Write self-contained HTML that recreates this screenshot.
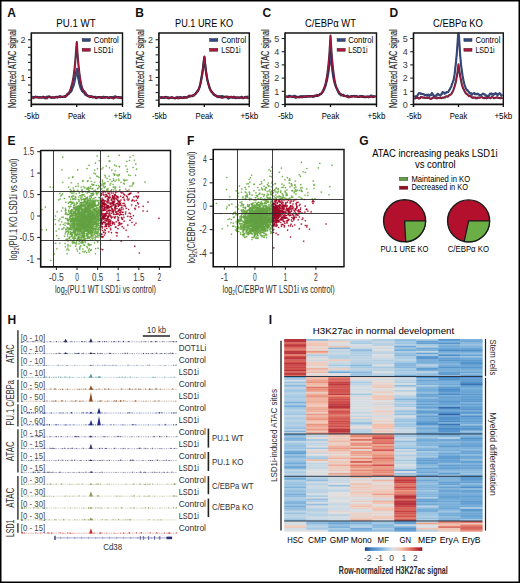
<!DOCTYPE html>
<html><head><meta charset="utf-8"><style>
html,body{margin:0;padding:0;background:#fff;}
svg{display:block;font-family:"Liberation Sans", sans-serif;}
text.h{stroke:#2b2b2b;stroke-width:0.18px;}
</style></head><body>
<svg width="520" height="583" viewBox="0 0 520 583" font-family='"Liberation Sans", sans-serif'>
<rect width="520" height="583" fill="#fff"/>
<text x="7.30" y="16.52" font-size="12" fill="#111" font-weight="bold">A</text>
<text x="76.00" y="27.40" font-size="10" text-anchor="middle" textLength="39.40" lengthAdjust="spacingAndGlyphs">PU.1 WT</text>
<polyline points="32.3,96.85 32.8,96.78 33.3,97.08 33.8,96.95 34.3,97.04 34.8,97.24 35.3,96.80 35.8,96.93 36.3,96.96 36.8,96.83 37.3,96.84 37.8,97.10 38.3,97.21 38.8,97.33 39.3,97.31 39.8,97.13 40.3,97.16 40.8,97.23 41.3,97.43 41.8,97.44 42.3,97.44 42.8,96.95 43.3,96.65 43.8,97.29 44.3,97.67 44.8,98.01 45.3,98.35 45.8,97.66 46.3,97.16 46.8,96.62 47.3,96.78 47.8,96.92 48.3,96.49 48.8,96.83 49.3,96.41 49.8,96.44 50.3,97.31 50.8,97.42 51.3,97.55 51.8,97.71 52.3,97.48 52.8,97.53 53.3,97.78 53.8,97.50 54.3,97.31 54.8,97.28 55.3,97.17 55.8,96.99 56.3,96.79 56.8,96.71 57.3,96.77 57.8,96.71 58.3,97.02 58.8,96.86 59.3,96.89 59.8,96.82 60.3,96.66 60.8,97.12 61.3,96.89 61.8,97.03 62.3,96.90 62.8,96.75 63.3,96.85 63.8,96.71 64.3,96.77 64.8,96.35 65.3,95.75 65.8,96.01 66.3,95.63 66.8,95.16 67.3,95.13 67.8,94.62 68.3,94.14 68.8,93.96 69.3,93.20 69.8,92.54 70.3,92.44 70.8,91.80 71.3,91.29 71.8,90.07 72.3,88.58 72.8,87.68 73.3,86.41 73.8,84.72 74.3,82.70 74.8,80.27 75.3,77.47 75.8,74.67 76.3,71.39 76.8,68.80 77.3,72.36 77.8,75.64 78.3,78.55 78.8,80.89 79.3,83.56 79.8,85.38 80.3,86.88 80.8,88.84 81.3,89.42 81.8,90.58 82.3,91.28 82.8,91.76 83.3,92.36 83.8,92.52 84.3,93.15 84.8,93.78 85.3,94.68 85.8,94.90 86.3,95.31 86.8,95.53 87.3,95.36 87.8,96.02 88.3,95.96 88.8,95.94 89.3,96.10 89.8,96.33 90.3,96.52 90.8,96.86 91.3,96.78 91.8,96.31 92.3,96.84 92.8,97.23 93.3,97.28 93.8,97.08 94.3,96.99 94.8,96.73 95.3,96.76 95.8,97.58 96.3,97.48 96.8,97.28 97.3,97.31 97.8,97.22 98.3,97.05 98.8,97.01 99.3,97.35 99.8,97.33 100.3,97.63 100.8,97.59 101.3,97.66 101.8,97.85 102.3,97.28 102.8,97.30 103.3,97.05 103.8,96.68 104.3,97.12 104.8,97.16 105.3,97.05 105.8,97.11 106.3,97.28 106.8,97.03 107.3,97.27 107.8,97.59 108.3,97.53 108.8,97.82 109.3,97.30 109.8,97.33 110.3,97.08 110.8,97.49 111.3,97.87 111.8,97.38 112.3,97.48 112.8,97.12 113.3,97.07 113.8,97.11 114.3,96.90 114.8,96.29 115.3,96.29 115.8,96.60 116.3,96.78 116.8,97.27 117.3,97.29 117.8,97.16 118.3,97.09 118.8,97.46 119.3,97.29 119.8,97.42 120.3,97.74 120.8,97.20 121.3,97.08 121.8,96.95" fill="none" stroke="#24305a" stroke-width="2.1" stroke-linejoin="round" opacity="0.9"/>
<polyline points="32.3,96.85 32.8,96.78 33.3,97.08 33.8,96.95 34.3,97.04 34.8,97.24 35.3,96.80 35.8,96.93 36.3,96.96 36.8,96.83 37.3,96.84 37.8,97.10 38.3,97.21 38.8,97.33 39.3,97.31 39.8,97.13 40.3,97.16 40.8,97.23 41.3,97.43 41.8,97.44 42.3,97.44 42.8,96.95 43.3,96.65 43.8,97.29 44.3,97.67 44.8,98.01 45.3,98.35 45.8,97.66 46.3,97.16 46.8,96.62 47.3,96.78 47.8,96.92 48.3,96.49 48.8,96.83 49.3,96.41 49.8,96.44 50.3,97.31 50.8,97.42 51.3,97.55 51.8,97.71 52.3,97.48 52.8,97.53 53.3,97.78 53.8,97.50 54.3,97.31 54.8,97.28 55.3,97.17 55.8,96.99 56.3,96.79 56.8,96.71 57.3,96.77 57.8,96.71 58.3,97.02 58.8,96.86 59.3,96.89 59.8,96.82 60.3,96.66 60.8,97.12 61.3,96.89 61.8,97.03 62.3,96.90 62.8,96.75 63.3,96.85 63.8,96.71 64.3,96.77 64.8,96.35 65.3,95.75 65.8,96.01 66.3,95.63 66.8,95.16 67.3,95.13 67.8,94.62 68.3,94.14 68.8,93.96 69.3,93.20 69.8,92.54 70.3,92.44 70.8,91.80 71.3,91.29 71.8,90.07 72.3,88.58 72.8,87.68 73.3,86.41 73.8,84.72 74.3,82.70 74.8,80.27 75.3,77.47 75.8,74.67 76.3,71.39 76.8,68.80 77.3,72.36 77.8,75.64 78.3,78.55 78.8,80.89 79.3,83.56 79.8,85.38 80.3,86.88 80.8,88.84 81.3,89.42 81.8,90.58 82.3,91.28 82.8,91.76 83.3,92.36 83.8,92.52 84.3,93.15 84.8,93.78 85.3,94.68 85.8,94.90 86.3,95.31 86.8,95.53 87.3,95.36 87.8,96.02 88.3,95.96 88.8,95.94 89.3,96.10 89.8,96.33 90.3,96.52 90.8,96.86 91.3,96.78 91.8,96.31 92.3,96.84 92.8,97.23 93.3,97.28 93.8,97.08 94.3,96.99 94.8,96.73 95.3,96.76 95.8,97.58 96.3,97.48 96.8,97.28 97.3,97.31 97.8,97.22 98.3,97.05 98.8,97.01 99.3,97.35 99.8,97.33 100.3,97.63 100.8,97.59 101.3,97.66 101.8,97.85 102.3,97.28 102.8,97.30 103.3,97.05 103.8,96.68 104.3,97.12 104.8,97.16 105.3,97.05 105.8,97.11 106.3,97.28 106.8,97.03 107.3,97.27 107.8,97.59 108.3,97.53 108.8,97.82 109.3,97.30 109.8,97.33 110.3,97.08 110.8,97.49 111.3,97.87 111.8,97.38 112.3,97.48 112.8,97.12 113.3,97.07 113.8,97.11 114.3,96.90 114.8,96.29 115.3,96.29 115.8,96.60 116.3,96.78 116.8,97.27 117.3,97.29 117.8,97.16 118.3,97.09 118.8,97.46 119.3,97.29 119.8,97.42 120.3,97.74 120.8,97.20 121.3,97.08 121.8,96.95" fill="none" stroke="#34497e" stroke-width="1.1" stroke-linejoin="round"/>
<polyline points="32.3,97.59 32.8,97.68 33.3,98.26 33.8,97.88 34.3,97.49 34.8,97.47 35.3,96.71 35.8,97.07 36.3,97.47 36.8,97.16 37.3,97.41 37.8,97.56 38.3,97.61 38.8,97.74 39.3,97.69 39.8,97.48 40.3,97.44 40.8,97.51 41.3,97.70 41.8,97.63 42.3,97.44 42.8,97.40 43.3,97.09 43.8,97.52 44.3,97.38 44.8,96.98 45.3,97.46 45.8,97.63 46.3,98.17 46.8,98.45 47.3,98.04 47.8,97.37 48.3,96.85 48.8,96.99 49.3,96.96 49.8,97.25 50.3,97.21 50.8,97.52 51.3,97.69 51.8,97.59 52.3,97.36 52.8,97.27 53.3,97.42 53.8,97.61 54.3,97.80 54.8,97.66 55.3,97.08 55.8,97.38 56.3,97.33 56.8,97.01 57.3,97.64 57.8,97.14 58.3,97.09 58.8,97.29 59.3,96.68 59.8,96.12 60.3,96.29 60.8,96.32 61.3,96.67 61.8,97.00 62.3,97.02 62.8,96.89 63.3,96.61 63.8,96.46 64.3,96.50 64.8,96.62 65.3,96.93 65.8,96.53 66.3,95.95 66.8,94.86 67.3,93.85 67.8,93.80 68.3,93.11 68.8,92.79 69.3,92.28 69.8,91.36 70.3,89.95 70.8,88.55 71.3,86.64 71.8,84.73 72.3,83.24 72.8,80.69 73.3,77.98 73.8,74.79 74.3,70.78 74.8,66.69 75.3,61.33 75.8,54.70 76.3,47.64 76.8,42.17 77.3,50.32 77.8,57.34 78.3,63.14 78.8,68.50 79.3,72.58 79.8,76.36 80.3,79.43 80.8,82.20 81.3,84.68 81.8,86.89 82.3,88.45 82.8,89.62 83.3,90.43 83.8,90.95 84.3,91.20 84.8,91.98 85.3,92.95 85.8,93.22 86.3,94.53 86.8,94.78 87.3,95.25 87.8,95.90 88.3,96.38 88.8,96.61 89.3,96.61 89.8,97.08 90.3,96.36 90.8,96.51 91.3,96.56 91.8,96.59 92.3,97.07 92.8,97.35 93.3,97.24 93.8,96.93 94.3,97.11 94.8,97.24 95.3,97.56 95.8,98.09 96.3,98.10 96.8,98.01 97.3,97.73 97.8,97.12 98.3,97.18 98.8,97.04 99.3,97.31 99.8,97.14 100.3,96.97 100.8,96.99 101.3,97.11 101.8,97.79 102.3,97.73 102.8,97.95 103.3,97.64 103.8,97.82 104.3,97.72 104.8,97.84 105.3,97.52 105.8,97.22 106.3,97.12 106.8,97.23 107.3,97.54 107.8,97.68 108.3,98.06 108.8,97.72 109.3,97.90 109.8,97.63 110.3,97.34 110.8,97.19 111.3,97.13 111.8,97.52 112.3,97.88 112.8,98.09 113.3,98.57 113.8,98.07 114.3,97.93 114.8,97.95 115.3,97.22 115.8,97.24 116.3,97.13 116.8,97.31 117.3,97.46 117.8,97.54 118.3,97.80 118.8,97.32 119.3,97.27 119.8,97.81 120.3,97.58 120.8,98.12 121.3,97.97 121.8,97.51" fill="none" stroke="#3a1830" stroke-width="2.1" stroke-linejoin="round" opacity="0.9"/>
<polyline points="32.3,97.59 32.8,97.68 33.3,98.26 33.8,97.88 34.3,97.49 34.8,97.47 35.3,96.71 35.8,97.07 36.3,97.47 36.8,97.16 37.3,97.41 37.8,97.56 38.3,97.61 38.8,97.74 39.3,97.69 39.8,97.48 40.3,97.44 40.8,97.51 41.3,97.70 41.8,97.63 42.3,97.44 42.8,97.40 43.3,97.09 43.8,97.52 44.3,97.38 44.8,96.98 45.3,97.46 45.8,97.63 46.3,98.17 46.8,98.45 47.3,98.04 47.8,97.37 48.3,96.85 48.8,96.99 49.3,96.96 49.8,97.25 50.3,97.21 50.8,97.52 51.3,97.69 51.8,97.59 52.3,97.36 52.8,97.27 53.3,97.42 53.8,97.61 54.3,97.80 54.8,97.66 55.3,97.08 55.8,97.38 56.3,97.33 56.8,97.01 57.3,97.64 57.8,97.14 58.3,97.09 58.8,97.29 59.3,96.68 59.8,96.12 60.3,96.29 60.8,96.32 61.3,96.67 61.8,97.00 62.3,97.02 62.8,96.89 63.3,96.61 63.8,96.46 64.3,96.50 64.8,96.62 65.3,96.93 65.8,96.53 66.3,95.95 66.8,94.86 67.3,93.85 67.8,93.80 68.3,93.11 68.8,92.79 69.3,92.28 69.8,91.36 70.3,89.95 70.8,88.55 71.3,86.64 71.8,84.73 72.3,83.24 72.8,80.69 73.3,77.98 73.8,74.79 74.3,70.78 74.8,66.69 75.3,61.33 75.8,54.70 76.3,47.64 76.8,42.17 77.3,50.32 77.8,57.34 78.3,63.14 78.8,68.50 79.3,72.58 79.8,76.36 80.3,79.43 80.8,82.20 81.3,84.68 81.8,86.89 82.3,88.45 82.8,89.62 83.3,90.43 83.8,90.95 84.3,91.20 84.8,91.98 85.3,92.95 85.8,93.22 86.3,94.53 86.8,94.78 87.3,95.25 87.8,95.90 88.3,96.38 88.8,96.61 89.3,96.61 89.8,97.08 90.3,96.36 90.8,96.51 91.3,96.56 91.8,96.59 92.3,97.07 92.8,97.35 93.3,97.24 93.8,96.93 94.3,97.11 94.8,97.24 95.3,97.56 95.8,98.09 96.3,98.10 96.8,98.01 97.3,97.73 97.8,97.12 98.3,97.18 98.8,97.04 99.3,97.31 99.8,97.14 100.3,96.97 100.8,96.99 101.3,97.11 101.8,97.79 102.3,97.73 102.8,97.95 103.3,97.64 103.8,97.82 104.3,97.72 104.8,97.84 105.3,97.52 105.8,97.22 106.3,97.12 106.8,97.23 107.3,97.54 107.8,97.68 108.3,98.06 108.8,97.72 109.3,97.90 109.8,97.63 110.3,97.34 110.8,97.19 111.3,97.13 111.8,97.52 112.3,97.88 112.8,98.09 113.3,98.57 113.8,98.07 114.3,97.93 114.8,97.95 115.3,97.22 115.8,97.24 116.3,97.13 116.8,97.31 117.3,97.46 117.8,97.54 118.3,97.80 118.8,97.32 119.3,97.27 119.8,97.81 120.3,97.58 120.8,98.12 121.3,97.97 121.8,97.51" fill="none" stroke="#a8163c" stroke-width="1.1" stroke-linejoin="round"/>
<path d="M31.30 33.00 H122.50 V104.40" fill="none" stroke="#151515" stroke-width="1.45"/>
<path d="M31.30 32.50 V107.00 M30.70 104.40 H123.10" fill="none" stroke="#111" stroke-width="1.6"/>
<line x1="76.70" y1="104.40" x2="76.70" y2="107.00" stroke="#111" stroke-width="1.3"/>
<line x1="122.50" y1="104.40" x2="122.50" y2="107.00" stroke="#111" stroke-width="1.3"/>
<line x1="28.00" y1="100.15" x2="31.30" y2="100.15" stroke="#222" stroke-width="1.1"/>
<line x1="28.00" y1="92.60" x2="31.30" y2="92.60" stroke="#222" stroke-width="1.1"/>
<line x1="28.00" y1="85.05" x2="31.30" y2="85.05" stroke="#222" stroke-width="1.1"/>
<line x1="28.00" y1="77.50" x2="31.30" y2="77.50" stroke="#222" stroke-width="1.1"/>
<line x1="28.00" y1="69.95" x2="31.30" y2="69.95" stroke="#222" stroke-width="1.1"/>
<line x1="28.00" y1="62.40" x2="31.30" y2="62.40" stroke="#222" stroke-width="1.1"/>
<line x1="28.00" y1="54.85" x2="31.30" y2="54.85" stroke="#222" stroke-width="1.1"/>
<line x1="28.00" y1="47.30" x2="31.30" y2="47.30" stroke="#222" stroke-width="1.1"/>
<line x1="28.00" y1="39.75" x2="31.30" y2="39.75" stroke="#222" stroke-width="1.1"/>
<text x="23.00" y="42.99" font-size="9" text-anchor="middle" fill="#3a3a3a" style="stroke:none">2</text>
<text x="23.00" y="80.74" font-size="9" text-anchor="middle" fill="#3a3a3a" style="stroke:none">1</text>
<text x="31.80" y="118.51" font-size="9.2" text-anchor="middle" textLength="15.00" lengthAdjust="spacingAndGlyphs">-5kb</text>
<text x="76.70" y="118.51" font-size="9.2" text-anchor="middle" textLength="17.50" lengthAdjust="spacingAndGlyphs">Peak</text>
<text x="122.50" y="118.51" font-size="9.2" text-anchor="middle" textLength="17.80" lengthAdjust="spacingAndGlyphs">+5kb</text>
<rect x="82.20" y="38.6" width="8.1" height="2.8" fill="#34497e" stroke="#1a2040" stroke-width="0.5"/>
<rect x="82.20" y="48.4" width="8.1" height="2.8" fill="#b0173a" stroke="#3a1020" stroke-width="0.5"/>
<text x="93.80" y="43.06" font-size="8.5" textLength="25.00" lengthAdjust="spacingAndGlyphs">Control</text>
<text x="93.80" y="52.86" font-size="8.5" textLength="19.30" lengthAdjust="spacingAndGlyphs">LSD1i</text>
<text class="h" x="0" y="3.78" font-size="10.5" text-anchor="middle" fill="#2b2b2b" textLength="78.60" lengthAdjust="spacingAndGlyphs" transform="translate(12.50 68.70) rotate(-90)">Normalized ATAC signal</text>
<text x="135.20" y="16.52" font-size="12" fill="#111" font-weight="bold">B</text>
<text x="204.10" y="27.40" font-size="10" text-anchor="middle" textLength="58.20" lengthAdjust="spacingAndGlyphs">PU.1 URE KO</text>
<polyline points="159.9,97.70 160.4,97.31 160.9,97.15 161.4,97.39 161.9,97.35 162.4,97.89 162.9,98.01 163.4,98.00 163.9,97.94 164.4,97.74 164.9,97.40 165.4,96.95 165.9,96.88 166.4,97.29 166.9,97.13 167.4,97.66 167.9,97.52 168.4,97.24 168.9,97.98 169.4,97.69 169.9,98.10 170.4,97.94 170.9,97.75 171.4,97.25 171.9,97.52 172.4,97.61 172.9,97.79 173.4,97.96 173.9,98.03 174.4,98.11 174.9,97.84 175.4,98.38 175.9,97.64 176.4,97.52 176.9,97.32 177.4,96.74 177.9,97.21 178.4,97.43 178.9,97.71 179.4,97.76 179.9,97.32 180.4,97.29 180.9,97.38 181.4,97.73 181.9,98.06 182.4,97.94 182.9,97.81 183.4,97.12 183.9,97.08 184.4,97.07 184.9,96.91 185.4,97.59 185.9,97.52 186.4,97.42 186.9,97.30 187.4,97.33 187.9,96.86 188.4,96.88 188.9,96.95 189.4,96.35 189.9,96.42 190.4,95.97 190.9,95.84 191.4,95.89 191.9,95.80 192.4,96.08 192.9,95.60 193.4,95.52 193.9,95.58 194.4,94.51 194.9,94.43 195.4,94.06 195.9,92.80 196.4,92.75 196.9,91.76 197.4,90.87 197.9,90.44 198.4,89.70 198.9,89.18 199.4,87.81 199.9,86.15 200.4,83.71 200.9,80.55 201.4,78.12 201.9,75.04 202.4,72.14 202.9,69.03 203.4,64.87 203.9,60.55 204.4,57.30 204.9,62.88 205.4,67.17 205.9,71.03 206.4,74.07 206.9,76.81 207.4,79.43 207.9,81.32 208.4,83.50 208.9,85.31 209.4,86.89 209.9,88.52 210.4,89.55 210.9,90.36 211.4,91.13 211.9,91.67 212.4,92.72 212.9,93.36 213.4,94.28 213.9,94.59 214.4,94.82 214.9,95.23 215.4,95.05 215.9,95.62 216.4,95.92 216.9,95.87 217.4,96.15 217.9,96.51 218.4,96.47 218.9,97.26 219.4,96.99 219.9,96.90 220.4,97.07 220.9,96.19 221.4,96.13 221.9,96.11 222.4,96.02 222.9,96.33 223.4,96.47 223.9,96.55 224.4,96.69 224.9,96.68 225.4,97.03 225.9,96.84 226.4,96.74 226.9,97.31 227.4,97.59 227.9,98.40 228.4,98.61 228.9,98.03 229.4,98.10 229.9,97.19 230.4,96.90 230.9,97.23 231.4,96.97 231.9,97.25 232.4,97.69 232.9,97.74 233.4,97.76 233.9,97.63 234.4,97.24 234.9,97.35 235.4,97.15 235.9,97.48 236.4,97.71 236.9,97.44 237.4,97.64 237.9,97.49 238.4,97.39 238.9,97.61 239.4,97.76 239.9,97.77 240.4,97.61 240.9,97.51 241.4,96.90 241.9,96.80 242.4,97.73 242.9,97.81 243.4,97.87 243.9,97.92 244.4,97.32 244.9,97.42 245.4,97.50 245.9,97.27 246.4,97.01 246.9,96.70 247.4,96.67 247.9,96.71 248.4,96.87" fill="none" stroke="#24305a" stroke-width="2.1" stroke-linejoin="round" opacity="0.9"/>
<polyline points="159.9,97.70 160.4,97.31 160.9,97.15 161.4,97.39 161.9,97.35 162.4,97.89 162.9,98.01 163.4,98.00 163.9,97.94 164.4,97.74 164.9,97.40 165.4,96.95 165.9,96.88 166.4,97.29 166.9,97.13 167.4,97.66 167.9,97.52 168.4,97.24 168.9,97.98 169.4,97.69 169.9,98.10 170.4,97.94 170.9,97.75 171.4,97.25 171.9,97.52 172.4,97.61 172.9,97.79 173.4,97.96 173.9,98.03 174.4,98.11 174.9,97.84 175.4,98.38 175.9,97.64 176.4,97.52 176.9,97.32 177.4,96.74 177.9,97.21 178.4,97.43 178.9,97.71 179.4,97.76 179.9,97.32 180.4,97.29 180.9,97.38 181.4,97.73 181.9,98.06 182.4,97.94 182.9,97.81 183.4,97.12 183.9,97.08 184.4,97.07 184.9,96.91 185.4,97.59 185.9,97.52 186.4,97.42 186.9,97.30 187.4,97.33 187.9,96.86 188.4,96.88 188.9,96.95 189.4,96.35 189.9,96.42 190.4,95.97 190.9,95.84 191.4,95.89 191.9,95.80 192.4,96.08 192.9,95.60 193.4,95.52 193.9,95.58 194.4,94.51 194.9,94.43 195.4,94.06 195.9,92.80 196.4,92.75 196.9,91.76 197.4,90.87 197.9,90.44 198.4,89.70 198.9,89.18 199.4,87.81 199.9,86.15 200.4,83.71 200.9,80.55 201.4,78.12 201.9,75.04 202.4,72.14 202.9,69.03 203.4,64.87 203.9,60.55 204.4,57.30 204.9,62.88 205.4,67.17 205.9,71.03 206.4,74.07 206.9,76.81 207.4,79.43 207.9,81.32 208.4,83.50 208.9,85.31 209.4,86.89 209.9,88.52 210.4,89.55 210.9,90.36 211.4,91.13 211.9,91.67 212.4,92.72 212.9,93.36 213.4,94.28 213.9,94.59 214.4,94.82 214.9,95.23 215.4,95.05 215.9,95.62 216.4,95.92 216.9,95.87 217.4,96.15 217.9,96.51 218.4,96.47 218.9,97.26 219.4,96.99 219.9,96.90 220.4,97.07 220.9,96.19 221.4,96.13 221.9,96.11 222.4,96.02 222.9,96.33 223.4,96.47 223.9,96.55 224.4,96.69 224.9,96.68 225.4,97.03 225.9,96.84 226.4,96.74 226.9,97.31 227.4,97.59 227.9,98.40 228.4,98.61 228.9,98.03 229.4,98.10 229.9,97.19 230.4,96.90 230.9,97.23 231.4,96.97 231.9,97.25 232.4,97.69 232.9,97.74 233.4,97.76 233.9,97.63 234.4,97.24 234.9,97.35 235.4,97.15 235.9,97.48 236.4,97.71 236.9,97.44 237.4,97.64 237.9,97.49 238.4,97.39 238.9,97.61 239.4,97.76 239.9,97.77 240.4,97.61 240.9,97.51 241.4,96.90 241.9,96.80 242.4,97.73 242.9,97.81 243.4,97.87 243.9,97.92 244.4,97.32 244.9,97.42 245.4,97.50 245.9,97.27 246.4,97.01 246.9,96.70 247.4,96.67 247.9,96.71 248.4,96.87" fill="none" stroke="#34497e" stroke-width="1.1" stroke-linejoin="round"/>
<polyline points="159.9,98.01 160.4,98.07 160.9,97.97 161.4,97.51 161.9,97.17 162.4,97.24 162.9,97.53 163.4,97.62 163.9,97.26 164.4,97.07 164.9,97.17 165.4,97.57 165.9,97.58 166.4,97.60 166.9,97.72 167.4,97.51 167.9,98.16 168.4,98.36 168.9,98.06 169.4,98.21 169.9,97.81 170.4,97.67 170.9,97.70 171.4,97.43 171.9,97.36 172.4,97.74 172.9,97.66 173.4,97.98 173.9,98.22 174.4,98.13 174.9,98.07 175.4,97.84 175.9,97.87 176.4,97.81 176.9,97.91 177.4,98.15 177.9,98.40 178.4,98.09 178.9,98.26 179.4,97.72 179.9,97.22 180.4,97.74 180.9,97.41 181.4,97.93 181.9,98.08 182.4,97.59 182.9,98.11 183.4,97.89 183.9,97.94 184.4,97.70 184.9,97.48 185.4,97.22 185.9,97.39 186.4,97.66 186.9,97.53 187.4,97.31 187.9,96.86 188.4,96.15 188.9,95.72 189.4,95.77 189.9,95.61 190.4,96.21 190.9,96.25 191.4,95.98 191.9,96.09 192.4,95.70 192.9,95.46 193.4,95.37 193.9,95.06 194.4,94.79 194.9,94.32 195.4,93.98 195.9,93.57 196.4,92.71 196.9,92.37 197.4,91.87 197.9,91.04 198.4,89.96 198.9,88.52 199.4,87.06 199.9,85.41 200.4,83.68 200.9,81.71 201.4,79.33 201.9,76.11 202.4,73.25 202.9,69.36 203.4,64.79 203.9,60.14 204.4,56.58 204.9,61.52 205.4,66.28 205.9,70.51 206.4,74.45 206.9,77.87 207.4,80.50 207.9,82.46 208.4,84.15 208.9,85.97 209.4,87.58 209.9,89.10 210.4,90.11 210.9,91.09 211.4,91.78 211.9,91.97 212.4,92.56 212.9,93.42 213.4,93.53 213.9,94.34 214.4,95.05 214.9,94.80 215.4,95.49 215.9,95.97 216.4,96.12 216.9,96.76 217.4,96.91 217.9,96.66 218.4,96.71 218.9,96.49 219.4,96.15 219.9,96.77 220.4,96.71 220.9,96.94 221.4,97.69 221.9,97.69 222.4,97.80 222.9,97.66 223.4,97.57 223.9,97.34 224.4,97.19 224.9,97.24 225.4,96.93 225.9,96.85 226.4,96.92 226.9,96.57 227.4,96.64 227.9,96.72 228.4,96.68 228.9,97.33 229.4,97.57 229.9,97.41 230.4,97.44 230.9,96.86 231.4,96.78 231.9,97.32 232.4,97.01 232.9,97.12 233.4,97.37 233.9,96.70 234.4,97.16 234.9,97.84 235.4,97.69 235.9,98.14 236.4,97.77 236.9,97.53 237.4,97.49 237.9,97.44 238.4,97.91 238.9,97.93 239.4,97.82 239.9,97.50 240.4,97.27 240.9,97.27 241.4,97.59 241.9,97.82 242.4,98.14 242.9,98.07 243.4,98.19 243.9,97.76 244.4,97.38 244.9,97.46 245.4,96.85 245.9,96.99 246.4,97.77 246.9,97.67 247.4,97.98 247.9,98.14 248.4,97.58" fill="none" stroke="#3a1830" stroke-width="2.1" stroke-linejoin="round" opacity="0.9"/>
<polyline points="159.9,98.01 160.4,98.07 160.9,97.97 161.4,97.51 161.9,97.17 162.4,97.24 162.9,97.53 163.4,97.62 163.9,97.26 164.4,97.07 164.9,97.17 165.4,97.57 165.9,97.58 166.4,97.60 166.9,97.72 167.4,97.51 167.9,98.16 168.4,98.36 168.9,98.06 169.4,98.21 169.9,97.81 170.4,97.67 170.9,97.70 171.4,97.43 171.9,97.36 172.4,97.74 172.9,97.66 173.4,97.98 173.9,98.22 174.4,98.13 174.9,98.07 175.4,97.84 175.9,97.87 176.4,97.81 176.9,97.91 177.4,98.15 177.9,98.40 178.4,98.09 178.9,98.26 179.4,97.72 179.9,97.22 180.4,97.74 180.9,97.41 181.4,97.93 181.9,98.08 182.4,97.59 182.9,98.11 183.4,97.89 183.9,97.94 184.4,97.70 184.9,97.48 185.4,97.22 185.9,97.39 186.4,97.66 186.9,97.53 187.4,97.31 187.9,96.86 188.4,96.15 188.9,95.72 189.4,95.77 189.9,95.61 190.4,96.21 190.9,96.25 191.4,95.98 191.9,96.09 192.4,95.70 192.9,95.46 193.4,95.37 193.9,95.06 194.4,94.79 194.9,94.32 195.4,93.98 195.9,93.57 196.4,92.71 196.9,92.37 197.4,91.87 197.9,91.04 198.4,89.96 198.9,88.52 199.4,87.06 199.9,85.41 200.4,83.68 200.9,81.71 201.4,79.33 201.9,76.11 202.4,73.25 202.9,69.36 203.4,64.79 203.9,60.14 204.4,56.58 204.9,61.52 205.4,66.28 205.9,70.51 206.4,74.45 206.9,77.87 207.4,80.50 207.9,82.46 208.4,84.15 208.9,85.97 209.4,87.58 209.9,89.10 210.4,90.11 210.9,91.09 211.4,91.78 211.9,91.97 212.4,92.56 212.9,93.42 213.4,93.53 213.9,94.34 214.4,95.05 214.9,94.80 215.4,95.49 215.9,95.97 216.4,96.12 216.9,96.76 217.4,96.91 217.9,96.66 218.4,96.71 218.9,96.49 219.4,96.15 219.9,96.77 220.4,96.71 220.9,96.94 221.4,97.69 221.9,97.69 222.4,97.80 222.9,97.66 223.4,97.57 223.9,97.34 224.4,97.19 224.9,97.24 225.4,96.93 225.9,96.85 226.4,96.92 226.9,96.57 227.4,96.64 227.9,96.72 228.4,96.68 228.9,97.33 229.4,97.57 229.9,97.41 230.4,97.44 230.9,96.86 231.4,96.78 231.9,97.32 232.4,97.01 232.9,97.12 233.4,97.37 233.9,96.70 234.4,97.16 234.9,97.84 235.4,97.69 235.9,98.14 236.4,97.77 236.9,97.53 237.4,97.49 237.9,97.44 238.4,97.91 238.9,97.93 239.4,97.82 239.9,97.50 240.4,97.27 240.9,97.27 241.4,97.59 241.9,97.82 242.4,98.14 242.9,98.07 243.4,98.19 243.9,97.76 244.4,97.38 244.9,97.46 245.4,96.85 245.9,96.99 246.4,97.77 246.9,97.67 247.4,97.98 247.9,98.14 248.4,97.58" fill="none" stroke="#a8163c" stroke-width="1.1" stroke-linejoin="round"/>
<path d="M158.90 33.00 H249.30 V104.40" fill="none" stroke="#151515" stroke-width="1.45"/>
<path d="M158.90 32.50 V107.00 M158.30 104.40 H249.90" fill="none" stroke="#111" stroke-width="1.6"/>
<line x1="204.30" y1="104.40" x2="204.30" y2="107.00" stroke="#111" stroke-width="1.3"/>
<line x1="249.30" y1="104.40" x2="249.30" y2="107.00" stroke="#111" stroke-width="1.3"/>
<line x1="155.60" y1="100.15" x2="158.90" y2="100.15" stroke="#222" stroke-width="1.1"/>
<line x1="155.60" y1="92.60" x2="158.90" y2="92.60" stroke="#222" stroke-width="1.1"/>
<line x1="155.60" y1="85.05" x2="158.90" y2="85.05" stroke="#222" stroke-width="1.1"/>
<line x1="155.60" y1="77.50" x2="158.90" y2="77.50" stroke="#222" stroke-width="1.1"/>
<line x1="155.60" y1="69.95" x2="158.90" y2="69.95" stroke="#222" stroke-width="1.1"/>
<line x1="155.60" y1="62.40" x2="158.90" y2="62.40" stroke="#222" stroke-width="1.1"/>
<line x1="155.60" y1="54.85" x2="158.90" y2="54.85" stroke="#222" stroke-width="1.1"/>
<line x1="155.60" y1="47.30" x2="158.90" y2="47.30" stroke="#222" stroke-width="1.1"/>
<line x1="155.60" y1="39.75" x2="158.90" y2="39.75" stroke="#222" stroke-width="1.1"/>
<text x="150.60" y="42.99" font-size="9" text-anchor="middle" fill="#3a3a3a" style="stroke:none">2</text>
<text x="150.60" y="80.74" font-size="9" text-anchor="middle" fill="#3a3a3a" style="stroke:none">1</text>
<text x="159.40" y="118.51" font-size="9.2" text-anchor="middle" textLength="15.00" lengthAdjust="spacingAndGlyphs">-5kb</text>
<text x="204.30" y="118.51" font-size="9.2" text-anchor="middle" textLength="17.50" lengthAdjust="spacingAndGlyphs">Peak</text>
<text x="249.30" y="118.51" font-size="9.2" text-anchor="middle" textLength="17.80" lengthAdjust="spacingAndGlyphs">+5kb</text>
<rect x="209.70" y="38.6" width="8.1" height="2.8" fill="#34497e" stroke="#1a2040" stroke-width="0.5"/>
<rect x="209.70" y="48.4" width="8.1" height="2.8" fill="#b0173a" stroke="#3a1020" stroke-width="0.5"/>
<text x="221.20" y="43.06" font-size="8.5" textLength="25.00" lengthAdjust="spacingAndGlyphs">Control</text>
<text x="221.20" y="52.86" font-size="8.5" textLength="19.30" lengthAdjust="spacingAndGlyphs">LSD1i</text>
<text class="h" x="0" y="3.78" font-size="10.5" text-anchor="middle" fill="#2b2b2b" textLength="78.60" lengthAdjust="spacingAndGlyphs" transform="translate(140.40 68.70) rotate(-90)">Normalized ATAC signal</text>
<text x="262.40" y="16.52" font-size="12" fill="#111" font-weight="bold">C</text>
<text x="330.50" y="27.40" font-size="10" text-anchor="middle" textLength="51.00" lengthAdjust="spacingAndGlyphs">C/EBPα WT</text>
<polyline points="286.0,96.02 286.5,96.53 287.0,96.55 287.5,96.56 288.0,96.64 288.5,96.01 289.0,95.69 289.5,95.83 290.0,95.99 290.5,96.08 291.0,96.59 291.5,96.81 292.0,96.85 292.5,97.00 293.0,96.53 293.5,96.11 294.0,95.83 294.5,95.72 295.0,95.70 295.5,96.13 296.0,96.65 296.5,96.63 297.0,96.85 297.5,96.98 298.0,97.16 298.5,97.11 299.0,97.33 299.5,96.78 300.0,96.35 300.5,96.36 301.0,96.15 301.5,96.21 302.0,96.32 302.5,96.16 303.0,96.30 303.5,96.52 304.0,96.62 304.5,96.71 305.0,96.60 305.5,96.72 306.0,96.18 306.5,96.36 307.0,96.39 307.5,96.13 308.0,96.17 308.5,96.11 309.0,95.94 309.5,95.98 310.0,96.59 310.5,96.39 311.0,96.30 311.5,96.34 312.0,96.02 312.5,96.43 313.0,96.89 313.5,96.87 314.0,96.69 314.5,96.42 315.0,95.98 315.5,95.62 316.0,95.63 316.5,95.31 317.0,94.94 317.5,95.23 318.0,94.93 318.5,95.21 319.0,95.18 319.5,94.63 320.0,94.58 320.5,94.07 321.0,93.76 321.5,93.42 322.0,92.76 322.5,92.11 323.0,91.29 323.5,90.61 324.0,89.76 324.5,88.59 325.0,87.22 325.5,85.90 326.0,84.30 326.5,82.13 327.0,80.38 327.5,77.87 328.0,74.91 328.5,71.96 329.0,67.95 329.5,63.60 330.0,58.71 330.5,52.87 331.0,58.48 331.5,63.43 332.0,67.46 332.5,71.50 333.0,75.24 333.5,78.03 334.0,80.74 334.5,82.76 335.0,84.23 335.5,85.57 336.0,86.94 336.5,88.15 337.0,88.95 337.5,90.42 338.0,91.63 338.5,92.38 339.0,93.60 339.5,94.20 340.0,94.48 340.5,94.93 341.0,95.52 341.5,95.15 342.0,95.00 342.5,94.84 343.0,94.66 343.5,94.97 344.0,95.60 344.5,95.94 345.0,96.09 345.5,96.14 346.0,96.07 346.5,95.98 347.0,95.75 347.5,95.65 348.0,95.95 348.5,96.56 349.0,96.68 349.5,97.07 350.0,96.70 350.5,96.31 351.0,96.37 351.5,96.10 352.0,96.08 352.5,96.06 353.0,96.29 353.5,96.14 354.0,96.23 354.5,96.12 355.0,95.88 355.5,95.98 356.0,95.98 356.5,96.16 357.0,96.20 357.5,96.60 358.0,96.74 358.5,96.82 359.0,96.87 359.5,96.93 360.0,96.35 360.5,96.51 361.0,96.55 361.5,95.88 362.0,96.47 362.5,96.13 363.0,95.94 363.5,96.46 364.0,96.62 364.5,97.08 365.0,97.21 365.5,97.09 366.0,97.23 366.5,96.89 367.0,97.02 367.5,96.93 368.0,96.47 368.5,96.65 369.0,96.61 369.5,96.78 370.0,96.54 370.5,95.78 371.0,95.63 371.5,95.61 372.0,95.74 372.5,96.33 373.0,96.26 373.5,96.20 374.0,96.32 374.5,96.47 375.0,96.56 375.5,96.65" fill="none" stroke="#24305a" stroke-width="2.1" stroke-linejoin="round" opacity="0.9"/>
<polyline points="286.0,96.02 286.5,96.53 287.0,96.55 287.5,96.56 288.0,96.64 288.5,96.01 289.0,95.69 289.5,95.83 290.0,95.99 290.5,96.08 291.0,96.59 291.5,96.81 292.0,96.85 292.5,97.00 293.0,96.53 293.5,96.11 294.0,95.83 294.5,95.72 295.0,95.70 295.5,96.13 296.0,96.65 296.5,96.63 297.0,96.85 297.5,96.98 298.0,97.16 298.5,97.11 299.0,97.33 299.5,96.78 300.0,96.35 300.5,96.36 301.0,96.15 301.5,96.21 302.0,96.32 302.5,96.16 303.0,96.30 303.5,96.52 304.0,96.62 304.5,96.71 305.0,96.60 305.5,96.72 306.0,96.18 306.5,96.36 307.0,96.39 307.5,96.13 308.0,96.17 308.5,96.11 309.0,95.94 309.5,95.98 310.0,96.59 310.5,96.39 311.0,96.30 311.5,96.34 312.0,96.02 312.5,96.43 313.0,96.89 313.5,96.87 314.0,96.69 314.5,96.42 315.0,95.98 315.5,95.62 316.0,95.63 316.5,95.31 317.0,94.94 317.5,95.23 318.0,94.93 318.5,95.21 319.0,95.18 319.5,94.63 320.0,94.58 320.5,94.07 321.0,93.76 321.5,93.42 322.0,92.76 322.5,92.11 323.0,91.29 323.5,90.61 324.0,89.76 324.5,88.59 325.0,87.22 325.5,85.90 326.0,84.30 326.5,82.13 327.0,80.38 327.5,77.87 328.0,74.91 328.5,71.96 329.0,67.95 329.5,63.60 330.0,58.71 330.5,52.87 331.0,58.48 331.5,63.43 332.0,67.46 332.5,71.50 333.0,75.24 333.5,78.03 334.0,80.74 334.5,82.76 335.0,84.23 335.5,85.57 336.0,86.94 336.5,88.15 337.0,88.95 337.5,90.42 338.0,91.63 338.5,92.38 339.0,93.60 339.5,94.20 340.0,94.48 340.5,94.93 341.0,95.52 341.5,95.15 342.0,95.00 342.5,94.84 343.0,94.66 343.5,94.97 344.0,95.60 344.5,95.94 345.0,96.09 345.5,96.14 346.0,96.07 346.5,95.98 347.0,95.75 347.5,95.65 348.0,95.95 348.5,96.56 349.0,96.68 349.5,97.07 350.0,96.70 350.5,96.31 351.0,96.37 351.5,96.10 352.0,96.08 352.5,96.06 353.0,96.29 353.5,96.14 354.0,96.23 354.5,96.12 355.0,95.88 355.5,95.98 356.0,95.98 356.5,96.16 357.0,96.20 357.5,96.60 358.0,96.74 358.5,96.82 359.0,96.87 359.5,96.93 360.0,96.35 360.5,96.51 361.0,96.55 361.5,95.88 362.0,96.47 362.5,96.13 363.0,95.94 363.5,96.46 364.0,96.62 364.5,97.08 365.0,97.21 365.5,97.09 366.0,97.23 366.5,96.89 367.0,97.02 367.5,96.93 368.0,96.47 368.5,96.65 369.0,96.61 369.5,96.78 370.0,96.54 370.5,95.78 371.0,95.63 371.5,95.61 372.0,95.74 372.5,96.33 373.0,96.26 373.5,96.20 374.0,96.32 374.5,96.47 375.0,96.56 375.5,96.65" fill="none" stroke="#34497e" stroke-width="1.1" stroke-linejoin="round"/>
<polyline points="286.0,96.52 286.5,96.57 287.0,96.75 287.5,96.84 288.0,97.10 288.5,97.03 289.0,96.59 289.5,96.60 290.0,96.52 290.5,96.44 291.0,96.63 291.5,96.51 292.0,96.58 292.5,96.68 293.0,96.61 293.5,96.90 294.0,96.80 294.5,97.17 295.0,97.57 295.5,97.67 296.0,97.62 296.5,97.50 297.0,97.19 297.5,96.79 298.0,96.78 298.5,97.03 299.0,97.19 299.5,97.23 300.0,97.17 300.5,96.97 301.0,96.96 301.5,97.14 302.0,97.32 302.5,96.81 303.0,96.87 303.5,96.68 304.0,96.35 304.5,96.67 305.0,96.53 305.5,96.50 306.0,96.65 306.5,96.78 307.0,96.73 307.5,96.48 308.0,96.79 308.5,96.37 309.0,96.35 309.5,96.73 310.0,96.02 310.5,96.02 311.0,96.26 311.5,96.10 312.0,96.35 312.5,96.51 313.0,96.10 313.5,96.08 314.0,96.01 314.5,95.63 315.0,95.83 315.5,95.70 316.0,95.83 316.5,95.98 317.0,95.95 317.5,95.95 318.0,95.72 318.5,95.36 319.0,94.66 319.5,94.52 320.0,94.31 320.5,93.98 321.0,94.15 321.5,93.45 322.0,92.69 322.5,91.85 323.0,90.48 323.5,89.47 324.0,88.37 324.5,87.32 325.0,85.58 325.5,83.76 326.0,81.59 326.5,78.96 327.0,76.34 327.5,72.85 328.0,68.99 328.5,64.36 329.0,58.93 329.5,52.24 330.0,44.37 330.5,35.59 331.0,44.16 331.5,51.97 332.0,58.31 332.5,63.81 333.0,68.52 333.5,72.73 334.0,76.31 334.5,79.59 335.0,82.62 335.5,84.58 336.0,86.67 336.5,87.88 337.0,88.38 337.5,89.63 338.0,90.56 338.5,91.40 339.0,92.47 339.5,92.95 340.0,93.40 340.5,93.75 341.0,94.13 341.5,94.63 342.0,94.89 342.5,95.26 343.0,95.78 343.5,95.70 344.0,96.01 344.5,95.95 345.0,95.81 345.5,95.94 346.0,95.97 346.5,96.26 347.0,96.75 347.5,97.04 348.0,96.90 348.5,97.33 349.0,96.80 349.5,96.95 350.0,96.89 350.5,96.66 351.0,96.69 351.5,96.33 352.0,96.80 352.5,96.39 353.0,96.27 353.5,96.32 354.0,96.08 354.5,96.36 355.0,96.84 355.5,96.62 356.0,96.67 356.5,96.66 357.0,96.62 357.5,96.97 358.0,97.11 358.5,96.86 359.0,96.73 359.5,96.42 360.0,96.16 360.5,96.55 361.0,96.58 361.5,96.89 362.0,96.89 362.5,96.83 363.0,96.82 363.5,96.98 364.0,97.14 364.5,96.74 365.0,96.82 365.5,96.75 366.0,96.53 366.5,96.58 367.0,96.73 367.5,96.56 368.0,96.76 368.5,97.38 369.0,96.95 369.5,96.91 370.0,96.77 370.5,96.57 371.0,96.63 371.5,96.73 372.0,96.77 372.5,96.84 373.0,97.18 373.5,96.80 374.0,96.88 374.5,96.60 375.0,96.36 375.5,96.63" fill="none" stroke="#3a1830" stroke-width="2.1" stroke-linejoin="round" opacity="0.9"/>
<polyline points="286.0,96.52 286.5,96.57 287.0,96.75 287.5,96.84 288.0,97.10 288.5,97.03 289.0,96.59 289.5,96.60 290.0,96.52 290.5,96.44 291.0,96.63 291.5,96.51 292.0,96.58 292.5,96.68 293.0,96.61 293.5,96.90 294.0,96.80 294.5,97.17 295.0,97.57 295.5,97.67 296.0,97.62 296.5,97.50 297.0,97.19 297.5,96.79 298.0,96.78 298.5,97.03 299.0,97.19 299.5,97.23 300.0,97.17 300.5,96.97 301.0,96.96 301.5,97.14 302.0,97.32 302.5,96.81 303.0,96.87 303.5,96.68 304.0,96.35 304.5,96.67 305.0,96.53 305.5,96.50 306.0,96.65 306.5,96.78 307.0,96.73 307.5,96.48 308.0,96.79 308.5,96.37 309.0,96.35 309.5,96.73 310.0,96.02 310.5,96.02 311.0,96.26 311.5,96.10 312.0,96.35 312.5,96.51 313.0,96.10 313.5,96.08 314.0,96.01 314.5,95.63 315.0,95.83 315.5,95.70 316.0,95.83 316.5,95.98 317.0,95.95 317.5,95.95 318.0,95.72 318.5,95.36 319.0,94.66 319.5,94.52 320.0,94.31 320.5,93.98 321.0,94.15 321.5,93.45 322.0,92.69 322.5,91.85 323.0,90.48 323.5,89.47 324.0,88.37 324.5,87.32 325.0,85.58 325.5,83.76 326.0,81.59 326.5,78.96 327.0,76.34 327.5,72.85 328.0,68.99 328.5,64.36 329.0,58.93 329.5,52.24 330.0,44.37 330.5,35.59 331.0,44.16 331.5,51.97 332.0,58.31 332.5,63.81 333.0,68.52 333.5,72.73 334.0,76.31 334.5,79.59 335.0,82.62 335.5,84.58 336.0,86.67 336.5,87.88 337.0,88.38 337.5,89.63 338.0,90.56 338.5,91.40 339.0,92.47 339.5,92.95 340.0,93.40 340.5,93.75 341.0,94.13 341.5,94.63 342.0,94.89 342.5,95.26 343.0,95.78 343.5,95.70 344.0,96.01 344.5,95.95 345.0,95.81 345.5,95.94 346.0,95.97 346.5,96.26 347.0,96.75 347.5,97.04 348.0,96.90 348.5,97.33 349.0,96.80 349.5,96.95 350.0,96.89 350.5,96.66 351.0,96.69 351.5,96.33 352.0,96.80 352.5,96.39 353.0,96.27 353.5,96.32 354.0,96.08 354.5,96.36 355.0,96.84 355.5,96.62 356.0,96.67 356.5,96.66 357.0,96.62 357.5,96.97 358.0,97.11 358.5,96.86 359.0,96.73 359.5,96.42 360.0,96.16 360.5,96.55 361.0,96.58 361.5,96.89 362.0,96.89 362.5,96.83 363.0,96.82 363.5,96.98 364.0,97.14 364.5,96.74 365.0,96.82 365.5,96.75 366.0,96.53 366.5,96.58 367.0,96.73 367.5,96.56 368.0,96.76 368.5,97.38 369.0,96.95 369.5,96.91 370.0,96.77 370.5,96.57 371.0,96.63 371.5,96.73 372.0,96.77 372.5,96.84 373.0,97.18 373.5,96.80 374.0,96.88 374.5,96.60 375.0,96.36 375.5,96.63" fill="none" stroke="#a8163c" stroke-width="1.1" stroke-linejoin="round"/>
<path d="M285.00 33.00 H376.50 V104.40" fill="none" stroke="#151515" stroke-width="1.45"/>
<path d="M285.00 32.50 V107.00 M284.40 104.40 H377.10" fill="none" stroke="#111" stroke-width="1.6"/>
<line x1="330.50" y1="104.40" x2="330.50" y2="107.00" stroke="#111" stroke-width="1.3"/>
<line x1="376.50" y1="104.40" x2="376.50" y2="107.00" stroke="#111" stroke-width="1.3"/>
<line x1="281.70" y1="104.50" x2="285.00" y2="104.50" stroke="#222" stroke-width="1.1"/>
<line x1="281.70" y1="91.30" x2="285.00" y2="91.30" stroke="#222" stroke-width="1.1"/>
<line x1="281.70" y1="78.10" x2="285.00" y2="78.10" stroke="#222" stroke-width="1.1"/>
<line x1="281.70" y1="64.90" x2="285.00" y2="64.90" stroke="#222" stroke-width="1.1"/>
<line x1="281.70" y1="51.70" x2="285.00" y2="51.70" stroke="#222" stroke-width="1.1"/>
<line x1="281.70" y1="38.50" x2="285.00" y2="38.50" stroke="#222" stroke-width="1.1"/>
<text x="276.70" y="41.74" font-size="9" text-anchor="middle" fill="#3a3a3a" style="stroke:none">5</text>
<text x="276.70" y="54.94" font-size="9" text-anchor="middle" fill="#3a3a3a" style="stroke:none">4</text>
<text x="276.70" y="68.14" font-size="9" text-anchor="middle" fill="#3a3a3a" style="stroke:none">3</text>
<text x="276.70" y="81.34" font-size="9" text-anchor="middle" fill="#3a3a3a" style="stroke:none">2</text>
<text x="276.70" y="94.54" font-size="9" text-anchor="middle" fill="#3a3a3a" style="stroke:none">1</text>
<text x="276.70" y="107.74" font-size="9" text-anchor="middle" fill="#3a3a3a" style="stroke:none">0</text>
<text x="285.50" y="118.51" font-size="9.2" text-anchor="middle" textLength="15.00" lengthAdjust="spacingAndGlyphs">-5kb</text>
<text x="330.50" y="118.51" font-size="9.2" text-anchor="middle" textLength="17.50" lengthAdjust="spacingAndGlyphs">Peak</text>
<text x="376.50" y="118.51" font-size="9.2" text-anchor="middle" textLength="17.80" lengthAdjust="spacingAndGlyphs">+5kb</text>
<rect x="337.10" y="38.6" width="8.1" height="2.8" fill="#34497e" stroke="#1a2040" stroke-width="0.5"/>
<rect x="337.10" y="48.4" width="8.1" height="2.8" fill="#b0173a" stroke="#3a1020" stroke-width="0.5"/>
<text x="348.20" y="43.06" font-size="8.5" textLength="25.00" lengthAdjust="spacingAndGlyphs">Control</text>
<text x="348.20" y="52.86" font-size="8.5" textLength="19.30" lengthAdjust="spacingAndGlyphs">LSD1i</text>
<text class="h" x="0" y="3.78" font-size="10.5" text-anchor="middle" fill="#2b2b2b" textLength="78.60" lengthAdjust="spacingAndGlyphs" transform="translate(265.70 68.70) rotate(-90)">Normalized ATAC signal</text>
<text x="389.60" y="16.52" font-size="12" fill="#111" font-weight="bold">D</text>
<text x="457.95" y="27.40" font-size="10" text-anchor="middle" textLength="49.90" lengthAdjust="spacingAndGlyphs">C/EBPα KO</text>
<polyline points="414.5,95.82 415.0,96.36 415.5,96.50 416.0,96.72 416.5,96.27 417.0,96.11 417.5,95.62 418.0,94.32 418.5,93.69 419.0,93.01 419.5,93.39 420.0,93.42 420.5,93.38 421.0,93.94 421.5,93.68 422.0,94.04 422.5,94.06 423.0,94.14 423.5,94.50 424.0,94.34 424.5,94.80 425.0,95.12 425.5,94.86 426.0,95.05 426.5,95.25 427.0,94.66 427.5,94.71 428.0,95.38 428.5,94.67 429.0,94.95 429.5,95.93 430.0,95.24 430.5,95.27 431.0,95.14 431.5,93.63 432.0,92.98 432.5,93.90 433.0,94.66 433.5,95.76 434.0,95.90 434.5,95.88 435.0,95.50 435.5,95.53 436.0,95.99 436.5,95.67 437.0,94.71 437.5,93.78 438.0,94.13 438.5,94.16 439.0,94.93 439.5,95.27 440.0,95.33 440.5,95.70 441.0,94.37 441.5,94.34 442.0,93.57 442.5,92.02 443.0,92.48 443.5,92.44 444.0,92.57 444.5,93.74 445.0,93.47 445.5,93.39 446.0,92.51 446.5,92.12 447.0,92.42 447.5,92.14 448.0,92.22 448.5,91.57 449.0,90.38 449.5,89.83 450.0,89.27 450.5,87.76 451.0,87.44 451.5,85.90 452.0,84.09 452.5,83.12 453.0,81.49 453.5,80.44 454.0,77.68 454.5,74.88 455.0,70.81 455.5,66.29 456.0,61.97 456.5,56.62 457.0,50.89 457.5,43.79 458.0,35.87 458.5,33.50 459.0,36.38 459.5,45.16 460.0,52.76 460.5,58.72 461.0,64.44 461.5,68.32 462.0,71.75 462.5,75.26 463.0,77.85 463.5,80.56 464.0,82.53 464.5,84.80 465.0,86.20 465.5,87.42 466.0,88.85 466.5,89.22 467.0,90.36 467.5,90.08 468.0,90.66 468.5,91.68 469.0,92.03 469.5,93.17 470.0,93.32 470.5,93.59 471.0,93.19 471.5,93.97 472.0,94.70 472.5,93.97 473.0,93.71 473.5,93.30 474.0,93.20 474.5,93.12 475.0,94.28 475.5,94.20 476.0,94.03 476.5,94.17 477.0,93.67 477.5,93.91 478.0,93.79 478.5,94.66 479.0,94.47 479.5,94.65 480.0,95.27 480.5,94.98 481.0,95.29 481.5,94.75 482.0,94.49 482.5,94.06 483.0,93.69 483.5,94.02 484.0,94.33 484.5,94.26 485.0,94.54 485.5,95.34 486.0,95.34 486.5,95.65 487.0,96.31 487.5,95.74 488.0,96.03 488.5,95.93 489.0,95.29 489.5,94.95 490.0,93.70 490.5,94.00 491.0,94.21 491.5,93.48 492.0,94.57 492.5,94.14 493.0,94.55 493.5,95.25 494.0,93.90 494.5,94.08 495.0,93.87 495.5,93.02 496.0,94.07 496.5,94.26 497.0,93.83 497.5,95.31 498.0,94.65 498.5,93.93 499.0,93.75 499.5,93.09 500.0,93.59 500.5,93.88 501.0,95.42 501.5,95.60 502.0,95.44 502.5,95.80" fill="none" stroke="#24305a" stroke-width="2.1" stroke-linejoin="round" opacity="0.9"/>
<polyline points="414.5,95.82 415.0,96.36 415.5,96.50 416.0,96.72 416.5,96.27 417.0,96.11 417.5,95.62 418.0,94.32 418.5,93.69 419.0,93.01 419.5,93.39 420.0,93.42 420.5,93.38 421.0,93.94 421.5,93.68 422.0,94.04 422.5,94.06 423.0,94.14 423.5,94.50 424.0,94.34 424.5,94.80 425.0,95.12 425.5,94.86 426.0,95.05 426.5,95.25 427.0,94.66 427.5,94.71 428.0,95.38 428.5,94.67 429.0,94.95 429.5,95.93 430.0,95.24 430.5,95.27 431.0,95.14 431.5,93.63 432.0,92.98 432.5,93.90 433.0,94.66 433.5,95.76 434.0,95.90 434.5,95.88 435.0,95.50 435.5,95.53 436.0,95.99 436.5,95.67 437.0,94.71 437.5,93.78 438.0,94.13 438.5,94.16 439.0,94.93 439.5,95.27 440.0,95.33 440.5,95.70 441.0,94.37 441.5,94.34 442.0,93.57 442.5,92.02 443.0,92.48 443.5,92.44 444.0,92.57 444.5,93.74 445.0,93.47 445.5,93.39 446.0,92.51 446.5,92.12 447.0,92.42 447.5,92.14 448.0,92.22 448.5,91.57 449.0,90.38 449.5,89.83 450.0,89.27 450.5,87.76 451.0,87.44 451.5,85.90 452.0,84.09 452.5,83.12 453.0,81.49 453.5,80.44 454.0,77.68 454.5,74.88 455.0,70.81 455.5,66.29 456.0,61.97 456.5,56.62 457.0,50.89 457.5,43.79 458.0,35.87 458.5,33.50 459.0,36.38 459.5,45.16 460.0,52.76 460.5,58.72 461.0,64.44 461.5,68.32 462.0,71.75 462.5,75.26 463.0,77.85 463.5,80.56 464.0,82.53 464.5,84.80 465.0,86.20 465.5,87.42 466.0,88.85 466.5,89.22 467.0,90.36 467.5,90.08 468.0,90.66 468.5,91.68 469.0,92.03 469.5,93.17 470.0,93.32 470.5,93.59 471.0,93.19 471.5,93.97 472.0,94.70 472.5,93.97 473.0,93.71 473.5,93.30 474.0,93.20 474.5,93.12 475.0,94.28 475.5,94.20 476.0,94.03 476.5,94.17 477.0,93.67 477.5,93.91 478.0,93.79 478.5,94.66 479.0,94.47 479.5,94.65 480.0,95.27 480.5,94.98 481.0,95.29 481.5,94.75 482.0,94.49 482.5,94.06 483.0,93.69 483.5,94.02 484.0,94.33 484.5,94.26 485.0,94.54 485.5,95.34 486.0,95.34 486.5,95.65 487.0,96.31 487.5,95.74 488.0,96.03 488.5,95.93 489.0,95.29 489.5,94.95 490.0,93.70 490.5,94.00 491.0,94.21 491.5,93.48 492.0,94.57 492.5,94.14 493.0,94.55 493.5,95.25 494.0,93.90 494.5,94.08 495.0,93.87 495.5,93.02 496.0,94.07 496.5,94.26 497.0,93.83 497.5,95.31 498.0,94.65 498.5,93.93 499.0,93.75 499.5,93.09 500.0,93.59 500.5,93.88 501.0,95.42 501.5,95.60 502.0,95.44 502.5,95.80" fill="none" stroke="#34497e" stroke-width="1.1" stroke-linejoin="round"/>
<polyline points="414.5,98.03 415.0,98.41 415.5,98.26 416.0,97.81 416.5,97.97 417.0,97.49 417.5,97.58 418.0,97.94 418.5,98.03 419.0,98.60 419.5,98.33 420.0,98.25 420.5,97.47 421.0,96.81 421.5,97.07 422.0,97.21 422.5,97.47 423.0,97.78 423.5,97.48 424.0,97.42 424.5,97.70 425.0,97.94 425.5,97.76 426.0,97.69 426.5,97.82 427.0,97.28 427.5,98.02 428.0,97.82 428.5,98.00 429.0,98.06 429.5,98.10 430.0,98.70 430.5,98.56 431.0,99.02 431.5,98.65 432.0,98.22 432.5,97.96 433.0,97.60 433.5,97.81 434.0,97.80 434.5,97.67 435.0,97.73 435.5,97.81 436.0,98.03 436.5,98.32 437.0,98.44 437.5,97.82 438.0,97.85 438.5,98.03 439.0,97.91 439.5,98.17 440.0,97.93 440.5,97.88 441.0,97.96 441.5,98.15 442.0,97.82 442.5,97.77 443.0,97.55 443.5,97.54 444.0,97.61 444.5,97.21 445.0,97.42 445.5,96.61 446.0,96.51 446.5,96.56 447.0,96.25 447.5,96.66 448.0,96.46 448.5,95.93 449.0,95.41 449.5,94.88 450.0,94.85 450.5,94.68 451.0,94.38 451.5,93.82 452.0,92.63 452.5,91.97 453.0,90.83 453.5,89.61 454.0,88.25 454.5,86.74 455.0,84.92 455.5,83.11 456.0,81.24 456.5,78.03 457.0,75.54 457.5,72.37 458.0,68.37 458.5,64.40 459.0,68.55 459.5,71.96 460.0,75.04 460.5,77.76 461.0,80.00 461.5,82.51 462.0,85.01 462.5,86.36 463.0,88.25 463.5,88.98 464.0,89.83 464.5,91.22 465.0,91.87 465.5,92.88 466.0,93.59 466.5,93.76 467.0,94.07 467.5,94.66 468.0,95.04 468.5,95.71 469.0,96.11 469.5,95.94 470.0,95.80 470.5,96.41 471.0,96.21 471.5,97.33 472.0,97.31 472.5,97.49 473.0,97.93 473.5,97.27 474.0,97.70 474.5,97.57 475.0,97.34 475.5,97.98 476.0,98.36 476.5,97.82 477.0,98.33 477.5,97.89 478.0,97.39 478.5,97.75 479.0,97.50 479.5,97.55 480.0,97.70 480.5,97.41 481.0,97.27 481.5,97.23 482.0,97.07 482.5,97.48 483.0,97.88 483.5,98.19 484.0,98.22 484.5,97.73 485.0,97.53 485.5,97.76 486.0,98.06 486.5,98.33 487.0,98.29 487.5,97.81 488.0,97.46 488.5,97.36 489.0,97.74 489.5,97.66 490.0,98.06 490.5,98.22 491.0,97.63 491.5,97.30 492.0,96.97 492.5,97.14 493.0,97.51 493.5,97.81 494.0,98.20 494.5,98.10 495.0,97.88 495.5,97.79 496.0,97.63 496.5,97.53 497.0,97.36 497.5,97.50 498.0,97.83 498.5,97.86 499.0,98.12 499.5,98.29 500.0,97.88 500.5,98.27 501.0,98.04 501.5,97.85 502.0,97.98 502.5,97.64" fill="none" stroke="#3a1830" stroke-width="2.1" stroke-linejoin="round" opacity="0.9"/>
<polyline points="414.5,98.03 415.0,98.41 415.5,98.26 416.0,97.81 416.5,97.97 417.0,97.49 417.5,97.58 418.0,97.94 418.5,98.03 419.0,98.60 419.5,98.33 420.0,98.25 420.5,97.47 421.0,96.81 421.5,97.07 422.0,97.21 422.5,97.47 423.0,97.78 423.5,97.48 424.0,97.42 424.5,97.70 425.0,97.94 425.5,97.76 426.0,97.69 426.5,97.82 427.0,97.28 427.5,98.02 428.0,97.82 428.5,98.00 429.0,98.06 429.5,98.10 430.0,98.70 430.5,98.56 431.0,99.02 431.5,98.65 432.0,98.22 432.5,97.96 433.0,97.60 433.5,97.81 434.0,97.80 434.5,97.67 435.0,97.73 435.5,97.81 436.0,98.03 436.5,98.32 437.0,98.44 437.5,97.82 438.0,97.85 438.5,98.03 439.0,97.91 439.5,98.17 440.0,97.93 440.5,97.88 441.0,97.96 441.5,98.15 442.0,97.82 442.5,97.77 443.0,97.55 443.5,97.54 444.0,97.61 444.5,97.21 445.0,97.42 445.5,96.61 446.0,96.51 446.5,96.56 447.0,96.25 447.5,96.66 448.0,96.46 448.5,95.93 449.0,95.41 449.5,94.88 450.0,94.85 450.5,94.68 451.0,94.38 451.5,93.82 452.0,92.63 452.5,91.97 453.0,90.83 453.5,89.61 454.0,88.25 454.5,86.74 455.0,84.92 455.5,83.11 456.0,81.24 456.5,78.03 457.0,75.54 457.5,72.37 458.0,68.37 458.5,64.40 459.0,68.55 459.5,71.96 460.0,75.04 460.5,77.76 461.0,80.00 461.5,82.51 462.0,85.01 462.5,86.36 463.0,88.25 463.5,88.98 464.0,89.83 464.5,91.22 465.0,91.87 465.5,92.88 466.0,93.59 466.5,93.76 467.0,94.07 467.5,94.66 468.0,95.04 468.5,95.71 469.0,96.11 469.5,95.94 470.0,95.80 470.5,96.41 471.0,96.21 471.5,97.33 472.0,97.31 472.5,97.49 473.0,97.93 473.5,97.27 474.0,97.70 474.5,97.57 475.0,97.34 475.5,97.98 476.0,98.36 476.5,97.82 477.0,98.33 477.5,97.89 478.0,97.39 478.5,97.75 479.0,97.50 479.5,97.55 480.0,97.70 480.5,97.41 481.0,97.27 481.5,97.23 482.0,97.07 482.5,97.48 483.0,97.88 483.5,98.19 484.0,98.22 484.5,97.73 485.0,97.53 485.5,97.76 486.0,98.06 486.5,98.33 487.0,98.29 487.5,97.81 488.0,97.46 488.5,97.36 489.0,97.74 489.5,97.66 490.0,98.06 490.5,98.22 491.0,97.63 491.5,97.30 492.0,96.97 492.5,97.14 493.0,97.51 493.5,97.81 494.0,98.20 494.5,98.10 495.0,97.88 495.5,97.79 496.0,97.63 496.5,97.53 497.0,97.36 497.5,97.50 498.0,97.83 498.5,97.86 499.0,98.12 499.5,98.29 500.0,97.88 500.5,98.27 501.0,98.04 501.5,97.85 502.0,97.98 502.5,97.64" fill="none" stroke="#a8163c" stroke-width="1.1" stroke-linejoin="round"/>
<path d="M413.50 33.00 H503.30 V104.40" fill="none" stroke="#151515" stroke-width="1.45"/>
<path d="M413.50 32.50 V107.00 M412.90 104.40 H503.90" fill="none" stroke="#111" stroke-width="1.6"/>
<line x1="458.50" y1="104.40" x2="458.50" y2="107.00" stroke="#111" stroke-width="1.3"/>
<line x1="503.30" y1="104.40" x2="503.30" y2="107.00" stroke="#111" stroke-width="1.3"/>
<line x1="410.20" y1="104.50" x2="413.50" y2="104.50" stroke="#222" stroke-width="1.1"/>
<line x1="410.20" y1="91.30" x2="413.50" y2="91.30" stroke="#222" stroke-width="1.1"/>
<line x1="410.20" y1="78.10" x2="413.50" y2="78.10" stroke="#222" stroke-width="1.1"/>
<line x1="410.20" y1="64.90" x2="413.50" y2="64.90" stroke="#222" stroke-width="1.1"/>
<line x1="410.20" y1="51.70" x2="413.50" y2="51.70" stroke="#222" stroke-width="1.1"/>
<line x1="410.20" y1="38.50" x2="413.50" y2="38.50" stroke="#222" stroke-width="1.1"/>
<text x="405.20" y="41.74" font-size="9" text-anchor="middle" fill="#3a3a3a" style="stroke:none">5</text>
<text x="405.20" y="54.94" font-size="9" text-anchor="middle" fill="#3a3a3a" style="stroke:none">4</text>
<text x="405.20" y="68.14" font-size="9" text-anchor="middle" fill="#3a3a3a" style="stroke:none">3</text>
<text x="405.20" y="81.34" font-size="9" text-anchor="middle" fill="#3a3a3a" style="stroke:none">2</text>
<text x="405.20" y="94.54" font-size="9" text-anchor="middle" fill="#3a3a3a" style="stroke:none">1</text>
<text x="405.20" y="107.74" font-size="9" text-anchor="middle" fill="#3a3a3a" style="stroke:none">0</text>
<text x="414.00" y="118.51" font-size="9.2" text-anchor="middle" textLength="15.00" lengthAdjust="spacingAndGlyphs">-5kb</text>
<text x="458.50" y="118.51" font-size="9.2" text-anchor="middle" textLength="17.50" lengthAdjust="spacingAndGlyphs">Peak</text>
<text x="503.30" y="118.51" font-size="9.2" text-anchor="middle" textLength="17.80" lengthAdjust="spacingAndGlyphs">+5kb</text>
<rect x="463.90" y="38.6" width="8.1" height="2.8" fill="#34497e" stroke="#1a2040" stroke-width="0.5"/>
<rect x="463.90" y="48.4" width="8.1" height="2.8" fill="#b0173a" stroke="#3a1020" stroke-width="0.5"/>
<text x="475.40" y="43.06" font-size="8.5" textLength="25.00" lengthAdjust="spacingAndGlyphs">Control</text>
<text x="475.40" y="52.86" font-size="8.5" textLength="19.30" lengthAdjust="spacingAndGlyphs">LSD1i</text>
<text class="h" x="0" y="3.78" font-size="10.5" text-anchor="middle" fill="#2b2b2b" textLength="78.60" lengthAdjust="spacingAndGlyphs" transform="translate(393.00 68.70) rotate(-90)">Normalized ATAC signal</text>
<text x="7.60" y="144.62" font-size="12" fill="#111" font-weight="bold">E</text>
<path d="M85.0 207.0h1.1v1.1h-1.1zM97.6 211.3h1.1v1.1h-1.1zM96.3 220.2h1.1v1.1h-1.1zM79.9 239.1h1.1v1.1h-1.1zM81.9 227.8h1.1v1.1h-1.1zM79.7 221.9h1.1v1.1h-1.1zM90.1 210.0h1.1v1.1h-1.1zM84.2 224.9h1.1v1.1h-1.1zM91.8 206.9h1.1v1.1h-1.1zM67.2 223.3h1.1v1.1h-1.1zM99.5 225.3h1.1v1.1h-1.1zM83.8 251.4h1.1v1.1h-1.1zM91.1 232.0h1.1v1.1h-1.1zM83.4 237.2h1.1v1.1h-1.1zM81.1 223.1h1.1v1.1h-1.1zM89.1 216.0h1.1v1.1h-1.1zM92.5 203.6h1.1v1.1h-1.1zM82.8 221.2h1.1v1.1h-1.1zM83.2 233.6h1.1v1.1h-1.1zM91.2 193.3h1.1v1.1h-1.1zM76.4 219.1h1.1v1.1h-1.1zM70.3 226.8h1.1v1.1h-1.1zM88.4 222.6h1.1v1.1h-1.1zM78.3 236.8h1.1v1.1h-1.1zM66.5 217.9h1.1v1.1h-1.1zM77.0 218.3h1.1v1.1h-1.1zM80.3 204.2h1.1v1.1h-1.1zM73.4 211.1h1.1v1.1h-1.1zM70.5 214.4h1.1v1.1h-1.1zM85.0 206.7h1.1v1.1h-1.1zM93.2 221.6h1.1v1.1h-1.1zM82.5 225.9h1.1v1.1h-1.1zM77.6 222.7h1.1v1.1h-1.1zM88.3 233.2h1.1v1.1h-1.1zM91.5 220.4h1.1v1.1h-1.1zM81.8 224.7h1.1v1.1h-1.1zM89.9 211.9h1.1v1.1h-1.1zM94.6 218.3h1.1v1.1h-1.1zM82.7 241.7h1.1v1.1h-1.1zM77.0 221.9h1.1v1.1h-1.1zM88.0 204.1h1.1v1.1h-1.1zM87.0 239.9h1.1v1.1h-1.1zM95.1 226.2h1.1v1.1h-1.1zM72.5 223.0h1.1v1.1h-1.1zM78.4 236.3h1.1v1.1h-1.1zM76.7 228.2h1.1v1.1h-1.1zM68.3 223.6h1.1v1.1h-1.1zM85.9 234.5h1.1v1.1h-1.1zM89.7 215.9h1.1v1.1h-1.1zM77.7 217.5h1.1v1.1h-1.1zM97.8 231.1h1.1v1.1h-1.1zM92.5 218.2h1.1v1.1h-1.1zM90.6 207.1h1.1v1.1h-1.1zM88.5 221.3h1.1v1.1h-1.1zM93.7 213.4h1.1v1.1h-1.1zM72.1 216.2h1.1v1.1h-1.1zM90.5 221.4h1.1v1.1h-1.1zM90.4 208.1h1.1v1.1h-1.1zM67.9 220.0h1.1v1.1h-1.1zM88.0 230.3h1.1v1.1h-1.1zM82.3 215.1h1.1v1.1h-1.1zM92.1 209.0h1.1v1.1h-1.1zM80.5 212.4h1.1v1.1h-1.1zM84.5 227.2h1.1v1.1h-1.1zM87.9 214.4h1.1v1.1h-1.1zM76.4 207.1h1.1v1.1h-1.1zM90.4 216.3h1.1v1.1h-1.1zM83.7 207.4h1.1v1.1h-1.1zM89.4 204.8h1.1v1.1h-1.1zM79.7 221.7h1.1v1.1h-1.1zM95.0 210.4h1.1v1.1h-1.1zM90.4 221.9h1.1v1.1h-1.1zM83.0 208.8h1.1v1.1h-1.1zM90.7 219.6h1.1v1.1h-1.1zM96.6 223.2h1.1v1.1h-1.1zM69.8 224.3h1.1v1.1h-1.1zM93.1 213.9h1.1v1.1h-1.1zM89.1 213.9h1.1v1.1h-1.1zM83.8 233.0h1.1v1.1h-1.1zM75.2 229.4h1.1v1.1h-1.1zM96.6 213.3h1.1v1.1h-1.1zM72.7 217.5h1.1v1.1h-1.1zM90.1 217.8h1.1v1.1h-1.1zM97.0 188.3h1.1v1.1h-1.1zM69.5 211.3h1.1v1.1h-1.1zM81.8 221.4h1.1v1.1h-1.1zM72.3 214.9h1.1v1.1h-1.1zM87.0 204.7h1.1v1.1h-1.1zM99.0 212.5h1.1v1.1h-1.1zM67.8 222.8h1.1v1.1h-1.1zM79.2 220.6h1.1v1.1h-1.1zM91.4 194.9h1.1v1.1h-1.1zM99.7 236.4h1.1v1.1h-1.1zM88.7 202.0h1.1v1.1h-1.1zM77.6 223.2h1.1v1.1h-1.1zM87.5 208.9h1.1v1.1h-1.1zM84.5 223.0h1.1v1.1h-1.1zM82.8 218.3h1.1v1.1h-1.1zM77.7 209.0h1.1v1.1h-1.1zM88.4 217.9h1.1v1.1h-1.1zM87.6 207.5h1.1v1.1h-1.1zM83.8 220.8h1.1v1.1h-1.1zM82.6 224.7h1.1v1.1h-1.1zM72.5 224.9h1.1v1.1h-1.1zM80.1 226.2h1.1v1.1h-1.1zM96.1 218.3h1.1v1.1h-1.1zM82.9 205.2h1.1v1.1h-1.1zM71.0 235.6h1.1v1.1h-1.1zM97.3 234.8h1.1v1.1h-1.1zM89.7 218.6h1.1v1.1h-1.1zM85.3 208.0h1.1v1.1h-1.1zM80.3 206.2h1.1v1.1h-1.1zM71.0 209.1h1.1v1.1h-1.1zM97.2 224.6h1.1v1.1h-1.1zM76.9 250.5h1.1v1.1h-1.1zM78.6 227.6h1.1v1.1h-1.1zM90.3 211.6h1.1v1.1h-1.1zM76.8 238.4h1.1v1.1h-1.1zM82.1 242.6h1.1v1.1h-1.1zM81.4 234.5h1.1v1.1h-1.1zM86.5 216.7h1.1v1.1h-1.1zM95.1 204.3h1.1v1.1h-1.1zM84.9 191.1h1.1v1.1h-1.1zM93.4 201.8h1.1v1.1h-1.1zM80.7 236.9h1.1v1.1h-1.1zM87.8 244.0h1.1v1.1h-1.1zM64.4 222.5h1.1v1.1h-1.1zM71.0 211.0h1.1v1.1h-1.1zM92.2 235.3h1.1v1.1h-1.1zM79.1 226.4h1.1v1.1h-1.1zM90.2 222.9h1.1v1.1h-1.1zM89.8 217.7h1.1v1.1h-1.1zM97.2 218.3h1.1v1.1h-1.1zM92.4 211.8h1.1v1.1h-1.1zM94.3 205.4h1.1v1.1h-1.1zM83.6 218.6h1.1v1.1h-1.1zM78.1 212.5h1.1v1.1h-1.1zM77.8 199.0h1.1v1.1h-1.1zM80.1 231.4h1.1v1.1h-1.1zM74.0 233.1h1.1v1.1h-1.1zM79.5 214.7h1.1v1.1h-1.1zM83.8 199.0h1.1v1.1h-1.1zM87.1 216.7h1.1v1.1h-1.1zM81.5 207.8h1.1v1.1h-1.1zM66.5 226.7h1.1v1.1h-1.1zM84.0 209.1h1.1v1.1h-1.1zM86.8 225.3h1.1v1.1h-1.1zM95.0 209.2h1.1v1.1h-1.1zM90.2 213.3h1.1v1.1h-1.1zM78.6 216.0h1.1v1.1h-1.1zM77.8 205.5h1.1v1.1h-1.1zM91.9 223.7h1.1v1.1h-1.1zM76.9 209.8h1.1v1.1h-1.1zM88.3 187.8h1.1v1.1h-1.1zM89.0 211.9h1.1v1.1h-1.1zM90.0 211.9h1.1v1.1h-1.1zM89.8 216.8h1.1v1.1h-1.1zM86.6 209.1h1.1v1.1h-1.1zM86.3 223.1h1.1v1.1h-1.1zM70.5 214.6h1.1v1.1h-1.1zM83.1 221.9h1.1v1.1h-1.1zM77.6 224.8h1.1v1.1h-1.1zM85.9 216.8h1.1v1.1h-1.1zM80.3 220.2h1.1v1.1h-1.1zM90.6 236.0h1.1v1.1h-1.1zM92.5 193.9h1.1v1.1h-1.1zM87.6 216.2h1.1v1.1h-1.1zM87.7 236.2h1.1v1.1h-1.1zM85.6 206.4h1.1v1.1h-1.1zM80.4 219.7h1.1v1.1h-1.1zM83.1 216.5h1.1v1.1h-1.1zM80.0 211.8h1.1v1.1h-1.1zM88.4 227.3h1.1v1.1h-1.1zM84.8 250.5h1.1v1.1h-1.1zM90.2 218.2h1.1v1.1h-1.1zM72.1 218.7h1.1v1.1h-1.1zM93.1 205.4h1.1v1.1h-1.1zM77.5 228.3h1.1v1.1h-1.1zM77.7 222.9h1.1v1.1h-1.1zM82.8 214.4h1.1v1.1h-1.1zM79.4 223.1h1.1v1.1h-1.1zM87.4 220.4h1.1v1.1h-1.1zM79.2 216.9h1.1v1.1h-1.1zM74.6 231.6h1.1v1.1h-1.1zM76.7 202.9h1.1v1.1h-1.1zM97.1 225.5h1.1v1.1h-1.1zM85.1 217.9h1.1v1.1h-1.1zM73.6 224.6h1.1v1.1h-1.1zM84.8 226.1h1.1v1.1h-1.1zM69.9 216.0h1.1v1.1h-1.1zM70.2 205.9h1.1v1.1h-1.1zM89.2 211.0h1.1v1.1h-1.1zM89.8 222.1h1.1v1.1h-1.1zM70.9 212.2h1.1v1.1h-1.1zM87.5 233.5h1.1v1.1h-1.1zM94.1 215.7h1.1v1.1h-1.1zM89.1 211.7h1.1v1.1h-1.1zM87.2 211.7h1.1v1.1h-1.1zM93.7 228.9h1.1v1.1h-1.1zM86.2 234.5h1.1v1.1h-1.1zM87.9 199.6h1.1v1.1h-1.1zM83.5 224.4h1.1v1.1h-1.1zM90.7 235.1h1.1v1.1h-1.1zM75.8 234.2h1.1v1.1h-1.1zM92.2 216.6h1.1v1.1h-1.1zM79.9 206.8h1.1v1.1h-1.1zM74.4 221.1h1.1v1.1h-1.1zM88.2 204.7h1.1v1.1h-1.1zM93.8 211.3h1.1v1.1h-1.1zM79.8 209.1h1.1v1.1h-1.1zM91.3 221.2h1.1v1.1h-1.1zM80.4 216.5h1.1v1.1h-1.1zM83.5 223.2h1.1v1.1h-1.1zM85.5 225.5h1.1v1.1h-1.1zM62.7 216.7h1.1v1.1h-1.1zM86.5 227.3h1.1v1.1h-1.1zM74.9 220.2h1.1v1.1h-1.1zM78.1 229.0h1.1v1.1h-1.1zM70.7 223.1h1.1v1.1h-1.1zM70.3 228.0h1.1v1.1h-1.1zM75.8 209.0h1.1v1.1h-1.1zM92.5 216.2h1.1v1.1h-1.1zM84.5 201.0h1.1v1.1h-1.1zM95.0 248.1h1.1v1.1h-1.1zM82.2 231.8h1.1v1.1h-1.1zM66.6 253.2h1.1v1.1h-1.1zM86.1 218.8h1.1v1.1h-1.1zM88.9 213.3h1.1v1.1h-1.1zM80.6 213.0h1.1v1.1h-1.1zM87.6 215.5h1.1v1.1h-1.1zM90.1 227.4h1.1v1.1h-1.1zM76.5 202.0h1.1v1.1h-1.1zM70.7 219.2h1.1v1.1h-1.1zM82.6 222.6h1.1v1.1h-1.1zM82.7 232.0h1.1v1.1h-1.1zM81.3 215.5h1.1v1.1h-1.1zM94.0 222.5h1.1v1.1h-1.1zM80.7 218.0h1.1v1.1h-1.1zM91.3 215.4h1.1v1.1h-1.1zM93.6 226.2h1.1v1.1h-1.1zM91.4 204.1h1.1v1.1h-1.1zM94.6 228.0h1.1v1.1h-1.1zM81.0 232.5h1.1v1.1h-1.1zM91.7 214.4h1.1v1.1h-1.1zM92.3 216.9h1.1v1.1h-1.1zM78.8 225.3h1.1v1.1h-1.1zM90.4 217.6h1.1v1.1h-1.1zM96.7 222.8h1.1v1.1h-1.1zM88.2 236.7h1.1v1.1h-1.1zM79.4 212.7h1.1v1.1h-1.1zM99.3 227.1h1.1v1.1h-1.1zM72.8 224.8h1.1v1.1h-1.1zM89.5 210.4h1.1v1.1h-1.1zM84.5 219.3h1.1v1.1h-1.1zM73.4 192.2h1.1v1.1h-1.1zM96.2 232.1h1.1v1.1h-1.1zM88.0 226.9h1.1v1.1h-1.1zM73.6 221.2h1.1v1.1h-1.1zM90.4 203.4h1.1v1.1h-1.1zM80.6 223.2h1.1v1.1h-1.1zM66.7 239.4h1.1v1.1h-1.1zM78.2 208.6h1.1v1.1h-1.1zM87.2 229.1h1.1v1.1h-1.1zM90.7 220.3h1.1v1.1h-1.1zM86.3 209.6h1.1v1.1h-1.1zM85.1 226.8h1.1v1.1h-1.1zM89.1 223.5h1.1v1.1h-1.1zM82.7 214.7h1.1v1.1h-1.1zM95.8 219.2h1.1v1.1h-1.1zM86.1 216.2h1.1v1.1h-1.1zM87.5 229.3h1.1v1.1h-1.1zM89.8 219.7h1.1v1.1h-1.1zM74.7 233.9h1.1v1.1h-1.1zM78.0 238.2h1.1v1.1h-1.1zM99.2 197.1h1.1v1.1h-1.1zM87.9 213.9h1.1v1.1h-1.1zM82.0 210.3h1.1v1.1h-1.1zM87.9 229.5h1.1v1.1h-1.1zM80.1 221.1h1.1v1.1h-1.1zM87.3 221.3h1.1v1.1h-1.1zM78.4 236.7h1.1v1.1h-1.1zM87.3 213.1h1.1v1.1h-1.1zM69.7 231.1h1.1v1.1h-1.1zM97.3 218.9h1.1v1.1h-1.1zM79.8 237.4h1.1v1.1h-1.1zM69.7 212.4h1.1v1.1h-1.1zM82.6 211.9h1.1v1.1h-1.1zM81.2 216.2h1.1v1.1h-1.1zM86.1 229.3h1.1v1.1h-1.1zM73.8 228.1h1.1v1.1h-1.1zM88.5 205.5h1.1v1.1h-1.1zM72.6 219.6h1.1v1.1h-1.1zM87.9 217.4h1.1v1.1h-1.1zM81.7 232.6h1.1v1.1h-1.1zM86.5 202.6h1.1v1.1h-1.1zM67.5 245.4h1.1v1.1h-1.1zM73.8 219.8h1.1v1.1h-1.1zM89.0 219.6h1.1v1.1h-1.1zM84.3 237.5h1.1v1.1h-1.1zM100.2 212.4h1.1v1.1h-1.1zM78.0 215.6h1.1v1.1h-1.1zM86.3 218.7h1.1v1.1h-1.1zM77.4 216.5h1.1v1.1h-1.1zM76.1 209.5h1.1v1.1h-1.1zM84.4 217.4h1.1v1.1h-1.1zM84.3 201.0h1.1v1.1h-1.1zM92.7 208.4h1.1v1.1h-1.1zM85.9 211.0h1.1v1.1h-1.1zM77.5 206.2h1.1v1.1h-1.1zM86.7 226.4h1.1v1.1h-1.1zM96.7 211.2h1.1v1.1h-1.1zM58.3 220.2h1.1v1.1h-1.1zM83.3 203.5h1.1v1.1h-1.1zM76.4 209.1h1.1v1.1h-1.1zM90.6 216.4h1.1v1.1h-1.1zM83.0 217.7h1.1v1.1h-1.1zM93.5 221.6h1.1v1.1h-1.1zM93.1 222.6h1.1v1.1h-1.1zM86.5 209.3h1.1v1.1h-1.1zM84.3 224.8h1.1v1.1h-1.1zM87.9 222.7h1.1v1.1h-1.1zM97.0 215.0h1.1v1.1h-1.1zM89.8 224.0h1.1v1.1h-1.1zM81.4 222.8h1.1v1.1h-1.1zM96.8 240.5h1.1v1.1h-1.1zM86.5 215.0h1.1v1.1h-1.1zM84.0 223.0h1.1v1.1h-1.1zM77.2 219.1h1.1v1.1h-1.1zM79.3 216.7h1.1v1.1h-1.1zM78.7 241.1h1.1v1.1h-1.1zM58.2 199.3h1.1v1.1h-1.1zM94.3 215.3h1.1v1.1h-1.1zM90.1 216.0h1.1v1.1h-1.1zM82.7 239.1h1.1v1.1h-1.1zM94.6 209.8h1.1v1.1h-1.1zM88.8 213.4h1.1v1.1h-1.1zM88.2 221.9h1.1v1.1h-1.1zM61.2 221.5h1.1v1.1h-1.1zM82.5 205.1h1.1v1.1h-1.1zM89.7 221.0h1.1v1.1h-1.1zM99.9 224.7h1.1v1.1h-1.1zM98.2 212.2h1.1v1.1h-1.1zM73.7 222.7h1.1v1.1h-1.1zM63.9 197.9h1.1v1.1h-1.1zM90.1 215.1h1.1v1.1h-1.1zM85.0 220.0h1.1v1.1h-1.1zM93.8 213.1h1.1v1.1h-1.1zM83.5 222.8h1.1v1.1h-1.1zM86.8 215.3h1.1v1.1h-1.1zM70.5 219.9h1.1v1.1h-1.1zM88.9 224.3h1.1v1.1h-1.1zM80.5 222.0h1.1v1.1h-1.1zM88.0 214.0h1.1v1.1h-1.1zM89.0 213.0h1.1v1.1h-1.1zM83.6 212.1h1.1v1.1h-1.1zM87.7 209.0h1.1v1.1h-1.1zM84.6 215.6h1.1v1.1h-1.1zM91.9 210.9h1.1v1.1h-1.1zM89.4 221.3h1.1v1.1h-1.1zM79.5 222.3h1.1v1.1h-1.1zM79.1 208.3h1.1v1.1h-1.1zM83.7 214.6h1.1v1.1h-1.1zM94.1 181.7h1.1v1.1h-1.1zM88.4 237.8h1.1v1.1h-1.1zM79.3 203.4h1.1v1.1h-1.1zM77.6 239.4h1.1v1.1h-1.1zM85.8 214.4h1.1v1.1h-1.1zM87.1 200.4h1.1v1.1h-1.1zM90.5 201.1h1.1v1.1h-1.1zM72.7 231.5h1.1v1.1h-1.1zM79.1 234.4h1.1v1.1h-1.1zM83.8 234.8h1.1v1.1h-1.1zM99.9 207.6h1.1v1.1h-1.1zM62.3 228.5h1.1v1.1h-1.1zM88.9 218.0h1.1v1.1h-1.1zM79.6 217.5h1.1v1.1h-1.1zM88.8 213.7h1.1v1.1h-1.1zM80.0 214.4h1.1v1.1h-1.1zM88.1 217.0h1.1v1.1h-1.1zM99.5 233.2h1.1v1.1h-1.1zM88.0 202.5h1.1v1.1h-1.1zM88.8 248.3h1.1v1.1h-1.1zM88.2 204.9h1.1v1.1h-1.1zM77.6 227.5h1.1v1.1h-1.1zM89.8 220.2h1.1v1.1h-1.1zM82.7 225.4h1.1v1.1h-1.1zM77.0 225.1h1.1v1.1h-1.1zM84.3 219.6h1.1v1.1h-1.1zM82.5 222.9h1.1v1.1h-1.1zM91.8 229.6h1.1v1.1h-1.1zM84.3 210.1h1.1v1.1h-1.1zM79.7 226.8h1.1v1.1h-1.1zM98.5 201.4h1.1v1.1h-1.1zM94.1 218.8h1.1v1.1h-1.1zM96.7 224.2h1.1v1.1h-1.1zM90.4 213.2h1.1v1.1h-1.1zM83.7 209.9h1.1v1.1h-1.1zM80.7 230.4h1.1v1.1h-1.1zM82.0 223.1h1.1v1.1h-1.1zM93.7 201.6h1.1v1.1h-1.1zM85.8 230.0h1.1v1.1h-1.1zM70.6 231.9h1.1v1.1h-1.1zM84.3 217.6h1.1v1.1h-1.1zM71.3 235.8h1.1v1.1h-1.1zM86.3 245.9h1.1v1.1h-1.1zM73.3 240.2h1.1v1.1h-1.1zM72.7 218.1h1.1v1.1h-1.1zM85.8 211.9h1.1v1.1h-1.1zM83.9 213.0h1.1v1.1h-1.1zM68.9 218.8h1.1v1.1h-1.1zM91.8 231.1h1.1v1.1h-1.1zM70.7 210.0h1.1v1.1h-1.1zM78.2 210.6h1.1v1.1h-1.1zM80.0 224.4h1.1v1.1h-1.1zM83.0 217.6h1.1v1.1h-1.1zM71.0 218.5h1.1v1.1h-1.1zM97.0 232.7h1.1v1.1h-1.1zM89.4 202.2h1.1v1.1h-1.1zM77.6 230.3h1.1v1.1h-1.1zM82.1 221.0h1.1v1.1h-1.1zM70.3 228.1h1.1v1.1h-1.1zM81.4 215.1h1.1v1.1h-1.1zM93.6 212.5h1.1v1.1h-1.1zM68.4 222.9h1.1v1.1h-1.1zM80.6 204.8h1.1v1.1h-1.1zM86.1 215.9h1.1v1.1h-1.1zM94.6 221.3h1.1v1.1h-1.1zM97.5 247.8h1.1v1.1h-1.1zM80.4 223.4h1.1v1.1h-1.1zM77.7 224.1h1.1v1.1h-1.1zM89.0 227.8h1.1v1.1h-1.1zM81.2 229.5h1.1v1.1h-1.1zM81.8 213.5h1.1v1.1h-1.1zM94.9 205.5h1.1v1.1h-1.1zM87.2 206.2h1.1v1.1h-1.1zM82.9 227.5h1.1v1.1h-1.1zM90.1 215.2h1.1v1.1h-1.1zM66.8 238.4h1.1v1.1h-1.1zM84.5 211.3h1.1v1.1h-1.1zM74.6 217.7h1.1v1.1h-1.1zM91.5 218.8h1.1v1.1h-1.1zM86.0 221.7h1.1v1.1h-1.1zM82.8 226.7h1.1v1.1h-1.1zM60.9 210.5h1.1v1.1h-1.1zM91.4 183.8h1.1v1.1h-1.1zM100.1 206.6h1.1v1.1h-1.1zM77.8 209.3h1.1v1.1h-1.1zM91.2 216.0h1.1v1.1h-1.1zM91.5 221.5h1.1v1.1h-1.1zM70.0 198.7h1.1v1.1h-1.1zM93.6 221.2h1.1v1.1h-1.1zM97.5 211.9h1.1v1.1h-1.1zM86.9 220.1h1.1v1.1h-1.1zM84.1 213.0h1.1v1.1h-1.1zM92.2 218.1h1.1v1.1h-1.1zM70.1 216.2h1.1v1.1h-1.1zM85.6 232.9h1.1v1.1h-1.1zM94.7 218.0h1.1v1.1h-1.1zM72.9 207.1h1.1v1.1h-1.1zM94.1 228.4h1.1v1.1h-1.1zM80.7 227.5h1.1v1.1h-1.1zM65.0 208.9h1.1v1.1h-1.1zM83.7 215.1h1.1v1.1h-1.1zM75.5 209.8h1.1v1.1h-1.1zM87.7 243.0h1.1v1.1h-1.1zM73.6 220.3h1.1v1.1h-1.1zM94.6 230.9h1.1v1.1h-1.1zM77.7 236.1h1.1v1.1h-1.1zM88.1 214.0h1.1v1.1h-1.1zM79.1 207.7h1.1v1.1h-1.1zM81.6 236.4h1.1v1.1h-1.1zM96.0 228.7h1.1v1.1h-1.1zM86.7 225.2h1.1v1.1h-1.1zM80.9 221.6h1.1v1.1h-1.1zM72.8 236.7h1.1v1.1h-1.1zM95.7 192.0h1.1v1.1h-1.1zM91.6 211.3h1.1v1.1h-1.1zM81.6 224.0h1.1v1.1h-1.1zM87.0 224.5h1.1v1.1h-1.1zM74.9 196.2h1.1v1.1h-1.1zM75.1 197.1h1.1v1.1h-1.1zM76.9 226.6h1.1v1.1h-1.1zM88.0 214.8h1.1v1.1h-1.1zM87.5 204.9h1.1v1.1h-1.1zM77.6 234.0h1.1v1.1h-1.1zM91.7 224.2h1.1v1.1h-1.1zM92.1 202.8h1.1v1.1h-1.1zM86.3 226.6h1.1v1.1h-1.1zM94.5 221.8h1.1v1.1h-1.1zM82.0 234.8h1.1v1.1h-1.1zM83.6 228.0h1.1v1.1h-1.1zM89.2 210.9h1.1v1.1h-1.1zM84.4 228.6h1.1v1.1h-1.1zM92.2 232.0h1.1v1.1h-1.1zM72.8 229.2h1.1v1.1h-1.1zM98.2 196.9h1.1v1.1h-1.1zM77.3 219.3h1.1v1.1h-1.1zM83.1 226.0h1.1v1.1h-1.1zM71.6 220.9h1.1v1.1h-1.1zM90.4 213.3h1.1v1.1h-1.1zM96.8 215.4h1.1v1.1h-1.1zM94.8 237.0h1.1v1.1h-1.1zM92.6 214.4h1.1v1.1h-1.1zM69.9 225.4h1.1v1.1h-1.1zM77.3 212.1h1.1v1.1h-1.1zM80.3 235.5h1.1v1.1h-1.1zM75.8 210.2h1.1v1.1h-1.1zM95.3 222.6h1.1v1.1h-1.1zM86.4 238.0h1.1v1.1h-1.1zM84.5 205.1h1.1v1.1h-1.1zM89.3 224.2h1.1v1.1h-1.1zM75.7 217.7h1.1v1.1h-1.1zM76.1 223.5h1.1v1.1h-1.1zM76.3 209.6h1.1v1.1h-1.1zM89.4 206.4h1.1v1.1h-1.1zM87.9 206.7h1.1v1.1h-1.1zM90.2 210.5h1.1v1.1h-1.1zM94.9 235.1h1.1v1.1h-1.1zM71.8 241.2h1.1v1.1h-1.1zM79.4 218.8h1.1v1.1h-1.1zM86.1 229.9h1.1v1.1h-1.1zM71.9 217.6h1.1v1.1h-1.1zM79.6 219.1h1.1v1.1h-1.1zM94.3 233.0h1.1v1.1h-1.1zM95.1 228.7h1.1v1.1h-1.1zM94.9 229.8h1.1v1.1h-1.1zM85.1 229.4h1.1v1.1h-1.1zM82.7 222.5h1.1v1.1h-1.1zM94.9 209.8h1.1v1.1h-1.1zM81.2 205.8h1.1v1.1h-1.1zM87.9 229.7h1.1v1.1h-1.1zM97.2 223.0h1.1v1.1h-1.1zM81.2 203.5h1.1v1.1h-1.1zM78.9 211.3h1.1v1.1h-1.1zM84.6 217.2h1.1v1.1h-1.1zM90.4 244.3h1.1v1.1h-1.1zM89.3 229.8h1.1v1.1h-1.1zM86.2 217.7h1.1v1.1h-1.1zM90.0 225.0h1.1v1.1h-1.1zM69.5 201.4h1.1v1.1h-1.1zM76.5 220.7h1.1v1.1h-1.1zM86.2 216.3h1.1v1.1h-1.1zM75.9 234.0h1.1v1.1h-1.1zM72.0 234.3h1.1v1.1h-1.1zM73.2 229.8h1.1v1.1h-1.1zM76.0 228.7h1.1v1.1h-1.1zM83.0 222.8h1.1v1.1h-1.1zM75.0 217.9h1.1v1.1h-1.1zM86.9 216.6h1.1v1.1h-1.1zM83.3 235.0h1.1v1.1h-1.1zM96.8 214.6h1.1v1.1h-1.1zM87.4 216.5h1.1v1.1h-1.1zM74.1 204.7h1.1v1.1h-1.1zM82.3 222.8h1.1v1.1h-1.1zM75.4 218.4h1.1v1.1h-1.1zM92.0 227.1h1.1v1.1h-1.1zM73.8 217.7h1.1v1.1h-1.1zM97.2 212.4h1.1v1.1h-1.1zM90.2 225.4h1.1v1.1h-1.1zM65.5 229.1h1.1v1.1h-1.1zM92.1 218.4h1.1v1.1h-1.1zM99.4 209.9h1.1v1.1h-1.1zM77.2 234.2h1.1v1.1h-1.1zM94.0 207.8h1.1v1.1h-1.1zM67.6 227.5h1.1v1.1h-1.1zM87.1 198.2h1.1v1.1h-1.1zM68.9 207.4h1.1v1.1h-1.1zM89.3 223.2h1.1v1.1h-1.1zM67.7 230.7h1.1v1.1h-1.1zM59.7 198.5h1.1v1.1h-1.1zM88.4 211.9h1.1v1.1h-1.1zM79.0 225.8h1.1v1.1h-1.1zM92.6 219.4h1.1v1.1h-1.1zM85.7 210.6h1.1v1.1h-1.1zM81.6 213.7h1.1v1.1h-1.1zM90.5 227.5h1.1v1.1h-1.1zM100.3 202.4h1.1v1.1h-1.1zM73.0 219.1h1.1v1.1h-1.1zM90.0 229.0h1.1v1.1h-1.1zM88.0 208.0h1.1v1.1h-1.1zM71.2 224.9h1.1v1.1h-1.1zM100.0 207.5h1.1v1.1h-1.1zM75.7 217.9h1.1v1.1h-1.1zM85.2 215.5h1.1v1.1h-1.1zM83.1 236.9h1.1v1.1h-1.1zM98.9 214.6h1.1v1.1h-1.1zM86.8 247.2h1.1v1.1h-1.1zM87.8 219.7h1.1v1.1h-1.1zM99.1 208.4h1.1v1.1h-1.1zM96.9 211.5h1.1v1.1h-1.1zM93.2 204.6h1.1v1.1h-1.1zM71.4 234.7h1.1v1.1h-1.1zM69.8 206.0h1.1v1.1h-1.1zM95.4 199.5h1.1v1.1h-1.1zM75.9 235.1h1.1v1.1h-1.1zM86.1 228.2h1.1v1.1h-1.1zM74.5 228.5h1.1v1.1h-1.1zM82.9 220.4h1.1v1.1h-1.1zM72.6 220.6h1.1v1.1h-1.1zM100.1 243.4h1.1v1.1h-1.1zM75.0 215.5h1.1v1.1h-1.1zM83.5 222.9h1.1v1.1h-1.1zM82.9 231.4h1.1v1.1h-1.1zM96.1 206.6h1.1v1.1h-1.1zM71.2 226.7h1.1v1.1h-1.1zM84.4 207.3h1.1v1.1h-1.1zM82.7 214.4h1.1v1.1h-1.1zM89.7 222.1h1.1v1.1h-1.1zM89.2 205.8h1.1v1.1h-1.1zM80.3 211.9h1.1v1.1h-1.1zM87.0 224.8h1.1v1.1h-1.1zM81.1 238.4h1.1v1.1h-1.1zM89.1 224.8h1.1v1.1h-1.1zM83.7 213.2h1.1v1.1h-1.1zM78.5 223.9h1.1v1.1h-1.1zM84.4 200.4h1.1v1.1h-1.1zM88.1 216.1h1.1v1.1h-1.1zM80.0 216.4h1.1v1.1h-1.1zM87.6 228.8h1.1v1.1h-1.1zM98.6 217.9h1.1v1.1h-1.1zM65.0 231.7h1.1v1.1h-1.1zM68.2 249.6h1.1v1.1h-1.1zM73.4 242.0h1.1v1.1h-1.1zM83.6 211.9h1.1v1.1h-1.1zM88.4 220.3h1.1v1.1h-1.1zM96.1 233.4h1.1v1.1h-1.1zM82.6 226.8h1.1v1.1h-1.1zM61.3 216.7h1.1v1.1h-1.1zM62.8 223.9h1.1v1.1h-1.1zM94.3 223.2h1.1v1.1h-1.1zM86.4 202.5h1.1v1.1h-1.1zM72.4 223.4h1.1v1.1h-1.1zM95.3 221.2h1.1v1.1h-1.1zM70.1 210.6h1.1v1.1h-1.1zM95.4 236.4h1.1v1.1h-1.1zM98.4 210.5h1.1v1.1h-1.1zM77.4 233.8h1.1v1.1h-1.1zM74.2 231.0h1.1v1.1h-1.1zM92.7 225.5h1.1v1.1h-1.1zM74.3 220.8h1.1v1.1h-1.1zM92.9 216.7h1.1v1.1h-1.1zM73.4 219.1h1.1v1.1h-1.1zM92.3 215.7h1.1v1.1h-1.1zM85.6 204.1h1.1v1.1h-1.1zM80.6 202.1h1.1v1.1h-1.1zM76.2 214.0h1.1v1.1h-1.1zM86.9 210.9h1.1v1.1h-1.1zM66.8 228.2h1.1v1.1h-1.1zM82.1 232.5h1.1v1.1h-1.1zM80.9 214.2h1.1v1.1h-1.1zM91.1 217.9h1.1v1.1h-1.1zM72.8 213.1h1.1v1.1h-1.1zM81.7 191.0h1.1v1.1h-1.1zM73.9 236.3h1.1v1.1h-1.1zM97.8 216.3h1.1v1.1h-1.1zM82.9 235.4h1.1v1.1h-1.1zM76.2 227.9h1.1v1.1h-1.1zM84.8 242.0h1.1v1.1h-1.1zM78.1 237.1h1.1v1.1h-1.1zM81.7 241.8h1.1v1.1h-1.1zM99.5 215.2h1.1v1.1h-1.1zM88.4 215.7h1.1v1.1h-1.1zM86.1 222.9h1.1v1.1h-1.1zM88.0 205.1h1.1v1.1h-1.1zM84.1 204.6h1.1v1.1h-1.1zM92.7 218.0h1.1v1.1h-1.1zM93.0 220.2h1.1v1.1h-1.1zM81.2 223.6h1.1v1.1h-1.1zM85.7 224.5h1.1v1.1h-1.1zM88.7 216.2h1.1v1.1h-1.1zM82.9 223.8h1.1v1.1h-1.1zM84.8 213.7h1.1v1.1h-1.1zM74.3 226.6h1.1v1.1h-1.1zM91.1 214.8h1.1v1.1h-1.1zM76.2 222.1h1.1v1.1h-1.1zM80.0 205.9h1.1v1.1h-1.1zM87.8 206.2h1.1v1.1h-1.1zM83.5 235.6h1.1v1.1h-1.1zM77.5 223.2h1.1v1.1h-1.1zM79.5 213.1h1.1v1.1h-1.1zM79.1 226.0h1.1v1.1h-1.1zM95.7 208.2h1.1v1.1h-1.1zM77.9 217.6h1.1v1.1h-1.1zM79.3 214.5h1.1v1.1h-1.1zM79.4 217.6h1.1v1.1h-1.1zM98.8 210.6h1.1v1.1h-1.1zM97.2 233.0h1.1v1.1h-1.1zM83.2 230.1h1.1v1.1h-1.1zM71.2 234.1h1.1v1.1h-1.1zM89.0 200.2h1.1v1.1h-1.1zM91.1 214.9h1.1v1.1h-1.1zM93.9 213.5h1.1v1.1h-1.1zM85.4 217.6h1.1v1.1h-1.1zM96.1 222.7h1.1v1.1h-1.1zM97.9 224.8h1.1v1.1h-1.1zM74.7 212.7h1.1v1.1h-1.1zM98.2 220.6h1.1v1.1h-1.1zM86.3 201.9h1.1v1.1h-1.1zM79.3 218.8h1.1v1.1h-1.1zM81.7 219.4h1.1v1.1h-1.1zM94.0 218.3h1.1v1.1h-1.1zM67.7 223.3h1.1v1.1h-1.1zM85.5 202.8h1.1v1.1h-1.1zM83.4 194.3h1.1v1.1h-1.1zM83.0 232.8h1.1v1.1h-1.1zM79.8 218.0h1.1v1.1h-1.1zM70.9 215.1h1.1v1.1h-1.1zM92.9 227.7h1.1v1.1h-1.1zM75.8 228.7h1.1v1.1h-1.1zM81.2 225.5h1.1v1.1h-1.1zM79.0 247.5h1.1v1.1h-1.1zM77.8 214.1h1.1v1.1h-1.1zM91.7 218.5h1.1v1.1h-1.1zM88.3 219.8h1.1v1.1h-1.1zM78.3 220.3h1.1v1.1h-1.1zM75.7 219.0h1.1v1.1h-1.1zM80.2 195.3h1.1v1.1h-1.1zM93.9 215.5h1.1v1.1h-1.1zM85.9 210.2h1.1v1.1h-1.1zM86.9 224.8h1.1v1.1h-1.1zM81.6 216.5h1.1v1.1h-1.1zM82.2 223.7h1.1v1.1h-1.1zM86.7 220.8h1.1v1.1h-1.1zM67.2 233.7h1.1v1.1h-1.1zM100.0 225.0h1.1v1.1h-1.1zM77.2 216.4h1.1v1.1h-1.1zM79.3 212.7h1.1v1.1h-1.1zM97.4 211.6h1.1v1.1h-1.1zM86.8 226.5h1.1v1.1h-1.1zM85.1 216.0h1.1v1.1h-1.1zM79.2 248.7h1.1v1.1h-1.1zM69.9 212.7h1.1v1.1h-1.1zM86.4 219.6h1.1v1.1h-1.1zM96.0 214.0h1.1v1.1h-1.1zM76.2 208.8h1.1v1.1h-1.1zM97.6 221.2h1.1v1.1h-1.1zM74.0 211.6h1.1v1.1h-1.1zM77.7 226.0h1.1v1.1h-1.1zM89.5 212.5h1.1v1.1h-1.1zM84.7 224.0h1.1v1.1h-1.1zM91.2 214.7h1.1v1.1h-1.1zM77.7 205.3h1.1v1.1h-1.1zM74.9 229.0h1.1v1.1h-1.1zM67.0 230.4h1.1v1.1h-1.1zM73.3 225.8h1.1v1.1h-1.1zM74.5 218.6h1.1v1.1h-1.1zM71.2 192.5h1.1v1.1h-1.1zM87.6 225.1h1.1v1.1h-1.1zM78.4 243.3h1.1v1.1h-1.1zM65.8 231.1h1.1v1.1h-1.1zM76.8 227.4h1.1v1.1h-1.1zM72.8 222.1h1.1v1.1h-1.1zM96.4 227.2h1.1v1.1h-1.1zM95.7 224.3h1.1v1.1h-1.1zM73.8 242.5h1.1v1.1h-1.1zM70.7 220.7h1.1v1.1h-1.1zM75.2 229.9h1.1v1.1h-1.1zM95.4 205.0h1.1v1.1h-1.1zM81.7 208.6h1.1v1.1h-1.1zM77.0 230.7h1.1v1.1h-1.1zM84.4 223.5h1.1v1.1h-1.1zM96.1 216.1h1.1v1.1h-1.1zM71.5 214.2h1.1v1.1h-1.1zM81.1 238.6h1.1v1.1h-1.1zM71.6 223.2h1.1v1.1h-1.1zM93.7 214.8h1.1v1.1h-1.1zM83.4 219.6h1.1v1.1h-1.1zM90.9 230.9h1.1v1.1h-1.1zM64.8 213.6h1.1v1.1h-1.1zM87.3 215.8h1.1v1.1h-1.1zM72.0 220.5h1.1v1.1h-1.1zM72.1 214.3h1.1v1.1h-1.1zM78.0 212.2h1.1v1.1h-1.1zM81.4 240.8h1.1v1.1h-1.1zM90.1 212.7h1.1v1.1h-1.1zM91.3 224.1h1.1v1.1h-1.1zM87.2 216.9h1.1v1.1h-1.1zM75.7 229.2h1.1v1.1h-1.1zM91.1 227.2h1.1v1.1h-1.1zM83.5 209.1h1.1v1.1h-1.1zM95.9 216.7h1.1v1.1h-1.1zM76.0 224.4h1.1v1.1h-1.1zM58.5 228.5h1.1v1.1h-1.1zM80.2 219.4h1.1v1.1h-1.1zM89.1 244.1h1.1v1.1h-1.1zM82.8 229.2h1.1v1.1h-1.1zM93.1 219.8h1.1v1.1h-1.1zM89.5 209.9h1.1v1.1h-1.1zM89.1 203.2h1.1v1.1h-1.1zM79.8 230.5h1.1v1.1h-1.1zM85.4 197.7h1.1v1.1h-1.1zM86.6 217.6h1.1v1.1h-1.1zM78.6 215.1h1.1v1.1h-1.1zM74.1 227.4h1.1v1.1h-1.1zM86.0 225.3h1.1v1.1h-1.1zM93.9 201.1h1.1v1.1h-1.1zM90.8 219.9h1.1v1.1h-1.1zM89.4 219.0h1.1v1.1h-1.1zM89.5 205.1h1.1v1.1h-1.1zM87.2 234.8h1.1v1.1h-1.1zM94.6 218.6h1.1v1.1h-1.1zM85.2 198.9h1.1v1.1h-1.1zM87.2 191.3h1.1v1.1h-1.1zM94.6 217.1h1.1v1.1h-1.1zM87.7 208.6h1.1v1.1h-1.1zM88.1 205.4h1.1v1.1h-1.1zM85.6 222.1h1.1v1.1h-1.1zM73.3 212.0h1.1v1.1h-1.1zM95.3 223.9h1.1v1.1h-1.1zM82.3 248.6h1.1v1.1h-1.1zM68.4 237.7h1.1v1.1h-1.1zM83.3 216.7h1.1v1.1h-1.1zM68.3 213.9h1.1v1.1h-1.1zM75.2 245.6h1.1v1.1h-1.1zM84.9 238.4h1.1v1.1h-1.1zM76.0 221.0h1.1v1.1h-1.1zM94.9 253.2h1.1v1.1h-1.1zM70.8 215.7h1.1v1.1h-1.1zM87.2 206.6h1.1v1.1h-1.1zM90.0 249.9h1.1v1.1h-1.1zM98.6 206.8h1.1v1.1h-1.1zM93.5 218.5h1.1v1.1h-1.1zM87.0 202.4h1.1v1.1h-1.1zM85.5 215.2h1.1v1.1h-1.1zM84.2 221.1h1.1v1.1h-1.1zM95.6 214.5h1.1v1.1h-1.1zM78.6 209.5h1.1v1.1h-1.1zM89.7 215.1h1.1v1.1h-1.1zM83.9 218.1h1.1v1.1h-1.1zM87.1 233.6h1.1v1.1h-1.1zM82.3 213.6h1.1v1.1h-1.1zM78.6 199.6h1.1v1.1h-1.1zM87.2 217.8h1.1v1.1h-1.1zM87.4 218.6h1.1v1.1h-1.1zM90.6 223.7h1.1v1.1h-1.1zM89.1 209.3h1.1v1.1h-1.1zM88.8 219.5h1.1v1.1h-1.1zM94.1 223.7h1.1v1.1h-1.1zM70.5 204.0h1.1v1.1h-1.1zM84.9 198.6h1.1v1.1h-1.1zM73.1 225.9h1.1v1.1h-1.1zM87.0 228.8h1.1v1.1h-1.1zM73.6 208.4h1.1v1.1h-1.1zM75.7 229.4h1.1v1.1h-1.1zM84.2 187.3h1.1v1.1h-1.1zM98.0 216.5h1.1v1.1h-1.1zM90.3 206.3h1.1v1.1h-1.1zM87.6 231.7h1.1v1.1h-1.1zM98.1 215.3h1.1v1.1h-1.1zM75.9 208.2h1.1v1.1h-1.1zM65.0 217.9h1.1v1.1h-1.1zM80.8 224.9h1.1v1.1h-1.1zM82.2 191.8h1.1v1.1h-1.1zM96.5 207.2h1.1v1.1h-1.1zM72.2 227.7h1.1v1.1h-1.1zM99.6 199.7h1.1v1.1h-1.1zM92.8 224.6h1.1v1.1h-1.1zM88.3 216.9h1.1v1.1h-1.1zM85.6 204.1h1.1v1.1h-1.1zM80.3 220.9h1.1v1.1h-1.1zM86.1 208.3h1.1v1.1h-1.1zM71.8 214.9h1.1v1.1h-1.1zM89.3 223.3h1.1v1.1h-1.1zM83.8 210.6h1.1v1.1h-1.1zM88.0 207.0h1.1v1.1h-1.1zM88.2 229.8h1.1v1.1h-1.1zM74.8 212.7h1.1v1.1h-1.1zM97.3 176.0h1.1v1.1h-1.1zM75.2 223.5h1.1v1.1h-1.1zM93.2 209.0h1.1v1.1h-1.1zM69.7 236.2h1.1v1.1h-1.1zM88.3 212.1h1.1v1.1h-1.1zM77.1 226.3h1.1v1.1h-1.1zM85.2 209.5h1.1v1.1h-1.1zM78.7 220.0h1.1v1.1h-1.1zM64.1 235.8h1.1v1.1h-1.1zM74.3 208.4h1.1v1.1h-1.1zM85.5 220.2h1.1v1.1h-1.1zM90.7 227.8h1.1v1.1h-1.1zM70.9 220.6h1.1v1.1h-1.1zM64.7 233.4h1.1v1.1h-1.1zM76.6 215.6h1.1v1.1h-1.1zM82.8 219.2h1.1v1.1h-1.1zM78.8 223.5h1.1v1.1h-1.1zM77.2 212.5h1.1v1.1h-1.1zM92.9 230.2h1.1v1.1h-1.1zM94.0 205.1h1.1v1.1h-1.1zM91.9 238.4h1.1v1.1h-1.1zM75.9 202.4h1.1v1.1h-1.1zM85.6 215.8h1.1v1.1h-1.1zM83.0 221.3h1.1v1.1h-1.1zM71.3 229.3h1.1v1.1h-1.1zM93.2 210.0h1.1v1.1h-1.1zM85.7 219.6h1.1v1.1h-1.1zM80.2 221.0h1.1v1.1h-1.1zM98.3 203.5h1.1v1.1h-1.1zM92.1 221.1h1.1v1.1h-1.1zM92.9 218.7h1.1v1.1h-1.1zM96.2 210.6h1.1v1.1h-1.1zM91.6 204.6h1.1v1.1h-1.1zM72.8 222.5h1.1v1.1h-1.1zM81.1 217.1h1.1v1.1h-1.1zM94.3 215.3h1.1v1.1h-1.1zM77.5 211.5h1.1v1.1h-1.1zM85.2 201.5h1.1v1.1h-1.1zM88.6 227.4h1.1v1.1h-1.1zM98.5 216.3h1.1v1.1h-1.1zM97.1 215.6h1.1v1.1h-1.1zM93.3 209.5h1.1v1.1h-1.1zM83.1 201.8h1.1v1.1h-1.1zM93.5 216.1h1.1v1.1h-1.1zM89.8 214.5h1.1v1.1h-1.1zM83.3 205.9h1.1v1.1h-1.1zM97.7 228.7h1.1v1.1h-1.1zM89.5 225.4h1.1v1.1h-1.1zM77.7 224.7h1.1v1.1h-1.1zM96.8 215.3h1.1v1.1h-1.1zM82.4 216.0h1.1v1.1h-1.1zM90.4 222.4h1.1v1.1h-1.1zM70.4 202.0h1.1v1.1h-1.1zM84.6 225.9h1.1v1.1h-1.1zM75.8 222.4h1.1v1.1h-1.1zM75.6 208.2h1.1v1.1h-1.1zM66.7 213.8h1.1v1.1h-1.1zM83.4 214.2h1.1v1.1h-1.1zM87.0 208.5h1.1v1.1h-1.1zM95.3 215.7h1.1v1.1h-1.1zM83.6 211.2h1.1v1.1h-1.1zM89.7 227.1h1.1v1.1h-1.1zM71.9 220.3h1.1v1.1h-1.1zM86.6 235.9h1.1v1.1h-1.1zM80.9 228.9h1.1v1.1h-1.1zM89.5 229.7h1.1v1.1h-1.1zM86.5 203.9h1.1v1.1h-1.1zM71.6 226.4h1.1v1.1h-1.1zM67.2 219.0h1.1v1.1h-1.1zM75.2 230.7h1.1v1.1h-1.1zM91.8 218.8h1.1v1.1h-1.1zM88.8 220.4h1.1v1.1h-1.1zM88.6 226.8h1.1v1.1h-1.1zM65.6 213.2h1.1v1.1h-1.1zM59.3 242.7h1.1v1.1h-1.1zM78.9 212.7h1.1v1.1h-1.1zM81.6 189.5h1.1v1.1h-1.1zM79.0 228.7h1.1v1.1h-1.1zM88.1 217.2h1.1v1.1h-1.1zM83.1 236.0h1.1v1.1h-1.1zM73.5 221.3h1.1v1.1h-1.1zM76.4 239.6h1.1v1.1h-1.1zM86.1 211.1h1.1v1.1h-1.1zM85.4 223.8h1.1v1.1h-1.1zM84.0 239.2h1.1v1.1h-1.1zM82.2 236.8h1.1v1.1h-1.1zM85.9 221.5h1.1v1.1h-1.1zM75.3 211.4h1.1v1.1h-1.1zM81.3 223.9h1.1v1.1h-1.1zM89.7 230.6h1.1v1.1h-1.1zM90.1 226.8h1.1v1.1h-1.1zM83.2 217.8h1.1v1.1h-1.1zM88.4 245.0h1.1v1.1h-1.1zM85.2 212.2h1.1v1.1h-1.1zM66.9 218.6h1.1v1.1h-1.1zM53.7 253.6h1.1v1.1h-1.1zM92.6 235.4h1.1v1.1h-1.1zM84.2 221.6h1.1v1.1h-1.1zM68.2 209.8h1.1v1.1h-1.1zM72.6 240.2h1.1v1.1h-1.1zM97.5 236.7h1.1v1.1h-1.1zM58.3 237.9h1.1v1.1h-1.1zM81.6 232.0h1.1v1.1h-1.1zM92.9 218.8h1.1v1.1h-1.1zM86.0 224.8h1.1v1.1h-1.1zM91.8 223.1h1.1v1.1h-1.1zM83.4 224.9h1.1v1.1h-1.1zM74.9 231.1h1.1v1.1h-1.1zM71.8 218.7h1.1v1.1h-1.1zM87.3 218.7h1.1v1.1h-1.1zM98.2 227.5h1.1v1.1h-1.1zM84.2 199.1h1.1v1.1h-1.1zM94.6 231.2h1.1v1.1h-1.1zM79.7 212.3h1.1v1.1h-1.1zM73.5 230.3h1.1v1.1h-1.1zM98.0 212.1h1.1v1.1h-1.1zM99.6 209.9h1.1v1.1h-1.1zM99.2 206.2h1.1v1.1h-1.1zM80.5 204.4h1.1v1.1h-1.1zM73.7 231.2h1.1v1.1h-1.1zM73.6 189.9h1.1v1.1h-1.1zM82.6 215.1h1.1v1.1h-1.1zM90.2 226.9h1.1v1.1h-1.1zM89.5 233.1h1.1v1.1h-1.1zM71.1 196.1h1.1v1.1h-1.1zM86.5 200.3h1.1v1.1h-1.1zM84.9 219.2h1.1v1.1h-1.1zM85.5 210.3h1.1v1.1h-1.1zM84.5 204.4h1.1v1.1h-1.1zM82.8 218.3h1.1v1.1h-1.1zM90.3 222.4h1.1v1.1h-1.1zM85.9 219.1h1.1v1.1h-1.1zM86.8 209.1h1.1v1.1h-1.1zM78.1 220.2h1.1v1.1h-1.1zM88.4 231.8h1.1v1.1h-1.1zM83.5 210.8h1.1v1.1h-1.1zM64.6 242.9h1.1v1.1h-1.1zM89.3 226.2h1.1v1.1h-1.1zM82.2 205.7h1.1v1.1h-1.1zM93.5 214.2h1.1v1.1h-1.1zM83.2 216.6h1.1v1.1h-1.1zM83.8 217.9h1.1v1.1h-1.1zM86.7 206.9h1.1v1.1h-1.1zM84.6 219.5h1.1v1.1h-1.1zM80.5 241.7h1.1v1.1h-1.1zM67.7 220.2h1.1v1.1h-1.1zM69.7 245.4h1.1v1.1h-1.1zM81.5 202.0h1.1v1.1h-1.1zM90.9 205.8h1.1v1.1h-1.1zM88.3 223.3h1.1v1.1h-1.1zM90.1 218.5h1.1v1.1h-1.1zM92.0 216.3h1.1v1.1h-1.1zM96.7 204.9h1.1v1.1h-1.1zM87.5 226.9h1.1v1.1h-1.1zM75.1 228.2h1.1v1.1h-1.1zM86.8 216.9h1.1v1.1h-1.1zM81.3 216.8h1.1v1.1h-1.1zM79.5 224.6h1.1v1.1h-1.1zM87.4 209.8h1.1v1.1h-1.1zM98.5 227.1h1.1v1.1h-1.1zM78.0 221.4h1.1v1.1h-1.1zM78.0 228.3h1.1v1.1h-1.1zM91.6 228.6h1.1v1.1h-1.1zM89.8 204.0h1.1v1.1h-1.1zM94.4 227.9h1.1v1.1h-1.1zM86.9 218.0h1.1v1.1h-1.1zM81.6 230.9h1.1v1.1h-1.1zM86.7 211.8h1.1v1.1h-1.1zM83.0 209.9h1.1v1.1h-1.1zM71.8 210.5h1.1v1.1h-1.1zM84.8 230.8h1.1v1.1h-1.1zM83.0 221.0h1.1v1.1h-1.1zM82.5 198.9h1.1v1.1h-1.1zM80.6 222.3h1.1v1.1h-1.1zM91.3 200.3h1.1v1.1h-1.1zM93.6 232.3h1.1v1.1h-1.1zM78.9 206.8h1.1v1.1h-1.1zM75.0 212.8h1.1v1.1h-1.1zM82.0 209.8h1.1v1.1h-1.1zM87.0 199.5h1.1v1.1h-1.1zM81.4 214.5h1.1v1.1h-1.1zM82.9 218.5h1.1v1.1h-1.1zM93.8 209.9h1.1v1.1h-1.1zM87.5 222.1h1.1v1.1h-1.1zM75.4 215.6h1.1v1.1h-1.1zM80.6 242.4h1.1v1.1h-1.1zM78.5 201.1h1.1v1.1h-1.1zM86.4 224.4h1.1v1.1h-1.1zM73.6 215.5h1.1v1.1h-1.1zM83.0 215.8h1.1v1.1h-1.1zM91.3 216.2h1.1v1.1h-1.1zM85.0 217.6h1.1v1.1h-1.1zM76.0 220.2h1.1v1.1h-1.1zM78.8 238.6h1.1v1.1h-1.1zM85.9 224.8h1.1v1.1h-1.1zM89.3 204.5h1.1v1.1h-1.1zM92.6 228.5h1.1v1.1h-1.1zM83.3 231.0h1.1v1.1h-1.1zM72.2 198.2h1.1v1.1h-1.1zM98.2 202.3h1.1v1.1h-1.1zM87.5 200.8h1.1v1.1h-1.1zM88.5 218.2h1.1v1.1h-1.1zM87.6 215.3h1.1v1.1h-1.1zM74.9 212.8h1.1v1.1h-1.1zM81.7 213.4h1.1v1.1h-1.1zM87.1 219.4h1.1v1.1h-1.1zM94.5 233.0h1.1v1.1h-1.1zM85.3 227.0h1.1v1.1h-1.1zM55.1 242.8h1.1v1.1h-1.1zM82.4 202.0h1.1v1.1h-1.1zM88.0 222.7h1.1v1.1h-1.1zM97.0 218.2h1.1v1.1h-1.1zM91.4 214.3h1.1v1.1h-1.1zM98.2 210.0h1.1v1.1h-1.1zM97.5 223.1h1.1v1.1h-1.1zM93.6 234.0h1.1v1.1h-1.1zM71.6 202.7h1.1v1.1h-1.1zM92.7 225.2h1.1v1.1h-1.1zM90.4 223.1h1.1v1.1h-1.1zM79.7 229.2h1.1v1.1h-1.1zM90.2 224.0h1.1v1.1h-1.1zM88.7 218.1h1.1v1.1h-1.1zM80.3 212.0h1.1v1.1h-1.1zM83.5 231.3h1.1v1.1h-1.1zM82.2 216.6h1.1v1.1h-1.1zM86.9 226.3h1.1v1.1h-1.1zM80.7 206.9h1.1v1.1h-1.1zM89.9 231.8h1.1v1.1h-1.1zM66.5 222.5h1.1v1.1h-1.1zM82.0 212.0h1.1v1.1h-1.1zM68.7 238.2h1.1v1.1h-1.1zM80.1 219.2h1.1v1.1h-1.1zM89.6 216.6h1.1v1.1h-1.1zM84.9 228.2h1.1v1.1h-1.1zM83.6 222.0h1.1v1.1h-1.1zM85.3 208.3h1.1v1.1h-1.1zM99.6 213.2h1.1v1.1h-1.1zM74.2 226.5h1.1v1.1h-1.1zM93.1 219.8h1.1v1.1h-1.1zM70.4 217.9h1.1v1.1h-1.1zM80.3 206.4h1.1v1.1h-1.1zM86.2 210.3h1.1v1.1h-1.1zM76.6 213.3h1.1v1.1h-1.1zM86.6 201.7h1.1v1.1h-1.1zM91.6 234.9h1.1v1.1h-1.1zM73.4 238.0h1.1v1.1h-1.1zM84.0 244.8h1.1v1.1h-1.1zM81.1 211.1h1.1v1.1h-1.1zM66.3 249.1h1.1v1.1h-1.1zM82.9 220.4h1.1v1.1h-1.1zM77.1 213.0h1.1v1.1h-1.1zM97.4 232.0h1.1v1.1h-1.1zM76.4 228.8h1.1v1.1h-1.1zM79.6 212.7h1.1v1.1h-1.1zM89.8 214.9h1.1v1.1h-1.1zM89.0 210.9h1.1v1.1h-1.1zM92.3 216.3h1.1v1.1h-1.1zM93.2 215.9h1.1v1.1h-1.1zM98.0 202.7h1.1v1.1h-1.1zM81.4 220.7h1.1v1.1h-1.1zM72.8 226.1h1.1v1.1h-1.1zM59.4 218.4h1.1v1.1h-1.1zM81.0 223.7h1.1v1.1h-1.1zM91.9 210.8h1.1v1.1h-1.1zM88.3 217.7h1.1v1.1h-1.1zM85.8 207.0h1.1v1.1h-1.1zM81.4 229.1h1.1v1.1h-1.1zM78.6 220.3h1.1v1.1h-1.1zM82.0 216.5h1.1v1.1h-1.1zM88.4 214.3h1.1v1.1h-1.1zM68.0 211.2h1.1v1.1h-1.1zM91.6 213.7h1.1v1.1h-1.1zM70.9 213.0h1.1v1.1h-1.1zM83.2 198.5h1.1v1.1h-1.1zM78.7 211.8h1.1v1.1h-1.1zM81.2 232.1h1.1v1.1h-1.1zM74.8 237.7h1.1v1.1h-1.1zM73.7 214.9h1.1v1.1h-1.1zM82.5 224.3h1.1v1.1h-1.1zM74.4 218.9h1.1v1.1h-1.1zM80.7 206.3h1.1v1.1h-1.1zM78.4 208.0h1.1v1.1h-1.1zM79.4 233.3h1.1v1.1h-1.1zM74.5 219.1h1.1v1.1h-1.1zM61.4 228.5h1.1v1.1h-1.1zM82.2 234.6h1.1v1.1h-1.1zM87.6 211.9h1.1v1.1h-1.1zM70.4 224.6h1.1v1.1h-1.1zM84.7 214.9h1.1v1.1h-1.1zM73.2 195.3h1.1v1.1h-1.1zM84.3 205.3h1.1v1.1h-1.1zM88.0 206.8h1.1v1.1h-1.1zM89.2 223.1h1.1v1.1h-1.1zM88.7 231.7h1.1v1.1h-1.1zM77.9 207.6h1.1v1.1h-1.1zM93.0 221.1h1.1v1.1h-1.1zM80.4 220.2h1.1v1.1h-1.1zM87.9 223.1h1.1v1.1h-1.1zM91.3 217.1h1.1v1.1h-1.1zM81.7 194.1h1.1v1.1h-1.1zM72.4 226.1h1.1v1.1h-1.1zM90.4 221.5h1.1v1.1h-1.1zM74.0 220.0h1.1v1.1h-1.1zM76.2 218.6h1.1v1.1h-1.1zM74.2 235.4h1.1v1.1h-1.1zM92.6 237.3h1.1v1.1h-1.1zM83.1 226.5h1.1v1.1h-1.1zM63.3 227.1h1.1v1.1h-1.1zM91.6 226.8h1.1v1.1h-1.1zM79.2 225.5h1.1v1.1h-1.1zM85.3 221.0h1.1v1.1h-1.1zM89.4 236.6h1.1v1.1h-1.1zM93.1 224.0h1.1v1.1h-1.1zM84.9 216.0h1.1v1.1h-1.1zM74.2 223.8h1.1v1.1h-1.1zM91.7 233.2h1.1v1.1h-1.1zM90.4 222.5h1.1v1.1h-1.1zM72.0 223.2h1.1v1.1h-1.1zM81.1 212.4h1.1v1.1h-1.1zM87.1 237.2h1.1v1.1h-1.1zM84.6 212.6h1.1v1.1h-1.1zM89.6 223.9h1.1v1.1h-1.1zM92.1 216.1h1.1v1.1h-1.1zM89.7 211.4h1.1v1.1h-1.1zM83.5 229.8h1.1v1.1h-1.1zM71.8 231.9h1.1v1.1h-1.1zM90.4 220.0h1.1v1.1h-1.1zM97.9 209.1h1.1v1.1h-1.1zM84.3 235.6h1.1v1.1h-1.1zM84.2 227.8h1.1v1.1h-1.1zM98.3 212.7h1.1v1.1h-1.1zM98.2 204.3h1.1v1.1h-1.1zM87.8 224.9h1.1v1.1h-1.1zM91.3 222.1h1.1v1.1h-1.1zM77.4 223.8h1.1v1.1h-1.1zM90.1 220.4h1.1v1.1h-1.1zM76.7 232.4h1.1v1.1h-1.1zM83.2 225.4h1.1v1.1h-1.1zM83.4 218.2h1.1v1.1h-1.1zM80.1 220.2h1.1v1.1h-1.1zM64.5 224.7h1.1v1.1h-1.1zM76.7 233.0h1.1v1.1h-1.1zM87.7 225.5h1.1v1.1h-1.1zM84.0 228.2h1.1v1.1h-1.1zM80.8 209.7h1.1v1.1h-1.1zM88.6 203.5h1.1v1.1h-1.1zM91.1 215.0h1.1v1.1h-1.1zM92.6 201.0h1.1v1.1h-1.1zM76.9 225.2h1.1v1.1h-1.1zM84.7 223.3h1.1v1.1h-1.1zM81.4 235.1h1.1v1.1h-1.1zM76.2 219.7h1.1v1.1h-1.1zM70.4 228.5h1.1v1.1h-1.1zM83.6 219.4h1.1v1.1h-1.1zM76.3 216.9h1.1v1.1h-1.1zM83.6 232.6h1.1v1.1h-1.1zM82.4 221.2h1.1v1.1h-1.1zM80.8 221.9h1.1v1.1h-1.1zM75.6 215.0h1.1v1.1h-1.1zM83.0 222.9h1.1v1.1h-1.1zM77.2 224.8h1.1v1.1h-1.1zM83.4 201.6h1.1v1.1h-1.1zM84.2 208.6h1.1v1.1h-1.1zM94.9 218.7h1.1v1.1h-1.1zM71.1 233.4h1.1v1.1h-1.1zM84.3 225.0h1.1v1.1h-1.1zM99.8 212.4h1.1v1.1h-1.1zM79.7 212.1h1.1v1.1h-1.1zM82.8 194.4h1.1v1.1h-1.1zM76.1 224.7h1.1v1.1h-1.1zM59.7 224.2h1.1v1.1h-1.1zM83.5 224.1h1.1v1.1h-1.1zM95.7 216.5h1.1v1.1h-1.1zM80.1 225.1h1.1v1.1h-1.1zM67.0 235.6h1.1v1.1h-1.1zM87.1 208.3h1.1v1.1h-1.1zM85.3 218.3h1.1v1.1h-1.1zM94.0 203.8h1.1v1.1h-1.1zM93.2 223.3h1.1v1.1h-1.1zM82.0 217.6h1.1v1.1h-1.1zM88.3 211.9h1.1v1.1h-1.1zM67.5 244.2h1.1v1.1h-1.1zM95.1 231.6h1.1v1.1h-1.1zM86.3 211.3h1.1v1.1h-1.1zM94.8 216.3h1.1v1.1h-1.1zM94.6 237.3h1.1v1.1h-1.1zM81.8 228.4h1.1v1.1h-1.1zM83.1 231.4h1.1v1.1h-1.1zM76.2 226.9h1.1v1.1h-1.1zM64.9 207.7h1.1v1.1h-1.1zM83.3 226.2h1.1v1.1h-1.1zM86.0 197.5h1.1v1.1h-1.1zM74.2 224.8h1.1v1.1h-1.1zM91.3 226.0h1.1v1.1h-1.1zM85.5 202.5h1.1v1.1h-1.1zM88.8 208.4h1.1v1.1h-1.1zM77.2 206.5h1.1v1.1h-1.1zM67.8 202.6h1.1v1.1h-1.1zM91.9 206.4h1.1v1.1h-1.1zM90.3 205.0h1.1v1.1h-1.1zM83.5 238.4h1.1v1.1h-1.1zM80.5 229.4h1.1v1.1h-1.1zM81.9 215.4h1.1v1.1h-1.1zM83.2 217.6h1.1v1.1h-1.1zM79.7 212.8h1.1v1.1h-1.1zM65.5 229.1h1.1v1.1h-1.1zM92.0 205.7h1.1v1.1h-1.1zM70.4 200.9h1.1v1.1h-1.1zM81.4 213.8h1.1v1.1h-1.1zM81.6 211.0h1.1v1.1h-1.1zM87.0 213.3h1.1v1.1h-1.1zM69.2 212.9h1.1v1.1h-1.1zM96.0 214.3h1.1v1.1h-1.1zM90.8 223.3h1.1v1.1h-1.1zM91.8 215.4h1.1v1.1h-1.1zM96.6 215.3h1.1v1.1h-1.1zM77.0 237.5h1.1v1.1h-1.1zM54.9 223.7h1.1v1.1h-1.1zM87.7 218.2h1.1v1.1h-1.1zM97.0 214.1h1.1v1.1h-1.1zM95.6 222.6h1.1v1.1h-1.1zM79.5 215.2h1.1v1.1h-1.1zM83.7 212.7h1.1v1.1h-1.1zM87.3 226.2h1.1v1.1h-1.1zM67.5 219.8h1.1v1.1h-1.1zM78.3 212.3h1.1v1.1h-1.1zM78.6 212.6h1.1v1.1h-1.1zM99.6 225.7h1.1v1.1h-1.1zM78.5 231.8h1.1v1.1h-1.1zM99.5 215.5h1.1v1.1h-1.1zM84.8 230.6h1.1v1.1h-1.1zM68.8 196.1h1.1v1.1h-1.1zM75.5 230.2h1.1v1.1h-1.1zM90.5 211.1h1.1v1.1h-1.1zM79.6 246.1h1.1v1.1h-1.1zM73.0 223.9h1.1v1.1h-1.1zM94.6 228.0h1.1v1.1h-1.1zM85.3 225.2h1.1v1.1h-1.1zM73.1 239.9h1.1v1.1h-1.1zM74.4 232.0h1.1v1.1h-1.1zM81.0 222.5h1.1v1.1h-1.1zM93.8 218.6h1.1v1.1h-1.1zM82.0 232.6h1.1v1.1h-1.1zM90.9 226.3h1.1v1.1h-1.1zM96.7 215.8h1.1v1.1h-1.1zM98.3 218.6h1.1v1.1h-1.1zM96.4 230.9h1.1v1.1h-1.1zM69.4 216.9h1.1v1.1h-1.1zM96.3 225.0h1.1v1.1h-1.1zM87.8 215.3h1.1v1.1h-1.1zM83.5 230.4h1.1v1.1h-1.1zM74.4 219.5h1.1v1.1h-1.1zM69.6 225.2h1.1v1.1h-1.1zM74.2 222.2h1.1v1.1h-1.1zM84.5 215.0h1.1v1.1h-1.1zM73.6 218.2h1.1v1.1h-1.1zM77.0 220.4h1.1v1.1h-1.1zM78.8 220.0h1.1v1.1h-1.1zM91.0 232.6h1.1v1.1h-1.1zM81.9 221.8h1.1v1.1h-1.1zM83.3 244.3h1.1v1.1h-1.1zM97.3 241.6h1.1v1.1h-1.1zM81.6 224.5h1.1v1.1h-1.1zM90.4 221.4h1.1v1.1h-1.1zM74.7 206.6h1.1v1.1h-1.1zM87.8 212.5h1.1v1.1h-1.1zM85.8 208.1h1.1v1.1h-1.1zM86.4 223.3h1.1v1.1h-1.1zM80.3 216.6h1.1v1.1h-1.1zM74.9 210.1h1.1v1.1h-1.1zM81.9 215.3h1.1v1.1h-1.1zM80.3 217.5h1.1v1.1h-1.1zM94.5 216.8h1.1v1.1h-1.1zM93.3 228.1h1.1v1.1h-1.1zM73.3 232.5h1.1v1.1h-1.1zM90.6 234.2h1.1v1.1h-1.1zM80.1 216.8h1.1v1.1h-1.1zM89.0 222.1h1.1v1.1h-1.1zM80.1 228.5h1.1v1.1h-1.1zM70.7 219.6h1.1v1.1h-1.1zM94.3 224.0h1.1v1.1h-1.1zM89.0 207.8h1.1v1.1h-1.1zM73.1 202.2h1.1v1.1h-1.1zM66.8 219.4h1.1v1.1h-1.1zM79.6 228.7h1.1v1.1h-1.1zM73.5 238.8h1.1v1.1h-1.1zM81.2 199.1h1.1v1.1h-1.1zM90.6 213.8h1.1v1.1h-1.1zM98.6 229.4h1.1v1.1h-1.1zM81.3 209.2h1.1v1.1h-1.1zM97.7 234.9h1.1v1.1h-1.1zM95.7 222.2h1.1v1.1h-1.1zM80.6 223.5h1.1v1.1h-1.1zM68.9 227.6h1.1v1.1h-1.1zM92.8 230.4h1.1v1.1h-1.1zM90.5 192.7h1.1v1.1h-1.1zM98.3 212.6h1.1v1.1h-1.1zM92.1 217.8h1.1v1.1h-1.1zM74.8 228.2h1.1v1.1h-1.1zM86.6 217.3h1.1v1.1h-1.1zM82.1 210.5h1.1v1.1h-1.1zM90.1 214.7h1.1v1.1h-1.1zM55.7 230.4h1.1v1.1h-1.1zM97.7 210.5h1.1v1.1h-1.1zM76.2 248.7h1.1v1.1h-1.1zM92.1 211.7h1.1v1.1h-1.1zM80.2 227.7h1.1v1.1h-1.1zM87.1 225.6h1.1v1.1h-1.1zM90.8 249.3h1.1v1.1h-1.1zM86.6 231.0h1.1v1.1h-1.1zM75.8 215.4h1.1v1.1h-1.1zM98.1 191.7h1.1v1.1h-1.1zM88.6 226.6h1.1v1.1h-1.1zM84.7 227.1h1.1v1.1h-1.1zM91.5 212.9h1.1v1.1h-1.1zM79.8 217.9h1.1v1.1h-1.1zM87.0 221.1h1.1v1.1h-1.1zM88.3 223.2h1.1v1.1h-1.1zM88.1 212.3h1.1v1.1h-1.1zM76.2 213.2h1.1v1.1h-1.1zM73.7 203.3h1.1v1.1h-1.1zM86.9 209.3h1.1v1.1h-1.1zM88.2 211.8h1.1v1.1h-1.1zM97.6 215.1h1.1v1.1h-1.1zM89.1 208.6h1.1v1.1h-1.1zM74.5 232.9h1.1v1.1h-1.1zM89.9 195.2h1.1v1.1h-1.1zM92.7 214.8h1.1v1.1h-1.1zM94.4 202.2h1.1v1.1h-1.1zM88.0 227.6h1.1v1.1h-1.1zM73.3 211.3h1.1v1.1h-1.1zM95.9 212.8h1.1v1.1h-1.1zM77.9 223.4h1.1v1.1h-1.1zM90.3 225.7h1.1v1.1h-1.1zM70.0 232.8h1.1v1.1h-1.1zM92.1 198.5h1.1v1.1h-1.1zM77.4 208.2h1.1v1.1h-1.1zM95.1 216.0h1.1v1.1h-1.1zM96.0 225.0h1.1v1.1h-1.1zM73.8 242.3h1.1v1.1h-1.1zM75.9 241.3h1.1v1.1h-1.1zM76.6 228.3h1.1v1.1h-1.1zM91.1 219.9h1.1v1.1h-1.1zM88.1 231.7h1.1v1.1h-1.1zM86.4 210.7h1.1v1.1h-1.1zM87.8 213.4h1.1v1.1h-1.1zM90.3 216.7h1.1v1.1h-1.1zM91.0 237.4h1.1v1.1h-1.1zM84.3 220.2h1.1v1.1h-1.1zM86.8 233.0h1.1v1.1h-1.1zM67.2 247.7h1.1v1.1h-1.1zM72.3 201.8h1.1v1.1h-1.1zM78.3 214.5h1.1v1.1h-1.1zM73.6 226.6h1.1v1.1h-1.1zM86.9 201.8h1.1v1.1h-1.1zM94.7 205.3h1.1v1.1h-1.1zM80.7 215.8h1.1v1.1h-1.1zM80.2 218.3h1.1v1.1h-1.1zM79.9 212.4h1.1v1.1h-1.1zM86.0 203.5h1.1v1.1h-1.1zM79.6 220.2h1.1v1.1h-1.1zM88.8 221.3h1.1v1.1h-1.1zM87.6 212.7h1.1v1.1h-1.1zM88.0 249.7h1.1v1.1h-1.1zM92.0 217.1h1.1v1.1h-1.1zM85.0 224.1h1.1v1.1h-1.1zM86.1 219.6h1.1v1.1h-1.1zM84.3 216.2h1.1v1.1h-1.1zM92.3 216.8h1.1v1.1h-1.1zM85.2 218.9h1.1v1.1h-1.1zM80.4 222.2h1.1v1.1h-1.1zM80.4 215.8h1.1v1.1h-1.1zM76.9 227.1h1.1v1.1h-1.1zM84.8 209.0h1.1v1.1h-1.1zM79.0 239.5h1.1v1.1h-1.1zM80.7 218.5h1.1v1.1h-1.1zM96.2 212.1h1.1v1.1h-1.1zM83.4 233.9h1.1v1.1h-1.1zM95.5 221.9h1.1v1.1h-1.1zM87.2 204.7h1.1v1.1h-1.1zM92.8 219.3h1.1v1.1h-1.1zM78.9 230.8h1.1v1.1h-1.1zM86.1 252.0h1.1v1.1h-1.1zM92.5 216.8h1.1v1.1h-1.1zM94.2 210.8h1.1v1.1h-1.1zM86.9 196.8h1.1v1.1h-1.1zM92.8 217.9h1.1v1.1h-1.1zM73.6 220.9h1.1v1.1h-1.1zM76.6 229.1h1.1v1.1h-1.1zM88.7 219.5h1.1v1.1h-1.1zM92.4 218.2h1.1v1.1h-1.1zM80.8 212.4h1.1v1.1h-1.1zM82.9 214.1h1.1v1.1h-1.1zM81.2 228.9h1.1v1.1h-1.1zM82.8 225.4h1.1v1.1h-1.1zM73.2 207.4h1.1v1.1h-1.1zM71.0 233.4h1.1v1.1h-1.1zM83.8 211.8h1.1v1.1h-1.1zM68.1 205.9h1.1v1.1h-1.1zM75.3 214.8h1.1v1.1h-1.1zM78.3 218.5h1.1v1.1h-1.1zM74.6 207.2h1.1v1.1h-1.1zM86.8 215.4h1.1v1.1h-1.1zM80.3 220.9h1.1v1.1h-1.1zM83.8 222.2h1.1v1.1h-1.1zM75.0 209.5h1.1v1.1h-1.1zM77.5 213.8h1.1v1.1h-1.1zM89.4 201.8h1.1v1.1h-1.1zM87.9 222.6h1.1v1.1h-1.1zM80.1 224.2h1.1v1.1h-1.1zM87.9 223.7h1.1v1.1h-1.1zM86.2 216.3h1.1v1.1h-1.1zM86.0 227.0h1.1v1.1h-1.1zM99.6 206.1h1.1v1.1h-1.1zM80.6 217.0h1.1v1.1h-1.1zM88.4 229.6h1.1v1.1h-1.1zM88.4 251.3h1.1v1.1h-1.1zM82.2 240.3h1.1v1.1h-1.1zM73.4 206.7h1.1v1.1h-1.1zM90.9 218.9h1.1v1.1h-1.1zM86.9 217.6h1.1v1.1h-1.1zM84.9 224.4h1.1v1.1h-1.1zM84.6 215.5h1.1v1.1h-1.1zM84.6 240.8h1.1v1.1h-1.1zM75.9 243.7h1.1v1.1h-1.1zM87.1 237.1h1.1v1.1h-1.1zM67.2 223.1h1.1v1.1h-1.1zM84.1 212.2h1.1v1.1h-1.1zM70.1 218.0h1.1v1.1h-1.1zM81.0 222.0h1.1v1.1h-1.1zM91.1 232.3h1.1v1.1h-1.1zM81.8 211.7h1.1v1.1h-1.1zM79.7 224.0h1.1v1.1h-1.1zM89.1 219.0h1.1v1.1h-1.1zM81.7 221.3h1.1v1.1h-1.1zM80.4 225.9h1.1v1.1h-1.1zM80.5 228.7h1.1v1.1h-1.1zM98.5 223.0h1.1v1.1h-1.1zM90.5 232.5h1.1v1.1h-1.1zM88.8 216.1h1.1v1.1h-1.1zM72.9 224.5h1.1v1.1h-1.1zM90.1 207.4h1.1v1.1h-1.1zM71.9 242.6h1.1v1.1h-1.1zM88.7 206.0h1.1v1.1h-1.1zM73.6 223.2h1.1v1.1h-1.1zM68.2 232.5h1.1v1.1h-1.1zM95.7 226.1h1.1v1.1h-1.1zM91.7 234.5h1.1v1.1h-1.1zM67.3 214.1h1.1v1.1h-1.1zM81.8 222.8h1.1v1.1h-1.1zM97.8 208.9h1.1v1.1h-1.1zM94.9 208.3h1.1v1.1h-1.1zM68.4 229.1h1.1v1.1h-1.1zM79.2 223.7h1.1v1.1h-1.1zM73.0 226.3h1.1v1.1h-1.1zM74.4 211.0h1.1v1.1h-1.1zM78.0 219.9h1.1v1.1h-1.1zM85.4 211.7h1.1v1.1h-1.1zM82.0 221.2h1.1v1.1h-1.1zM80.9 198.3h1.1v1.1h-1.1zM90.4 228.6h1.1v1.1h-1.1zM90.6 204.7h1.1v1.1h-1.1zM75.4 206.6h1.1v1.1h-1.1zM98.0 229.1h1.1v1.1h-1.1zM73.8 212.9h1.1v1.1h-1.1zM81.5 217.4h1.1v1.1h-1.1zM88.3 209.4h1.1v1.1h-1.1zM100.3 229.2h1.1v1.1h-1.1zM80.8 218.0h1.1v1.1h-1.1zM86.8 230.0h1.1v1.1h-1.1zM96.4 220.6h1.1v1.1h-1.1zM90.0 203.0h1.1v1.1h-1.1zM94.8 218.8h1.1v1.1h-1.1zM93.9 242.2h1.1v1.1h-1.1zM86.5 234.6h1.1v1.1h-1.1zM90.1 230.9h1.1v1.1h-1.1zM92.8 206.7h1.1v1.1h-1.1zM83.8 227.6h1.1v1.1h-1.1zM99.2 233.3h1.1v1.1h-1.1zM65.3 212.1h1.1v1.1h-1.1zM75.4 219.2h1.1v1.1h-1.1zM97.8 212.9h1.1v1.1h-1.1zM88.1 227.7h1.1v1.1h-1.1zM78.0 205.7h1.1v1.1h-1.1zM87.7 220.4h1.1v1.1h-1.1zM94.4 239.0h1.1v1.1h-1.1zM78.8 233.6h1.1v1.1h-1.1zM91.4 227.4h1.1v1.1h-1.1zM82.9 221.9h1.1v1.1h-1.1zM83.0 211.8h1.1v1.1h-1.1zM83.4 228.0h1.1v1.1h-1.1zM94.6 224.0h1.1v1.1h-1.1zM73.5 198.3h1.1v1.1h-1.1zM80.6 219.8h1.1v1.1h-1.1zM90.4 224.2h1.1v1.1h-1.1zM72.5 222.2h1.1v1.1h-1.1zM69.1 237.1h1.1v1.1h-1.1zM89.5 212.8h1.1v1.1h-1.1zM84.1 209.3h1.1v1.1h-1.1zM82.7 226.6h1.1v1.1h-1.1zM85.4 208.6h1.1v1.1h-1.1zM74.9 225.2h1.1v1.1h-1.1zM74.8 230.2h1.1v1.1h-1.1zM80.0 229.6h1.1v1.1h-1.1zM70.6 239.4h1.1v1.1h-1.1zM80.1 218.4h1.1v1.1h-1.1zM98.6 219.6h1.1v1.1h-1.1zM84.3 222.6h1.1v1.1h-1.1zM89.7 230.9h1.1v1.1h-1.1zM79.5 233.7h1.1v1.1h-1.1zM85.6 214.4h1.1v1.1h-1.1zM72.3 219.4h1.1v1.1h-1.1zM91.4 225.6h1.1v1.1h-1.1zM80.6 217.5h1.1v1.1h-1.1zM89.8 199.3h1.1v1.1h-1.1zM85.4 218.4h1.1v1.1h-1.1zM86.6 197.2h1.1v1.1h-1.1zM85.4 214.8h1.1v1.1h-1.1zM75.5 207.4h1.1v1.1h-1.1zM69.9 229.0h1.1v1.1h-1.1zM93.3 204.9h1.1v1.1h-1.1zM82.8 233.1h1.1v1.1h-1.1zM86.8 216.6h1.1v1.1h-1.1zM79.7 224.6h1.1v1.1h-1.1zM64.9 246.2h1.1v1.1h-1.1zM72.0 237.6h1.1v1.1h-1.1zM97.3 204.4h1.1v1.1h-1.1zM76.6 216.3h1.1v1.1h-1.1zM80.5 206.6h1.1v1.1h-1.1zM70.2 221.0h1.1v1.1h-1.1zM79.1 252.8h1.1v1.1h-1.1zM80.5 218.0h1.1v1.1h-1.1zM82.0 226.6h1.1v1.1h-1.1zM83.4 225.6h1.1v1.1h-1.1zM78.1 226.2h1.1v1.1h-1.1zM78.6 229.6h1.1v1.1h-1.1zM83.9 230.4h1.1v1.1h-1.1zM87.1 205.6h1.1v1.1h-1.1zM82.7 215.4h1.1v1.1h-1.1zM86.0 224.1h1.1v1.1h-1.1zM85.6 208.9h1.1v1.1h-1.1zM77.8 217.2h1.1v1.1h-1.1zM93.8 215.5h1.1v1.1h-1.1zM74.3 235.6h1.1v1.1h-1.1zM68.7 228.3h1.1v1.1h-1.1zM74.8 234.5h1.1v1.1h-1.1zM89.9 239.5h1.1v1.1h-1.1zM73.2 212.7h1.1v1.1h-1.1zM96.3 220.7h1.1v1.1h-1.1zM83.8 224.5h1.1v1.1h-1.1zM69.7 233.9h1.1v1.1h-1.1zM81.9 212.2h1.1v1.1h-1.1zM75.9 215.5h1.1v1.1h-1.1zM71.6 212.7h1.1v1.1h-1.1zM88.9 232.5h1.1v1.1h-1.1zM96.4 215.1h1.1v1.1h-1.1zM93.6 215.3h1.1v1.1h-1.1zM80.9 204.4h1.1v1.1h-1.1zM85.8 219.5h1.1v1.1h-1.1zM87.1 229.6h1.1v1.1h-1.1zM95.1 218.1h1.1v1.1h-1.1zM83.0 204.4h1.1v1.1h-1.1zM96.3 209.8h1.1v1.1h-1.1zM80.8 217.0h1.1v1.1h-1.1zM89.6 216.7h1.1v1.1h-1.1zM75.2 212.9h1.1v1.1h-1.1zM76.8 227.1h1.1v1.1h-1.1zM87.9 229.1h1.1v1.1h-1.1zM75.5 242.6h1.1v1.1h-1.1zM92.4 205.1h1.1v1.1h-1.1zM78.8 215.7h1.1v1.1h-1.1zM84.7 212.8h1.1v1.1h-1.1zM83.2 219.8h1.1v1.1h-1.1zM80.9 202.6h1.1v1.1h-1.1zM85.3 230.5h1.1v1.1h-1.1zM94.2 204.5h1.1v1.1h-1.1zM72.8 227.6h1.1v1.1h-1.1zM86.9 232.7h1.1v1.1h-1.1zM82.3 219.5h1.1v1.1h-1.1zM75.4 225.3h1.1v1.1h-1.1zM86.7 214.7h1.1v1.1h-1.1zM75.7 228.4h1.1v1.1h-1.1zM83.3 235.5h1.1v1.1h-1.1zM95.8 211.1h1.1v1.1h-1.1zM64.9 210.5h1.1v1.1h-1.1zM86.4 211.5h1.1v1.1h-1.1zM88.2 219.7h1.1v1.1h-1.1zM74.9 217.8h1.1v1.1h-1.1zM89.0 237.5h1.1v1.1h-1.1zM87.3 223.0h1.1v1.1h-1.1zM80.7 208.2h1.1v1.1h-1.1zM95.5 212.4h1.1v1.1h-1.1zM71.6 232.4h1.1v1.1h-1.1zM90.1 209.4h1.1v1.1h-1.1zM81.8 222.1h1.1v1.1h-1.1zM74.0 214.5h1.1v1.1h-1.1zM82.3 235.9h1.1v1.1h-1.1zM80.7 226.7h1.1v1.1h-1.1zM91.8 214.8h1.1v1.1h-1.1zM69.8 220.2h1.1v1.1h-1.1zM82.2 214.5h1.1v1.1h-1.1zM79.7 221.3h1.1v1.1h-1.1zM98.9 218.8h1.1v1.1h-1.1zM73.4 217.5h1.1v1.1h-1.1zM94.0 208.3h1.1v1.1h-1.1zM67.4 240.6h1.1v1.1h-1.1zM87.3 222.9h1.1v1.1h-1.1zM82.7 222.7h1.1v1.1h-1.1zM87.6 217.6h1.1v1.1h-1.1zM77.3 210.7h1.1v1.1h-1.1zM65.5 239.0h1.1v1.1h-1.1zM69.3 217.8h1.1v1.1h-1.1zM96.4 236.1h1.1v1.1h-1.1zM86.0 227.9h1.1v1.1h-1.1zM75.7 227.8h1.1v1.1h-1.1zM92.5 221.1h1.1v1.1h-1.1zM76.9 228.5h1.1v1.1h-1.1zM76.9 227.4h1.1v1.1h-1.1zM72.4 226.6h1.1v1.1h-1.1zM95.1 220.5h1.1v1.1h-1.1zM74.7 237.6h1.1v1.1h-1.1zM86.6 224.3h1.1v1.1h-1.1zM93.1 212.2h1.1v1.1h-1.1zM61.1 194.4h1.1v1.1h-1.1zM85.2 218.7h1.1v1.1h-1.1zM90.0 227.3h1.1v1.1h-1.1zM69.8 221.5h1.1v1.1h-1.1zM87.7 211.9h1.1v1.1h-1.1zM85.7 218.2h1.1v1.1h-1.1zM90.7 230.1h1.1v1.1h-1.1zM78.3 222.6h1.1v1.1h-1.1zM87.8 219.7h1.1v1.1h-1.1zM78.1 236.9h1.1v1.1h-1.1zM89.5 232.0h1.1v1.1h-1.1zM85.3 206.8h1.1v1.1h-1.1zM80.2 245.3h1.1v1.1h-1.1zM70.4 221.5h1.1v1.1h-1.1zM99.4 219.3h1.1v1.1h-1.1zM94.3 202.6h1.1v1.1h-1.1zM92.1 211.6h1.1v1.1h-1.1zM77.5 231.1h1.1v1.1h-1.1zM80.5 207.3h1.1v1.1h-1.1zM99.6 222.5h1.1v1.1h-1.1zM90.8 196.9h1.1v1.1h-1.1zM75.7 204.1h1.1v1.1h-1.1zM84.2 220.9h1.1v1.1h-1.1zM85.1 211.4h1.1v1.1h-1.1zM81.9 218.6h1.1v1.1h-1.1zM74.9 232.1h1.1v1.1h-1.1zM97.0 200.2h1.1v1.1h-1.1zM96.4 194.1h1.1v1.1h-1.1zM94.1 169.6h1.1v1.1h-1.1zM109.0 167.2h1.1v1.1h-1.1zM83.3 217.4h1.1v1.1h-1.1zM98.1 222.8h1.1v1.1h-1.1zM90.1 186.0h1.1v1.1h-1.1zM91.0 225.8h1.1v1.1h-1.1zM93.1 184.4h1.1v1.1h-1.1zM96.5 193.1h1.1v1.1h-1.1zM90.1 210.1h1.1v1.1h-1.1zM112.8 186.5h1.1v1.1h-1.1zM83.8 199.6h1.1v1.1h-1.1zM87.9 188.7h1.1v1.1h-1.1zM86.6 192.5h1.1v1.1h-1.1zM69.8 191.7h1.1v1.1h-1.1zM89.4 199.9h1.1v1.1h-1.1zM45.9 229.3h1.1v1.1h-1.1zM94.9 204.8h1.1v1.1h-1.1zM96.1 175.6h1.1v1.1h-1.1zM83.1 186.2h1.1v1.1h-1.1zM80.9 221.5h1.1v1.1h-1.1zM56.6 211.3h1.1v1.1h-1.1zM72.0 176.8h1.1v1.1h-1.1zM87.5 218.5h1.1v1.1h-1.1zM98.8 234.8h1.1v1.1h-1.1zM96.0 226.8h1.1v1.1h-1.1zM104.9 176.6h1.1v1.1h-1.1zM65.2 201.8h1.1v1.1h-1.1zM92.8 222.1h1.1v1.1h-1.1zM92.2 188.1h1.1v1.1h-1.1zM92.7 206.1h1.1v1.1h-1.1zM81.0 214.3h1.1v1.1h-1.1zM54.4 218.9h1.1v1.1h-1.1zM115.7 165.6h1.1v1.1h-1.1zM132.6 166.9h1.1v1.1h-1.1zM111.2 169.6h1.1v1.1h-1.1zM91.3 217.0h1.1v1.1h-1.1zM109.2 160.6h1.1v1.1h-1.1zM75.3 185.8h1.1v1.1h-1.1zM96.9 168.2h1.1v1.1h-1.1zM77.6 229.0h1.1v1.1h-1.1zM124.0 180.2h1.1v1.1h-1.1zM115.7 179.4h1.1v1.1h-1.1zM132.7 182.3h1.1v1.1h-1.1zM96.4 200.4h1.1v1.1h-1.1zM71.5 202.2h1.1v1.1h-1.1zM79.7 205.1h1.1v1.1h-1.1zM68.8 196.3h1.1v1.1h-1.1zM90.3 226.4h1.1v1.1h-1.1zM84.2 218.9h1.1v1.1h-1.1zM82.1 180.8h1.1v1.1h-1.1zM93.2 216.1h1.1v1.1h-1.1zM81.1 189.4h1.1v1.1h-1.1zM113.6 186.6h1.1v1.1h-1.1zM100.1 197.7h1.1v1.1h-1.1zM94.9 162.6h1.1v1.1h-1.1zM92.2 194.6h1.1v1.1h-1.1zM92.7 215.1h1.1v1.1h-1.1zM80.7 186.7h1.1v1.1h-1.1zM115.2 186.5h1.1v1.1h-1.1zM69.8 228.4h1.1v1.1h-1.1zM75.3 215.1h1.1v1.1h-1.1zM95.8 184.9h1.1v1.1h-1.1zM99.7 222.9h1.1v1.1h-1.1zM94.1 202.7h1.1v1.1h-1.1zM59.3 192.8h1.1v1.1h-1.1zM72.3 209.3h1.1v1.1h-1.1zM79.0 214.2h1.1v1.1h-1.1zM120.5 181.9h1.1v1.1h-1.1zM84.7 200.7h1.1v1.1h-1.1zM129.6 156.7h1.1v1.1h-1.1zM93.5 190.3h1.1v1.1h-1.1zM129.3 185.6h1.1v1.1h-1.1zM118.7 154.8h1.1v1.1h-1.1zM79.1 205.4h1.1v1.1h-1.1zM93.4 213.5h1.1v1.1h-1.1zM71.4 196.7h1.1v1.1h-1.1zM89.6 177.5h1.1v1.1h-1.1zM112.6 183.9h1.1v1.1h-1.1zM78.3 206.2h1.1v1.1h-1.1zM81.4 194.7h1.1v1.1h-1.1zM108.6 175.7h1.1v1.1h-1.1zM78.8 210.4h1.1v1.1h-1.1zM118.6 174.6h1.1v1.1h-1.1zM100.1 194.3h1.1v1.1h-1.1zM44.8 206.6h1.1v1.1h-1.1zM123.9 183.5h1.1v1.1h-1.1zM117.4 175.3h1.1v1.1h-1.1zM65.3 209.8h1.1v1.1h-1.1zM119.1 186.4h1.1v1.1h-1.1zM96.6 155.5h1.1v1.1h-1.1zM94.8 213.2h1.1v1.1h-1.1zM95.0 196.9h1.1v1.1h-1.1zM132.6 155.0h1.1v1.1h-1.1zM95.7 192.6h1.1v1.1h-1.1zM73.6 229.7h1.1v1.1h-1.1zM109.5 178.9h1.1v1.1h-1.1zM100.1 183.1h1.1v1.1h-1.1zM103.0 183.2h1.1v1.1h-1.1zM114.7 187.8h1.1v1.1h-1.1zM99.9 199.1h1.1v1.1h-1.1zM104.3 182.3h1.1v1.1h-1.1zM114.6 180.7h1.1v1.1h-1.1zM82.3 251.2h1.1v1.1h-1.1zM118.3 180.0h1.1v1.1h-1.1zM77.9 208.1h1.1v1.1h-1.1zM107.8 155.8h1.1v1.1h-1.1zM91.9 217.0h1.1v1.1h-1.1zM54.9 215.5h1.1v1.1h-1.1zM98.9 214.0h1.1v1.1h-1.1zM84.7 210.0h1.1v1.1h-1.1zM85.2 227.0h1.1v1.1h-1.1zM77.1 169.3h1.1v1.1h-1.1zM80.3 207.6h1.1v1.1h-1.1zM93.1 184.2h1.1v1.1h-1.1zM88.8 191.7h1.1v1.1h-1.1zM93.3 202.7h1.1v1.1h-1.1zM91.6 203.4h1.1v1.1h-1.1zM81.9 202.2h1.1v1.1h-1.1zM77.1 189.8h1.1v1.1h-1.1zM114.2 173.7h1.1v1.1h-1.1zM95.1 221.8h1.1v1.1h-1.1zM84.1 202.1h1.1v1.1h-1.1zM99.6 185.9h1.1v1.1h-1.1zM106.6 178.0h1.1v1.1h-1.1zM108.7 160.5h1.1v1.1h-1.1zM96.7 229.1h1.1v1.1h-1.1zM112.9 178.2h1.1v1.1h-1.1zM144.5 181.6h1.1v1.1h-1.1zM90.5 195.6h1.1v1.1h-1.1zM91.7 227.4h1.1v1.1h-1.1zM125.1 188.7h1.1v1.1h-1.1zM124.5 179.8h1.1v1.1h-1.1zM98.5 176.9h1.1v1.1h-1.1zM94.8 173.3h1.1v1.1h-1.1zM113.0 173.2h1.1v1.1h-1.1zM133.9 159.7h1.1v1.1h-1.1zM131.6 185.3h1.1v1.1h-1.1zM62.1 193.3h1.1v1.1h-1.1zM85.8 225.5h1.1v1.1h-1.1zM56.3 248.2h1.1v1.1h-1.1zM96.0 210.6h1.1v1.1h-1.1zM92.3 200.1h1.1v1.1h-1.1zM73.1 189.8h1.1v1.1h-1.1zM78.6 229.7h1.1v1.1h-1.1zM95.0 229.4h1.1v1.1h-1.1zM68.7 201.8h1.1v1.1h-1.1zM97.2 192.5h1.1v1.1h-1.1zM96.2 208.0h1.1v1.1h-1.1zM97.9 200.0h1.1v1.1h-1.1zM75.5 217.1h1.1v1.1h-1.1zM78.1 196.4h1.1v1.1h-1.1zM102.1 181.3h1.1v1.1h-1.1zM102.4 190.3h1.1v1.1h-1.1zM89.0 197.7h1.1v1.1h-1.1zM102.7 185.3h1.1v1.1h-1.1zM62.1 181.7h1.1v1.1h-1.1zM78.8 192.3h1.1v1.1h-1.1zM91.5 188.1h1.1v1.1h-1.1zM97.9 185.0h1.1v1.1h-1.1zM92.5 207.2h1.1v1.1h-1.1zM93.6 199.8h1.1v1.1h-1.1zM74.8 198.7h1.1v1.1h-1.1zM87.4 180.1h1.1v1.1h-1.1zM104.3 174.8h1.1v1.1h-1.1zM61.3 169.3h1.1v1.1h-1.1zM74.5 223.4h1.1v1.1h-1.1zM92.0 200.8h1.1v1.1h-1.1zM126.7 171.1h1.1v1.1h-1.1zM89.9 187.7h1.1v1.1h-1.1zM97.7 217.0h1.1v1.1h-1.1zM75.0 198.8h1.1v1.1h-1.1zM123.2 179.3h1.1v1.1h-1.1zM114.1 164.6h1.1v1.1h-1.1zM111.3 180.9h1.1v1.1h-1.1zM103.4 186.4h1.1v1.1h-1.1zM82.9 223.3h1.1v1.1h-1.1zM77.7 185.8h1.1v1.1h-1.1zM99.2 210.5h1.1v1.1h-1.1zM104.1 183.3h1.1v1.1h-1.1zM94.9 200.3h1.1v1.1h-1.1zM116.3 174.4h1.1v1.1h-1.1zM60.2 195.4h1.1v1.1h-1.1zM78.5 226.4h1.1v1.1h-1.1zM56.2 235.1h1.1v1.1h-1.1zM94.6 217.2h1.1v1.1h-1.1zM90.0 198.6h1.1v1.1h-1.1zM86.9 180.9h1.1v1.1h-1.1zM99.3 214.6h1.1v1.1h-1.1zM91.4 202.2h1.1v1.1h-1.1zM41.5 209.0h1.1v1.1h-1.1zM83.6 210.4h1.1v1.1h-1.1zM84.4 195.9h1.1v1.1h-1.1zM104.8 186.2h1.1v1.1h-1.1zM82.0 204.5h1.1v1.1h-1.1zM72.7 187.4h1.1v1.1h-1.1zM97.9 216.7h1.1v1.1h-1.1zM80.9 199.5h1.1v1.1h-1.1zM83.7 218.8h1.1v1.1h-1.1zM93.1 193.4h1.1v1.1h-1.1zM72.4 195.4h1.1v1.1h-1.1zM123.2 182.8h1.1v1.1h-1.1zM79.5 195.0h1.1v1.1h-1.1zM72.5 224.9h1.1v1.1h-1.1zM89.7 198.6h1.1v1.1h-1.1zM81.8 191.2h1.1v1.1h-1.1zM88.4 211.3h1.1v1.1h-1.1zM135.0 174.8h1.1v1.1h-1.1zM97.1 214.0h1.1v1.1h-1.1zM92.2 192.9h1.1v1.1h-1.1zM97.7 187.5h1.1v1.1h-1.1zM126.7 168.8h1.1v1.1h-1.1zM80.1 202.0h1.1v1.1h-1.1zM101.9 179.6h1.1v1.1h-1.1zM133.0 182.6h1.1v1.1h-1.1zM135.2 163.6h1.1v1.1h-1.1zM113.0 179.8h1.1v1.1h-1.1zM89.3 195.8h1.1v1.1h-1.1zM69.4 215.6h1.1v1.1h-1.1zM91.3 226.2h1.1v1.1h-1.1zM84.6 198.4h1.1v1.1h-1.1zM81.7 196.5h1.1v1.1h-1.1zM72.3 199.0h1.1v1.1h-1.1zM88.3 186.7h1.1v1.1h-1.1zM98.7 160.2h1.1v1.1h-1.1zM97.6 208.4h1.1v1.1h-1.1zM107.5 181.0h1.1v1.1h-1.1zM97.8 204.4h1.1v1.1h-1.1zM87.0 211.5h1.1v1.1h-1.1zM85.9 226.4h1.1v1.1h-1.1zM95.0 189.7h1.1v1.1h-1.1zM132.3 183.7h1.1v1.1h-1.1zM65.4 228.6h1.1v1.1h-1.1zM86.6 187.5h1.1v1.1h-1.1zM86.7 187.8h1.1v1.1h-1.1zM97.5 219.8h1.1v1.1h-1.1zM67.8 231.8h1.1v1.1h-1.1zM62.2 207.3h1.1v1.1h-1.1zM129.7 175.0h1.1v1.1h-1.1zM92.0 184.5h1.1v1.1h-1.1zM109.5 184.6h1.1v1.1h-1.1zM82.5 180.2h1.1v1.1h-1.1zM70.8 190.3h1.1v1.1h-1.1zM113.9 174.8h1.1v1.1h-1.1zM93.4 197.8h1.1v1.1h-1.1zM92.6 192.4h1.1v1.1h-1.1zM118.9 166.2h1.1v1.1h-1.1zM106.7 188.7h1.1v1.1h-1.1zM93.4 172.8h1.1v1.1h-1.1zM100.0 204.6h1.1v1.1h-1.1zM91.9 212.3h1.1v1.1h-1.1zM85.7 204.2h1.1v1.1h-1.1zM90.7 201.6h1.1v1.1h-1.1zM76.3 206.4h1.1v1.1h-1.1zM98.9 186.2h1.1v1.1h-1.1zM70.8 182.2h1.1v1.1h-1.1zM99.9 210.4h1.1v1.1h-1.1zM105.8 190.4h1.1v1.1h-1.1zM96.2 223.9h1.1v1.1h-1.1zM84.7 205.9h1.1v1.1h-1.1zM103.9 187.1h1.1v1.1h-1.1zM68.3 177.5h1.1v1.1h-1.1zM99.6 181.6h1.1v1.1h-1.1zM87.6 226.3h1.1v1.1h-1.1zM73.2 205.0h1.1v1.1h-1.1zM92.0 203.1h1.1v1.1h-1.1zM87.9 191.1h1.1v1.1h-1.1zM118.8 166.0h1.1v1.1h-1.1zM85.8 209.6h1.1v1.1h-1.1zM118.9 173.9h1.1v1.1h-1.1zM114.7 170.2h1.1v1.1h-1.1zM87.7 219.6h1.1v1.1h-1.1zM128.9 160.0h1.1v1.1h-1.1zM72.3 176.3h1.1v1.1h-1.1zM110.7 190.2h1.1v1.1h-1.1zM101.2 168.4h1.1v1.1h-1.1zM115.3 189.7h1.1v1.1h-1.1zM68.1 186.6h1.1v1.1h-1.1zM75.7 193.2h1.1v1.1h-1.1zM83.0 217.3h1.1v1.1h-1.1zM100.1 193.5h1.1v1.1h-1.1zM100.0 206.5h1.1v1.1h-1.1zM94.3 219.4h1.1v1.1h-1.1zM85.3 215.3h1.1v1.1h-1.1zM71.9 226.6h1.1v1.1h-1.1zM90.8 180.9h1.1v1.1h-1.1zM89.2 211.4h1.1v1.1h-1.1zM72.1 192.9h1.1v1.1h-1.1zM77.5 183.2h1.1v1.1h-1.1zM80.1 197.5h1.1v1.1h-1.1zM79.8 205.6h1.1v1.1h-1.1zM88.4 189.9h1.1v1.1h-1.1zM128.0 174.5h1.1v1.1h-1.1zM85.9 209.5h1.1v1.1h-1.1zM102.5 167.2h1.1v1.1h-1.1zM105.7 165.4h1.1v1.1h-1.1zM75.1 214.2h1.1v1.1h-1.1zM100.2 227.0h1.1v1.1h-1.1zM87.6 231.3h1.1v1.1h-1.1zM78.8 191.7h1.1v1.1h-1.1zM85.2 212.3h1.1v1.1h-1.1zM93.7 217.4h1.1v1.1h-1.1zM87.9 223.1h1.1v1.1h-1.1zM86.5 168.1h1.1v1.1h-1.1zM119.3 188.9h1.1v1.1h-1.1zM41.3 229.2h1.1v1.1h-1.1zM126.3 179.6h1.1v1.1h-1.1zM125.4 165.6h1.1v1.1h-1.1zM77.9 214.8h1.1v1.1h-1.1zM52.7 186.8h1.1v1.1h-1.1zM95.5 212.0h1.1v1.1h-1.1zM69.7 189.1h1.1v1.1h-1.1zM126.2 160.9h1.1v1.1h-1.1zM77.5 234.4h1.1v1.1h-1.1zM49.6 186.5h1.1v1.1h-1.1zM88.5 164.8h1.1v1.1h-1.1zM136.0 168.6h1.1v1.1h-1.1zM62.2 156.6h1.1v1.1h-1.1zM86.4 188.8h1.1v1.1h-1.1zM50.2 259.9h1.1v1.1h-1.1zM111.1 189.1h1.1v1.1h-1.1zM113.2 189.4h1.1v1.1h-1.1zM101.4 188.0h1.1v1.1h-1.1zM110.1 183.0h1.1v1.1h-1.1zM107.5 190.4h1.1v1.1h-1.1zM102.2 183.5h1.1v1.1h-1.1zM118.1 178.7h1.1v1.1h-1.1zM101.1 184.6h1.1v1.1h-1.1zM107.7 188.2h1.1v1.1h-1.1zM128.5 189.2h1.1v1.1h-1.1zM106.5 189.1h1.1v1.1h-1.1zM100.8 188.7h1.1v1.1h-1.1z" fill="#74b83e" stroke="#6aa84a" stroke-width="0.3"/>
<path d="M101.7 216.3h1.1v1.1h-1.1zM103.9 234.4h1.1v1.1h-1.1zM104.7 196.5h1.1v1.1h-1.1zM109.0 212.5h1.1v1.1h-1.1zM103.7 202.7h1.1v1.1h-1.1zM102.0 205.1h1.1v1.1h-1.1zM104.9 232.6h1.1v1.1h-1.1zM101.6 203.3h1.1v1.1h-1.1zM100.7 212.4h1.1v1.1h-1.1zM100.5 214.3h1.1v1.1h-1.1zM101.0 220.4h1.1v1.1h-1.1zM103.9 213.5h1.1v1.1h-1.1zM119.0 214.6h1.1v1.1h-1.1zM112.3 222.2h1.1v1.1h-1.1zM109.7 219.5h1.1v1.1h-1.1zM103.0 218.4h1.1v1.1h-1.1zM102.1 199.7h1.1v1.1h-1.1zM101.2 236.1h1.1v1.1h-1.1zM105.2 207.1h1.1v1.1h-1.1zM101.9 222.9h1.1v1.1h-1.1zM100.7 194.8h1.1v1.1h-1.1zM107.3 220.6h1.1v1.1h-1.1zM100.8 204.9h1.1v1.1h-1.1zM106.4 208.4h1.1v1.1h-1.1zM103.2 221.5h1.1v1.1h-1.1zM101.2 233.8h1.1v1.1h-1.1zM106.2 212.6h1.1v1.1h-1.1zM107.8 219.2h1.1v1.1h-1.1zM100.9 236.1h1.1v1.1h-1.1zM100.4 205.2h1.1v1.1h-1.1zM107.6 200.0h1.1v1.1h-1.1zM104.1 217.7h1.1v1.1h-1.1zM104.0 215.9h1.1v1.1h-1.1zM102.5 217.9h1.1v1.1h-1.1zM108.2 231.3h1.1v1.1h-1.1zM105.3 194.1h1.1v1.1h-1.1zM101.9 216.3h1.1v1.1h-1.1zM105.1 214.6h1.1v1.1h-1.1zM109.2 194.3h1.1v1.1h-1.1zM103.2 214.6h1.1v1.1h-1.1zM100.7 211.0h1.1v1.1h-1.1zM105.0 213.2h1.1v1.1h-1.1zM105.1 215.8h1.1v1.1h-1.1zM108.3 215.5h1.1v1.1h-1.1zM107.8 221.6h1.1v1.1h-1.1zM105.1 213.4h1.1v1.1h-1.1zM106.2 227.9h1.1v1.1h-1.1zM106.6 200.7h1.1v1.1h-1.1zM107.4 216.0h1.1v1.1h-1.1zM102.2 249.1h1.1v1.1h-1.1zM112.2 222.3h1.1v1.1h-1.1zM103.2 218.2h1.1v1.1h-1.1zM100.7 201.0h1.1v1.1h-1.1zM108.3 213.3h1.1v1.1h-1.1zM100.8 218.7h1.1v1.1h-1.1zM103.1 232.0h1.1v1.1h-1.1zM101.1 213.3h1.1v1.1h-1.1zM108.0 216.1h1.1v1.1h-1.1zM104.2 226.2h1.1v1.1h-1.1zM101.7 226.1h1.1v1.1h-1.1zM103.3 221.6h1.1v1.1h-1.1zM104.9 218.0h1.1v1.1h-1.1zM102.3 215.7h1.1v1.1h-1.1zM105.7 223.2h1.1v1.1h-1.1zM100.9 220.8h1.1v1.1h-1.1zM100.4 225.6h1.1v1.1h-1.1zM107.0 219.0h1.1v1.1h-1.1zM100.7 233.5h1.1v1.1h-1.1zM101.2 219.8h1.1v1.1h-1.1zM102.7 222.0h1.1v1.1h-1.1zM101.6 213.6h1.1v1.1h-1.1zM100.9 218.3h1.1v1.1h-1.1zM101.4 217.8h1.1v1.1h-1.1zM109.6 210.1h1.1v1.1h-1.1zM102.7 217.3h1.1v1.1h-1.1zM101.5 214.0h1.1v1.1h-1.1zM111.7 210.2h1.1v1.1h-1.1zM101.3 222.7h1.1v1.1h-1.1zM100.6 223.2h1.1v1.1h-1.1zM100.9 193.1h1.1v1.1h-1.1zM104.4 219.9h1.1v1.1h-1.1zM113.4 222.3h1.1v1.1h-1.1zM102.5 235.9h1.1v1.1h-1.1zM103.9 204.5h1.1v1.1h-1.1zM120.5 199.4h1.1v1.1h-1.1zM107.5 202.4h1.1v1.1h-1.1zM116.2 198.4h1.1v1.1h-1.1zM120.7 240.6h1.1v1.1h-1.1zM127.8 194.0h1.1v1.1h-1.1zM120.0 204.3h1.1v1.1h-1.1zM100.7 206.1h1.1v1.1h-1.1zM107.3 196.0h1.1v1.1h-1.1zM137.0 202.1h1.1v1.1h-1.1zM137.7 192.1h1.1v1.1h-1.1zM135.8 199.8h1.1v1.1h-1.1zM114.3 194.3h1.1v1.1h-1.1zM110.2 204.0h1.1v1.1h-1.1zM117.9 213.5h1.1v1.1h-1.1zM134.3 207.8h1.1v1.1h-1.1zM119.2 223.6h1.1v1.1h-1.1zM100.4 191.1h1.1v1.1h-1.1zM111.9 202.8h1.1v1.1h-1.1zM147.4 201.6h1.1v1.1h-1.1zM114.0 201.2h1.1v1.1h-1.1zM104.0 222.2h1.1v1.1h-1.1zM121.9 211.9h1.1v1.1h-1.1zM108.5 226.1h1.1v1.1h-1.1zM113.4 198.9h1.1v1.1h-1.1zM103.8 215.2h1.1v1.1h-1.1zM126.1 190.8h1.1v1.1h-1.1zM103.6 201.3h1.1v1.1h-1.1zM132.1 199.3h1.1v1.1h-1.1zM122.2 197.0h1.1v1.1h-1.1zM101.2 203.0h1.1v1.1h-1.1zM109.5 203.2h1.1v1.1h-1.1zM127.2 190.6h1.1v1.1h-1.1zM122.5 192.4h1.1v1.1h-1.1zM110.1 190.8h1.1v1.1h-1.1zM110.7 206.6h1.1v1.1h-1.1zM105.2 207.2h1.1v1.1h-1.1zM103.9 203.0h1.1v1.1h-1.1zM105.7 194.0h1.1v1.1h-1.1zM120.6 211.2h1.1v1.1h-1.1zM109.6 202.5h1.1v1.1h-1.1zM104.6 203.9h1.1v1.1h-1.1zM123.4 205.1h1.1v1.1h-1.1zM128.9 193.0h1.1v1.1h-1.1zM128.8 193.8h1.1v1.1h-1.1zM106.9 191.1h1.1v1.1h-1.1zM105.4 196.0h1.1v1.1h-1.1zM120.1 195.8h1.1v1.1h-1.1zM101.7 197.7h1.1v1.1h-1.1zM114.0 217.1h1.1v1.1h-1.1zM102.7 202.8h1.1v1.1h-1.1zM117.2 196.0h1.1v1.1h-1.1zM119.3 201.5h1.1v1.1h-1.1zM120.7 209.2h1.1v1.1h-1.1zM112.4 216.4h1.1v1.1h-1.1zM112.5 196.6h1.1v1.1h-1.1zM101.4 206.3h1.1v1.1h-1.1zM158.4 217.8h1.1v1.1h-1.1zM112.4 198.0h1.1v1.1h-1.1zM107.7 207.3h1.1v1.1h-1.1zM108.9 191.3h1.1v1.1h-1.1zM114.1 199.5h1.1v1.1h-1.1zM116.3 196.3h1.1v1.1h-1.1zM113.4 197.0h1.1v1.1h-1.1zM115.5 198.1h1.1v1.1h-1.1zM107.6 192.8h1.1v1.1h-1.1zM101.7 202.2h1.1v1.1h-1.1zM105.5 223.8h1.1v1.1h-1.1zM119.1 202.5h1.1v1.1h-1.1zM129.5 219.8h1.1v1.1h-1.1zM113.0 203.8h1.1v1.1h-1.1zM131.2 217.9h1.1v1.1h-1.1zM112.7 192.5h1.1v1.1h-1.1zM108.6 197.3h1.1v1.1h-1.1zM104.8 191.5h1.1v1.1h-1.1zM124.0 199.9h1.1v1.1h-1.1zM123.0 196.6h1.1v1.1h-1.1zM101.4 216.8h1.1v1.1h-1.1zM108.2 207.4h1.1v1.1h-1.1zM142.5 210.4h1.1v1.1h-1.1zM111.3 205.2h1.1v1.1h-1.1zM116.0 195.5h1.1v1.1h-1.1zM128.4 198.6h1.1v1.1h-1.1zM100.4 248.6h1.1v1.1h-1.1zM106.7 201.7h1.1v1.1h-1.1zM119.2 190.6h1.1v1.1h-1.1zM116.9 202.9h1.1v1.1h-1.1zM133.9 224.4h1.1v1.1h-1.1zM132.9 215.1h1.1v1.1h-1.1zM114.8 204.2h1.1v1.1h-1.1zM109.9 239.7h1.1v1.1h-1.1zM128.0 208.9h1.1v1.1h-1.1zM117.8 191.0h1.1v1.1h-1.1zM117.6 201.6h1.1v1.1h-1.1zM108.1 206.2h1.1v1.1h-1.1zM108.4 193.0h1.1v1.1h-1.1zM106.7 210.4h1.1v1.1h-1.1zM130.3 192.6h1.1v1.1h-1.1zM117.6 220.1h1.1v1.1h-1.1zM105.5 225.0h1.1v1.1h-1.1zM110.4 215.8h1.1v1.1h-1.1zM119.8 210.0h1.1v1.1h-1.1zM108.3 215.3h1.1v1.1h-1.1zM107.3 207.0h1.1v1.1h-1.1zM137.9 195.7h1.1v1.1h-1.1zM112.3 196.7h1.1v1.1h-1.1zM112.3 196.2h1.1v1.1h-1.1zM102.6 192.3h1.1v1.1h-1.1zM103.9 214.7h1.1v1.1h-1.1zM130.0 213.2h1.1v1.1h-1.1zM125.1 211.4h1.1v1.1h-1.1zM106.0 195.5h1.1v1.1h-1.1zM119.0 222.0h1.1v1.1h-1.1zM137.0 197.6h1.1v1.1h-1.1zM125.6 229.7h1.1v1.1h-1.1zM110.9 232.1h1.1v1.1h-1.1zM104.3 213.4h1.1v1.1h-1.1zM109.0 206.7h1.1v1.1h-1.1zM100.4 208.9h1.1v1.1h-1.1zM101.4 200.6h1.1v1.1h-1.1zM110.2 229.1h1.1v1.1h-1.1zM120.0 191.5h1.1v1.1h-1.1zM121.1 214.0h1.1v1.1h-1.1zM115.1 207.8h1.1v1.1h-1.1zM104.3 200.0h1.1v1.1h-1.1zM111.9 195.1h1.1v1.1h-1.1zM105.4 206.5h1.1v1.1h-1.1zM112.0 201.7h1.1v1.1h-1.1zM106.4 211.0h1.1v1.1h-1.1zM106.5 206.2h1.1v1.1h-1.1zM114.0 195.4h1.1v1.1h-1.1zM115.3 205.9h1.1v1.1h-1.1zM121.1 217.5h1.1v1.1h-1.1zM123.4 193.8h1.1v1.1h-1.1zM106.7 217.9h1.1v1.1h-1.1zM108.6 223.2h1.1v1.1h-1.1zM134.2 245.8h1.1v1.1h-1.1zM138.8 252.5h1.1v1.1h-1.1zM103.3 231.6h1.1v1.1h-1.1zM120.8 207.5h1.1v1.1h-1.1zM112.0 223.4h1.1v1.1h-1.1zM103.9 190.8h1.1v1.1h-1.1zM134.7 208.7h1.1v1.1h-1.1zM111.2 198.9h1.1v1.1h-1.1zM104.8 221.9h1.1v1.1h-1.1zM106.4 205.3h1.1v1.1h-1.1zM112.4 210.4h1.1v1.1h-1.1zM110.8 198.5h1.1v1.1h-1.1zM101.8 199.6h1.1v1.1h-1.1zM114.9 226.6h1.1v1.1h-1.1zM109.7 196.7h1.1v1.1h-1.1zM110.5 225.0h1.1v1.1h-1.1zM124.2 194.6h1.1v1.1h-1.1zM119.2 209.6h1.1v1.1h-1.1zM131.4 221.9h1.1v1.1h-1.1zM101.3 201.4h1.1v1.1h-1.1zM103.9 208.6h1.1v1.1h-1.1zM117.7 219.7h1.1v1.1h-1.1zM107.6 217.0h1.1v1.1h-1.1zM102.6 203.9h1.1v1.1h-1.1zM102.0 223.7h1.1v1.1h-1.1zM105.3 218.3h1.1v1.1h-1.1zM111.0 217.3h1.1v1.1h-1.1zM107.1 205.0h1.1v1.1h-1.1zM105.4 204.2h1.1v1.1h-1.1zM123.6 198.7h1.1v1.1h-1.1zM101.2 199.5h1.1v1.1h-1.1zM127.7 236.2h1.1v1.1h-1.1zM122.8 214.2h1.1v1.1h-1.1zM133.4 196.3h1.1v1.1h-1.1zM114.3 217.5h1.1v1.1h-1.1zM101.7 206.3h1.1v1.1h-1.1zM101.5 222.1h1.1v1.1h-1.1zM102.4 202.9h1.1v1.1h-1.1zM117.0 216.2h1.1v1.1h-1.1zM119.9 203.0h1.1v1.1h-1.1zM117.4 218.5h1.1v1.1h-1.1zM102.6 215.3h1.1v1.1h-1.1zM125.7 207.8h1.1v1.1h-1.1zM118.3 203.4h1.1v1.1h-1.1zM100.4 205.2h1.1v1.1h-1.1zM100.4 206.7h1.1v1.1h-1.1zM108.5 220.7h1.1v1.1h-1.1zM104.1 229.0h1.1v1.1h-1.1zM122.4 202.9h1.1v1.1h-1.1zM107.4 206.9h1.1v1.1h-1.1zM109.8 224.5h1.1v1.1h-1.1zM107.2 216.5h1.1v1.1h-1.1zM104.8 224.2h1.1v1.1h-1.1zM112.6 204.4h1.1v1.1h-1.1zM103.2 202.0h1.1v1.1h-1.1zM107.9 225.5h1.1v1.1h-1.1zM135.4 222.7h1.1v1.1h-1.1zM112.6 211.9h1.1v1.1h-1.1zM113.0 213.7h1.1v1.1h-1.1zM108.3 209.8h1.1v1.1h-1.1zM103.0 216.6h1.1v1.1h-1.1zM105.4 225.8h1.1v1.1h-1.1zM116.0 213.8h1.1v1.1h-1.1zM112.3 201.3h1.1v1.1h-1.1zM112.4 200.4h1.1v1.1h-1.1zM114.7 216.1h1.1v1.1h-1.1zM115.8 203.1h1.1v1.1h-1.1zM131.1 204.5h1.1v1.1h-1.1zM109.3 214.3h1.1v1.1h-1.1zM107.1 212.7h1.1v1.1h-1.1zM119.0 208.4h1.1v1.1h-1.1zM114.2 207.2h1.1v1.1h-1.1zM101.3 218.6h1.1v1.1h-1.1zM146.7 210.7h1.1v1.1h-1.1zM100.8 215.0h1.1v1.1h-1.1zM117.0 196.6h1.1v1.1h-1.1zM116.7 232.3h1.1v1.1h-1.1zM123.6 220.8h1.1v1.1h-1.1zM132.3 199.9h1.1v1.1h-1.1zM117.5 204.4h1.1v1.1h-1.1zM122.6 208.6h1.1v1.1h-1.1zM118.1 201.1h1.1v1.1h-1.1zM107.6 223.3h1.1v1.1h-1.1zM121.3 205.0h1.1v1.1h-1.1zM109.5 221.3h1.1v1.1h-1.1zM110.2 222.8h1.1v1.1h-1.1zM103.0 203.5h1.1v1.1h-1.1zM107.1 217.6h1.1v1.1h-1.1zM110.8 212.8h1.1v1.1h-1.1zM112.5 202.1h1.1v1.1h-1.1zM105.9 220.2h1.1v1.1h-1.1zM113.2 202.3h1.1v1.1h-1.1zM115.6 211.1h1.1v1.1h-1.1zM126.8 198.5h1.1v1.1h-1.1zM134.1 200.5h1.1v1.1h-1.1zM118.3 222.6h1.1v1.1h-1.1zM113.9 223.7h1.1v1.1h-1.1zM111.6 208.8h1.1v1.1h-1.1zM115.6 232.0h1.1v1.1h-1.1zM112.1 208.4h1.1v1.1h-1.1zM109.9 206.1h1.1v1.1h-1.1zM105.7 203.8h1.1v1.1h-1.1zM118.5 204.0h1.1v1.1h-1.1zM103.5 194.4h1.1v1.1h-1.1zM119.8 212.5h1.1v1.1h-1.1zM102.5 194.2h1.1v1.1h-1.1zM112.9 203.1h1.1v1.1h-1.1zM103.8 203.1h1.1v1.1h-1.1zM114.8 210.5h1.1v1.1h-1.1zM106.8 198.4h1.1v1.1h-1.1zM103.0 217.0h1.1v1.1h-1.1zM106.2 200.9h1.1v1.1h-1.1zM137.5 196.7h1.1v1.1h-1.1zM130.2 216.0h1.1v1.1h-1.1zM108.6 219.1h1.1v1.1h-1.1zM102.1 217.0h1.1v1.1h-1.1zM100.7 209.2h1.1v1.1h-1.1zM103.9 204.8h1.1v1.1h-1.1zM102.9 199.3h1.1v1.1h-1.1zM102.2 191.1h1.1v1.1h-1.1zM111.2 205.8h1.1v1.1h-1.1zM105.9 213.0h1.1v1.1h-1.1zM100.6 221.9h1.1v1.1h-1.1zM117.4 199.8h1.1v1.1h-1.1zM104.1 203.1h1.1v1.1h-1.1zM119.3 211.8h1.1v1.1h-1.1zM111.4 210.6h1.1v1.1h-1.1zM102.7 210.0h1.1v1.1h-1.1zM102.2 236.8h1.1v1.1h-1.1zM118.1 209.4h1.1v1.1h-1.1zM114.6 205.2h1.1v1.1h-1.1zM108.2 210.1h1.1v1.1h-1.1zM105.7 220.3h1.1v1.1h-1.1zM100.6 208.3h1.1v1.1h-1.1zM104.4 203.6h1.1v1.1h-1.1zM107.8 197.3h1.1v1.1h-1.1zM111.0 202.3h1.1v1.1h-1.1zM114.2 209.3h1.1v1.1h-1.1zM120.5 223.3h1.1v1.1h-1.1zM114.6 213.9h1.1v1.1h-1.1zM106.3 223.6h1.1v1.1h-1.1zM103.2 209.9h1.1v1.1h-1.1zM117.7 197.2h1.1v1.1h-1.1zM114.6 197.4h1.1v1.1h-1.1zM107.8 198.9h1.1v1.1h-1.1zM103.6 208.5h1.1v1.1h-1.1zM113.3 198.0h1.1v1.1h-1.1zM122.5 211.7h1.1v1.1h-1.1zM102.0 230.0h1.1v1.1h-1.1zM104.0 207.3h1.1v1.1h-1.1zM114.7 208.3h1.1v1.1h-1.1zM123.2 227.7h1.1v1.1h-1.1zM103.5 214.5h1.1v1.1h-1.1zM116.3 235.3h1.1v1.1h-1.1zM120.0 213.9h1.1v1.1h-1.1zM126.0 195.6h1.1v1.1h-1.1zM127.2 215.8h1.1v1.1h-1.1zM113.9 194.5h1.1v1.1h-1.1zM114.6 206.3h1.1v1.1h-1.1zM102.1 216.8h1.1v1.1h-1.1zM117.3 228.1h1.1v1.1h-1.1zM100.9 200.6h1.1v1.1h-1.1zM108.3 201.5h1.1v1.1h-1.1zM117.8 224.9h1.1v1.1h-1.1zM113.0 213.4h1.1v1.1h-1.1zM113.7 196.7h1.1v1.1h-1.1zM121.0 216.9h1.1v1.1h-1.1zM113.2 204.5h1.1v1.1h-1.1zM104.8 230.0h1.1v1.1h-1.1zM122.1 218.8h1.1v1.1h-1.1zM119.2 200.9h1.1v1.1h-1.1zM112.1 221.6h1.1v1.1h-1.1zM108.9 224.4h1.1v1.1h-1.1zM100.4 223.9h1.1v1.1h-1.1zM102.5 212.9h1.1v1.1h-1.1zM106.0 225.9h1.1v1.1h-1.1zM118.4 210.0h1.1v1.1h-1.1zM110.4 202.7h1.1v1.1h-1.1zM115.1 192.1h1.1v1.1h-1.1zM105.3 213.1h1.1v1.1h-1.1zM116.4 191.2h1.1v1.1h-1.1zM123.6 202.7h1.1v1.1h-1.1zM112.8 211.2h1.1v1.1h-1.1zM100.7 203.1h1.1v1.1h-1.1zM121.1 192.3h1.1v1.1h-1.1zM110.9 192.5h1.1v1.1h-1.1zM119.2 200.6h1.1v1.1h-1.1zM109.5 209.8h1.1v1.1h-1.1zM127.6 199.7h1.1v1.1h-1.1zM138.3 206.4h1.1v1.1h-1.1zM114.8 206.9h1.1v1.1h-1.1zM124.9 206.0h1.1v1.1h-1.1zM109.2 221.8h1.1v1.1h-1.1zM104.4 209.6h1.1v1.1h-1.1zM110.4 220.6h1.1v1.1h-1.1zM116.9 199.4h1.1v1.1h-1.1zM109.0 196.7h1.1v1.1h-1.1zM114.5 194.1h1.1v1.1h-1.1zM128.7 212.6h1.1v1.1h-1.1zM102.0 208.2h1.1v1.1h-1.1zM131.2 200.4h1.1v1.1h-1.1zM121.4 206.8h1.1v1.1h-1.1zM115.7 205.6h1.1v1.1h-1.1zM100.8 206.6h1.1v1.1h-1.1zM142.6 205.8h1.1v1.1h-1.1zM101.4 210.0h1.1v1.1h-1.1zM113.0 203.9h1.1v1.1h-1.1zM127.2 224.6h1.1v1.1h-1.1zM125.0 213.3h1.1v1.1h-1.1zM107.9 223.1h1.1v1.1h-1.1zM112.5 209.7h1.1v1.1h-1.1zM123.3 216.7h1.1v1.1h-1.1zM101.7 202.9h1.1v1.1h-1.1zM114.7 195.0h1.1v1.1h-1.1zM100.7 222.2h1.1v1.1h-1.1zM118.1 217.2h1.1v1.1h-1.1zM135.3 205.1h1.1v1.1h-1.1zM129.9 193.0h1.1v1.1h-1.1zM104.5 200.3h1.1v1.1h-1.1zM118.9 203.9h1.1v1.1h-1.1zM105.2 209.3h1.1v1.1h-1.1zM116.8 213.5h1.1v1.1h-1.1zM124.5 204.5h1.1v1.1h-1.1zM137.8 203.3h1.1v1.1h-1.1zM104.2 207.0h1.1v1.1h-1.1zM106.1 215.0h1.1v1.1h-1.1zM121.7 226.1h1.1v1.1h-1.1zM104.0 217.9h1.1v1.1h-1.1zM116.5 212.8h1.1v1.1h-1.1zM115.6 221.3h1.1v1.1h-1.1zM108.0 205.2h1.1v1.1h-1.1zM119.1 224.1h1.1v1.1h-1.1zM115.3 212.0h1.1v1.1h-1.1zM118.6 204.9h1.1v1.1h-1.1zM110.8 199.9h1.1v1.1h-1.1zM107.3 206.1h1.1v1.1h-1.1zM135.5 195.6h1.1v1.1h-1.1zM109.8 215.2h1.1v1.1h-1.1zM110.8 217.1h1.1v1.1h-1.1zM112.1 196.9h1.1v1.1h-1.1zM121.5 218.3h1.1v1.1h-1.1zM108.5 210.4h1.1v1.1h-1.1zM101.8 227.5h1.1v1.1h-1.1zM126.9 196.6h1.1v1.1h-1.1zM113.4 201.0h1.1v1.1h-1.1zM103.4 216.9h1.1v1.1h-1.1zM109.9 227.7h1.1v1.1h-1.1zM103.5 206.0h1.1v1.1h-1.1zM117.8 205.8h1.1v1.1h-1.1zM136.1 196.1h1.1v1.1h-1.1zM102.7 206.2h1.1v1.1h-1.1zM117.5 211.1h1.1v1.1h-1.1zM101.0 211.3h1.1v1.1h-1.1zM112.6 212.0h1.1v1.1h-1.1zM107.4 223.6h1.1v1.1h-1.1zM106.0 218.5h1.1v1.1h-1.1zM108.7 209.7h1.1v1.1h-1.1zM115.3 226.6h1.1v1.1h-1.1zM121.2 223.0h1.1v1.1h-1.1zM106.9 195.6h1.1v1.1h-1.1zM129.7 216.1h1.1v1.1h-1.1zM102.6 200.1h1.1v1.1h-1.1zM108.6 196.9h1.1v1.1h-1.1zM102.6 208.7h1.1v1.1h-1.1zM108.0 199.8h1.1v1.1h-1.1zM117.5 210.7h1.1v1.1h-1.1zM100.6 218.2h1.1v1.1h-1.1zM101.4 209.9h1.1v1.1h-1.1zM111.1 208.0h1.1v1.1h-1.1zM106.7 207.4h1.1v1.1h-1.1zM116.4 208.0h1.1v1.1h-1.1z" fill="#c4102f" stroke="#a00f2c" stroke-width="0.3"/>
<line x1="53.50" y1="150.50" x2="53.50" y2="266.90" stroke="#2a2a2a" stroke-width="0.9"/>
<line x1="100.50" y1="150.50" x2="100.50" y2="266.90" stroke="#2a2a2a" stroke-width="0.9"/>
<line x1="40.70" y1="191.50" x2="170.50" y2="191.50" stroke="#2a2a2a" stroke-width="0.9"/>
<line x1="40.70" y1="240.50" x2="170.50" y2="240.50" stroke="#2a2a2a" stroke-width="0.9"/>
<path d="M40.70 150.50 H170.50 V266.90" fill="none" stroke="#151515" stroke-width="1.45"/>
<path d="M40.70 150.00 V266.90 H171.00" fill="none" stroke="#111" stroke-width="1.6"/>
<line x1="56.40" y1="266.90" x2="56.40" y2="269.90" stroke="#222" stroke-width="1.1"/>
<text x="56.40" y="280.90" font-size="10" text-anchor="middle" fill="#3a3a3a" textLength="14.80" lengthAdjust="spacingAndGlyphs" style="stroke:none">-0.5</text>
<line x1="77.00" y1="266.90" x2="77.00" y2="269.90" stroke="#222" stroke-width="1.1"/>
<text x="77.00" y="280.90" font-size="10" text-anchor="middle" fill="#3a3a3a" textLength="3.70" lengthAdjust="spacingAndGlyphs" style="stroke:none">0</text>
<line x1="97.60" y1="266.90" x2="97.60" y2="269.90" stroke="#222" stroke-width="1.1"/>
<text x="97.60" y="280.90" font-size="10" text-anchor="middle" fill="#3a3a3a" textLength="11.10" lengthAdjust="spacingAndGlyphs" style="stroke:none">0.5</text>
<line x1="118.20" y1="266.90" x2="118.20" y2="269.90" stroke="#222" stroke-width="1.1"/>
<text x="118.20" y="280.90" font-size="10" text-anchor="middle" fill="#3a3a3a" textLength="3.70" lengthAdjust="spacingAndGlyphs" style="stroke:none">1</text>
<line x1="138.80" y1="266.90" x2="138.80" y2="269.90" stroke="#222" stroke-width="1.1"/>
<text x="138.80" y="280.90" font-size="10" text-anchor="middle" fill="#3a3a3a" textLength="11.10" lengthAdjust="spacingAndGlyphs" style="stroke:none">1.5</text>
<line x1="159.40" y1="266.90" x2="159.40" y2="269.90" stroke="#222" stroke-width="1.1"/>
<text x="159.40" y="280.90" font-size="10" text-anchor="middle" fill="#3a3a3a" textLength="3.70" lengthAdjust="spacingAndGlyphs" style="stroke:none">2</text>
<line x1="37.20" y1="151.65" x2="40.70" y2="151.65" stroke="#222" stroke-width="1.1"/>
<text x="34.20" y="155.25" font-size="10" text-anchor="end" fill="#3a3a3a" textLength="11.10" lengthAdjust="spacingAndGlyphs" style="stroke:none">1.5</text>
<line x1="37.20" y1="173.10" x2="40.70" y2="173.10" stroke="#222" stroke-width="1.1"/>
<text x="34.20" y="176.70" font-size="10" text-anchor="end" fill="#3a3a3a" textLength="3.70" lengthAdjust="spacingAndGlyphs" style="stroke:none">1</text>
<line x1="37.20" y1="194.55" x2="40.70" y2="194.55" stroke="#222" stroke-width="1.1"/>
<text x="34.20" y="198.15" font-size="10" text-anchor="end" fill="#3a3a3a" textLength="11.10" lengthAdjust="spacingAndGlyphs" style="stroke:none">0.5</text>
<line x1="37.20" y1="216.00" x2="40.70" y2="216.00" stroke="#222" stroke-width="1.1"/>
<text x="34.20" y="219.60" font-size="10" text-anchor="end" fill="#3a3a3a" textLength="3.70" lengthAdjust="spacingAndGlyphs" style="stroke:none">0</text>
<line x1="37.20" y1="237.45" x2="40.70" y2="237.45" stroke="#222" stroke-width="1.1"/>
<text x="34.20" y="241.05" font-size="10" text-anchor="end" fill="#3a3a3a" textLength="14.80" lengthAdjust="spacingAndGlyphs" style="stroke:none">-0.5</text>
<line x1="37.20" y1="258.90" x2="40.70" y2="258.90" stroke="#222" stroke-width="1.1"/>
<text x="34.20" y="262.50" font-size="10" text-anchor="end" fill="#3a3a3a" textLength="7.40" lengthAdjust="spacingAndGlyphs" style="stroke:none">-1</text>
<text x="55.00" y="293.10" font-size="10.2" fill="#2b2b2b" textLength="101.00" lengthAdjust="spacingAndGlyphs">log<tspan font-size="6.8" dy="2">2</tspan><tspan dy="-2">(PU.1 WT LSD1i vs control)</tspan></text>

<text x="186.90" y="144.62" font-size="12" fill="#111" font-weight="bold">F</text>
<path d="M257.9 216.6h1.1v1.1h-1.1zM267.6 217.8h1.1v1.1h-1.1zM264.8 215.1h1.1v1.1h-1.1zM264.6 206.0h1.1v1.1h-1.1zM247.0 218.9h1.1v1.1h-1.1zM252.3 223.1h1.1v1.1h-1.1zM245.9 216.0h1.1v1.1h-1.1zM257.0 220.8h1.1v1.1h-1.1zM267.1 222.7h1.1v1.1h-1.1zM257.8 210.5h1.1v1.1h-1.1zM262.5 219.3h1.1v1.1h-1.1zM240.5 228.1h1.1v1.1h-1.1zM259.4 223.9h1.1v1.1h-1.1zM249.7 224.1h1.1v1.1h-1.1zM266.1 206.8h1.1v1.1h-1.1zM266.7 213.1h1.1v1.1h-1.1zM257.5 229.0h1.1v1.1h-1.1zM263.6 209.2h1.1v1.1h-1.1zM264.0 220.6h1.1v1.1h-1.1zM254.9 217.4h1.1v1.1h-1.1zM253.5 222.4h1.1v1.1h-1.1zM257.0 215.9h1.1v1.1h-1.1zM252.5 216.9h1.1v1.1h-1.1zM252.6 214.1h1.1v1.1h-1.1zM255.4 213.2h1.1v1.1h-1.1zM251.3 239.0h1.1v1.1h-1.1zM265.0 221.6h1.1v1.1h-1.1zM243.4 221.7h1.1v1.1h-1.1zM265.5 219.5h1.1v1.1h-1.1zM252.3 230.9h1.1v1.1h-1.1zM253.0 222.9h1.1v1.1h-1.1zM245.6 222.8h1.1v1.1h-1.1zM256.7 234.8h1.1v1.1h-1.1zM255.7 226.3h1.1v1.1h-1.1zM259.8 213.9h1.1v1.1h-1.1zM253.1 226.0h1.1v1.1h-1.1zM258.9 220.9h1.1v1.1h-1.1zM261.8 215.4h1.1v1.1h-1.1zM252.8 215.2h1.1v1.1h-1.1zM266.7 210.5h1.1v1.1h-1.1zM256.8 218.9h1.1v1.1h-1.1zM263.4 217.2h1.1v1.1h-1.1zM263.6 219.6h1.1v1.1h-1.1zM254.4 218.6h1.1v1.1h-1.1zM240.3 223.2h1.1v1.1h-1.1zM254.8 214.4h1.1v1.1h-1.1zM263.1 213.4h1.1v1.1h-1.1zM254.5 230.1h1.1v1.1h-1.1zM262.0 235.4h1.1v1.1h-1.1zM267.0 214.7h1.1v1.1h-1.1zM253.0 224.1h1.1v1.1h-1.1zM269.3 229.0h1.1v1.1h-1.1zM267.9 206.7h1.1v1.1h-1.1zM268.7 226.1h1.1v1.1h-1.1zM268.0 224.8h1.1v1.1h-1.1zM259.7 225.1h1.1v1.1h-1.1zM258.0 220.4h1.1v1.1h-1.1zM263.5 226.9h1.1v1.1h-1.1zM249.7 221.0h1.1v1.1h-1.1zM243.8 224.8h1.1v1.1h-1.1zM249.9 213.2h1.1v1.1h-1.1zM261.4 219.8h1.1v1.1h-1.1zM262.3 212.3h1.1v1.1h-1.1zM244.0 210.8h1.1v1.1h-1.1zM240.8 218.5h1.1v1.1h-1.1zM255.1 215.2h1.1v1.1h-1.1zM256.3 223.4h1.1v1.1h-1.1zM257.6 219.6h1.1v1.1h-1.1zM264.2 201.7h1.1v1.1h-1.1zM269.3 207.6h1.1v1.1h-1.1zM260.1 218.9h1.1v1.1h-1.1zM263.6 221.6h1.1v1.1h-1.1zM248.0 222.3h1.1v1.1h-1.1zM247.2 213.3h1.1v1.1h-1.1zM260.2 234.4h1.1v1.1h-1.1zM264.1 216.8h1.1v1.1h-1.1zM264.7 228.2h1.1v1.1h-1.1zM263.4 208.2h1.1v1.1h-1.1zM265.2 229.0h1.1v1.1h-1.1zM265.4 211.6h1.1v1.1h-1.1zM242.0 224.4h1.1v1.1h-1.1zM251.3 220.6h1.1v1.1h-1.1zM262.2 206.7h1.1v1.1h-1.1zM263.5 218.7h1.1v1.1h-1.1zM244.2 216.8h1.1v1.1h-1.1zM268.7 215.0h1.1v1.1h-1.1zM254.0 228.8h1.1v1.1h-1.1zM255.9 220.2h1.1v1.1h-1.1zM260.5 211.9h1.1v1.1h-1.1zM264.9 215.8h1.1v1.1h-1.1zM244.9 220.2h1.1v1.1h-1.1zM267.1 223.3h1.1v1.1h-1.1zM258.7 207.9h1.1v1.1h-1.1zM251.0 224.8h1.1v1.1h-1.1zM255.5 206.6h1.1v1.1h-1.1zM238.0 221.3h1.1v1.1h-1.1zM252.1 215.2h1.1v1.1h-1.1zM259.7 229.6h1.1v1.1h-1.1zM251.5 219.7h1.1v1.1h-1.1zM255.0 226.9h1.1v1.1h-1.1zM256.7 219.0h1.1v1.1h-1.1zM258.5 210.4h1.1v1.1h-1.1zM267.3 215.2h1.1v1.1h-1.1zM257.8 217.5h1.1v1.1h-1.1zM255.6 212.5h1.1v1.1h-1.1zM262.9 227.4h1.1v1.1h-1.1zM254.9 224.3h1.1v1.1h-1.1zM262.7 210.3h1.1v1.1h-1.1zM243.6 226.8h1.1v1.1h-1.1zM270.3 205.2h1.1v1.1h-1.1zM264.0 203.1h1.1v1.1h-1.1zM270.2 232.8h1.1v1.1h-1.1zM257.5 220.4h1.1v1.1h-1.1zM248.5 232.5h1.1v1.1h-1.1zM266.1 208.6h1.1v1.1h-1.1zM264.9 224.4h1.1v1.1h-1.1zM250.1 215.7h1.1v1.1h-1.1zM244.5 218.9h1.1v1.1h-1.1zM262.1 225.3h1.1v1.1h-1.1zM256.4 230.6h1.1v1.1h-1.1zM252.4 224.4h1.1v1.1h-1.1zM253.2 217.8h1.1v1.1h-1.1zM257.0 208.6h1.1v1.1h-1.1zM242.8 221.8h1.1v1.1h-1.1zM249.9 222.6h1.1v1.1h-1.1zM256.8 215.8h1.1v1.1h-1.1zM252.4 226.0h1.1v1.1h-1.1zM246.4 233.5h1.1v1.1h-1.1zM263.3 222.5h1.1v1.1h-1.1zM264.0 222.7h1.1v1.1h-1.1zM260.4 230.7h1.1v1.1h-1.1zM254.4 221.5h1.1v1.1h-1.1zM260.8 212.6h1.1v1.1h-1.1zM261.5 214.3h1.1v1.1h-1.1zM251.8 205.1h1.1v1.1h-1.1zM263.7 209.7h1.1v1.1h-1.1zM238.7 220.3h1.1v1.1h-1.1zM246.2 236.1h1.1v1.1h-1.1zM255.2 217.8h1.1v1.1h-1.1zM257.0 210.1h1.1v1.1h-1.1zM247.4 222.8h1.1v1.1h-1.1zM261.0 207.8h1.1v1.1h-1.1zM267.7 224.2h1.1v1.1h-1.1zM262.1 216.3h1.1v1.1h-1.1zM260.1 212.4h1.1v1.1h-1.1zM265.6 205.1h1.1v1.1h-1.1zM261.7 218.7h1.1v1.1h-1.1zM247.6 206.0h1.1v1.1h-1.1zM256.2 221.9h1.1v1.1h-1.1zM269.8 230.4h1.1v1.1h-1.1zM247.6 221.5h1.1v1.1h-1.1zM258.6 208.5h1.1v1.1h-1.1zM254.4 222.1h1.1v1.1h-1.1zM249.8 208.0h1.1v1.1h-1.1zM248.8 222.0h1.1v1.1h-1.1zM258.9 204.6h1.1v1.1h-1.1zM260.9 235.0h1.1v1.1h-1.1zM260.8 201.3h1.1v1.1h-1.1zM244.8 236.5h1.1v1.1h-1.1zM255.4 219.9h1.1v1.1h-1.1zM261.2 227.4h1.1v1.1h-1.1zM266.7 215.2h1.1v1.1h-1.1zM264.2 219.6h1.1v1.1h-1.1zM265.6 220.0h1.1v1.1h-1.1zM268.0 212.6h1.1v1.1h-1.1zM265.5 210.5h1.1v1.1h-1.1zM250.6 222.7h1.1v1.1h-1.1zM258.5 209.6h1.1v1.1h-1.1zM251.5 233.2h1.1v1.1h-1.1zM236.2 230.6h1.1v1.1h-1.1zM242.6 231.9h1.1v1.1h-1.1zM247.8 213.8h1.1v1.1h-1.1zM237.5 225.6h1.1v1.1h-1.1zM252.7 224.8h1.1v1.1h-1.1zM271.9 225.9h1.1v1.1h-1.1zM257.6 214.0h1.1v1.1h-1.1zM261.7 209.8h1.1v1.1h-1.1zM255.5 223.7h1.1v1.1h-1.1zM257.2 220.6h1.1v1.1h-1.1zM269.6 220.3h1.1v1.1h-1.1zM265.3 218.1h1.1v1.1h-1.1zM257.2 215.7h1.1v1.1h-1.1zM266.2 234.6h1.1v1.1h-1.1zM267.8 221.6h1.1v1.1h-1.1zM256.0 213.3h1.1v1.1h-1.1zM260.5 225.6h1.1v1.1h-1.1zM260.3 209.1h1.1v1.1h-1.1zM251.9 209.4h1.1v1.1h-1.1zM268.5 224.5h1.1v1.1h-1.1zM256.5 225.3h1.1v1.1h-1.1zM252.3 210.0h1.1v1.1h-1.1zM242.7 234.0h1.1v1.1h-1.1zM246.4 228.9h1.1v1.1h-1.1zM272.0 229.1h1.1v1.1h-1.1zM247.6 220.6h1.1v1.1h-1.1zM261.9 215.7h1.1v1.1h-1.1zM254.7 215.9h1.1v1.1h-1.1zM262.7 216.2h1.1v1.1h-1.1zM263.5 228.8h1.1v1.1h-1.1zM250.9 211.3h1.1v1.1h-1.1zM255.3 220.0h1.1v1.1h-1.1zM258.9 221.9h1.1v1.1h-1.1zM259.1 205.9h1.1v1.1h-1.1zM257.7 218.2h1.1v1.1h-1.1zM255.1 216.9h1.1v1.1h-1.1zM263.8 211.8h1.1v1.1h-1.1zM270.1 201.8h1.1v1.1h-1.1zM263.0 218.4h1.1v1.1h-1.1zM251.2 215.0h1.1v1.1h-1.1zM261.6 236.2h1.1v1.1h-1.1zM258.6 226.4h1.1v1.1h-1.1zM262.2 202.8h1.1v1.1h-1.1zM256.1 220.6h1.1v1.1h-1.1zM257.9 225.9h1.1v1.1h-1.1zM249.9 230.9h1.1v1.1h-1.1zM255.4 228.7h1.1v1.1h-1.1zM252.8 224.4h1.1v1.1h-1.1zM260.8 219.5h1.1v1.1h-1.1zM252.8 221.3h1.1v1.1h-1.1zM245.9 231.1h1.1v1.1h-1.1zM265.9 226.8h1.1v1.1h-1.1zM267.3 221.4h1.1v1.1h-1.1zM263.3 220.0h1.1v1.1h-1.1zM255.6 215.3h1.1v1.1h-1.1zM256.8 232.7h1.1v1.1h-1.1zM254.9 222.4h1.1v1.1h-1.1zM265.2 217.8h1.1v1.1h-1.1zM236.7 220.2h1.1v1.1h-1.1zM253.3 213.5h1.1v1.1h-1.1zM259.4 222.0h1.1v1.1h-1.1zM252.7 210.6h1.1v1.1h-1.1zM241.4 204.5h1.1v1.1h-1.1zM255.8 216.1h1.1v1.1h-1.1zM251.1 208.5h1.1v1.1h-1.1zM265.3 210.5h1.1v1.1h-1.1zM270.8 213.5h1.1v1.1h-1.1zM258.6 220.5h1.1v1.1h-1.1zM240.3 219.9h1.1v1.1h-1.1zM256.2 203.7h1.1v1.1h-1.1zM249.6 219.8h1.1v1.1h-1.1zM264.3 223.8h1.1v1.1h-1.1zM260.9 212.5h1.1v1.1h-1.1zM271.9 209.7h1.1v1.1h-1.1zM264.4 212.3h1.1v1.1h-1.1zM250.1 218.4h1.1v1.1h-1.1zM259.9 206.0h1.1v1.1h-1.1zM245.8 230.7h1.1v1.1h-1.1zM268.5 221.3h1.1v1.1h-1.1zM260.2 219.8h1.1v1.1h-1.1zM271.7 213.6h1.1v1.1h-1.1zM261.9 228.4h1.1v1.1h-1.1zM241.5 225.9h1.1v1.1h-1.1zM265.2 207.9h1.1v1.1h-1.1zM267.8 220.3h1.1v1.1h-1.1zM250.5 222.0h1.1v1.1h-1.1zM250.9 225.8h1.1v1.1h-1.1zM259.9 214.8h1.1v1.1h-1.1zM249.7 210.5h1.1v1.1h-1.1zM246.7 221.3h1.1v1.1h-1.1zM249.3 230.4h1.1v1.1h-1.1zM253.4 223.3h1.1v1.1h-1.1zM249.9 222.5h1.1v1.1h-1.1zM255.0 226.8h1.1v1.1h-1.1zM259.0 213.8h1.1v1.1h-1.1zM270.8 225.1h1.1v1.1h-1.1zM267.6 210.2h1.1v1.1h-1.1zM266.2 225.9h1.1v1.1h-1.1zM259.4 226.4h1.1v1.1h-1.1zM260.4 210.4h1.1v1.1h-1.1zM253.1 214.7h1.1v1.1h-1.1zM245.2 223.9h1.1v1.1h-1.1zM254.7 221.5h1.1v1.1h-1.1zM268.2 217.2h1.1v1.1h-1.1zM256.0 217.7h1.1v1.1h-1.1zM258.1 211.4h1.1v1.1h-1.1zM257.5 225.6h1.1v1.1h-1.1zM246.3 221.1h1.1v1.1h-1.1zM258.2 218.7h1.1v1.1h-1.1zM262.4 228.8h1.1v1.1h-1.1zM266.5 209.1h1.1v1.1h-1.1zM263.4 205.7h1.1v1.1h-1.1zM268.2 217.7h1.1v1.1h-1.1zM261.5 231.9h1.1v1.1h-1.1zM258.8 225.3h1.1v1.1h-1.1zM240.8 215.1h1.1v1.1h-1.1zM253.9 235.3h1.1v1.1h-1.1zM259.9 222.9h1.1v1.1h-1.1zM266.1 214.6h1.1v1.1h-1.1zM256.8 213.4h1.1v1.1h-1.1zM252.6 212.7h1.1v1.1h-1.1zM262.1 223.2h1.1v1.1h-1.1zM263.6 226.0h1.1v1.1h-1.1zM256.1 214.0h1.1v1.1h-1.1zM238.2 219.6h1.1v1.1h-1.1zM259.6 224.8h1.1v1.1h-1.1zM244.4 220.0h1.1v1.1h-1.1zM238.4 221.1h1.1v1.1h-1.1zM270.1 207.9h1.1v1.1h-1.1zM265.4 222.4h1.1v1.1h-1.1zM264.6 213.6h1.1v1.1h-1.1zM259.2 224.6h1.1v1.1h-1.1zM258.4 216.0h1.1v1.1h-1.1zM262.6 218.9h1.1v1.1h-1.1zM260.2 217.0h1.1v1.1h-1.1zM259.4 219.1h1.1v1.1h-1.1zM265.5 206.8h1.1v1.1h-1.1zM236.2 228.0h1.1v1.1h-1.1zM266.9 224.6h1.1v1.1h-1.1zM252.9 224.1h1.1v1.1h-1.1zM266.5 214.2h1.1v1.1h-1.1zM269.4 211.9h1.1v1.1h-1.1zM250.9 220.5h1.1v1.1h-1.1zM265.9 222.5h1.1v1.1h-1.1zM265.7 220.6h1.1v1.1h-1.1zM252.0 224.9h1.1v1.1h-1.1zM253.5 215.9h1.1v1.1h-1.1zM259.4 218.7h1.1v1.1h-1.1zM237.9 220.4h1.1v1.1h-1.1zM254.1 218.9h1.1v1.1h-1.1zM259.9 217.9h1.1v1.1h-1.1zM254.1 211.0h1.1v1.1h-1.1zM243.5 224.6h1.1v1.1h-1.1zM254.5 216.3h1.1v1.1h-1.1zM272.0 213.1h1.1v1.1h-1.1zM270.2 222.0h1.1v1.1h-1.1zM257.0 207.1h1.1v1.1h-1.1zM250.7 218.4h1.1v1.1h-1.1zM257.9 227.1h1.1v1.1h-1.1zM258.2 211.9h1.1v1.1h-1.1zM251.9 215.8h1.1v1.1h-1.1zM255.0 214.3h1.1v1.1h-1.1zM263.8 219.5h1.1v1.1h-1.1zM266.6 220.1h1.1v1.1h-1.1zM235.7 221.5h1.1v1.1h-1.1zM267.0 227.3h1.1v1.1h-1.1zM259.3 217.6h1.1v1.1h-1.1zM268.6 216.7h1.1v1.1h-1.1zM257.9 212.6h1.1v1.1h-1.1zM262.1 219.9h1.1v1.1h-1.1zM230.9 233.7h1.1v1.1h-1.1zM259.8 213.2h1.1v1.1h-1.1zM241.4 211.3h1.1v1.1h-1.1zM233.6 216.6h1.1v1.1h-1.1zM260.9 229.3h1.1v1.1h-1.1zM248.6 228.0h1.1v1.1h-1.1zM267.2 222.0h1.1v1.1h-1.1zM260.0 209.9h1.1v1.1h-1.1zM256.8 223.7h1.1v1.1h-1.1zM267.1 215.9h1.1v1.1h-1.1zM259.8 215.5h1.1v1.1h-1.1zM264.8 214.7h1.1v1.1h-1.1zM265.7 218.9h1.1v1.1h-1.1zM261.0 216.3h1.1v1.1h-1.1zM265.3 211.8h1.1v1.1h-1.1zM265.2 216.7h1.1v1.1h-1.1zM245.5 221.5h1.1v1.1h-1.1zM255.5 213.8h1.1v1.1h-1.1zM256.9 208.4h1.1v1.1h-1.1zM254.6 201.9h1.1v1.1h-1.1zM243.5 229.6h1.1v1.1h-1.1zM252.8 217.9h1.1v1.1h-1.1zM261.1 217.7h1.1v1.1h-1.1zM259.8 226.6h1.1v1.1h-1.1zM272.0 218.8h1.1v1.1h-1.1zM252.5 224.8h1.1v1.1h-1.1zM254.1 226.7h1.1v1.1h-1.1zM252.8 224.3h1.1v1.1h-1.1zM255.1 215.0h1.1v1.1h-1.1zM252.5 227.4h1.1v1.1h-1.1zM240.9 225.7h1.1v1.1h-1.1zM261.2 219.6h1.1v1.1h-1.1zM267.1 224.8h1.1v1.1h-1.1zM268.3 226.3h1.1v1.1h-1.1zM248.1 232.2h1.1v1.1h-1.1zM256.2 224.9h1.1v1.1h-1.1zM257.0 231.6h1.1v1.1h-1.1zM261.2 212.7h1.1v1.1h-1.1zM256.6 226.1h1.1v1.1h-1.1zM267.2 224.6h1.1v1.1h-1.1zM266.9 212.3h1.1v1.1h-1.1zM262.6 214.0h1.1v1.1h-1.1zM262.1 218.7h1.1v1.1h-1.1zM246.9 215.0h1.1v1.1h-1.1zM254.3 224.5h1.1v1.1h-1.1zM251.6 217.9h1.1v1.1h-1.1zM255.0 212.9h1.1v1.1h-1.1zM246.0 221.6h1.1v1.1h-1.1zM269.1 223.7h1.1v1.1h-1.1zM248.4 208.9h1.1v1.1h-1.1zM260.5 220.5h1.1v1.1h-1.1zM246.5 228.2h1.1v1.1h-1.1zM261.2 214.3h1.1v1.1h-1.1zM250.5 216.4h1.1v1.1h-1.1zM261.4 227.3h1.1v1.1h-1.1zM257.4 218.9h1.1v1.1h-1.1zM260.6 216.6h1.1v1.1h-1.1zM261.9 214.1h1.1v1.1h-1.1zM252.2 230.4h1.1v1.1h-1.1zM256.4 228.6h1.1v1.1h-1.1zM252.6 218.7h1.1v1.1h-1.1zM250.5 220.4h1.1v1.1h-1.1zM246.8 217.8h1.1v1.1h-1.1zM266.8 209.4h1.1v1.1h-1.1zM251.3 230.1h1.1v1.1h-1.1zM264.1 226.4h1.1v1.1h-1.1zM263.1 222.7h1.1v1.1h-1.1zM248.9 209.9h1.1v1.1h-1.1zM267.6 219.2h1.1v1.1h-1.1zM250.1 213.6h1.1v1.1h-1.1zM263.8 235.5h1.1v1.1h-1.1zM271.4 215.5h1.1v1.1h-1.1zM251.5 213.7h1.1v1.1h-1.1zM249.5 210.5h1.1v1.1h-1.1zM249.4 225.7h1.1v1.1h-1.1zM254.6 225.6h1.1v1.1h-1.1zM246.4 210.4h1.1v1.1h-1.1zM265.5 205.5h1.1v1.1h-1.1zM256.4 219.8h1.1v1.1h-1.1zM257.7 228.7h1.1v1.1h-1.1zM248.8 204.5h1.1v1.1h-1.1zM237.6 219.5h1.1v1.1h-1.1zM251.3 228.7h1.1v1.1h-1.1zM248.4 216.9h1.1v1.1h-1.1zM243.1 229.0h1.1v1.1h-1.1zM248.0 219.4h1.1v1.1h-1.1zM249.2 228.4h1.1v1.1h-1.1zM265.3 234.3h1.1v1.1h-1.1zM264.4 213.1h1.1v1.1h-1.1zM262.6 223.4h1.1v1.1h-1.1zM253.0 220.9h1.1v1.1h-1.1zM246.4 220.2h1.1v1.1h-1.1zM260.6 220.0h1.1v1.1h-1.1zM262.1 223.6h1.1v1.1h-1.1zM267.1 215.1h1.1v1.1h-1.1zM257.7 214.8h1.1v1.1h-1.1zM256.7 217.7h1.1v1.1h-1.1zM260.7 221.2h1.1v1.1h-1.1zM249.4 220.2h1.1v1.1h-1.1zM250.5 209.3h1.1v1.1h-1.1zM263.8 209.3h1.1v1.1h-1.1zM246.4 222.6h1.1v1.1h-1.1zM257.2 214.5h1.1v1.1h-1.1zM265.1 213.3h1.1v1.1h-1.1zM260.1 214.1h1.1v1.1h-1.1zM261.9 217.6h1.1v1.1h-1.1zM247.8 216.7h1.1v1.1h-1.1zM256.8 221.1h1.1v1.1h-1.1zM255.5 213.8h1.1v1.1h-1.1zM263.5 213.7h1.1v1.1h-1.1zM261.8 212.9h1.1v1.1h-1.1zM258.3 213.5h1.1v1.1h-1.1zM263.0 223.2h1.1v1.1h-1.1zM255.5 227.3h1.1v1.1h-1.1zM252.5 218.3h1.1v1.1h-1.1zM257.8 221.3h1.1v1.1h-1.1zM252.9 213.9h1.1v1.1h-1.1zM263.4 221.0h1.1v1.1h-1.1zM255.3 228.7h1.1v1.1h-1.1zM252.2 220.4h1.1v1.1h-1.1zM248.4 223.0h1.1v1.1h-1.1zM255.7 210.7h1.1v1.1h-1.1zM270.2 216.1h1.1v1.1h-1.1zM265.9 207.2h1.1v1.1h-1.1zM257.7 224.1h1.1v1.1h-1.1zM259.5 229.8h1.1v1.1h-1.1zM241.2 213.5h1.1v1.1h-1.1zM265.2 213.7h1.1v1.1h-1.1zM256.2 207.4h1.1v1.1h-1.1zM270.9 221.2h1.1v1.1h-1.1zM256.6 231.2h1.1v1.1h-1.1zM253.9 207.7h1.1v1.1h-1.1zM260.3 215.8h1.1v1.1h-1.1zM252.5 223.3h1.1v1.1h-1.1zM270.6 200.5h1.1v1.1h-1.1zM261.0 217.2h1.1v1.1h-1.1zM261.7 223.3h1.1v1.1h-1.1zM261.4 214.6h1.1v1.1h-1.1zM255.2 222.2h1.1v1.1h-1.1zM262.8 223.1h1.1v1.1h-1.1zM260.0 214.6h1.1v1.1h-1.1zM259.0 219.0h1.1v1.1h-1.1zM261.9 218.0h1.1v1.1h-1.1zM254.3 228.2h1.1v1.1h-1.1zM255.1 213.2h1.1v1.1h-1.1zM255.8 204.4h1.1v1.1h-1.1zM270.4 213.8h1.1v1.1h-1.1zM259.4 208.4h1.1v1.1h-1.1zM267.6 201.9h1.1v1.1h-1.1zM256.3 219.7h1.1v1.1h-1.1zM255.4 223.2h1.1v1.1h-1.1zM241.2 227.6h1.1v1.1h-1.1zM266.4 219.9h1.1v1.1h-1.1zM256.7 219.2h1.1v1.1h-1.1zM272.0 207.1h1.1v1.1h-1.1zM266.6 221.1h1.1v1.1h-1.1zM252.6 206.9h1.1v1.1h-1.1zM265.9 218.9h1.1v1.1h-1.1zM250.7 219.7h1.1v1.1h-1.1zM256.2 217.7h1.1v1.1h-1.1zM270.1 217.6h1.1v1.1h-1.1zM260.4 218.4h1.1v1.1h-1.1zM248.2 215.3h1.1v1.1h-1.1zM271.9 216.5h1.1v1.1h-1.1zM248.9 216.3h1.1v1.1h-1.1zM257.4 223.8h1.1v1.1h-1.1zM255.8 224.1h1.1v1.1h-1.1zM257.4 228.3h1.1v1.1h-1.1zM251.1 214.0h1.1v1.1h-1.1zM244.0 226.4h1.1v1.1h-1.1zM250.3 218.6h1.1v1.1h-1.1zM250.8 218.4h1.1v1.1h-1.1zM236.6 223.3h1.1v1.1h-1.1zM259.7 213.7h1.1v1.1h-1.1zM270.7 212.5h1.1v1.1h-1.1zM271.7 204.0h1.1v1.1h-1.1zM262.7 226.0h1.1v1.1h-1.1zM259.2 202.2h1.1v1.1h-1.1zM258.7 212.1h1.1v1.1h-1.1zM260.8 212.1h1.1v1.1h-1.1zM250.2 228.1h1.1v1.1h-1.1zM259.9 222.4h1.1v1.1h-1.1zM258.3 218.1h1.1v1.1h-1.1zM262.6 226.6h1.1v1.1h-1.1zM237.0 220.7h1.1v1.1h-1.1zM271.3 205.1h1.1v1.1h-1.1zM262.4 215.0h1.1v1.1h-1.1zM271.8 212.0h1.1v1.1h-1.1zM261.1 208.5h1.1v1.1h-1.1zM251.1 203.8h1.1v1.1h-1.1zM246.4 219.9h1.1v1.1h-1.1zM263.4 221.8h1.1v1.1h-1.1zM258.5 218.7h1.1v1.1h-1.1zM249.8 223.1h1.1v1.1h-1.1zM258.0 228.2h1.1v1.1h-1.1zM252.8 220.3h1.1v1.1h-1.1zM265.1 224.2h1.1v1.1h-1.1zM254.7 210.0h1.1v1.1h-1.1zM247.2 221.1h1.1v1.1h-1.1zM257.5 237.4h1.1v1.1h-1.1zM253.2 226.8h1.1v1.1h-1.1zM271.7 213.8h1.1v1.1h-1.1zM253.9 223.6h1.1v1.1h-1.1zM246.1 226.7h1.1v1.1h-1.1zM257.5 223.0h1.1v1.1h-1.1zM255.6 225.4h1.1v1.1h-1.1zM260.4 214.3h1.1v1.1h-1.1zM259.8 222.2h1.1v1.1h-1.1zM248.4 227.4h1.1v1.1h-1.1zM257.3 213.2h1.1v1.1h-1.1zM256.8 228.0h1.1v1.1h-1.1zM246.7 219.5h1.1v1.1h-1.1zM252.4 227.5h1.1v1.1h-1.1zM259.5 222.2h1.1v1.1h-1.1zM243.0 225.4h1.1v1.1h-1.1zM247.6 229.3h1.1v1.1h-1.1zM253.2 224.5h1.1v1.1h-1.1zM256.6 209.0h1.1v1.1h-1.1zM262.1 226.9h1.1v1.1h-1.1zM244.9 207.1h1.1v1.1h-1.1zM260.0 213.1h1.1v1.1h-1.1zM263.0 207.2h1.1v1.1h-1.1zM271.4 220.8h1.1v1.1h-1.1zM253.4 212.3h1.1v1.1h-1.1zM248.9 219.4h1.1v1.1h-1.1zM243.2 207.0h1.1v1.1h-1.1zM262.3 221.9h1.1v1.1h-1.1zM269.0 208.5h1.1v1.1h-1.1zM251.0 224.9h1.1v1.1h-1.1zM261.3 208.6h1.1v1.1h-1.1zM265.2 220.9h1.1v1.1h-1.1zM266.1 226.2h1.1v1.1h-1.1zM253.8 230.1h1.1v1.1h-1.1zM263.5 222.8h1.1v1.1h-1.1zM257.2 208.3h1.1v1.1h-1.1zM249.1 230.5h1.1v1.1h-1.1zM260.2 224.7h1.1v1.1h-1.1zM261.2 219.8h1.1v1.1h-1.1zM249.2 220.7h1.1v1.1h-1.1zM262.1 217.1h1.1v1.1h-1.1zM244.4 223.3h1.1v1.1h-1.1zM264.6 229.0h1.1v1.1h-1.1zM266.5 212.7h1.1v1.1h-1.1zM258.6 222.4h1.1v1.1h-1.1zM261.2 220.6h1.1v1.1h-1.1zM255.8 218.9h1.1v1.1h-1.1zM270.5 205.7h1.1v1.1h-1.1zM249.5 211.8h1.1v1.1h-1.1zM256.8 219.2h1.1v1.1h-1.1zM240.3 224.8h1.1v1.1h-1.1zM260.9 215.6h1.1v1.1h-1.1zM261.4 224.4h1.1v1.1h-1.1zM242.6 234.8h1.1v1.1h-1.1zM249.9 225.5h1.1v1.1h-1.1zM262.2 211.5h1.1v1.1h-1.1zM253.3 225.1h1.1v1.1h-1.1zM246.7 224.9h1.1v1.1h-1.1zM234.8 212.4h1.1v1.1h-1.1zM260.8 208.1h1.1v1.1h-1.1zM253.4 225.6h1.1v1.1h-1.1zM261.5 215.0h1.1v1.1h-1.1zM261.4 208.7h1.1v1.1h-1.1zM256.8 211.8h1.1v1.1h-1.1zM258.4 221.9h1.1v1.1h-1.1zM258.6 220.6h1.1v1.1h-1.1zM249.6 226.0h1.1v1.1h-1.1zM260.4 216.1h1.1v1.1h-1.1zM250.0 215.7h1.1v1.1h-1.1zM255.5 218.1h1.1v1.1h-1.1zM267.9 208.1h1.1v1.1h-1.1zM247.0 224.9h1.1v1.1h-1.1zM245.6 219.5h1.1v1.1h-1.1zM260.7 235.1h1.1v1.1h-1.1zM239.5 216.5h1.1v1.1h-1.1zM264.5 211.8h1.1v1.1h-1.1zM259.9 218.5h1.1v1.1h-1.1zM263.9 217.9h1.1v1.1h-1.1zM249.5 220.9h1.1v1.1h-1.1zM249.2 211.4h1.1v1.1h-1.1zM265.5 224.8h1.1v1.1h-1.1zM266.5 218.3h1.1v1.1h-1.1zM259.2 214.4h1.1v1.1h-1.1zM257.5 221.7h1.1v1.1h-1.1zM253.0 226.5h1.1v1.1h-1.1zM270.7 219.0h1.1v1.1h-1.1zM244.4 218.9h1.1v1.1h-1.1zM250.1 208.7h1.1v1.1h-1.1zM253.0 223.6h1.1v1.1h-1.1zM244.0 237.0h1.1v1.1h-1.1zM245.8 213.5h1.1v1.1h-1.1zM248.6 220.5h1.1v1.1h-1.1zM267.3 213.0h1.1v1.1h-1.1zM261.2 218.7h1.1v1.1h-1.1zM243.2 235.5h1.1v1.1h-1.1zM252.5 215.8h1.1v1.1h-1.1zM256.8 227.3h1.1v1.1h-1.1zM255.5 214.8h1.1v1.1h-1.1zM254.6 233.6h1.1v1.1h-1.1zM262.7 209.8h1.1v1.1h-1.1zM240.2 223.4h1.1v1.1h-1.1zM252.7 237.0h1.1v1.1h-1.1zM260.0 218.2h1.1v1.1h-1.1zM264.6 217.6h1.1v1.1h-1.1zM260.7 218.2h1.1v1.1h-1.1zM258.3 227.4h1.1v1.1h-1.1zM256.8 203.3h1.1v1.1h-1.1zM252.0 224.0h1.1v1.1h-1.1zM259.0 212.0h1.1v1.1h-1.1zM256.3 237.9h1.1v1.1h-1.1zM251.8 216.0h1.1v1.1h-1.1zM269.2 214.0h1.1v1.1h-1.1zM269.1 217.8h1.1v1.1h-1.1zM254.9 211.0h1.1v1.1h-1.1zM263.9 222.8h1.1v1.1h-1.1zM269.3 214.3h1.1v1.1h-1.1zM260.8 219.5h1.1v1.1h-1.1zM259.5 217.2h1.1v1.1h-1.1zM262.9 225.8h1.1v1.1h-1.1zM243.3 217.2h1.1v1.1h-1.1zM245.3 217.5h1.1v1.1h-1.1zM263.2 216.4h1.1v1.1h-1.1zM260.9 216.7h1.1v1.1h-1.1zM270.9 220.1h1.1v1.1h-1.1zM253.9 224.4h1.1v1.1h-1.1zM268.5 219.3h1.1v1.1h-1.1zM268.1 215.0h1.1v1.1h-1.1zM251.1 221.2h1.1v1.1h-1.1zM255.2 208.5h1.1v1.1h-1.1zM261.0 213.5h1.1v1.1h-1.1zM260.9 225.6h1.1v1.1h-1.1zM249.4 211.7h1.1v1.1h-1.1zM253.3 232.2h1.1v1.1h-1.1zM246.6 222.5h1.1v1.1h-1.1zM257.9 214.3h1.1v1.1h-1.1zM258.4 216.5h1.1v1.1h-1.1zM252.9 227.5h1.1v1.1h-1.1zM258.7 230.9h1.1v1.1h-1.1zM265.7 214.1h1.1v1.1h-1.1zM255.5 217.6h1.1v1.1h-1.1zM258.2 206.9h1.1v1.1h-1.1zM266.9 225.7h1.1v1.1h-1.1zM260.6 222.8h1.1v1.1h-1.1zM254.6 233.1h1.1v1.1h-1.1zM258.3 222.0h1.1v1.1h-1.1zM251.7 220.9h1.1v1.1h-1.1zM261.0 220.3h1.1v1.1h-1.1zM252.3 207.4h1.1v1.1h-1.1zM251.8 207.0h1.1v1.1h-1.1zM254.7 222.4h1.1v1.1h-1.1zM248.6 225.0h1.1v1.1h-1.1zM260.1 209.9h1.1v1.1h-1.1zM252.6 229.3h1.1v1.1h-1.1zM243.0 227.2h1.1v1.1h-1.1zM266.9 223.6h1.1v1.1h-1.1zM257.2 228.9h1.1v1.1h-1.1zM261.5 228.0h1.1v1.1h-1.1zM266.5 212.6h1.1v1.1h-1.1zM250.9 217.1h1.1v1.1h-1.1zM243.4 234.2h1.1v1.1h-1.1zM256.2 224.4h1.1v1.1h-1.1zM263.9 222.7h1.1v1.1h-1.1zM249.9 210.5h1.1v1.1h-1.1zM243.2 226.5h1.1v1.1h-1.1zM252.3 213.9h1.1v1.1h-1.1zM253.6 208.3h1.1v1.1h-1.1zM254.6 226.3h1.1v1.1h-1.1zM257.3 215.5h1.1v1.1h-1.1zM257.8 212.8h1.1v1.1h-1.1zM253.0 230.0h1.1v1.1h-1.1zM247.6 223.6h1.1v1.1h-1.1zM264.8 230.2h1.1v1.1h-1.1zM243.0 216.3h1.1v1.1h-1.1zM270.7 231.5h1.1v1.1h-1.1zM257.4 218.8h1.1v1.1h-1.1zM243.7 233.0h1.1v1.1h-1.1zM259.1 224.4h1.1v1.1h-1.1zM256.4 225.5h1.1v1.1h-1.1zM268.6 216.9h1.1v1.1h-1.1zM243.7 217.5h1.1v1.1h-1.1zM259.2 210.5h1.1v1.1h-1.1zM257.2 209.2h1.1v1.1h-1.1zM265.7 217.6h1.1v1.1h-1.1zM247.0 228.9h1.1v1.1h-1.1zM250.2 211.3h1.1v1.1h-1.1zM262.4 218.3h1.1v1.1h-1.1zM243.9 226.4h1.1v1.1h-1.1zM260.3 223.2h1.1v1.1h-1.1zM250.1 218.9h1.1v1.1h-1.1zM251.0 228.5h1.1v1.1h-1.1zM246.2 221.7h1.1v1.1h-1.1zM266.3 218.3h1.1v1.1h-1.1zM252.4 212.2h1.1v1.1h-1.1zM259.1 210.5h1.1v1.1h-1.1zM258.0 213.3h1.1v1.1h-1.1zM243.4 220.9h1.1v1.1h-1.1zM250.5 207.5h1.1v1.1h-1.1zM264.3 210.7h1.1v1.1h-1.1zM243.0 230.6h1.1v1.1h-1.1zM259.6 216.4h1.1v1.1h-1.1zM256.3 215.8h1.1v1.1h-1.1zM263.2 224.2h1.1v1.1h-1.1zM263.6 216.2h1.1v1.1h-1.1zM264.8 220.1h1.1v1.1h-1.1zM257.9 225.5h1.1v1.1h-1.1zM259.7 218.2h1.1v1.1h-1.1zM250.9 224.6h1.1v1.1h-1.1zM252.4 228.8h1.1v1.1h-1.1zM265.6 217.5h1.1v1.1h-1.1zM251.9 233.5h1.1v1.1h-1.1zM266.7 209.1h1.1v1.1h-1.1zM266.5 220.0h1.1v1.1h-1.1zM250.1 219.5h1.1v1.1h-1.1zM262.5 211.1h1.1v1.1h-1.1zM250.0 213.3h1.1v1.1h-1.1zM260.5 220.7h1.1v1.1h-1.1zM250.3 217.7h1.1v1.1h-1.1zM260.5 211.4h1.1v1.1h-1.1zM259.0 208.4h1.1v1.1h-1.1zM247.9 226.4h1.1v1.1h-1.1zM266.3 225.5h1.1v1.1h-1.1zM242.9 228.0h1.1v1.1h-1.1zM260.7 219.1h1.1v1.1h-1.1zM253.6 221.3h1.1v1.1h-1.1zM257.0 225.9h1.1v1.1h-1.1zM261.2 219.2h1.1v1.1h-1.1zM255.9 230.1h1.1v1.1h-1.1zM263.3 217.1h1.1v1.1h-1.1zM252.7 228.8h1.1v1.1h-1.1zM249.4 210.3h1.1v1.1h-1.1zM253.1 218.8h1.1v1.1h-1.1zM253.7 214.5h1.1v1.1h-1.1zM263.3 221.1h1.1v1.1h-1.1zM258.4 211.1h1.1v1.1h-1.1zM253.6 216.2h1.1v1.1h-1.1zM253.9 214.5h1.1v1.1h-1.1zM249.3 219.9h1.1v1.1h-1.1zM258.8 214.5h1.1v1.1h-1.1zM239.1 223.1h1.1v1.1h-1.1zM255.6 215.1h1.1v1.1h-1.1zM268.5 219.8h1.1v1.1h-1.1zM254.4 222.2h1.1v1.1h-1.1zM251.7 219.1h1.1v1.1h-1.1zM258.1 218.5h1.1v1.1h-1.1zM249.2 221.1h1.1v1.1h-1.1zM250.8 226.1h1.1v1.1h-1.1zM263.9 220.2h1.1v1.1h-1.1zM251.9 213.3h1.1v1.1h-1.1zM262.6 216.0h1.1v1.1h-1.1zM256.8 223.2h1.1v1.1h-1.1zM252.0 209.9h1.1v1.1h-1.1zM255.4 221.1h1.1v1.1h-1.1zM237.0 218.6h1.1v1.1h-1.1zM259.9 219.0h1.1v1.1h-1.1zM265.8 209.1h1.1v1.1h-1.1zM262.9 230.0h1.1v1.1h-1.1zM253.8 235.1h1.1v1.1h-1.1zM263.3 221.0h1.1v1.1h-1.1zM263.5 236.9h1.1v1.1h-1.1zM256.5 225.4h1.1v1.1h-1.1zM260.9 224.3h1.1v1.1h-1.1zM267.2 219.9h1.1v1.1h-1.1zM261.9 214.0h1.1v1.1h-1.1zM254.3 230.1h1.1v1.1h-1.1zM257.8 215.6h1.1v1.1h-1.1zM259.1 210.1h1.1v1.1h-1.1zM243.1 210.0h1.1v1.1h-1.1zM258.9 227.5h1.1v1.1h-1.1zM256.6 222.2h1.1v1.1h-1.1zM237.9 208.5h1.1v1.1h-1.1zM242.1 229.2h1.1v1.1h-1.1zM258.7 216.3h1.1v1.1h-1.1zM270.0 213.1h1.1v1.1h-1.1zM254.3 232.1h1.1v1.1h-1.1zM271.8 227.4h1.1v1.1h-1.1zM263.0 224.9h1.1v1.1h-1.1zM251.5 215.7h1.1v1.1h-1.1zM260.3 212.8h1.1v1.1h-1.1zM262.5 217.4h1.1v1.1h-1.1zM253.7 227.0h1.1v1.1h-1.1zM249.9 228.7h1.1v1.1h-1.1zM264.1 232.7h1.1v1.1h-1.1zM267.9 226.2h1.1v1.1h-1.1zM259.2 225.4h1.1v1.1h-1.1zM256.9 210.7h1.1v1.1h-1.1zM265.4 212.2h1.1v1.1h-1.1zM262.4 220.4h1.1v1.1h-1.1zM261.6 216.8h1.1v1.1h-1.1zM244.0 228.3h1.1v1.1h-1.1zM255.0 237.6h1.1v1.1h-1.1zM257.8 215.7h1.1v1.1h-1.1zM261.5 210.4h1.1v1.1h-1.1zM255.4 212.5h1.1v1.1h-1.1zM260.6 213.4h1.1v1.1h-1.1zM263.5 232.9h1.1v1.1h-1.1zM251.4 220.6h1.1v1.1h-1.1zM260.3 214.8h1.1v1.1h-1.1zM254.2 226.9h1.1v1.1h-1.1zM271.3 221.5h1.1v1.1h-1.1zM253.9 214.2h1.1v1.1h-1.1zM259.1 204.4h1.1v1.1h-1.1zM244.3 216.0h1.1v1.1h-1.1zM245.5 220.0h1.1v1.1h-1.1zM257.2 223.6h1.1v1.1h-1.1zM249.7 229.1h1.1v1.1h-1.1zM255.3 226.4h1.1v1.1h-1.1zM260.2 216.5h1.1v1.1h-1.1zM263.1 222.4h1.1v1.1h-1.1zM245.1 211.8h1.1v1.1h-1.1zM256.3 229.7h1.1v1.1h-1.1zM264.1 227.1h1.1v1.1h-1.1zM251.8 220.9h1.1v1.1h-1.1zM246.1 219.8h1.1v1.1h-1.1zM251.7 219.6h1.1v1.1h-1.1zM258.2 224.8h1.1v1.1h-1.1zM255.2 222.5h1.1v1.1h-1.1zM268.9 221.0h1.1v1.1h-1.1zM244.8 216.6h1.1v1.1h-1.1zM255.7 216.5h1.1v1.1h-1.1zM258.8 218.9h1.1v1.1h-1.1zM262.3 228.4h1.1v1.1h-1.1zM268.3 214.6h1.1v1.1h-1.1zM254.2 224.1h1.1v1.1h-1.1zM254.2 212.3h1.1v1.1h-1.1zM269.7 224.2h1.1v1.1h-1.1zM271.1 212.1h1.1v1.1h-1.1zM269.3 220.1h1.1v1.1h-1.1zM269.0 198.6h1.1v1.1h-1.1zM253.3 218.1h1.1v1.1h-1.1zM259.6 223.7h1.1v1.1h-1.1zM269.7 221.6h1.1v1.1h-1.1zM264.9 215.3h1.1v1.1h-1.1zM242.0 234.2h1.1v1.1h-1.1zM240.3 228.8h1.1v1.1h-1.1zM243.4 210.4h1.1v1.1h-1.1zM257.6 211.0h1.1v1.1h-1.1zM268.3 218.9h1.1v1.1h-1.1zM255.8 211.1h1.1v1.1h-1.1zM265.8 214.4h1.1v1.1h-1.1zM246.8 217.4h1.1v1.1h-1.1zM252.4 227.0h1.1v1.1h-1.1zM249.8 213.2h1.1v1.1h-1.1zM258.4 223.1h1.1v1.1h-1.1zM247.5 209.8h1.1v1.1h-1.1zM257.1 226.7h1.1v1.1h-1.1zM263.5 199.7h1.1v1.1h-1.1zM253.8 224.6h1.1v1.1h-1.1zM249.9 230.4h1.1v1.1h-1.1zM253.9 228.0h1.1v1.1h-1.1zM246.9 218.0h1.1v1.1h-1.1zM248.6 218.5h1.1v1.1h-1.1zM265.4 222.9h1.1v1.1h-1.1zM261.2 212.8h1.1v1.1h-1.1zM244.9 206.8h1.1v1.1h-1.1zM255.5 218.5h1.1v1.1h-1.1zM262.2 212.6h1.1v1.1h-1.1zM265.4 211.2h1.1v1.1h-1.1zM263.9 211.7h1.1v1.1h-1.1zM267.0 230.2h1.1v1.1h-1.1zM257.7 207.8h1.1v1.1h-1.1zM257.9 219.2h1.1v1.1h-1.1zM255.8 218.1h1.1v1.1h-1.1zM268.1 208.2h1.1v1.1h-1.1zM265.9 237.0h1.1v1.1h-1.1zM268.3 214.8h1.1v1.1h-1.1zM250.6 207.6h1.1v1.1h-1.1zM244.6 218.0h1.1v1.1h-1.1zM245.3 210.7h1.1v1.1h-1.1zM249.9 211.9h1.1v1.1h-1.1zM263.7 226.4h1.1v1.1h-1.1zM245.2 221.1h1.1v1.1h-1.1zM239.5 226.9h1.1v1.1h-1.1zM256.4 219.3h1.1v1.1h-1.1zM265.4 223.9h1.1v1.1h-1.1zM265.1 228.6h1.1v1.1h-1.1zM257.6 221.1h1.1v1.1h-1.1zM252.8 216.1h1.1v1.1h-1.1zM255.1 207.0h1.1v1.1h-1.1zM245.6 223.4h1.1v1.1h-1.1zM251.7 221.4h1.1v1.1h-1.1zM269.6 207.9h1.1v1.1h-1.1zM269.5 228.6h1.1v1.1h-1.1zM260.6 218.6h1.1v1.1h-1.1zM255.6 230.5h1.1v1.1h-1.1zM260.1 225.0h1.1v1.1h-1.1zM240.5 225.7h1.1v1.1h-1.1zM263.1 219.5h1.1v1.1h-1.1zM265.0 220.3h1.1v1.1h-1.1zM256.5 218.0h1.1v1.1h-1.1zM257.9 217.0h1.1v1.1h-1.1zM242.2 210.3h1.1v1.1h-1.1zM265.0 212.3h1.1v1.1h-1.1zM265.0 226.0h1.1v1.1h-1.1zM232.4 213.6h1.1v1.1h-1.1zM252.4 217.9h1.1v1.1h-1.1zM260.9 227.5h1.1v1.1h-1.1zM249.8 220.4h1.1v1.1h-1.1zM257.4 218.8h1.1v1.1h-1.1zM271.2 214.7h1.1v1.1h-1.1zM262.1 229.9h1.1v1.1h-1.1zM255.7 222.2h1.1v1.1h-1.1zM253.7 204.9h1.1v1.1h-1.1zM258.1 232.1h1.1v1.1h-1.1zM250.5 230.6h1.1v1.1h-1.1zM267.1 217.7h1.1v1.1h-1.1zM249.9 218.7h1.1v1.1h-1.1zM263.1 222.9h1.1v1.1h-1.1zM266.5 217.0h1.1v1.1h-1.1zM269.1 218.5h1.1v1.1h-1.1zM259.2 225.6h1.1v1.1h-1.1zM258.4 219.8h1.1v1.1h-1.1zM261.4 221.3h1.1v1.1h-1.1zM259.3 216.8h1.1v1.1h-1.1zM268.6 212.8h1.1v1.1h-1.1zM257.6 226.2h1.1v1.1h-1.1zM252.7 223.1h1.1v1.1h-1.1zM262.4 218.0h1.1v1.1h-1.1zM248.1 216.1h1.1v1.1h-1.1zM265.6 224.2h1.1v1.1h-1.1zM262.5 214.3h1.1v1.1h-1.1zM256.7 220.5h1.1v1.1h-1.1zM249.0 223.0h1.1v1.1h-1.1zM258.9 221.2h1.1v1.1h-1.1zM262.1 228.1h1.1v1.1h-1.1zM252.9 217.1h1.1v1.1h-1.1zM258.3 223.5h1.1v1.1h-1.1zM251.2 210.0h1.1v1.1h-1.1zM246.1 225.2h1.1v1.1h-1.1zM249.7 218.7h1.1v1.1h-1.1zM264.0 213.4h1.1v1.1h-1.1zM261.2 213.4h1.1v1.1h-1.1zM260.0 207.9h1.1v1.1h-1.1zM248.3 209.1h1.1v1.1h-1.1zM245.4 222.5h1.1v1.1h-1.1zM267.7 221.2h1.1v1.1h-1.1zM255.0 209.4h1.1v1.1h-1.1zM269.3 214.4h1.1v1.1h-1.1zM251.5 221.0h1.1v1.1h-1.1zM267.3 217.4h1.1v1.1h-1.1zM260.5 212.3h1.1v1.1h-1.1zM254.3 213.7h1.1v1.1h-1.1zM254.4 235.1h1.1v1.1h-1.1zM266.9 221.5h1.1v1.1h-1.1zM255.9 226.8h1.1v1.1h-1.1zM259.9 210.5h1.1v1.1h-1.1zM244.1 212.3h1.1v1.1h-1.1zM271.2 206.3h1.1v1.1h-1.1zM254.6 221.6h1.1v1.1h-1.1zM262.5 207.9h1.1v1.1h-1.1zM232.9 216.9h1.1v1.1h-1.1zM267.3 215.3h1.1v1.1h-1.1zM262.7 213.7h1.1v1.1h-1.1zM260.7 221.4h1.1v1.1h-1.1zM265.9 208.6h1.1v1.1h-1.1zM261.0 220.3h1.1v1.1h-1.1zM249.3 215.3h1.1v1.1h-1.1zM251.8 224.8h1.1v1.1h-1.1zM256.5 223.8h1.1v1.1h-1.1zM266.4 215.6h1.1v1.1h-1.1zM258.3 216.7h1.1v1.1h-1.1zM251.9 209.5h1.1v1.1h-1.1zM261.3 218.6h1.1v1.1h-1.1zM246.7 217.2h1.1v1.1h-1.1zM260.8 202.8h1.1v1.1h-1.1zM248.9 218.2h1.1v1.1h-1.1zM259.5 225.8h1.1v1.1h-1.1zM267.9 227.0h1.1v1.1h-1.1zM263.0 220.2h1.1v1.1h-1.1zM244.9 229.2h1.1v1.1h-1.1zM257.7 225.8h1.1v1.1h-1.1zM266.1 217.9h1.1v1.1h-1.1zM247.0 226.2h1.1v1.1h-1.1zM245.0 227.4h1.1v1.1h-1.1zM254.4 210.7h1.1v1.1h-1.1zM242.7 209.1h1.1v1.1h-1.1zM239.5 218.5h1.1v1.1h-1.1zM258.8 223.5h1.1v1.1h-1.1zM268.7 222.0h1.1v1.1h-1.1zM253.6 215.2h1.1v1.1h-1.1zM262.6 231.4h1.1v1.1h-1.1zM261.1 212.4h1.1v1.1h-1.1zM255.2 230.7h1.1v1.1h-1.1zM256.6 225.7h1.1v1.1h-1.1zM262.0 204.2h1.1v1.1h-1.1zM255.4 223.8h1.1v1.1h-1.1zM264.4 209.0h1.1v1.1h-1.1zM260.1 221.5h1.1v1.1h-1.1zM266.5 226.3h1.1v1.1h-1.1zM259.5 216.3h1.1v1.1h-1.1zM257.4 220.6h1.1v1.1h-1.1zM249.6 215.0h1.1v1.1h-1.1zM245.4 232.4h1.1v1.1h-1.1zM255.5 216.3h1.1v1.1h-1.1zM254.5 218.5h1.1v1.1h-1.1zM260.7 213.2h1.1v1.1h-1.1zM257.4 217.6h1.1v1.1h-1.1zM254.5 227.1h1.1v1.1h-1.1zM261.1 212.3h1.1v1.1h-1.1zM269.3 210.8h1.1v1.1h-1.1zM248.7 216.4h1.1v1.1h-1.1zM267.4 215.2h1.1v1.1h-1.1zM268.9 221.7h1.1v1.1h-1.1zM262.3 231.5h1.1v1.1h-1.1zM250.0 232.1h1.1v1.1h-1.1zM269.7 218.6h1.1v1.1h-1.1zM251.5 236.8h1.1v1.1h-1.1zM243.8 226.5h1.1v1.1h-1.1zM243.2 215.8h1.1v1.1h-1.1zM258.7 226.2h1.1v1.1h-1.1zM253.6 206.5h1.1v1.1h-1.1zM265.5 230.5h1.1v1.1h-1.1zM264.3 213.7h1.1v1.1h-1.1zM270.7 231.7h1.1v1.1h-1.1zM261.2 216.7h1.1v1.1h-1.1zM259.1 207.4h1.1v1.1h-1.1zM258.2 222.0h1.1v1.1h-1.1zM250.9 229.9h1.1v1.1h-1.1zM250.5 229.2h1.1v1.1h-1.1zM251.4 216.1h1.1v1.1h-1.1zM260.2 213.1h1.1v1.1h-1.1zM250.3 218.0h1.1v1.1h-1.1zM257.3 223.5h1.1v1.1h-1.1zM268.0 226.1h1.1v1.1h-1.1zM236.0 229.5h1.1v1.1h-1.1zM249.9 228.7h1.1v1.1h-1.1zM248.8 233.0h1.1v1.1h-1.1zM257.9 212.1h1.1v1.1h-1.1zM244.2 212.9h1.1v1.1h-1.1zM251.7 211.4h1.1v1.1h-1.1zM245.3 226.8h1.1v1.1h-1.1zM257.0 233.6h1.1v1.1h-1.1zM259.7 218.1h1.1v1.1h-1.1zM255.1 222.4h1.1v1.1h-1.1zM246.7 230.1h1.1v1.1h-1.1zM266.9 215.4h1.1v1.1h-1.1zM240.1 226.3h1.1v1.1h-1.1zM248.8 216.7h1.1v1.1h-1.1zM255.6 217.5h1.1v1.1h-1.1zM251.8 227.3h1.1v1.1h-1.1zM268.4 218.4h1.1v1.1h-1.1zM254.6 224.5h1.1v1.1h-1.1zM257.3 220.8h1.1v1.1h-1.1zM271.6 225.1h1.1v1.1h-1.1zM261.2 216.6h1.1v1.1h-1.1zM255.0 222.4h1.1v1.1h-1.1zM254.6 222.0h1.1v1.1h-1.1zM266.7 218.0h1.1v1.1h-1.1zM252.2 205.0h1.1v1.1h-1.1zM256.9 217.6h1.1v1.1h-1.1zM249.9 223.0h1.1v1.1h-1.1zM238.4 228.1h1.1v1.1h-1.1zM262.1 231.7h1.1v1.1h-1.1zM263.0 219.5h1.1v1.1h-1.1zM246.0 222.1h1.1v1.1h-1.1zM261.5 223.7h1.1v1.1h-1.1zM254.9 215.3h1.1v1.1h-1.1zM239.6 220.2h1.1v1.1h-1.1zM248.5 216.8h1.1v1.1h-1.1zM263.3 221.1h1.1v1.1h-1.1zM266.7 207.7h1.1v1.1h-1.1zM260.8 215.3h1.1v1.1h-1.1zM260.5 219.5h1.1v1.1h-1.1zM250.4 213.9h1.1v1.1h-1.1zM243.7 226.8h1.1v1.1h-1.1zM271.1 208.5h1.1v1.1h-1.1zM253.0 223.7h1.1v1.1h-1.1zM253.9 233.7h1.1v1.1h-1.1zM249.8 216.0h1.1v1.1h-1.1zM249.9 224.9h1.1v1.1h-1.1zM254.1 220.2h1.1v1.1h-1.1zM261.7 220.4h1.1v1.1h-1.1zM262.5 211.4h1.1v1.1h-1.1zM260.8 219.5h1.1v1.1h-1.1zM266.3 212.3h1.1v1.1h-1.1zM253.2 227.0h1.1v1.1h-1.1zM248.3 221.0h1.1v1.1h-1.1zM257.2 224.4h1.1v1.1h-1.1zM238.8 223.2h1.1v1.1h-1.1zM265.6 203.0h1.1v1.1h-1.1zM262.5 224.9h1.1v1.1h-1.1zM262.7 216.5h1.1v1.1h-1.1zM247.9 224.2h1.1v1.1h-1.1zM253.3 217.7h1.1v1.1h-1.1zM258.1 226.1h1.1v1.1h-1.1zM248.5 225.6h1.1v1.1h-1.1zM247.8 234.2h1.1v1.1h-1.1zM255.9 211.5h1.1v1.1h-1.1zM259.2 219.5h1.1v1.1h-1.1zM251.7 219.3h1.1v1.1h-1.1zM267.3 228.1h1.1v1.1h-1.1zM263.2 211.3h1.1v1.1h-1.1zM256.2 223.1h1.1v1.1h-1.1zM254.9 218.7h1.1v1.1h-1.1zM260.7 212.9h1.1v1.1h-1.1zM263.5 235.0h1.1v1.1h-1.1zM260.0 218.4h1.1v1.1h-1.1zM252.7 219.1h1.1v1.1h-1.1zM271.9 211.7h1.1v1.1h-1.1zM255.7 227.9h1.1v1.1h-1.1zM259.3 225.3h1.1v1.1h-1.1zM238.2 231.0h1.1v1.1h-1.1zM264.9 215.8h1.1v1.1h-1.1zM257.0 212.3h1.1v1.1h-1.1zM250.6 215.2h1.1v1.1h-1.1zM252.3 216.0h1.1v1.1h-1.1zM242.2 230.6h1.1v1.1h-1.1zM262.2 220.4h1.1v1.1h-1.1zM249.9 211.3h1.1v1.1h-1.1zM261.8 216.4h1.1v1.1h-1.1zM262.1 225.8h1.1v1.1h-1.1zM259.9 222.3h1.1v1.1h-1.1zM260.7 220.7h1.1v1.1h-1.1zM262.6 217.7h1.1v1.1h-1.1zM252.3 220.1h1.1v1.1h-1.1zM255.7 216.4h1.1v1.1h-1.1zM261.0 211.2h1.1v1.1h-1.1zM268.7 212.9h1.1v1.1h-1.1zM265.0 225.5h1.1v1.1h-1.1zM255.7 204.8h1.1v1.1h-1.1zM269.4 218.9h1.1v1.1h-1.1zM254.7 224.5h1.1v1.1h-1.1zM244.2 213.5h1.1v1.1h-1.1zM258.5 215.5h1.1v1.1h-1.1zM254.1 210.3h1.1v1.1h-1.1zM247.3 221.9h1.1v1.1h-1.1zM254.4 220.6h1.1v1.1h-1.1zM258.0 211.4h1.1v1.1h-1.1zM258.9 206.8h1.1v1.1h-1.1zM269.0 219.2h1.1v1.1h-1.1zM259.0 210.4h1.1v1.1h-1.1zM254.5 218.4h1.1v1.1h-1.1zM254.8 206.9h1.1v1.1h-1.1zM256.3 218.6h1.1v1.1h-1.1zM247.6 210.0h1.1v1.1h-1.1zM247.3 227.4h1.1v1.1h-1.1zM262.0 220.7h1.1v1.1h-1.1zM270.2 220.2h1.1v1.1h-1.1zM260.2 210.5h1.1v1.1h-1.1zM259.2 233.1h1.1v1.1h-1.1zM250.4 227.9h1.1v1.1h-1.1zM269.2 215.0h1.1v1.1h-1.1zM268.5 217.1h1.1v1.1h-1.1zM248.1 220.4h1.1v1.1h-1.1zM259.5 215.2h1.1v1.1h-1.1zM255.8 220.5h1.1v1.1h-1.1zM245.1 215.9h1.1v1.1h-1.1zM269.7 223.3h1.1v1.1h-1.1zM261.8 208.9h1.1v1.1h-1.1zM271.9 221.9h1.1v1.1h-1.1zM254.2 228.7h1.1v1.1h-1.1zM261.4 218.8h1.1v1.1h-1.1zM271.3 217.5h1.1v1.1h-1.1zM256.2 217.3h1.1v1.1h-1.1zM261.7 226.6h1.1v1.1h-1.1zM250.0 221.1h1.1v1.1h-1.1zM264.8 222.3h1.1v1.1h-1.1zM269.5 209.6h1.1v1.1h-1.1zM249.8 220.2h1.1v1.1h-1.1zM251.5 224.7h1.1v1.1h-1.1zM258.1 226.7h1.1v1.1h-1.1zM271.6 217.2h1.1v1.1h-1.1zM254.0 206.1h1.1v1.1h-1.1zM251.0 232.8h1.1v1.1h-1.1zM257.7 224.2h1.1v1.1h-1.1zM269.1 208.8h1.1v1.1h-1.1zM244.6 214.3h1.1v1.1h-1.1zM257.0 221.0h1.1v1.1h-1.1zM270.6 218.2h1.1v1.1h-1.1zM258.2 222.4h1.1v1.1h-1.1zM255.9 226.0h1.1v1.1h-1.1zM266.3 220.0h1.1v1.1h-1.1zM247.4 217.2h1.1v1.1h-1.1zM262.8 229.1h1.1v1.1h-1.1zM254.9 221.2h1.1v1.1h-1.1zM259.1 223.7h1.1v1.1h-1.1zM257.7 210.5h1.1v1.1h-1.1zM255.6 229.4h1.1v1.1h-1.1zM247.0 229.2h1.1v1.1h-1.1zM256.0 229.2h1.1v1.1h-1.1zM242.4 196.2h1.1v1.1h-1.1zM270.8 204.5h1.1v1.1h-1.1zM247.8 222.3h1.1v1.1h-1.1zM251.4 213.1h1.1v1.1h-1.1zM250.8 232.6h1.1v1.1h-1.1zM264.7 219.6h1.1v1.1h-1.1zM256.2 202.7h1.1v1.1h-1.1zM271.2 217.9h1.1v1.1h-1.1zM253.8 229.2h1.1v1.1h-1.1zM259.4 223.2h1.1v1.1h-1.1zM257.4 223.4h1.1v1.1h-1.1zM254.9 220.7h1.1v1.1h-1.1zM268.2 218.5h1.1v1.1h-1.1zM269.3 220.7h1.1v1.1h-1.1zM270.0 227.9h1.1v1.1h-1.1zM245.3 221.5h1.1v1.1h-1.1zM261.2 218.8h1.1v1.1h-1.1zM247.7 232.3h1.1v1.1h-1.1zM247.5 216.8h1.1v1.1h-1.1zM241.5 223.0h1.1v1.1h-1.1zM249.3 208.0h1.1v1.1h-1.1zM263.5 214.7h1.1v1.1h-1.1zM270.8 221.7h1.1v1.1h-1.1zM249.7 207.5h1.1v1.1h-1.1zM252.3 211.4h1.1v1.1h-1.1zM260.1 214.6h1.1v1.1h-1.1zM259.3 212.5h1.1v1.1h-1.1zM260.0 228.3h1.1v1.1h-1.1zM241.9 213.0h1.1v1.1h-1.1zM256.3 220.1h1.1v1.1h-1.1zM263.3 218.1h1.1v1.1h-1.1zM260.4 210.8h1.1v1.1h-1.1zM256.9 214.7h1.1v1.1h-1.1zM251.3 230.7h1.1v1.1h-1.1zM257.1 213.9h1.1v1.1h-1.1zM262.6 209.2h1.1v1.1h-1.1zM267.6 215.4h1.1v1.1h-1.1zM248.0 226.8h1.1v1.1h-1.1zM264.1 223.2h1.1v1.1h-1.1zM262.2 225.5h1.1v1.1h-1.1zM270.1 213.6h1.1v1.1h-1.1zM255.7 225.0h1.1v1.1h-1.1zM255.9 220.5h1.1v1.1h-1.1zM251.9 203.0h1.1v1.1h-1.1zM259.5 210.5h1.1v1.1h-1.1zM255.3 199.9h1.1v1.1h-1.1zM256.4 222.3h1.1v1.1h-1.1zM260.8 222.5h1.1v1.1h-1.1zM254.3 220.3h1.1v1.1h-1.1zM249.3 213.2h1.1v1.1h-1.1zM254.0 223.1h1.1v1.1h-1.1zM252.7 202.6h1.1v1.1h-1.1zM261.6 222.2h1.1v1.1h-1.1zM269.1 204.5h1.1v1.1h-1.1zM254.6 224.3h1.1v1.1h-1.1zM235.3 226.3h1.1v1.1h-1.1zM263.1 213.1h1.1v1.1h-1.1zM257.1 217.0h1.1v1.1h-1.1zM249.1 220.7h1.1v1.1h-1.1zM255.4 220.7h1.1v1.1h-1.1zM244.0 223.5h1.1v1.1h-1.1zM247.0 205.3h1.1v1.1h-1.1zM257.1 211.6h1.1v1.1h-1.1zM229.1 218.2h1.1v1.1h-1.1zM253.4 225.2h1.1v1.1h-1.1zM266.5 195.2h1.1v1.1h-1.1zM262.6 214.4h1.1v1.1h-1.1zM261.0 221.9h1.1v1.1h-1.1zM254.5 224.9h1.1v1.1h-1.1zM256.1 236.5h1.1v1.1h-1.1zM259.8 232.7h1.1v1.1h-1.1zM270.0 227.2h1.1v1.1h-1.1zM246.1 210.7h1.1v1.1h-1.1zM259.9 220.9h1.1v1.1h-1.1zM261.0 224.3h1.1v1.1h-1.1zM259.0 206.2h1.1v1.1h-1.1zM237.8 226.9h1.1v1.1h-1.1zM253.8 204.5h1.1v1.1h-1.1zM271.0 218.7h1.1v1.1h-1.1zM262.7 215.2h1.1v1.1h-1.1zM250.5 222.8h1.1v1.1h-1.1zM265.7 221.6h1.1v1.1h-1.1zM240.5 220.1h1.1v1.1h-1.1zM263.0 207.9h1.1v1.1h-1.1zM260.8 217.5h1.1v1.1h-1.1zM252.0 227.0h1.1v1.1h-1.1zM248.3 233.1h1.1v1.1h-1.1zM242.4 212.4h1.1v1.1h-1.1zM255.6 224.3h1.1v1.1h-1.1zM265.5 214.0h1.1v1.1h-1.1zM261.4 214.5h1.1v1.1h-1.1zM266.1 212.9h1.1v1.1h-1.1zM252.2 224.1h1.1v1.1h-1.1zM262.4 231.9h1.1v1.1h-1.1zM230.9 219.0h1.1v1.1h-1.1zM253.1 219.7h1.1v1.1h-1.1zM253.2 219.8h1.1v1.1h-1.1zM256.9 225.5h1.1v1.1h-1.1zM256.0 215.1h1.1v1.1h-1.1zM262.9 217.5h1.1v1.1h-1.1zM251.8 217.6h1.1v1.1h-1.1zM266.0 208.4h1.1v1.1h-1.1zM255.2 220.9h1.1v1.1h-1.1zM265.5 220.0h1.1v1.1h-1.1zM258.5 221.1h1.1v1.1h-1.1zM265.2 229.5h1.1v1.1h-1.1zM261.7 221.1h1.1v1.1h-1.1zM251.9 212.8h1.1v1.1h-1.1zM259.1 213.2h1.1v1.1h-1.1zM245.5 225.3h1.1v1.1h-1.1zM257.8 228.2h1.1v1.1h-1.1zM260.9 215.5h1.1v1.1h-1.1zM254.9 219.5h1.1v1.1h-1.1zM255.9 218.5h1.1v1.1h-1.1zM266.4 207.1h1.1v1.1h-1.1zM268.4 219.2h1.1v1.1h-1.1zM270.4 209.1h1.1v1.1h-1.1zM252.2 218.0h1.1v1.1h-1.1zM253.5 213.8h1.1v1.1h-1.1zM264.6 223.4h1.1v1.1h-1.1zM265.5 218.6h1.1v1.1h-1.1zM240.7 219.9h1.1v1.1h-1.1zM268.0 217.2h1.1v1.1h-1.1zM246.0 223.4h1.1v1.1h-1.1zM268.0 204.5h1.1v1.1h-1.1zM253.6 236.5h1.1v1.1h-1.1zM256.4 213.7h1.1v1.1h-1.1zM248.5 220.1h1.1v1.1h-1.1zM250.0 228.9h1.1v1.1h-1.1zM254.0 224.6h1.1v1.1h-1.1zM258.4 230.2h1.1v1.1h-1.1zM247.4 216.6h1.1v1.1h-1.1zM256.9 214.0h1.1v1.1h-1.1zM251.1 217.3h1.1v1.1h-1.1zM252.7 208.0h1.1v1.1h-1.1zM249.5 233.0h1.1v1.1h-1.1zM251.9 229.7h1.1v1.1h-1.1zM242.8 216.5h1.1v1.1h-1.1zM245.6 217.9h1.1v1.1h-1.1zM256.9 227.2h1.1v1.1h-1.1zM253.0 219.9h1.1v1.1h-1.1zM248.0 215.3h1.1v1.1h-1.1zM261.3 229.6h1.1v1.1h-1.1zM246.8 217.1h1.1v1.1h-1.1zM257.5 212.7h1.1v1.1h-1.1zM266.2 210.1h1.1v1.1h-1.1zM262.7 210.9h1.1v1.1h-1.1zM254.9 222.3h1.1v1.1h-1.1zM257.6 235.2h1.1v1.1h-1.1zM259.1 229.5h1.1v1.1h-1.1zM263.0 225.4h1.1v1.1h-1.1zM248.8 222.9h1.1v1.1h-1.1zM269.1 212.4h1.1v1.1h-1.1zM264.4 218.3h1.1v1.1h-1.1zM265.2 208.2h1.1v1.1h-1.1zM266.9 229.7h1.1v1.1h-1.1zM230.5 222.2h1.1v1.1h-1.1zM253.5 215.4h1.1v1.1h-1.1zM261.0 202.8h1.1v1.1h-1.1zM253.4 212.6h1.1v1.1h-1.1zM263.9 226.3h1.1v1.1h-1.1zM258.3 215.1h1.1v1.1h-1.1zM261.2 225.2h1.1v1.1h-1.1zM250.9 217.5h1.1v1.1h-1.1zM262.4 223.3h1.1v1.1h-1.1zM271.4 221.1h1.1v1.1h-1.1zM259.7 217.1h1.1v1.1h-1.1zM261.6 223.4h1.1v1.1h-1.1zM251.1 219.9h1.1v1.1h-1.1zM262.0 219.1h1.1v1.1h-1.1zM253.8 216.1h1.1v1.1h-1.1zM245.1 225.8h1.1v1.1h-1.1zM253.7 228.6h1.1v1.1h-1.1zM255.4 232.9h1.1v1.1h-1.1zM262.6 215.2h1.1v1.1h-1.1zM266.2 213.4h1.1v1.1h-1.1zM255.7 227.5h1.1v1.1h-1.1zM254.2 233.7h1.1v1.1h-1.1zM263.3 213.4h1.1v1.1h-1.1zM249.2 220.5h1.1v1.1h-1.1zM254.4 214.1h1.1v1.1h-1.1zM255.3 219.5h1.1v1.1h-1.1zM256.0 210.4h1.1v1.1h-1.1zM252.0 217.4h1.1v1.1h-1.1zM266.3 210.7h1.1v1.1h-1.1zM255.9 227.8h1.1v1.1h-1.1zM244.3 221.8h1.1v1.1h-1.1zM252.9 219.2h1.1v1.1h-1.1zM262.9 220.7h1.1v1.1h-1.1zM239.6 219.9h1.1v1.1h-1.1zM256.8 231.6h1.1v1.1h-1.1zM257.0 205.2h1.1v1.1h-1.1zM263.3 218.5h1.1v1.1h-1.1zM244.4 223.5h1.1v1.1h-1.1zM258.1 229.6h1.1v1.1h-1.1zM257.5 219.1h1.1v1.1h-1.1zM264.0 219.7h1.1v1.1h-1.1zM248.3 231.2h1.1v1.1h-1.1zM263.3 209.8h1.1v1.1h-1.1zM268.4 210.6h1.1v1.1h-1.1zM260.3 232.2h1.1v1.1h-1.1zM252.6 214.4h1.1v1.1h-1.1zM249.8 226.0h1.1v1.1h-1.1zM241.3 216.2h1.1v1.1h-1.1zM252.3 216.2h1.1v1.1h-1.1zM262.2 210.9h1.1v1.1h-1.1zM271.3 212.8h1.1v1.1h-1.1zM267.1 206.7h1.1v1.1h-1.1zM268.6 219.7h1.1v1.1h-1.1zM253.2 222.2h1.1v1.1h-1.1zM253.6 222.0h1.1v1.1h-1.1zM243.5 224.5h1.1v1.1h-1.1zM251.4 204.2h1.1v1.1h-1.1zM247.2 219.4h1.1v1.1h-1.1zM255.3 210.0h1.1v1.1h-1.1zM263.7 216.0h1.1v1.1h-1.1zM256.5 219.7h1.1v1.1h-1.1zM254.6 212.5h1.1v1.1h-1.1zM263.9 222.5h1.1v1.1h-1.1zM271.5 211.6h1.1v1.1h-1.1zM267.5 207.8h1.1v1.1h-1.1zM242.0 220.6h1.1v1.1h-1.1zM253.6 222.3h1.1v1.1h-1.1zM244.4 215.8h1.1v1.1h-1.1zM254.3 212.4h1.1v1.1h-1.1zM266.8 209.4h1.1v1.1h-1.1zM233.2 225.6h1.1v1.1h-1.1zM269.6 216.6h1.1v1.1h-1.1zM259.6 224.6h1.1v1.1h-1.1zM262.8 215.1h1.1v1.1h-1.1zM245.1 215.7h1.1v1.1h-1.1zM252.5 218.7h1.1v1.1h-1.1zM247.2 221.2h1.1v1.1h-1.1zM268.4 214.2h1.1v1.1h-1.1zM250.5 218.0h1.1v1.1h-1.1zM261.1 215.0h1.1v1.1h-1.1zM251.6 225.1h1.1v1.1h-1.1zM242.4 227.6h1.1v1.1h-1.1zM265.7 221.3h1.1v1.1h-1.1zM268.5 223.8h1.1v1.1h-1.1zM271.5 214.6h1.1v1.1h-1.1zM252.5 205.4h1.1v1.1h-1.1zM258.1 218.4h1.1v1.1h-1.1zM264.0 229.9h1.1v1.1h-1.1zM260.7 224.4h1.1v1.1h-1.1zM259.6 226.0h1.1v1.1h-1.1zM253.8 218.2h1.1v1.1h-1.1zM265.7 205.1h1.1v1.1h-1.1zM252.7 219.2h1.1v1.1h-1.1zM270.7 218.1h1.1v1.1h-1.1zM255.2 210.5h1.1v1.1h-1.1zM248.6 227.6h1.1v1.1h-1.1zM264.5 218.2h1.1v1.1h-1.1zM258.1 210.8h1.1v1.1h-1.1zM254.1 218.0h1.1v1.1h-1.1zM255.6 216.5h1.1v1.1h-1.1zM252.0 226.8h1.1v1.1h-1.1zM262.4 229.6h1.1v1.1h-1.1zM260.7 220.9h1.1v1.1h-1.1zM251.4 224.2h1.1v1.1h-1.1zM270.8 224.9h1.1v1.1h-1.1zM262.7 229.6h1.1v1.1h-1.1zM244.7 207.6h1.1v1.1h-1.1zM271.5 228.3h1.1v1.1h-1.1zM241.4 226.4h1.1v1.1h-1.1zM262.4 226.9h1.1v1.1h-1.1zM240.6 217.1h1.1v1.1h-1.1zM260.2 231.1h1.1v1.1h-1.1zM254.3 230.0h1.1v1.1h-1.1zM255.2 218.1h1.1v1.1h-1.1zM240.2 233.8h1.1v1.1h-1.1zM250.7 216.6h1.1v1.1h-1.1zM268.7 208.8h1.1v1.1h-1.1zM263.6 217.4h1.1v1.1h-1.1zM257.3 237.7h1.1v1.1h-1.1zM256.8 224.1h1.1v1.1h-1.1zM252.0 221.9h1.1v1.1h-1.1zM271.3 207.2h1.1v1.1h-1.1zM257.8 208.0h1.1v1.1h-1.1zM268.1 210.1h1.1v1.1h-1.1zM244.5 220.9h1.1v1.1h-1.1zM243.9 223.1h1.1v1.1h-1.1zM270.8 217.7h1.1v1.1h-1.1zM250.2 224.9h1.1v1.1h-1.1zM256.5 222.5h1.1v1.1h-1.1zM262.7 222.6h1.1v1.1h-1.1zM266.8 217.8h1.1v1.1h-1.1zM264.2 208.7h1.1v1.1h-1.1zM263.5 228.0h1.1v1.1h-1.1zM260.8 214.0h1.1v1.1h-1.1zM266.8 211.0h1.1v1.1h-1.1zM258.9 219.1h1.1v1.1h-1.1zM260.0 219.1h1.1v1.1h-1.1zM256.1 222.2h1.1v1.1h-1.1zM235.1 229.5h1.1v1.1h-1.1zM259.2 219.2h1.1v1.1h-1.1zM260.2 222.8h1.1v1.1h-1.1zM255.0 218.3h1.1v1.1h-1.1zM247.8 216.6h1.1v1.1h-1.1zM259.6 218.2h1.1v1.1h-1.1zM255.2 210.8h1.1v1.1h-1.1zM270.1 214.4h1.1v1.1h-1.1zM263.0 207.0h1.1v1.1h-1.1zM264.3 231.0h1.1v1.1h-1.1zM250.5 216.6h1.1v1.1h-1.1zM258.9 211.9h1.1v1.1h-1.1zM250.7 220.2h1.1v1.1h-1.1zM258.2 231.6h1.1v1.1h-1.1zM251.6 219.8h1.1v1.1h-1.1zM268.3 219.0h1.1v1.1h-1.1zM253.1 209.9h1.1v1.1h-1.1zM255.8 210.3h1.1v1.1h-1.1zM237.3 214.1h1.1v1.1h-1.1zM248.7 218.1h1.1v1.1h-1.1zM254.1 217.0h1.1v1.1h-1.1zM242.8 212.6h1.1v1.1h-1.1zM257.5 217.7h1.1v1.1h-1.1zM255.5 213.5h1.1v1.1h-1.1zM252.9 212.1h1.1v1.1h-1.1zM254.8 218.7h1.1v1.1h-1.1zM253.2 217.0h1.1v1.1h-1.1zM266.2 221.0h1.1v1.1h-1.1zM246.5 227.4h1.1v1.1h-1.1zM259.5 221.9h1.1v1.1h-1.1zM265.3 221.7h1.1v1.1h-1.1zM249.3 230.4h1.1v1.1h-1.1zM258.1 211.6h1.1v1.1h-1.1zM256.6 211.4h1.1v1.1h-1.1zM252.4 207.7h1.1v1.1h-1.1zM264.8 218.3h1.1v1.1h-1.1zM242.8 203.9h1.1v1.1h-1.1zM262.9 219.5h1.1v1.1h-1.1zM260.8 207.5h1.1v1.1h-1.1zM265.4 228.3h1.1v1.1h-1.1zM249.3 216.2h1.1v1.1h-1.1zM265.0 213.9h1.1v1.1h-1.1zM250.7 203.3h1.1v1.1h-1.1zM253.8 222.8h1.1v1.1h-1.1zM257.9 216.5h1.1v1.1h-1.1zM252.6 218.7h1.1v1.1h-1.1zM240.0 232.2h1.1v1.1h-1.1zM259.2 227.0h1.1v1.1h-1.1zM265.3 212.3h1.1v1.1h-1.1zM264.2 221.9h1.1v1.1h-1.1zM260.3 227.5h1.1v1.1h-1.1zM270.9 210.8h1.1v1.1h-1.1zM266.4 215.8h1.1v1.1h-1.1zM266.1 220.0h1.1v1.1h-1.1zM254.4 230.3h1.1v1.1h-1.1zM244.8 226.0h1.1v1.1h-1.1zM250.4 222.0h1.1v1.1h-1.1zM270.3 219.3h1.1v1.1h-1.1zM269.3 217.9h1.1v1.1h-1.1zM247.7 225.4h1.1v1.1h-1.1zM252.5 221.9h1.1v1.1h-1.1zM262.4 211.6h1.1v1.1h-1.1zM267.5 221.0h1.1v1.1h-1.1zM249.7 213.9h1.1v1.1h-1.1zM255.8 213.6h1.1v1.1h-1.1zM249.0 214.9h1.1v1.1h-1.1zM247.3 233.7h1.1v1.1h-1.1zM259.4 213.0h1.1v1.1h-1.1zM254.1 218.8h1.1v1.1h-1.1zM239.7 218.8h1.1v1.1h-1.1zM262.2 220.3h1.1v1.1h-1.1zM254.8 221.6h1.1v1.1h-1.1zM254.7 227.8h1.1v1.1h-1.1zM246.1 230.0h1.1v1.1h-1.1zM265.0 215.9h1.1v1.1h-1.1zM261.1 225.3h1.1v1.1h-1.1zM258.7 189.6h1.1v1.1h-1.1zM288.7 182.5h1.1v1.1h-1.1zM296.9 189.7h1.1v1.1h-1.1zM266.4 196.7h1.1v1.1h-1.1zM227.1 225.2h1.1v1.1h-1.1zM289.3 197.4h1.1v1.1h-1.1zM271.2 166.6h1.1v1.1h-1.1zM262.1 189.3h1.1v1.1h-1.1zM246.2 210.1h1.1v1.1h-1.1zM328.5 194.2h1.1v1.1h-1.1zM263.5 185.7h1.1v1.1h-1.1zM251.2 216.9h1.1v1.1h-1.1zM280.0 191.8h1.1v1.1h-1.1zM241.5 213.1h1.1v1.1h-1.1zM259.7 198.3h1.1v1.1h-1.1zM265.3 187.6h1.1v1.1h-1.1zM264.9 199.8h1.1v1.1h-1.1zM279.5 196.1h1.1v1.1h-1.1zM269.7 209.1h1.1v1.1h-1.1zM245.2 212.8h1.1v1.1h-1.1zM226.0 189.0h1.1v1.1h-1.1zM240.4 219.3h1.1v1.1h-1.1zM314.0 184.5h1.1v1.1h-1.1zM254.4 213.3h1.1v1.1h-1.1zM300.7 189.5h1.1v1.1h-1.1zM256.4 206.7h1.1v1.1h-1.1zM284.7 191.5h1.1v1.1h-1.1zM294.5 184.3h1.1v1.1h-1.1zM264.0 213.7h1.1v1.1h-1.1zM245.6 192.2h1.1v1.1h-1.1zM269.6 196.8h1.1v1.1h-1.1zM237.5 195.9h1.1v1.1h-1.1zM238.1 192.7h1.1v1.1h-1.1zM251.5 206.1h1.1v1.1h-1.1zM295.9 190.4h1.1v1.1h-1.1zM294.7 180.7h1.1v1.1h-1.1zM252.7 230.9h1.1v1.1h-1.1zM260.9 181.2h1.1v1.1h-1.1zM265.2 202.9h1.1v1.1h-1.1zM271.1 201.0h1.1v1.1h-1.1zM270.9 176.2h1.1v1.1h-1.1zM268.1 206.9h1.1v1.1h-1.1zM300.6 197.3h1.1v1.1h-1.1zM301.5 190.8h1.1v1.1h-1.1zM293.9 187.4h1.1v1.1h-1.1zM237.4 204.6h1.1v1.1h-1.1zM276.1 187.5h1.1v1.1h-1.1zM242.6 206.7h1.1v1.1h-1.1zM260.5 204.4h1.1v1.1h-1.1zM253.3 190.2h1.1v1.1h-1.1zM286.5 194.0h1.1v1.1h-1.1zM265.3 233.4h1.1v1.1h-1.1zM272.9 192.3h1.1v1.1h-1.1zM240.2 220.0h1.1v1.1h-1.1zM241.0 210.1h1.1v1.1h-1.1zM276.3 196.4h1.1v1.1h-1.1zM239.6 201.9h1.1v1.1h-1.1zM246.7 195.2h1.1v1.1h-1.1zM250.6 198.9h1.1v1.1h-1.1zM270.2 193.9h1.1v1.1h-1.1zM261.4 215.9h1.1v1.1h-1.1zM241.0 215.9h1.1v1.1h-1.1zM263.1 207.9h1.1v1.1h-1.1zM260.8 210.0h1.1v1.1h-1.1zM246.7 232.0h1.1v1.1h-1.1zM259.9 203.1h1.1v1.1h-1.1zM215.9 202.9h1.1v1.1h-1.1zM304.8 171.8h1.1v1.1h-1.1zM293.7 192.1h1.1v1.1h-1.1zM243.3 214.8h1.1v1.1h-1.1zM244.7 191.4h1.1v1.1h-1.1zM282.0 197.3h1.1v1.1h-1.1zM249.9 177.1h1.1v1.1h-1.1zM277.8 188.3h1.1v1.1h-1.1zM243.1 224.3h1.1v1.1h-1.1zM265.2 198.9h1.1v1.1h-1.1zM288.6 179.8h1.1v1.1h-1.1zM247.7 205.8h1.1v1.1h-1.1zM312.7 180.4h1.1v1.1h-1.1zM270.2 193.6h1.1v1.1h-1.1zM258.7 221.7h1.1v1.1h-1.1zM270.2 170.6h1.1v1.1h-1.1zM227.5 219.0h1.1v1.1h-1.1zM280.8 167.6h1.1v1.1h-1.1zM244.1 210.5h1.1v1.1h-1.1zM251.5 194.6h1.1v1.1h-1.1zM280.4 198.1h1.1v1.1h-1.1zM265.4 199.1h1.1v1.1h-1.1zM302.6 171.2h1.1v1.1h-1.1zM247.9 183.2h1.1v1.1h-1.1zM263.8 205.1h1.1v1.1h-1.1zM263.1 195.9h1.1v1.1h-1.1zM300.9 161.8h1.1v1.1h-1.1zM262.9 205.8h1.1v1.1h-1.1zM234.9 211.4h1.1v1.1h-1.1zM242.3 197.5h1.1v1.1h-1.1zM281.3 186.9h1.1v1.1h-1.1zM246.6 193.8h1.1v1.1h-1.1zM240.3 205.5h1.1v1.1h-1.1zM243.4 233.2h1.1v1.1h-1.1zM265.2 210.9h1.1v1.1h-1.1zM249.7 207.3h1.1v1.1h-1.1zM281.2 196.7h1.1v1.1h-1.1zM235.6 206.5h1.1v1.1h-1.1zM274.6 183.2h1.1v1.1h-1.1zM256.7 208.5h1.1v1.1h-1.1zM228.8 204.7h1.1v1.1h-1.1zM264.3 188.8h1.1v1.1h-1.1zM259.2 204.5h1.1v1.1h-1.1zM329.3 186.1h1.1v1.1h-1.1zM264.7 189.5h1.1v1.1h-1.1zM311.8 198.2h1.1v1.1h-1.1zM289.2 198.3h1.1v1.1h-1.1zM304.4 194.7h1.1v1.1h-1.1zM226.2 176.9h1.1v1.1h-1.1zM275.9 198.3h1.1v1.1h-1.1zM246.5 211.6h1.1v1.1h-1.1zM266.5 201.4h1.1v1.1h-1.1zM261.7 204.5h1.1v1.1h-1.1zM226.4 206.5h1.1v1.1h-1.1zM261.5 188.5h1.1v1.1h-1.1zM238.3 219.6h1.1v1.1h-1.1zM291.5 189.9h1.1v1.1h-1.1zM282.6 195.5h1.1v1.1h-1.1zM290.7 183.1h1.1v1.1h-1.1zM285.4 197.9h1.1v1.1h-1.1zM255.7 233.5h1.1v1.1h-1.1zM270.8 190.7h1.1v1.1h-1.1zM229.0 199.1h1.1v1.1h-1.1zM259.2 193.1h1.1v1.1h-1.1zM260.8 209.5h1.1v1.1h-1.1zM263.7 179.5h1.1v1.1h-1.1zM269.0 209.4h1.1v1.1h-1.1zM306.3 168.0h1.1v1.1h-1.1zM270.9 190.7h1.1v1.1h-1.1zM263.6 193.9h1.1v1.1h-1.1zM258.5 205.5h1.1v1.1h-1.1zM253.6 183.9h1.1v1.1h-1.1zM289.4 179.7h1.1v1.1h-1.1zM246.4 183.3h1.1v1.1h-1.1zM267.9 198.0h1.1v1.1h-1.1zM242.6 204.8h1.1v1.1h-1.1zM279.6 196.1h1.1v1.1h-1.1zM259.3 183.9h1.1v1.1h-1.1zM235.7 190.3h1.1v1.1h-1.1zM257.6 217.2h1.1v1.1h-1.1zM291.0 195.5h1.1v1.1h-1.1zM248.8 197.7h1.1v1.1h-1.1zM274.2 190.3h1.1v1.1h-1.1zM249.1 211.3h1.1v1.1h-1.1zM282.4 186.8h1.1v1.1h-1.1zM249.3 181.6h1.1v1.1h-1.1zM249.7 207.9h1.1v1.1h-1.1zM262.9 216.5h1.1v1.1h-1.1zM271.7 194.8h1.1v1.1h-1.1zM266.8 193.4h1.1v1.1h-1.1zM278.7 198.7h1.1v1.1h-1.1zM248.7 191.6h1.1v1.1h-1.1zM246.0 196.0h1.1v1.1h-1.1zM301.6 198.1h1.1v1.1h-1.1zM270.0 191.9h1.1v1.1h-1.1zM274.6 197.3h1.1v1.1h-1.1zM269.7 198.5h1.1v1.1h-1.1zM295.3 186.6h1.1v1.1h-1.1zM267.9 182.4h1.1v1.1h-1.1zM257.1 204.3h1.1v1.1h-1.1zM274.3 189.1h1.1v1.1h-1.1zM259.3 221.7h1.1v1.1h-1.1zM261.6 199.2h1.1v1.1h-1.1zM248.8 178.9h1.1v1.1h-1.1zM255.2 205.2h1.1v1.1h-1.1zM248.9 204.5h1.1v1.1h-1.1zM238.9 185.5h1.1v1.1h-1.1zM282.6 194.3h1.1v1.1h-1.1zM270.4 198.6h1.1v1.1h-1.1zM281.9 176.0h1.1v1.1h-1.1zM289.0 178.2h1.1v1.1h-1.1zM292.2 196.7h1.1v1.1h-1.1zM221.7 228.2h1.1v1.1h-1.1zM284.8 187.1h1.1v1.1h-1.1zM295.4 193.6h1.1v1.1h-1.1zM263.4 209.7h1.1v1.1h-1.1zM286.5 189.4h1.1v1.1h-1.1zM285.5 192.4h1.1v1.1h-1.1zM249.1 193.8h1.1v1.1h-1.1zM300.2 187.5h1.1v1.1h-1.1zM244.6 186.9h1.1v1.1h-1.1zM284.0 197.4h1.1v1.1h-1.1zM286.9 177.1h1.1v1.1h-1.1zM285.6 194.8h1.1v1.1h-1.1zM282.9 197.0h1.1v1.1h-1.1zM306.2 188.4h1.1v1.1h-1.1zM289.5 186.4h1.1v1.1h-1.1zM299.9 175.8h1.1v1.1h-1.1zM244.7 198.9h1.1v1.1h-1.1zM265.5 186.8h1.1v1.1h-1.1zM249.1 199.3h1.1v1.1h-1.1zM246.9 196.3h1.1v1.1h-1.1zM295.1 188.9h1.1v1.1h-1.1zM287.7 198.5h1.1v1.1h-1.1zM264.9 212.0h1.1v1.1h-1.1zM261.6 193.8h1.1v1.1h-1.1zM257.2 186.9h1.1v1.1h-1.1zM307.3 194.8h1.1v1.1h-1.1zM259.1 192.7h1.1v1.1h-1.1zM293.8 190.6h1.1v1.1h-1.1zM268.5 169.3h1.1v1.1h-1.1zM267.9 185.3h1.1v1.1h-1.1zM257.5 216.7h1.1v1.1h-1.1zM307.3 192.2h1.1v1.1h-1.1zM269.9 213.6h1.1v1.1h-1.1zM248.4 205.7h1.1v1.1h-1.1zM239.6 216.3h1.1v1.1h-1.1zM298.7 174.2h1.1v1.1h-1.1zM244.6 198.3h1.1v1.1h-1.1zM255.8 194.9h1.1v1.1h-1.1zM274.9 183.1h1.1v1.1h-1.1zM248.4 186.1h1.1v1.1h-1.1zM301.6 187.2h1.1v1.1h-1.1zM269.5 220.7h1.1v1.1h-1.1zM272.6 184.2h1.1v1.1h-1.1zM271.9 192.2h1.1v1.1h-1.1zM270.0 221.7h1.1v1.1h-1.1zM265.5 214.2h1.1v1.1h-1.1zM249.0 192.4h1.1v1.1h-1.1zM291.3 197.0h1.1v1.1h-1.1zM261.2 210.0h1.1v1.1h-1.1zM261.0 187.4h1.1v1.1h-1.1zM269.2 189.1h1.1v1.1h-1.1zM267.4 201.0h1.1v1.1h-1.1zM256.5 212.9h1.1v1.1h-1.1zM240.9 191.7h1.1v1.1h-1.1zM245.2 197.6h1.1v1.1h-1.1zM231.3 203.6h1.1v1.1h-1.1zM256.8 202.8h1.1v1.1h-1.1zM245.5 195.2h1.1v1.1h-1.1zM275.4 191.6h1.1v1.1h-1.1zM254.0 221.2h1.1v1.1h-1.1zM265.6 201.3h1.1v1.1h-1.1zM283.4 184.8h1.1v1.1h-1.1zM271.1 182.4h1.1v1.1h-1.1zM255.4 231.6h1.1v1.1h-1.1zM258.2 193.9h1.1v1.1h-1.1zM253.5 183.7h1.1v1.1h-1.1zM270.7 193.7h1.1v1.1h-1.1zM271.8 180.9h1.1v1.1h-1.1zM298.5 196.5h1.1v1.1h-1.1zM286.1 193.5h1.1v1.1h-1.1zM257.2 207.4h1.1v1.1h-1.1zM277.6 189.1h1.1v1.1h-1.1zM247.9 205.7h1.1v1.1h-1.1zM229.2 196.2h1.1v1.1h-1.1zM280.3 190.3h1.1v1.1h-1.1zM233.4 212.0h1.1v1.1h-1.1zM246.4 212.7h1.1v1.1h-1.1zM263.8 198.4h1.1v1.1h-1.1zM266.9 184.1h1.1v1.1h-1.1zM244.9 195.4h1.1v1.1h-1.1zM295.1 190.6h1.1v1.1h-1.1zM265.1 215.8h1.1v1.1h-1.1zM263.7 194.5h1.1v1.1h-1.1zM269.1 206.3h1.1v1.1h-1.1zM281.7 193.1h1.1v1.1h-1.1zM269.6 208.5h1.1v1.1h-1.1zM241.2 201.3h1.1v1.1h-1.1zM255.4 192.2h1.1v1.1h-1.1zM294.0 184.9h1.1v1.1h-1.1zM313.4 188.0h1.1v1.1h-1.1zM242.5 216.9h1.1v1.1h-1.1zM275.4 187.7h1.1v1.1h-1.1zM268.6 185.8h1.1v1.1h-1.1zM277.6 190.9h1.1v1.1h-1.1zM277.0 192.3h1.1v1.1h-1.1zM266.7 190.9h1.1v1.1h-1.1zM272.7 190.0h1.1v1.1h-1.1zM269.6 197.7h1.1v1.1h-1.1zM267.3 197.4h1.1v1.1h-1.1zM269.4 175.7h1.1v1.1h-1.1zM267.9 194.1h1.1v1.1h-1.1zM291.1 184.1h1.1v1.1h-1.1zM257.7 197.9h1.1v1.1h-1.1zM248.8 220.0h1.1v1.1h-1.1zM300.2 184.1h1.1v1.1h-1.1zM267.4 200.6h1.1v1.1h-1.1zM300.8 190.4h1.1v1.1h-1.1zM254.7 210.9h1.1v1.1h-1.1zM314.3 198.1h1.1v1.1h-1.1zM257.0 195.3h1.1v1.1h-1.1zM266.4 206.4h1.1v1.1h-1.1zM240.7 209.5h1.1v1.1h-1.1zM270.9 186.2h1.1v1.1h-1.1zM320.7 191.6h1.1v1.1h-1.1zM226.0 208.2h1.1v1.1h-1.1zM284.6 190.6h1.1v1.1h-1.1zM286.4 195.0h1.1v1.1h-1.1zM268.5 190.6h1.1v1.1h-1.1zM278.8 171.8h1.1v1.1h-1.1zM261.6 198.8h1.1v1.1h-1.1zM264.9 202.5h1.1v1.1h-1.1zM291.7 190.3h1.1v1.1h-1.1zM220.3 213.0h1.1v1.1h-1.1zM258.3 204.5h1.1v1.1h-1.1zM298.9 189.9h1.1v1.1h-1.1zM277.6 196.3h1.1v1.1h-1.1zM271.9 200.2h1.1v1.1h-1.1zM241.2 203.1h1.1v1.1h-1.1zM266.1 199.9h1.1v1.1h-1.1zM260.6 221.3h1.1v1.1h-1.1zM247.9 212.4h1.1v1.1h-1.1zM269.6 211.8h1.1v1.1h-1.1zM281.4 183.6h1.1v1.1h-1.1zM256.6 196.3h1.1v1.1h-1.1zM235.5 214.3h1.1v1.1h-1.1zM247.1 203.9h1.1v1.1h-1.1zM254.9 197.1h1.1v1.1h-1.1zM261.1 215.2h1.1v1.1h-1.1zM257.9 201.8h1.1v1.1h-1.1zM244.8 208.2h1.1v1.1h-1.1zM250.4 198.1h1.1v1.1h-1.1zM266.0 198.9h1.1v1.1h-1.1zM256.6 208.4h1.1v1.1h-1.1zM270.3 202.9h1.1v1.1h-1.1zM284.4 179.2h1.1v1.1h-1.1zM291.3 185.3h1.1v1.1h-1.1zM245.4 188.8h1.1v1.1h-1.1zM253.5 199.6h1.1v1.1h-1.1zM260.3 197.2h1.1v1.1h-1.1zM261.1 183.1h1.1v1.1h-1.1zM267.6 197.7h1.1v1.1h-1.1zM228.4 204.5h1.1v1.1h-1.1zM232.8 222.6h1.1v1.1h-1.1zM271.6 173.2h1.1v1.1h-1.1zM241.3 188.5h1.1v1.1h-1.1zM251.1 174.7h1.1v1.1h-1.1zM319.2 162.9h1.1v1.1h-1.1zM331.3 164.8h1.1v1.1h-1.1zM317.9 167.3h1.1v1.1h-1.1zM313.2 184.4h1.1v1.1h-1.1zM232.2 225.8h1.1v1.1h-1.1zM273.5 195.7h1.1v1.1h-1.1zM281.6 198.2h1.1v1.1h-1.1zM273.3 198.5h1.1v1.1h-1.1zM275.2 194.5h1.1v1.1h-1.1zM272.1 198.5h1.1v1.1h-1.1zM278.7 195.6h1.1v1.1h-1.1zM279.2 198.4h1.1v1.1h-1.1z" fill="#74b83e" stroke="#6aa84a" stroke-width="0.3"/>
<path d="M272.8 215.1h1.1v1.1h-1.1zM274.3 224.2h1.1v1.1h-1.1zM274.7 217.0h1.1v1.1h-1.1zM272.8 209.9h1.1v1.1h-1.1zM278.6 221.1h1.1v1.1h-1.1zM277.0 215.4h1.1v1.1h-1.1zM281.9 206.9h1.1v1.1h-1.1zM273.1 224.2h1.1v1.1h-1.1zM277.1 212.3h1.1v1.1h-1.1zM274.9 201.2h1.1v1.1h-1.1zM272.6 229.9h1.1v1.1h-1.1zM275.7 225.7h1.1v1.1h-1.1zM273.5 220.1h1.1v1.1h-1.1zM276.6 220.7h1.1v1.1h-1.1zM274.6 209.3h1.1v1.1h-1.1zM283.0 220.9h1.1v1.1h-1.1zM277.6 220.6h1.1v1.1h-1.1zM273.0 232.0h1.1v1.1h-1.1zM277.5 234.1h1.1v1.1h-1.1zM272.5 224.5h1.1v1.1h-1.1zM273.1 212.2h1.1v1.1h-1.1zM272.6 222.1h1.1v1.1h-1.1zM274.9 206.4h1.1v1.1h-1.1zM279.3 211.9h1.1v1.1h-1.1zM273.2 207.7h1.1v1.1h-1.1zM279.0 201.2h1.1v1.1h-1.1zM275.4 211.5h1.1v1.1h-1.1zM273.1 220.6h1.1v1.1h-1.1zM274.5 214.9h1.1v1.1h-1.1zM277.7 209.0h1.1v1.1h-1.1zM275.9 212.0h1.1v1.1h-1.1zM284.2 215.4h1.1v1.1h-1.1zM272.6 218.3h1.1v1.1h-1.1zM272.1 220.8h1.1v1.1h-1.1zM277.0 209.7h1.1v1.1h-1.1zM276.3 204.8h1.1v1.1h-1.1zM275.3 205.5h1.1v1.1h-1.1zM280.4 219.4h1.1v1.1h-1.1zM282.4 212.5h1.1v1.1h-1.1zM273.9 223.0h1.1v1.1h-1.1zM273.4 212.4h1.1v1.1h-1.1zM274.5 217.0h1.1v1.1h-1.1zM276.5 225.1h1.1v1.1h-1.1zM279.6 207.6h1.1v1.1h-1.1zM278.3 220.1h1.1v1.1h-1.1zM281.3 207.9h1.1v1.1h-1.1zM276.2 220.6h1.1v1.1h-1.1zM279.4 215.0h1.1v1.1h-1.1zM275.3 225.3h1.1v1.1h-1.1zM276.2 213.7h1.1v1.1h-1.1zM276.2 224.1h1.1v1.1h-1.1zM275.6 215.4h1.1v1.1h-1.1zM274.2 208.2h1.1v1.1h-1.1zM272.1 222.7h1.1v1.1h-1.1zM279.6 213.4h1.1v1.1h-1.1zM275.2 215.1h1.1v1.1h-1.1zM280.2 222.0h1.1v1.1h-1.1zM272.9 224.9h1.1v1.1h-1.1zM272.3 210.0h1.1v1.1h-1.1zM274.1 204.0h1.1v1.1h-1.1zM277.8 199.5h1.1v1.1h-1.1zM274.4 210.0h1.1v1.1h-1.1zM273.3 217.1h1.1v1.1h-1.1zM277.1 208.5h1.1v1.1h-1.1zM273.0 224.1h1.1v1.1h-1.1zM276.3 217.3h1.1v1.1h-1.1zM284.3 223.0h1.1v1.1h-1.1zM277.1 220.9h1.1v1.1h-1.1zM273.3 214.5h1.1v1.1h-1.1zM276.0 221.8h1.1v1.1h-1.1zM274.1 217.2h1.1v1.1h-1.1zM277.1 211.9h1.1v1.1h-1.1zM276.7 214.8h1.1v1.1h-1.1zM272.6 224.8h1.1v1.1h-1.1zM273.8 212.2h1.1v1.1h-1.1zM291.9 225.7h1.1v1.1h-1.1zM278.9 206.3h1.1v1.1h-1.1zM279.0 203.9h1.1v1.1h-1.1zM275.0 214.9h1.1v1.1h-1.1zM282.9 220.5h1.1v1.1h-1.1zM278.3 206.0h1.1v1.1h-1.1zM272.7 219.7h1.1v1.1h-1.1zM277.9 210.0h1.1v1.1h-1.1zM275.6 222.6h1.1v1.1h-1.1zM272.7 206.7h1.1v1.1h-1.1zM274.0 224.2h1.1v1.1h-1.1zM279.0 214.0h1.1v1.1h-1.1zM273.6 206.7h1.1v1.1h-1.1zM277.3 213.5h1.1v1.1h-1.1zM273.9 222.9h1.1v1.1h-1.1zM272.6 217.4h1.1v1.1h-1.1zM273.2 211.4h1.1v1.1h-1.1zM274.7 212.2h1.1v1.1h-1.1zM282.7 218.6h1.1v1.1h-1.1zM273.5 224.0h1.1v1.1h-1.1zM275.5 217.6h1.1v1.1h-1.1zM272.2 220.2h1.1v1.1h-1.1zM274.6 214.7h1.1v1.1h-1.1zM274.6 207.3h1.1v1.1h-1.1zM272.4 217.4h1.1v1.1h-1.1zM280.3 218.6h1.1v1.1h-1.1zM273.6 215.0h1.1v1.1h-1.1zM279.1 212.1h1.1v1.1h-1.1zM272.9 209.5h1.1v1.1h-1.1zM273.4 203.0h1.1v1.1h-1.1zM276.0 207.1h1.1v1.1h-1.1zM275.4 206.3h1.1v1.1h-1.1zM275.5 216.0h1.1v1.1h-1.1zM280.3 212.1h1.1v1.1h-1.1zM278.5 213.3h1.1v1.1h-1.1zM278.0 212.9h1.1v1.1h-1.1zM275.6 232.7h1.1v1.1h-1.1zM273.3 225.7h1.1v1.1h-1.1zM276.3 217.4h1.1v1.1h-1.1zM273.7 208.2h1.1v1.1h-1.1zM283.8 205.7h1.1v1.1h-1.1zM273.0 205.7h1.1v1.1h-1.1zM277.5 206.0h1.1v1.1h-1.1zM291.1 200.6h1.1v1.1h-1.1zM292.3 214.4h1.1v1.1h-1.1zM296.4 205.7h1.1v1.1h-1.1zM296.0 199.0h1.1v1.1h-1.1zM290.4 206.1h1.1v1.1h-1.1zM313.2 201.1h1.1v1.1h-1.1zM293.4 217.0h1.1v1.1h-1.1zM289.7 200.5h1.1v1.1h-1.1zM287.9 199.7h1.1v1.1h-1.1zM304.3 211.6h1.1v1.1h-1.1zM288.6 207.5h1.1v1.1h-1.1zM272.6 208.4h1.1v1.1h-1.1zM296.3 201.9h1.1v1.1h-1.1zM273.6 213.0h1.1v1.1h-1.1zM273.3 206.6h1.1v1.1h-1.1zM274.5 206.4h1.1v1.1h-1.1zM286.5 221.5h1.1v1.1h-1.1zM299.5 203.8h1.1v1.1h-1.1zM285.1 204.2h1.1v1.1h-1.1zM278.4 214.8h1.1v1.1h-1.1zM294.0 210.6h1.1v1.1h-1.1zM281.9 223.9h1.1v1.1h-1.1zM277.9 209.3h1.1v1.1h-1.1zM273.3 211.8h1.1v1.1h-1.1zM296.4 206.4h1.1v1.1h-1.1zM286.8 217.6h1.1v1.1h-1.1zM286.9 201.6h1.1v1.1h-1.1zM283.7 225.1h1.1v1.1h-1.1zM295.9 204.3h1.1v1.1h-1.1zM278.3 201.0h1.1v1.1h-1.1zM302.3 217.6h1.1v1.1h-1.1zM275.2 202.1h1.1v1.1h-1.1zM275.0 199.9h1.1v1.1h-1.1zM276.0 200.0h1.1v1.1h-1.1zM289.9 225.3h1.1v1.1h-1.1zM295.6 203.1h1.1v1.1h-1.1zM274.3 213.2h1.1v1.1h-1.1zM296.2 207.6h1.1v1.1h-1.1zM305.7 209.0h1.1v1.1h-1.1zM275.5 205.5h1.1v1.1h-1.1zM272.7 212.0h1.1v1.1h-1.1zM274.5 207.1h1.1v1.1h-1.1zM294.6 199.1h1.1v1.1h-1.1zM296.2 206.1h1.1v1.1h-1.1zM275.6 198.9h1.1v1.1h-1.1zM294.3 199.1h1.1v1.1h-1.1zM280.0 199.0h1.1v1.1h-1.1zM287.9 208.6h1.1v1.1h-1.1zM283.1 206.1h1.1v1.1h-1.1zM277.2 212.4h1.1v1.1h-1.1zM306.2 208.6h1.1v1.1h-1.1zM273.7 207.3h1.1v1.1h-1.1zM272.9 202.7h1.1v1.1h-1.1zM312.4 202.8h1.1v1.1h-1.1zM297.5 201.8h1.1v1.1h-1.1zM298.1 211.3h1.1v1.1h-1.1zM273.8 200.6h1.1v1.1h-1.1zM283.6 216.2h1.1v1.1h-1.1zM278.2 200.9h1.1v1.1h-1.1zM287.8 208.7h1.1v1.1h-1.1zM290.5 223.8h1.1v1.1h-1.1zM278.4 211.2h1.1v1.1h-1.1zM304.0 199.0h1.1v1.1h-1.1zM286.5 205.1h1.1v1.1h-1.1zM282.2 204.1h1.1v1.1h-1.1zM298.0 209.4h1.1v1.1h-1.1zM278.9 205.6h1.1v1.1h-1.1zM298.8 205.0h1.1v1.1h-1.1zM275.9 199.0h1.1v1.1h-1.1zM282.5 202.5h1.1v1.1h-1.1zM279.5 210.5h1.1v1.1h-1.1zM275.8 208.0h1.1v1.1h-1.1zM297.3 210.5h1.1v1.1h-1.1zM272.2 203.3h1.1v1.1h-1.1zM298.8 228.2h1.1v1.1h-1.1zM272.8 203.8h1.1v1.1h-1.1zM280.6 219.3h1.1v1.1h-1.1zM274.2 203.3h1.1v1.1h-1.1zM290.0 236.4h1.1v1.1h-1.1zM273.2 247.3h1.1v1.1h-1.1zM325.5 223.5h1.1v1.1h-1.1zM292.3 208.0h1.1v1.1h-1.1zM303.1 240.7h1.1v1.1h-1.1zM307.3 210.6h1.1v1.1h-1.1zM306.5 225.0h1.1v1.1h-1.1zM287.0 229.6h1.1v1.1h-1.1zM292.4 217.8h1.1v1.1h-1.1zM279.1 200.7h1.1v1.1h-1.1zM273.0 219.7h1.1v1.1h-1.1zM280.2 218.9h1.1v1.1h-1.1zM293.3 209.7h1.1v1.1h-1.1zM292.4 203.4h1.1v1.1h-1.1zM289.7 202.2h1.1v1.1h-1.1zM304.8 224.9h1.1v1.1h-1.1zM273.3 221.0h1.1v1.1h-1.1zM294.3 216.6h1.1v1.1h-1.1zM278.4 211.3h1.1v1.1h-1.1zM290.8 210.7h1.1v1.1h-1.1zM276.6 218.0h1.1v1.1h-1.1zM279.2 207.7h1.1v1.1h-1.1zM285.6 199.1h1.1v1.1h-1.1zM276.7 207.1h1.1v1.1h-1.1zM283.6 199.6h1.1v1.1h-1.1zM286.0 208.6h1.1v1.1h-1.1zM273.1 214.6h1.1v1.1h-1.1zM277.2 214.3h1.1v1.1h-1.1zM272.9 217.0h1.1v1.1h-1.1zM282.0 217.5h1.1v1.1h-1.1zM285.6 205.8h1.1v1.1h-1.1zM289.4 211.5h1.1v1.1h-1.1zM290.3 214.8h1.1v1.1h-1.1zM280.0 204.6h1.1v1.1h-1.1zM278.5 211.7h1.1v1.1h-1.1zM282.3 224.0h1.1v1.1h-1.1zM284.2 214.3h1.1v1.1h-1.1zM279.0 204.8h1.1v1.1h-1.1zM289.7 202.3h1.1v1.1h-1.1zM272.5 204.5h1.1v1.1h-1.1zM281.8 212.8h1.1v1.1h-1.1zM275.0 218.3h1.1v1.1h-1.1zM294.1 224.4h1.1v1.1h-1.1zM280.1 212.6h1.1v1.1h-1.1zM286.0 207.5h1.1v1.1h-1.1zM273.1 217.0h1.1v1.1h-1.1zM287.6 208.7h1.1v1.1h-1.1zM280.5 209.6h1.1v1.1h-1.1zM272.9 207.3h1.1v1.1h-1.1zM275.1 213.4h1.1v1.1h-1.1zM293.3 212.8h1.1v1.1h-1.1zM277.7 215.4h1.1v1.1h-1.1zM276.7 221.3h1.1v1.1h-1.1zM295.1 214.4h1.1v1.1h-1.1zM280.0 215.4h1.1v1.1h-1.1zM282.2 201.7h1.1v1.1h-1.1zM275.6 211.6h1.1v1.1h-1.1zM291.9 205.6h1.1v1.1h-1.1zM283.5 211.8h1.1v1.1h-1.1zM290.9 219.6h1.1v1.1h-1.1zM275.1 220.1h1.1v1.1h-1.1zM281.4 207.9h1.1v1.1h-1.1zM297.9 209.7h1.1v1.1h-1.1zM281.6 217.0h1.1v1.1h-1.1zM288.6 211.1h1.1v1.1h-1.1zM301.6 218.9h1.1v1.1h-1.1zM277.7 210.2h1.1v1.1h-1.1zM289.7 214.4h1.1v1.1h-1.1zM311.8 201.1h1.1v1.1h-1.1zM275.2 210.7h1.1v1.1h-1.1zM291.2 208.6h1.1v1.1h-1.1zM286.0 214.9h1.1v1.1h-1.1zM292.2 213.6h1.1v1.1h-1.1zM299.2 211.0h1.1v1.1h-1.1zM279.9 213.9h1.1v1.1h-1.1zM295.7 216.7h1.1v1.1h-1.1zM293.1 219.4h1.1v1.1h-1.1zM273.8 211.9h1.1v1.1h-1.1zM288.0 213.4h1.1v1.1h-1.1zM306.2 226.4h1.1v1.1h-1.1zM293.1 215.3h1.1v1.1h-1.1zM276.3 215.9h1.1v1.1h-1.1zM278.3 213.5h1.1v1.1h-1.1zM287.7 214.1h1.1v1.1h-1.1zM279.6 212.9h1.1v1.1h-1.1zM272.4 208.7h1.1v1.1h-1.1zM278.2 209.5h1.1v1.1h-1.1zM273.4 218.2h1.1v1.1h-1.1zM282.5 207.7h1.1v1.1h-1.1zM277.3 215.3h1.1v1.1h-1.1zM280.8 218.0h1.1v1.1h-1.1zM285.3 202.0h1.1v1.1h-1.1zM297.4 214.8h1.1v1.1h-1.1zM283.2 211.0h1.1v1.1h-1.1zM278.1 221.3h1.1v1.1h-1.1zM280.7 210.9h1.1v1.1h-1.1zM278.1 226.9h1.1v1.1h-1.1zM280.9 224.2h1.1v1.1h-1.1zM277.6 217.8h1.1v1.1h-1.1zM276.8 212.9h1.1v1.1h-1.1zM296.7 214.3h1.1v1.1h-1.1zM286.5 205.7h1.1v1.1h-1.1zM275.2 208.9h1.1v1.1h-1.1zM283.8 208.2h1.1v1.1h-1.1zM282.2 207.6h1.1v1.1h-1.1zM277.0 201.9h1.1v1.1h-1.1zM273.7 202.8h1.1v1.1h-1.1zM272.0 216.0h1.1v1.1h-1.1zM289.6 206.5h1.1v1.1h-1.1zM283.3 211.5h1.1v1.1h-1.1zM272.8 211.7h1.1v1.1h-1.1zM278.6 211.3h1.1v1.1h-1.1zM277.3 208.7h1.1v1.1h-1.1zM273.1 228.7h1.1v1.1h-1.1zM278.7 212.0h1.1v1.1h-1.1zM304.6 205.6h1.1v1.1h-1.1zM275.8 211.6h1.1v1.1h-1.1zM291.6 221.0h1.1v1.1h-1.1zM276.1 208.1h1.1v1.1h-1.1zM276.3 208.7h1.1v1.1h-1.1zM274.0 209.5h1.1v1.1h-1.1zM274.5 221.7h1.1v1.1h-1.1zM287.0 199.0h1.1v1.1h-1.1zM310.6 211.3h1.1v1.1h-1.1zM276.4 218.1h1.1v1.1h-1.1zM274.4 215.1h1.1v1.1h-1.1zM282.3 204.6h1.1v1.1h-1.1zM304.8 220.2h1.1v1.1h-1.1zM293.3 217.8h1.1v1.1h-1.1zM282.3 210.3h1.1v1.1h-1.1zM286.5 210.2h1.1v1.1h-1.1zM277.4 219.8h1.1v1.1h-1.1zM274.3 216.8h1.1v1.1h-1.1zM275.9 209.3h1.1v1.1h-1.1zM278.8 200.3h1.1v1.1h-1.1zM308.9 228.7h1.1v1.1h-1.1zM279.8 209.9h1.1v1.1h-1.1zM293.0 217.0h1.1v1.1h-1.1zM276.5 210.3h1.1v1.1h-1.1zM277.1 209.0h1.1v1.1h-1.1zM288.8 215.1h1.1v1.1h-1.1zM287.8 211.5h1.1v1.1h-1.1zM272.6 214.4h1.1v1.1h-1.1zM287.9 211.8h1.1v1.1h-1.1zM282.6 208.7h1.1v1.1h-1.1zM295.3 209.6h1.1v1.1h-1.1zM277.6 212.9h1.1v1.1h-1.1zM279.9 201.6h1.1v1.1h-1.1zM275.2 208.7h1.1v1.1h-1.1zM275.8 212.8h1.1v1.1h-1.1zM274.2 214.2h1.1v1.1h-1.1zM274.2 210.3h1.1v1.1h-1.1zM281.3 200.1h1.1v1.1h-1.1zM277.4 207.4h1.1v1.1h-1.1zM284.4 217.3h1.1v1.1h-1.1zM285.4 212.3h1.1v1.1h-1.1zM278.0 216.9h1.1v1.1h-1.1zM288.3 218.8h1.1v1.1h-1.1zM284.4 204.8h1.1v1.1h-1.1zM289.9 205.8h1.1v1.1h-1.1zM273.5 206.2h1.1v1.1h-1.1zM276.7 202.8h1.1v1.1h-1.1zM285.0 217.2h1.1v1.1h-1.1zM279.4 214.2h1.1v1.1h-1.1zM278.1 211.2h1.1v1.1h-1.1zM284.1 221.3h1.1v1.1h-1.1zM278.5 216.0h1.1v1.1h-1.1zM273.0 210.1h1.1v1.1h-1.1zM278.5 205.9h1.1v1.1h-1.1zM294.6 208.5h1.1v1.1h-1.1zM299.3 210.7h1.1v1.1h-1.1zM274.8 219.5h1.1v1.1h-1.1zM274.4 216.7h1.1v1.1h-1.1zM292.7 206.7h1.1v1.1h-1.1zM291.5 207.5h1.1v1.1h-1.1zM282.8 208.9h1.1v1.1h-1.1zM285.2 203.1h1.1v1.1h-1.1zM275.3 200.5h1.1v1.1h-1.1zM274.7 211.9h1.1v1.1h-1.1zM275.3 207.8h1.1v1.1h-1.1zM272.6 209.5h1.1v1.1h-1.1zM282.8 206.3h1.1v1.1h-1.1zM287.5 208.1h1.1v1.1h-1.1zM275.7 219.7h1.1v1.1h-1.1zM285.1 215.1h1.1v1.1h-1.1zM289.7 211.9h1.1v1.1h-1.1zM301.3 212.4h1.1v1.1h-1.1zM277.4 213.9h1.1v1.1h-1.1zM281.9 219.4h1.1v1.1h-1.1zM272.3 218.2h1.1v1.1h-1.1zM288.3 213.2h1.1v1.1h-1.1zM281.2 207.8h1.1v1.1h-1.1zM275.2 211.0h1.1v1.1h-1.1zM278.5 208.8h1.1v1.1h-1.1zM281.2 214.5h1.1v1.1h-1.1zM291.2 216.9h1.1v1.1h-1.1zM274.9 206.2h1.1v1.1h-1.1zM274.9 205.0h1.1v1.1h-1.1zM279.1 204.4h1.1v1.1h-1.1zM285.7 217.3h1.1v1.1h-1.1zM287.0 220.0h1.1v1.1h-1.1zM312.4 199.8h1.1v1.1h-1.1zM289.0 207.2h1.1v1.1h-1.1zM274.6 212.4h1.1v1.1h-1.1zM296.1 213.8h1.1v1.1h-1.1zM300.8 223.6h1.1v1.1h-1.1zM275.0 204.2h1.1v1.1h-1.1zM282.4 211.4h1.1v1.1h-1.1zM283.5 205.1h1.1v1.1h-1.1zM281.1 201.7h1.1v1.1h-1.1zM277.8 217.6h1.1v1.1h-1.1zM286.4 222.4h1.1v1.1h-1.1zM291.0 210.5h1.1v1.1h-1.1zM288.5 209.9h1.1v1.1h-1.1zM286.3 220.1h1.1v1.1h-1.1zM297.7 219.2h1.1v1.1h-1.1zM283.8 226.3h1.1v1.1h-1.1zM276.2 208.0h1.1v1.1h-1.1zM281.4 205.7h1.1v1.1h-1.1zM274.9 213.7h1.1v1.1h-1.1zM289.9 208.3h1.1v1.1h-1.1zM298.9 216.5h1.1v1.1h-1.1zM293.5 218.3h1.1v1.1h-1.1zM274.4 213.5h1.1v1.1h-1.1zM284.6 217.8h1.1v1.1h-1.1zM274.4 211.9h1.1v1.1h-1.1zM284.3 206.5h1.1v1.1h-1.1zM278.7 216.3h1.1v1.1h-1.1zM277.6 209.6h1.1v1.1h-1.1zM277.2 206.9h1.1v1.1h-1.1zM280.8 216.6h1.1v1.1h-1.1zM281.8 213.5h1.1v1.1h-1.1zM284.9 211.9h1.1v1.1h-1.1zM273.2 212.3h1.1v1.1h-1.1zM275.6 212.7h1.1v1.1h-1.1zM275.4 211.8h1.1v1.1h-1.1zM277.5 216.3h1.1v1.1h-1.1zM295.2 208.3h1.1v1.1h-1.1zM273.8 215.9h1.1v1.1h-1.1zM277.5 205.1h1.1v1.1h-1.1zM273.1 220.0h1.1v1.1h-1.1zM272.1 222.0h1.1v1.1h-1.1zM274.2 214.3h1.1v1.1h-1.1zM283.4 217.2h1.1v1.1h-1.1zM282.3 211.1h1.1v1.1h-1.1zM282.7 216.4h1.1v1.1h-1.1zM278.6 219.6h1.1v1.1h-1.1zM277.4 215.1h1.1v1.1h-1.1zM274.4 212.5h1.1v1.1h-1.1zM272.0 226.7h1.1v1.1h-1.1zM282.5 205.1h1.1v1.1h-1.1zM274.9 221.5h1.1v1.1h-1.1zM277.3 220.3h1.1v1.1h-1.1zM289.2 209.0h1.1v1.1h-1.1zM286.5 209.2h1.1v1.1h-1.1zM299.9 209.0h1.1v1.1h-1.1zM284.4 217.1h1.1v1.1h-1.1zM272.8 219.0h1.1v1.1h-1.1zM276.6 215.6h1.1v1.1h-1.1zM298.6 213.1h1.1v1.1h-1.1zM280.7 210.6h1.1v1.1h-1.1zM279.8 213.4h1.1v1.1h-1.1zM272.2 204.8h1.1v1.1h-1.1zM287.3 209.8h1.1v1.1h-1.1zM295.0 212.0h1.1v1.1h-1.1zM275.5 208.1h1.1v1.1h-1.1zM279.6 208.0h1.1v1.1h-1.1zM276.7 211.3h1.1v1.1h-1.1zM281.7 217.2h1.1v1.1h-1.1zM285.1 211.3h1.1v1.1h-1.1zM287.9 211.2h1.1v1.1h-1.1zM279.1 207.2h1.1v1.1h-1.1zM300.0 207.5h1.1v1.1h-1.1zM276.4 206.2h1.1v1.1h-1.1zM284.7 209.5h1.1v1.1h-1.1zM290.3 205.1h1.1v1.1h-1.1zM281.7 210.1h1.1v1.1h-1.1zM281.9 211.8h1.1v1.1h-1.1zM283.2 214.9h1.1v1.1h-1.1zM282.6 208.4h1.1v1.1h-1.1zM274.7 212.6h1.1v1.1h-1.1zM282.6 213.1h1.1v1.1h-1.1zM279.1 210.3h1.1v1.1h-1.1zM272.4 208.5h1.1v1.1h-1.1zM275.0 217.5h1.1v1.1h-1.1zM280.9 225.7h1.1v1.1h-1.1zM287.8 219.8h1.1v1.1h-1.1zM279.5 212.1h1.1v1.1h-1.1zM273.2 214.3h1.1v1.1h-1.1zM299.6 211.5h1.1v1.1h-1.1zM272.9 218.5h1.1v1.1h-1.1zM288.0 225.2h1.1v1.1h-1.1zM293.0 200.6h1.1v1.1h-1.1zM276.5 219.0h1.1v1.1h-1.1zM282.3 216.7h1.1v1.1h-1.1zM281.0 203.1h1.1v1.1h-1.1zM273.2 211.7h1.1v1.1h-1.1zM280.6 205.8h1.1v1.1h-1.1zM279.6 214.2h1.1v1.1h-1.1zM280.3 210.1h1.1v1.1h-1.1z" fill="#c4102f" stroke="#a00f2c" stroke-width="0.3"/>
<line x1="237.50" y1="149.40" x2="237.50" y2="266.80" stroke="#2a2a2a" stroke-width="0.9"/>
<line x1="272.50" y1="149.40" x2="272.50" y2="266.80" stroke="#2a2a2a" stroke-width="0.9"/>
<line x1="213.20" y1="199.50" x2="344.00" y2="199.50" stroke="#2a2a2a" stroke-width="0.9"/>
<line x1="213.20" y1="213.50" x2="344.00" y2="213.50" stroke="#2a2a2a" stroke-width="0.9"/>
<path d="M213.20 149.40 H344.00 V266.80" fill="none" stroke="#151515" stroke-width="1.45"/>
<path d="M213.20 148.90 V266.80 H344.50" fill="none" stroke="#111" stroke-width="1.6"/>
<line x1="224.40" y1="266.80" x2="224.40" y2="269.80" stroke="#222" stroke-width="1.1"/>
<text x="224.40" y="280.90" font-size="10" text-anchor="middle" fill="#3a3a3a" textLength="7.40" lengthAdjust="spacingAndGlyphs" style="stroke:none">-1</text>
<line x1="254.90" y1="266.80" x2="254.90" y2="269.80" stroke="#222" stroke-width="1.1"/>
<text x="254.90" y="280.90" font-size="10" text-anchor="middle" fill="#3a3a3a" textLength="3.70" lengthAdjust="spacingAndGlyphs" style="stroke:none">0</text>
<line x1="285.40" y1="266.80" x2="285.40" y2="269.80" stroke="#222" stroke-width="1.1"/>
<text x="285.40" y="280.90" font-size="10" text-anchor="middle" fill="#3a3a3a" textLength="3.70" lengthAdjust="spacingAndGlyphs" style="stroke:none">1</text>
<line x1="315.90" y1="266.80" x2="315.90" y2="269.80" stroke="#222" stroke-width="1.1"/>
<text x="315.90" y="280.90" font-size="10" text-anchor="middle" fill="#3a3a3a" textLength="3.70" lengthAdjust="spacingAndGlyphs" style="stroke:none">2</text>
<line x1="209.70" y1="159.40" x2="213.20" y2="159.40" stroke="#222" stroke-width="1.1"/>
<text x="206.70" y="163.00" font-size="10" text-anchor="end" fill="#3a3a3a" textLength="3.70" lengthAdjust="spacingAndGlyphs" style="stroke:none">4</text>
<line x1="209.70" y1="182.80" x2="213.20" y2="182.80" stroke="#222" stroke-width="1.1"/>
<text x="206.70" y="186.40" font-size="10" text-anchor="end" fill="#3a3a3a" textLength="3.70" lengthAdjust="spacingAndGlyphs" style="stroke:none">2</text>
<line x1="209.70" y1="206.20" x2="213.20" y2="206.20" stroke="#222" stroke-width="1.1"/>
<text x="206.70" y="209.80" font-size="10" text-anchor="end" fill="#3a3a3a" textLength="3.70" lengthAdjust="spacingAndGlyphs" style="stroke:none">0</text>
<line x1="209.70" y1="229.60" x2="213.20" y2="229.60" stroke="#222" stroke-width="1.1"/>
<text x="206.70" y="233.20" font-size="10" text-anchor="end" fill="#3a3a3a" textLength="7.40" lengthAdjust="spacingAndGlyphs" style="stroke:none">-2</text>
<line x1="209.70" y1="253.00" x2="213.20" y2="253.00" stroke="#222" stroke-width="1.1"/>
<text x="206.70" y="256.60" font-size="10" text-anchor="end" fill="#3a3a3a" textLength="7.40" lengthAdjust="spacingAndGlyphs" style="stroke:none">-4</text>
<text x="222.60" y="293.10" font-size="10.2" fill="#2b2b2b" textLength="112.00" lengthAdjust="spacingAndGlyphs">log<tspan font-size="6.8" dy="2">2</tspan><tspan dy="-2">(C/EBPα WT LSD1i vs control)</tspan></text>

<text x="0" y="3.5" font-size="10.2" fill="#2b2b2b" text-anchor="middle" textLength="101.60" lengthAdjust="spacingAndGlyphs" transform="translate(13.80 209.40) rotate(-90)">log<tspan font-size="6.8" dy="2">2</tspan><tspan dy="-2">(PU.1 KO LSD1i vs control)</tspan></text>
<text x="0" y="3.5" font-size="10.2" fill="#2b2b2b" text-anchor="middle" textLength="112.00" lengthAdjust="spacingAndGlyphs" transform="translate(191.40 207.60) rotate(-90)">log<tspan font-size="6.8" dy="2">2</tspan><tspan dy="-2">(C/EBPα KO LSD1i vs control)</tspan></text>
<text x="359.30" y="144.82" font-size="12" fill="#111" font-weight="bold">G</text>
<text x="372.20" y="157.20" font-size="10" textLength="125.30" lengthAdjust="spacingAndGlyphs">ATAC increasing peaks LSD1i</text>
<text x="414.90" y="168.40" font-size="10" textLength="40.70" lengthAdjust="spacingAndGlyphs">vs control</text>
<rect x="399.6" y="177.4" width="8.2" height="3.0" fill="#62a045" stroke="#2a3a20" stroke-width="0.5"/>
<rect x="399.6" y="186.2" width="8.2" height="3.0" fill="#9a0c22" stroke="#3a1010" stroke-width="0.5"/>
<text x="411.40" y="181.59" font-size="8.3" textLength="58.80" lengthAdjust="spacingAndGlyphs">Maintained in KO</text>
<text x="411.40" y="190.49" font-size="8.3" textLength="56.60" lengthAdjust="spacingAndGlyphs">Decreased in KO</text>
<circle cx="404.6" cy="220.8" r="21.0" fill="#b3102e" stroke="#1a1a1a" stroke-width="1.4"/>
<path d="M404.6 220.8 L425.6 220.8 A21.0 21.0 0 0 1 405.70 241.77 Z" fill="#6aae45" stroke="#1a1a1a" stroke-width="1.3" stroke-linejoin="round"/>
<circle cx="468.6" cy="220.9" r="21.0" fill="#b3102e" stroke="#1a1a1a" stroke-width="1.4"/>
<path d="M468.6 220.9 L489.6 220.9 A21.0 21.0 0 0 1 464.23 241.44 Z" fill="#6aae45" stroke="#1a1a1a" stroke-width="1.3" stroke-linejoin="round"/>
<text x="404.50" y="252.26" font-size="8.5" text-anchor="middle" textLength="48.00" lengthAdjust="spacingAndGlyphs">PU.1 URE KO</text>
<text x="468.40" y="252.26" font-size="8.5" text-anchor="middle" textLength="41.50" lengthAdjust="spacingAndGlyphs">C/EBPα KO</text>
<text x="7.60" y="323.92" font-size="12" fill="#111" font-weight="bold">H</text>
<text x="156.60" y="333.14" font-size="9" text-anchor="middle" fill="#303030" textLength="19.00" lengthAdjust="spacingAndGlyphs" style="stroke:none">10 kb</text>
<line x1="142.80" y1="336.00" x2="170.00" y2="336.00" stroke="#222" stroke-width="1.5"/>
<text x="20.80" y="340.60" font-size="8.6" fill="#4a4a4a" textLength="24.40" lengthAdjust="spacingAndGlyphs" style="stroke:none">[0 - 10]</text>
<text x="178.70" y="339.07" font-size="8.8" fill="#303030" textLength="27.30" lengthAdjust="spacingAndGlyphs" style="stroke:none">Control</text>
<path d="M21 341.80 H177" stroke="#2c2f5c" stroke-width="0.8" fill="none" opacity="0.45" stroke-dasharray="1.5 0.8"/>
<path d=" M151.3 342.10 v-0.78 M114.1 342.10 v-0.50 M66.1 342.10 v-1.36 M27.7 342.10 v-0.99 M172.9 342.10 v-0.98 M114.0 342.10 v-1.00 M144.3 342.10 v-0.55 M163.0 342.10 v-0.96 M128.4 342.10 v-0.96 M50.6 342.10 v-0.98 M174.1 342.10 v-0.58 M65.4 342.10 v-1.11 M119.2 342.10 v-0.47 M111.6 342.10 v-0.72 M114.6 342.10 v-0.51 M104.5 342.10 v-1.15 M176.3 342.10 v-0.90 M99.3 342.10 v-0.87 M141.3 342.10 v-0.47 M98.1 342.10 v-0.84 M176.6 342.10 v-0.62 M173.7 342.10 v-0.70 M82.4 342.10 v-0.79 M71.2 342.10 v-1.11 M155.5 342.10 v-1.19 M145.7 342.10 v-0.76 M128.9 342.10 v-1.07 M84.7 342.10 v-0.91 M81.8 342.10 v-1.07 M41.5 342.10 v-0.73 M118.6 342.10 v-1.30 M33.9 342.10 v-1.06 M63.8 342.10 v-0.59 M123.4 342.10 v-0.98 M23.3 342.10 v-1.15 M151.2 342.10 v-1.18 M32.3 342.10 v-0.84 M102.8 342.10 v-0.68 M106.3 342.10 v-1.02 M56.5 342.10 v-1.13 M170.1 342.10 v-0.91 M74.2 342.10 v-0.58 M99.7 342.10 v-1.01 M156.3 342.10 v-1.16 M123.5 342.10 v-1.32" stroke="#2c2f5c" stroke-width="0.9" fill="none" opacity="0.8"/>
<path d="M63.80 342.20 L64.90 340.00 L65.60 338.80 L66.30 340.00 L67.40 342.20 Z" fill="#2c2f5c"/>
<path d="M89.10 342.20 L90.20 339.70 L90.90 338.30 L91.60 339.70 L92.70 342.20 Z" fill="#2c2f5c"/>
<text x="20.80" y="352.47" font-size="8.6" fill="#4a4a4a" textLength="24.40" lengthAdjust="spacingAndGlyphs" style="stroke:none">[0 - 10]</text>
<text x="178.70" y="351.04" font-size="8.8" fill="#303030" textLength="27.60" lengthAdjust="spacingAndGlyphs" style="stroke:none">DOT1Li</text>
<path d="M21 353.68 H177" stroke="#2c2f5c" stroke-width="0.8" fill="none" opacity="0.45" stroke-dasharray="1.5 0.8"/>
<path d=" M168.2 353.98 v-0.49 M77.1 353.98 v-0.62 M143.4 353.98 v-1.10 M113.2 353.98 v-0.58 M66.9 353.98 v-0.97 M164.9 353.98 v-1.00 M156.6 353.98 v-1.37 M77.8 353.98 v-0.86 M172.8 353.98 v-1.17 M56.0 353.98 v-0.43 M146.7 353.98 v-1.04 M127.2 353.98 v-1.38 M94.5 353.98 v-0.45 M25.8 353.98 v-1.31 M160.6 353.98 v-0.56 M110.5 353.98 v-1.08 M81.9 353.98 v-0.43 M76.3 353.98 v-0.46 M122.7 353.98 v-0.53 M75.1 353.98 v-1.30 M100.2 353.98 v-1.18 M78.9 353.98 v-1.06 M29.6 353.98 v-1.05 M60.1 353.98 v-0.69 M152.2 353.98 v-0.93 M148.6 353.98 v-0.88 M125.1 353.98 v-1.35 M94.4 353.98 v-0.85 M172.3 353.98 v-1.15 M152.1 353.98 v-0.76 M59.2 353.98 v-1.33 M109.5 353.98 v-1.25 M170.1 353.98 v-1.39 M143.6 353.98 v-0.63 M78.6 353.98 v-1.27 M94.3 353.98 v-0.88 M101.8 353.98 v-0.91 M161.7 353.98 v-0.94 M132.4 353.98 v-0.49 M83.1 353.98 v-1.28 M93.1 353.98 v-1.00 M35.4 353.98 v-0.51 M97.8 353.98 v-1.14 M56.7 353.98 v-0.51 M35.5 353.98 v-0.78" stroke="#2c2f5c" stroke-width="0.9" fill="none" opacity="0.8"/>
<path d="M63.80 354.07 L64.90 352.78 L65.60 352.18 L66.30 352.78 L67.40 354.07 Z" fill="#2c2f5c"/>
<path d="M89.10 354.07 L90.20 352.78 L90.90 352.18 L91.60 352.78 L92.70 354.07 Z" fill="#2c2f5c"/>
<text x="20.80" y="364.35" font-size="8.6" fill="#4a4a4a" textLength="24.40" lengthAdjust="spacingAndGlyphs" style="stroke:none">[0 - 10]</text>
<text x="178.70" y="363.01" font-size="8.8" fill="#303030" textLength="27.30" lengthAdjust="spacingAndGlyphs" style="stroke:none">Control</text>
<path d="M21 365.55 H177" stroke="#7f8fa8" stroke-width="0.8" fill="none" opacity="0.45" stroke-dasharray="1.5 0.8"/>
<path d=" M46.0 365.85 v-0.76 M112.4 365.85 v-0.96 M149.5 365.85 v-1.31 M67.4 365.85 v-0.75 M127.8 365.85 v-1.03 M93.4 365.85 v-1.06 M160.1 365.85 v-0.68 M109.1 365.85 v-0.95 M175.9 365.85 v-1.38 M58.8 365.85 v-1.40 M38.1 365.85 v-0.82 M74.9 365.85 v-1.22 M142.6 365.85 v-0.73 M105.2 365.85 v-1.20 M165.2 365.85 v-0.78 M176.1 365.85 v-1.18 M164.9 365.85 v-0.48 M46.3 365.85 v-0.60 M113.1 365.85 v-1.03 M134.2 365.85 v-0.62 M164.4 365.85 v-0.70 M43.8 365.85 v-1.08 M116.6 365.85 v-0.70 M29.4 365.85 v-0.72 M136.9 365.85 v-1.22 M110.4 365.85 v-0.52 M40.8 365.85 v-0.44 M38.7 365.85 v-1.23 M102.8 365.85 v-1.30 M98.1 365.85 v-1.08 M105.0 365.85 v-1.03 M173.4 365.85 v-1.29 M173.7 365.85 v-0.93 M67.1 365.85 v-0.51 M32.7 365.85 v-0.78 M66.5 365.85 v-0.84 M147.9 365.85 v-1.25 M62.2 365.85 v-1.01 M43.2 365.85 v-0.47 M115.2 365.85 v-1.06 M128.8 365.85 v-1.24 M48.1 365.85 v-0.48 M30.1 365.85 v-1.32 M46.6 365.85 v-0.46 M57.9 365.85 v-1.09" stroke="#7f8fa8" stroke-width="0.9" fill="none" opacity="0.8"/>
<path d="M89.10 365.95 L90.20 364.95 L90.90 364.55 L91.60 364.95 L92.70 365.95 Z" fill="#7f8fa8"/>
<text x="20.80" y="376.22" font-size="8.6" fill="#4a4a4a" textLength="24.40" lengthAdjust="spacingAndGlyphs" style="stroke:none">[0 - 10]</text>
<text x="178.70" y="374.98" font-size="8.8" fill="#303030" textLength="20.30" lengthAdjust="spacingAndGlyphs" style="stroke:none">LSD1i</text>
<path d="M21 377.43 H177" stroke="#5d9aa3" stroke-width="0.8" fill="none" opacity="0.45" stroke-dasharray="1.5 0.8"/>
<path d=" M69.8 377.73 v-1.38 M56.0 377.73 v-1.08 M49.4 377.73 v-1.00 M155.2 377.73 v-0.74 M154.8 377.73 v-0.55 M37.2 377.73 v-0.42 M66.1 377.73 v-1.20 M124.2 377.73 v-0.87 M130.4 377.73 v-1.39 M89.4 377.73 v-0.42 M96.1 377.73 v-1.25 M136.4 377.73 v-0.56 M89.5 377.73 v-1.39 M170.7 377.73 v-0.55 M69.3 377.73 v-0.63 M38.4 377.73 v-0.86 M60.5 377.73 v-0.92 M29.7 377.73 v-0.56 M164.9 377.73 v-1.12 M122.2 377.73 v-1.31 M51.6 377.73 v-0.48 M26.7 377.73 v-0.57 M153.1 377.73 v-1.17 M78.9 377.73 v-0.46 M53.7 377.73 v-1.08 M84.4 377.73 v-1.14 M46.4 377.73 v-1.30 M32.2 377.73 v-0.94 M24.4 377.73 v-0.77 M22.3 377.73 v-0.49 M117.4 377.73 v-0.67 M72.5 377.73 v-0.55 M61.0 377.73 v-0.91 M92.7 377.73 v-0.43 M119.4 377.73 v-1.16 M58.7 377.73 v-1.39 M41.0 377.73 v-0.55 M125.6 377.73 v-1.05 M64.7 377.73 v-1.29 M153.1 377.73 v-0.62 M100.7 377.73 v-1.31 M174.3 377.73 v-1.13 M49.3 377.73 v-1.16 M40.7 377.73 v-0.66 M45.7 377.73 v-1.10" stroke="#5d9aa3" stroke-width="0.9" fill="none" opacity="0.8"/>
<path d="M89.10 377.82 L90.20 375.03 L90.90 373.43 L91.60 375.03 L92.70 377.82 Z" fill="#5d9aa3"/>
<path d="M97.20 377.82 L98.30 376.53 L99.00 375.93 L99.70 376.53 L100.80 377.82 Z" fill="#5d9aa3"/>
<text x="20.80" y="388.10" font-size="8.6" fill="#4a4a4a" textLength="24.40" lengthAdjust="spacingAndGlyphs" style="stroke:none">[0 - 50]</text>
<text x="178.70" y="386.95" font-size="8.8" fill="#303030" textLength="27.30" lengthAdjust="spacingAndGlyphs" style="stroke:none">Control</text>
<path d="M21 389.30 H177" stroke="#8a4a1c" stroke-width="0.8" fill="none" opacity="0.45" stroke-dasharray="1.5 0.8"/>
<path d=" M151.8 389.60 v-0.75 M129.0 389.60 v-0.78 M54.7 389.60 v-1.01 M40.6 389.60 v-0.87 M79.5 389.60 v-0.52 M138.6 389.60 v-0.90 M135.7 389.60 v-1.14 M85.4 389.60 v-1.16 M121.6 389.60 v-1.38 M149.6 389.60 v-0.80 M31.3 389.60 v-1.24 M105.0 389.60 v-1.05 M138.9 389.60 v-0.47 M149.8 389.60 v-1.09 M55.2 389.60 v-1.39 M96.5 389.60 v-0.68 M78.1 389.60 v-0.80 M62.4 389.60 v-0.69 M145.5 389.60 v-1.13 M108.4 389.60 v-1.30 M108.7 389.60 v-0.66 M62.5 389.60 v-0.79 M129.9 389.60 v-1.19 M30.4 389.60 v-1.29 M172.6 389.60 v-1.38 M99.1 389.60 v-1.18 M50.7 389.60 v-1.12 M93.1 389.60 v-0.69 M132.4 389.60 v-0.67 M149.6 389.60 v-0.76 M156.6 389.60 v-1.14 M140.4 389.60 v-0.95 M80.0 389.60 v-0.84 M67.3 389.60 v-0.81 M129.9 389.60 v-1.02 M92.6 389.60 v-1.07 M105.0 389.60 v-0.96 M155.7 389.60 v-1.38 M38.4 389.60 v-1.31 M28.3 389.60 v-0.88 M60.3 389.60 v-0.72 M83.2 389.60 v-0.85 M67.2 389.60 v-0.48 M160.5 389.60 v-0.90 M92.1 389.60 v-0.53" stroke="#8a4a1c" stroke-width="0.9" fill="none" opacity="0.8"/>
<path d="M89.10 389.70 L90.20 386.90 L90.90 385.30 L91.60 386.90 L92.70 389.70 Z" fill="#8a4a1c"/>
<text x="20.80" y="399.97" font-size="8.6" fill="#4a4a4a" textLength="24.40" lengthAdjust="spacingAndGlyphs" style="stroke:none">[0 - 50]</text>
<text x="178.70" y="398.92" font-size="8.8" fill="#303030" textLength="20.30" lengthAdjust="spacingAndGlyphs" style="stroke:none">LSD1i</text>
<path d="M21 401.18 H177" stroke="#8a4a1c" stroke-width="0.8" fill="none" opacity="0.45" stroke-dasharray="1.5 0.8"/>
<path d=" M120.6 401.48 v-0.72 M175.7 401.48 v-0.56 M36.1 401.48 v-0.67 M100.0 401.48 v-1.08 M82.8 401.48 v-0.96 M53.1 401.48 v-0.94 M158.8 401.48 v-1.20 M105.3 401.48 v-0.43 M116.5 401.48 v-1.29 M65.5 401.48 v-0.89 M107.7 401.48 v-0.82 M135.5 401.48 v-1.12 M52.0 401.48 v-0.66 M62.3 401.48 v-1.32 M71.8 401.48 v-1.01 M101.2 401.48 v-1.23 M92.1 401.48 v-0.49 M98.1 401.48 v-0.54 M114.8 401.48 v-1.30 M143.7 401.48 v-0.50 M135.7 401.48 v-1.14 M115.5 401.48 v-0.41 M146.1 401.48 v-0.66 M80.3 401.48 v-0.67 M75.9 401.48 v-1.24 M55.2 401.48 v-0.71 M133.9 401.48 v-0.62 M79.8 401.48 v-0.42 M79.8 401.48 v-0.69 M120.7 401.48 v-1.27 M75.4 401.48 v-0.94 M126.7 401.48 v-0.43 M116.5 401.48 v-0.49 M100.1 401.48 v-0.66 M121.0 401.48 v-1.17 M119.8 401.48 v-0.60 M73.7 401.48 v-0.42 M123.8 401.48 v-1.39 M55.7 401.48 v-1.35 M61.6 401.48 v-1.02 M107.8 401.48 v-0.61 M47.0 401.48 v-0.99 M113.6 401.48 v-0.63 M155.1 401.48 v-1.06 M154.3 401.48 v-0.44" stroke="#8a4a1c" stroke-width="0.9" fill="none" opacity="0.8"/>
<path d="M89.10 401.57 L90.20 395.78 L90.90 392.18 L91.60 395.78 L92.70 401.57 Z" fill="#8a4a1c"/>
<text x="20.80" y="411.85" font-size="8.6" fill="#4a4a4a" textLength="24.40" lengthAdjust="spacingAndGlyphs" style="stroke:none">[0 - 60]</text>
<text x="178.70" y="410.89" font-size="8.8" fill="#303030" textLength="27.30" lengthAdjust="spacingAndGlyphs" style="stroke:none">Control</text>
<path d="M21 413.05 H177" stroke="#1f2c85" stroke-width="0.8" fill="none" opacity="0.45" stroke-dasharray="1.5 0.8"/>
<path d=" M174.3 413.35 v-0.50 M27.3 413.35 v-1.10 M40.2 413.35 v-1.21 M93.4 413.35 v-0.42 M171.5 413.35 v-0.77 M42.7 413.35 v-0.87 M71.8 413.35 v-1.06 M50.9 413.35 v-0.65 M71.2 413.35 v-1.27 M29.6 413.35 v-1.39 M120.2 413.35 v-0.52 M31.7 413.35 v-1.37 M173.1 413.35 v-0.77 M44.6 413.35 v-0.97 M67.0 413.35 v-0.80 M29.1 413.35 v-1.07 M132.2 413.35 v-0.62 M83.3 413.35 v-1.18 M101.9 413.35 v-0.77 M128.8 413.35 v-0.94 M27.8 413.35 v-1.38 M61.6 413.35 v-0.53 M86.4 413.35 v-0.90 M35.5 413.35 v-1.33 M33.9 413.35 v-1.19 M21.7 413.35 v-1.40 M129.8 413.35 v-1.10 M87.4 413.35 v-1.15 M159.2 413.35 v-0.82 M43.0 413.35 v-0.68 M82.0 413.35 v-0.99 M173.9 413.35 v-0.87 M51.5 413.35 v-0.72 M71.5 413.35 v-0.86 M176.0 413.35 v-1.18 M159.7 413.35 v-1.37 M159.0 413.35 v-0.92 M59.8 413.35 v-1.01 M161.9 413.35 v-1.38 M63.1 413.35 v-0.93 M105.1 413.35 v-0.64 M127.6 413.35 v-0.81 M139.8 413.35 v-0.56 M45.2 413.35 v-0.71 M156.2 413.35 v-0.91" stroke="#1f2c85" stroke-width="0.9" fill="none" opacity="0.8"/>
<path d="M97.20 413.45 L98.30 409.75 L99.00 407.55 L99.70 409.75 L100.80 413.45 Z" fill="#1f2c85"/>
<path d="M89.10 413.45 L90.20 412.15 L90.90 411.55 L91.60 412.15 L92.70 413.45 Z" fill="#1f2c85"/>
<text x="20.80" y="423.72" font-size="8.6" fill="#4a4a4a" textLength="24.40" lengthAdjust="spacingAndGlyphs" style="stroke:none">[0 - 60]</text>
<text x="178.70" y="422.86" font-size="8.8" fill="#303030" textLength="20.30" lengthAdjust="spacingAndGlyphs" style="stroke:none">LSD1i</text>
<path d="M21 424.93 H177" stroke="#1f2c85" stroke-width="0.8" fill="none" opacity="0.45" stroke-dasharray="1.5 0.8"/>
<path d=" M122.2 425.23 v-0.75 M95.5 425.23 v-0.65 M99.4 425.23 v-1.07 M135.6 425.23 v-0.90 M97.6 425.23 v-0.64 M32.9 425.23 v-0.88 M85.8 425.23 v-0.79 M175.4 425.23 v-0.63 M47.1 425.23 v-1.30 M148.4 425.23 v-0.59 M56.8 425.23 v-1.27 M55.5 425.23 v-0.88 M27.5 425.23 v-0.95 M37.7 425.23 v-1.38 M132.3 425.23 v-1.27 M173.5 425.23 v-1.04 M64.7 425.23 v-0.60 M70.1 425.23 v-0.80 M36.7 425.23 v-0.83 M164.6 425.23 v-0.55 M66.1 425.23 v-0.59 M165.6 425.23 v-1.34 M102.8 425.23 v-1.13 M58.7 425.23 v-0.63 M133.6 425.23 v-1.14 M159.3 425.23 v-0.66 M158.7 425.23 v-0.61 M38.0 425.23 v-0.60 M66.5 425.23 v-0.42 M110.9 425.23 v-0.93 M41.0 425.23 v-1.34 M91.4 425.23 v-1.27 M43.7 425.23 v-0.96 M29.6 425.23 v-1.33 M73.8 425.23 v-0.78 M113.7 425.23 v-0.85 M176.5 425.23 v-1.27 M88.7 425.23 v-0.90 M49.4 425.23 v-1.22 M42.4 425.23 v-0.58 M123.8 425.23 v-0.63 M49.4 425.23 v-0.91 M65.7 425.23 v-0.51 M93.3 425.23 v-1.05 M89.7 425.23 v-1.24" stroke="#1f2c85" stroke-width="0.9" fill="none" opacity="0.8"/>
<path d="M89.20 425.32 L90.30 421.93 L91.00 419.93 L91.70 421.93 L92.80 425.32 Z" fill="#1f2c85"/>
<path d="M97.20 425.32 L98.30 419.53 L99.00 415.93 L99.70 419.53 L100.80 425.32 Z" fill="#1f2c85"/>
<text x="20.80" y="435.60" font-size="8.6" fill="#4a4a4a" textLength="24.40" lengthAdjust="spacingAndGlyphs" style="stroke:none">[0 - 15]</text>
<text x="178.70" y="434.83" font-size="8.8" fill="#303030" textLength="27.30" lengthAdjust="spacingAndGlyphs" style="stroke:none">Control</text>
<path d="M21 436.80 H177" stroke="#3c3c6c" stroke-width="0.8" fill="none" opacity="0.45" stroke-dasharray="1.5 0.8"/>
<path d=" M154.5 437.10 v-0.99 M119.6 437.10 v-0.53 M39.4 437.10 v-1.34 M75.7 437.10 v-1.32 M58.5 437.10 v-0.52 M32.8 437.10 v-1.33 M95.3 437.10 v-0.83 M160.4 437.10 v-0.50 M89.8 437.10 v-1.22 M117.4 437.10 v-1.07 M104.1 437.10 v-0.69 M107.5 437.10 v-0.49 M85.0 437.10 v-0.77 M40.1 437.10 v-0.52 M176.9 437.10 v-1.09 M50.2 437.10 v-1.03 M74.9 437.10 v-0.96 M55.8 437.10 v-0.71 M131.5 437.10 v-0.71 M153.5 437.10 v-0.75 M32.1 437.10 v-0.66 M114.7 437.10 v-0.50 M37.1 437.10 v-0.83 M161.8 437.10 v-0.43 M78.7 437.10 v-0.87 M138.5 437.10 v-0.78 M120.8 437.10 v-1.22 M159.6 437.10 v-1.33 M103.9 437.10 v-1.05 M67.2 437.10 v-0.92 M148.5 437.10 v-0.48 M75.9 437.10 v-0.88 M78.2 437.10 v-0.64 M43.9 437.10 v-0.51 M56.7 437.10 v-1.01 M76.8 437.10 v-0.71 M166.6 437.10 v-1.33 M167.0 437.10 v-0.47 M76.9 437.10 v-0.97 M38.5 437.10 v-1.07 M61.2 437.10 v-1.02 M118.2 437.10 v-1.34 M31.3 437.10 v-1.39 M105.3 437.10 v-0.72 M90.4 437.10 v-0.57" stroke="#3c3c6c" stroke-width="0.9" fill="none" opacity="0.8"/>
<path d="M89.10 437.20 L90.20 436.08 L90.90 435.60 L91.60 436.08 L92.70 437.20 Z" fill="#3c3c6c"/>
<text x="20.80" y="447.47" font-size="8.6" fill="#4a4a4a" textLength="24.40" lengthAdjust="spacingAndGlyphs" style="stroke:none">[0 - 15]</text>
<text x="178.70" y="446.80" font-size="8.8" fill="#303030" textLength="20.30" lengthAdjust="spacingAndGlyphs" style="stroke:none">LSD1i</text>
<path d="M21 448.68 H177" stroke="#3c3c6c" stroke-width="0.8" fill="none" opacity="0.45" stroke-dasharray="1.5 0.8"/>
<path d=" M105.8 448.98 v-0.84 M152.3 448.98 v-1.26 M138.0 448.98 v-0.72 M72.7 448.98 v-1.32 M114.5 448.98 v-0.54 M51.3 448.98 v-0.68 M44.6 448.98 v-1.17 M99.6 448.98 v-1.24 M105.7 448.98 v-1.14 M176.9 448.98 v-0.41 M174.5 448.98 v-1.07 M102.2 448.98 v-1.18 M124.9 448.98 v-0.56 M53.4 448.98 v-1.11 M139.6 448.98 v-1.40 M145.5 448.98 v-0.42 M170.7 448.98 v-1.16 M41.9 448.98 v-1.16 M90.7 448.98 v-0.56 M121.2 448.98 v-0.42 M106.2 448.98 v-0.93 M38.1 448.98 v-0.62 M123.3 448.98 v-1.13 M140.1 448.98 v-1.19 M159.2 448.98 v-0.53 M32.0 448.98 v-0.51 M64.6 448.98 v-1.27 M161.1 448.98 v-0.93 M128.5 448.98 v-0.64 M145.1 448.98 v-1.20 M71.1 448.98 v-1.19 M50.2 448.98 v-1.35 M99.5 448.98 v-0.59 M83.2 448.98 v-1.30 M62.3 448.98 v-0.94 M99.9 448.98 v-0.42 M33.4 448.98 v-0.48 M171.7 448.98 v-0.58 M68.1 448.98 v-1.09 M24.2 448.98 v-0.96 M147.5 448.98 v-0.51 M54.9 448.98 v-0.72 M52.7 448.98 v-1.28 M114.7 448.98 v-1.24 M76.3 448.98 v-1.04" stroke="#3c3c6c" stroke-width="0.9" fill="none" opacity="0.8"/>
<path d="M89.10 449.07 L90.20 445.68 L90.90 443.68 L91.60 445.68 L92.70 449.07 Z" fill="#3c3c6c"/>
<text x="20.80" y="459.35" font-size="8.6" fill="#4a4a4a" textLength="24.40" lengthAdjust="spacingAndGlyphs" style="stroke:none">[0 - 15]</text>
<text x="178.70" y="458.77" font-size="8.8" fill="#303030" textLength="27.30" lengthAdjust="spacingAndGlyphs" style="stroke:none">Control</text>
<path d="M21 460.55 H177" stroke="#3c3c6c" stroke-width="0.8" fill="none" opacity="0.45" stroke-dasharray="1.5 0.8"/>
<path d=" M166.2 460.85 v-1.31 M100.9 460.85 v-1.03 M132.2 460.85 v-0.55 M99.3 460.85 v-0.91 M58.4 460.85 v-1.35 M157.7 460.85 v-1.09 M31.7 460.85 v-1.22 M130.6 460.85 v-1.30 M36.3 460.85 v-1.18 M90.5 460.85 v-1.35 M102.8 460.85 v-1.07 M62.3 460.85 v-1.36 M31.0 460.85 v-0.78 M120.3 460.85 v-1.12 M97.4 460.85 v-0.55 M120.9 460.85 v-1.35 M89.3 460.85 v-0.98 M132.2 460.85 v-1.36 M130.5 460.85 v-0.86 M81.0 460.85 v-0.92 M150.8 460.85 v-0.96 M152.5 460.85 v-0.78 M94.1 460.85 v-1.07 M148.9 460.85 v-0.77 M80.5 460.85 v-0.51 M118.5 460.85 v-0.66 M109.5 460.85 v-1.06 M142.8 460.85 v-0.90 M132.9 460.85 v-0.47 M169.8 460.85 v-0.53 M71.8 460.85 v-1.15 M55.2 460.85 v-0.60 M28.9 460.85 v-0.64 M150.4 460.85 v-0.83 M72.2 460.85 v-0.43 M86.5 460.85 v-0.92 M74.5 460.85 v-1.33 M107.5 460.85 v-0.53 M157.1 460.85 v-1.36 M65.7 460.85 v-0.63 M133.2 460.85 v-1.24 M169.1 460.85 v-0.78 M163.7 460.85 v-0.64 M49.5 460.85 v-0.46 M67.7 460.85 v-0.69" stroke="#3c3c6c" stroke-width="0.9" fill="none" opacity="0.8"/>
<path d="M89.10 460.95 L90.20 459.95 L90.90 459.55 L91.60 459.95 L92.70 460.95 Z" fill="#3c3c6c"/>
<text x="20.80" y="471.22" font-size="8.6" fill="#4a4a4a" textLength="24.40" lengthAdjust="spacingAndGlyphs" style="stroke:none">[0 - 15]</text>
<text x="178.70" y="470.74" font-size="8.8" fill="#303030" textLength="20.30" lengthAdjust="spacingAndGlyphs" style="stroke:none">LSD1i</text>
<path d="M21 472.43 H177" stroke="#3c3c6c" stroke-width="0.8" fill="none" opacity="0.45" stroke-dasharray="1.5 0.8"/>
<path d=" M45.0 472.73 v-0.96 M47.4 472.73 v-0.95 M99.9 472.73 v-0.63 M123.7 472.73 v-0.62 M140.7 472.73 v-1.16 M38.0 472.73 v-1.23 M145.4 472.73 v-0.79 M172.1 472.73 v-1.23 M59.5 472.73 v-0.84 M51.8 472.73 v-0.45 M73.8 472.73 v-0.65 M132.6 472.73 v-1.09 M33.3 472.73 v-1.18 M85.9 472.73 v-1.19 M83.0 472.73 v-0.63 M167.5 472.73 v-0.96 M68.6 472.73 v-0.52 M116.0 472.73 v-0.75 M136.5 472.73 v-0.43 M33.1 472.73 v-0.76 M154.4 472.73 v-1.12 M102.0 472.73 v-1.07 M156.3 472.73 v-0.58 M92.4 472.73 v-1.15 M164.0 472.73 v-0.96 M164.1 472.73 v-0.50 M60.3 472.73 v-1.06 M38.3 472.73 v-0.43 M55.8 472.73 v-0.43 M91.6 472.73 v-1.09 M159.2 472.73 v-0.96 M49.0 472.73 v-1.20 M140.3 472.73 v-1.02 M52.8 472.73 v-1.06 M33.9 472.73 v-1.04 M48.6 472.73 v-0.65 M39.4 472.73 v-0.90 M79.8 472.73 v-0.88 M95.9 472.73 v-0.49 M143.8 472.73 v-0.67 M50.7 472.73 v-0.62 M144.7 472.73 v-1.03 M78.8 472.73 v-0.44 M152.2 472.73 v-0.90 M35.3 472.73 v-0.80" stroke="#3c3c6c" stroke-width="0.9" fill="none" opacity="0.8"/>
<path d="M89.10 472.82 L90.20 471.70 L90.90 471.23 L91.60 471.70 L92.70 472.82 Z" fill="#3c3c6c"/>
<text x="20.80" y="483.10" font-size="8.6" fill="#4a4a4a" textLength="24.40" lengthAdjust="spacingAndGlyphs" style="stroke:none">[0 - 30]</text>
<text x="178.70" y="482.71" font-size="8.8" fill="#303030" textLength="27.30" lengthAdjust="spacingAndGlyphs" style="stroke:none">Control</text>
<path d="M21 484.30 H177" stroke="#8a9a55" stroke-width="0.8" fill="none" opacity="0.45" stroke-dasharray="1.5 0.8"/>
<path d=" M39.2 484.60 v-0.66 M152.7 484.60 v-1.11 M145.6 484.60 v-0.94 M23.7 484.60 v-1.11 M33.0 484.60 v-0.77 M98.4 484.60 v-0.98 M150.0 484.60 v-0.87 M61.9 484.60 v-0.80 M69.8 484.60 v-0.80 M133.7 484.60 v-1.09 M28.7 484.60 v-0.74 M149.2 484.60 v-0.89 M171.8 484.60 v-0.91 M144.9 484.60 v-0.59 M174.6 484.60 v-1.14 M100.5 484.60 v-1.12 M50.4 484.60 v-1.16 M147.5 484.60 v-0.91 M174.4 484.60 v-1.15 M140.3 484.60 v-0.98 M38.3 484.60 v-0.51 M71.8 484.60 v-0.63 M56.2 484.60 v-1.19 M139.8 484.60 v-1.01 M50.8 484.60 v-1.30 M26.5 484.60 v-0.46 M96.7 484.60 v-1.23 M97.9 484.60 v-0.88 M95.1 484.60 v-0.45 M107.5 484.60 v-0.77 M126.0 484.60 v-1.06 M109.2 484.60 v-0.73 M82.0 484.60 v-1.23 M24.3 484.60 v-0.96 M133.2 484.60 v-0.74 M61.4 484.60 v-1.39 M35.0 484.60 v-1.39 M144.3 484.60 v-0.72 M47.7 484.60 v-0.98 M157.6 484.60 v-0.59 M78.0 484.60 v-0.96 M167.7 484.60 v-0.94 M175.0 484.60 v-0.84 M173.9 484.60 v-0.70 M144.7 484.60 v-0.60" stroke="#8a9a55" stroke-width="0.9" fill="none" opacity="0.8"/>
<path d="M89.10 484.70 L90.20 483.70 L90.90 483.30 L91.60 483.70 L92.70 484.70 Z" fill="#8a9a55"/>
<text x="20.80" y="494.97" font-size="8.6" fill="#4a4a4a" textLength="24.40" lengthAdjust="spacingAndGlyphs" style="stroke:none">[0 - 30]</text>
<text x="178.70" y="494.68" font-size="8.8" fill="#303030" textLength="20.30" lengthAdjust="spacingAndGlyphs" style="stroke:none">LSD1i</text>
<path d="M21 496.18 H177" stroke="#8a9a55" stroke-width="0.8" fill="none" opacity="0.45" stroke-dasharray="1.5 0.8"/>
<path d=" M32.0 496.48 v-0.96 M44.5 496.48 v-0.99 M43.6 496.48 v-0.60 M116.2 496.48 v-0.71 M92.7 496.48 v-0.88 M176.8 496.48 v-0.44 M98.5 496.48 v-1.28 M47.6 496.48 v-0.50 M28.1 496.48 v-1.10 M131.7 496.48 v-0.78 M97.2 496.48 v-1.20 M116.8 496.48 v-0.82 M65.8 496.48 v-1.00 M44.2 496.48 v-0.97 M64.5 496.48 v-0.67 M134.1 496.48 v-1.07 M149.3 496.48 v-0.94 M145.6 496.48 v-0.54 M53.6 496.48 v-0.47 M162.8 496.48 v-0.52 M154.6 496.48 v-0.66 M49.6 496.48 v-0.87 M174.2 496.48 v-0.84 M139.4 496.48 v-0.81 M53.1 496.48 v-0.48 M35.4 496.48 v-1.40 M97.5 496.48 v-0.86 M121.7 496.48 v-0.81 M99.4 496.48 v-0.40 M174.2 496.48 v-0.96 M134.0 496.48 v-1.05 M46.0 496.48 v-0.58 M147.4 496.48 v-0.53 M119.4 496.48 v-0.82 M79.0 496.48 v-1.34 M176.9 496.48 v-1.01 M148.9 496.48 v-0.81 M174.7 496.48 v-0.91 M173.0 496.48 v-1.00 M73.3 496.48 v-0.78 M42.5 496.48 v-0.81 M69.5 496.48 v-0.63 M41.6 496.48 v-1.09 M84.3 496.48 v-0.80 M144.4 496.48 v-0.87" stroke="#8a9a55" stroke-width="0.9" fill="none" opacity="0.8"/>
<path d="M89.10 496.57 L90.20 493.18 L90.90 491.18 L91.60 493.18 L92.70 496.57 Z" fill="#8a9a55"/>
<text x="20.80" y="506.85" font-size="8.6" fill="#4a4a4a" textLength="24.40" lengthAdjust="spacingAndGlyphs" style="stroke:none">[0 - 30]</text>
<text x="178.70" y="506.65" font-size="8.8" fill="#303030" textLength="27.30" lengthAdjust="spacingAndGlyphs" style="stroke:none">Control</text>
<path d="M21 508.05 H177" stroke="#8a9a55" stroke-width="0.8" fill="none" opacity="0.45" stroke-dasharray="1.5 0.8"/>
<path d=" M134.6 508.35 v-0.51 M43.2 508.35 v-0.91 M88.6 508.35 v-0.83 M130.8 508.35 v-0.79 M115.9 508.35 v-1.11 M121.7 508.35 v-0.85 M88.8 508.35 v-0.74 M101.1 508.35 v-0.70 M160.2 508.35 v-0.62 M38.0 508.35 v-0.45 M46.0 508.35 v-0.88 M22.6 508.35 v-1.33 M108.0 508.35 v-1.17 M47.0 508.35 v-0.55 M70.5 508.35 v-0.88 M176.5 508.35 v-1.23 M150.0 508.35 v-0.43 M33.8 508.35 v-0.80 M168.5 508.35 v-0.97 M83.1 508.35 v-0.53 M98.8 508.35 v-1.23 M152.6 508.35 v-0.49 M88.6 508.35 v-0.99 M42.5 508.35 v-0.90 M55.4 508.35 v-0.66 M64.5 508.35 v-0.71 M101.4 508.35 v-0.54 M22.6 508.35 v-1.07 M34.1 508.35 v-1.14 M145.4 508.35 v-1.28 M176.1 508.35 v-0.54 M38.4 508.35 v-0.93 M133.8 508.35 v-1.31 M75.2 508.35 v-0.69 M36.9 508.35 v-0.88 M95.8 508.35 v-1.12 M24.8 508.35 v-0.87 M142.1 508.35 v-0.53 M173.5 508.35 v-1.32 M24.5 508.35 v-1.11 M21.6 508.35 v-1.34 M148.5 508.35 v-1.31 M26.2 508.35 v-0.94 M121.8 508.35 v-1.37 M83.7 508.35 v-0.60" stroke="#8a9a55" stroke-width="0.9" fill="none" opacity="0.8"/>
<path d="M89.10 508.45 L90.20 507.45 L90.90 507.05 L91.60 507.45 L92.70 508.45 Z" fill="#8a9a55"/>
<text x="20.80" y="518.72" font-size="8.6" fill="#4a4a4a" textLength="24.40" lengthAdjust="spacingAndGlyphs" style="stroke:none">[0 - 30]</text>
<text x="178.70" y="518.62" font-size="8.8" fill="#303030" textLength="20.30" lengthAdjust="spacingAndGlyphs" style="stroke:none">LSD1i</text>
<path d="M21 519.93 H177" stroke="#8a9a55" stroke-width="0.8" fill="none" opacity="0.45" stroke-dasharray="1.5 0.8"/>
<path d=" M130.6 520.23 v-0.81 M115.2 520.23 v-0.67 M105.9 520.23 v-1.04 M149.1 520.23 v-1.22 M21.1 520.23 v-1.16 M39.4 520.23 v-1.06 M118.6 520.23 v-1.26 M84.9 520.23 v-1.26 M54.9 520.23 v-1.37 M88.5 520.23 v-0.47 M44.5 520.23 v-0.50 M49.2 520.23 v-0.84 M92.5 520.23 v-1.35 M41.3 520.23 v-1.37 M88.1 520.23 v-0.95 M125.9 520.23 v-1.11 M118.8 520.23 v-1.17 M154.1 520.23 v-0.74 M158.6 520.23 v-0.43 M123.2 520.23 v-0.60 M56.0 520.23 v-0.80 M84.5 520.23 v-0.81 M160.9 520.23 v-0.91 M63.5 520.23 v-1.33 M157.9 520.23 v-0.69 M22.3 520.23 v-1.27 M21.6 520.23 v-1.17 M113.0 520.23 v-1.36 M25.3 520.23 v-0.99 M161.2 520.23 v-0.59 M60.0 520.23 v-0.53 M102.2 520.23 v-1.09 M45.7 520.23 v-1.36 M129.4 520.23 v-1.20 M74.9 520.23 v-1.10 M28.1 520.23 v-0.67 M64.1 520.23 v-0.96 M77.5 520.23 v-0.56 M82.6 520.23 v-0.69 M127.9 520.23 v-0.73 M49.2 520.23 v-0.46 M107.0 520.23 v-0.76 M40.8 520.23 v-1.06 M69.4 520.23 v-0.74 M130.2 520.23 v-0.87" stroke="#8a9a55" stroke-width="0.9" fill="none" opacity="0.8"/>
<path d="M89.10 520.33 L90.20 518.43 L90.90 517.43 L91.60 518.43 L92.70 520.33 Z" fill="#8a9a55"/>
<text x="20.80" y="530.60" font-size="8.6" fill="#4a4a4a" textLength="24.40" lengthAdjust="spacingAndGlyphs" style="stroke:none">[0 - 15]</text>
<text x="178.70" y="530.59" font-size="8.8" fill="#303030" textLength="27.30" lengthAdjust="spacingAndGlyphs" style="stroke:none">Control</text>
<path d="M21 533.20 H177" stroke="#c42a2a" stroke-width="0.8" fill="none" opacity="0.45" stroke-dasharray="1.5 0.8"/>
<path d=" M47.9 533.50 v-1.32 M157.8 533.50 v-0.83 M170.3 533.50 v-0.65 M169.3 533.50 v-1.15 M100.2 533.50 v-0.98 M114.3 533.50 v-0.66 M67.8 533.50 v-1.25 M106.3 533.50 v-0.75 M69.8 533.50 v-0.65 M99.3 533.50 v-0.42 M70.4 533.50 v-0.84 M48.8 533.50 v-1.02 M169.6 533.50 v-0.64 M167.7 533.50 v-0.44 M24.6 533.50 v-1.00 M64.1 533.50 v-0.60 M168.9 533.50 v-1.16 M120.6 533.50 v-0.74 M116.0 533.50 v-0.41 M40.9 533.50 v-0.97 M141.0 533.50 v-1.24 M124.3 533.50 v-0.47 M52.0 533.50 v-0.65 M150.1 533.50 v-1.33 M36.0 533.50 v-1.10 M21.9 533.50 v-0.82 M73.3 533.50 v-0.44 M156.5 533.50 v-1.39 M94.2 533.50 v-0.99 M70.8 533.50 v-0.51 M176.7 533.50 v-1.28 M129.0 533.50 v-1.35 M141.4 533.50 v-1.38 M100.3 533.50 v-1.17 M164.4 533.50 v-1.01 M136.4 533.50 v-1.36 M129.5 533.50 v-1.28 M93.2 533.50 v-0.42 M62.6 533.50 v-0.72 M60.0 533.50 v-1.32 M123.5 533.50 v-1.15 M101.1 533.50 v-1.08 M51.7 533.50 v-1.32 M90.2 533.50 v-0.81 M22.7 533.50 v-1.37" stroke="#c42a2a" stroke-width="0.9" fill="none" opacity="0.8"/>
<path d="M89.10 533.60 L90.20 530.20 L90.90 528.20 L91.60 530.20 L92.70 533.60 Z" fill="#c42a2a"/>
<line x1="17.90" y1="330.30" x2="17.90" y2="377.80" stroke="#4a4a4a" stroke-width="1.6"/>
<line x1="17.90" y1="379.80" x2="17.90" y2="402.20" stroke="#4a4a4a" stroke-width="1.6"/>
<line x1="17.90" y1="404.20" x2="17.90" y2="426.60" stroke="#4a4a4a" stroke-width="1.6"/>
<line x1="17.90" y1="429.20" x2="17.90" y2="472.50" stroke="#4a4a4a" stroke-width="1.6"/>
<line x1="17.90" y1="476.00" x2="17.90" y2="519.70" stroke="#4a4a4a" stroke-width="1.6"/>
<line x1="17.90" y1="523.20" x2="17.90" y2="532.70" stroke="#4a4a4a" stroke-width="1.6"/>
<text x="0" y="3.60" font-size="10" text-anchor="middle" fill="#2b2b2b" textLength="19.00" lengthAdjust="spacingAndGlyphs" transform="translate(10.80 353.70) rotate(-90)">ATAC</text>
<text x="0" y="3.60" font-size="10" text-anchor="middle" fill="#2b2b2b" textLength="45.40" lengthAdjust="spacingAndGlyphs" transform="translate(10.80 402.90) rotate(-90)">PU.1 C/EBPa</text>
<text x="0" y="3.60" font-size="10" text-anchor="middle" fill="#2b2b2b" textLength="19.90" lengthAdjust="spacingAndGlyphs" transform="translate(10.80 451.30) rotate(-90)">ATAC</text>
<text x="0" y="3.60" font-size="10" text-anchor="middle" fill="#2b2b2b" textLength="19.90" lengthAdjust="spacingAndGlyphs" transform="translate(10.80 497.70) rotate(-90)">ATAC</text>
<text x="0" y="3.60" font-size="10" text-anchor="middle" fill="#2b2b2b" textLength="17.30" lengthAdjust="spacingAndGlyphs" transform="translate(10.80 528.40) rotate(-90)">LSD1</text>
<line x1="208.40" y1="428.60" x2="208.40" y2="447.60" stroke="#222" stroke-width="1.6"/>
<line x1="208.40" y1="451.90" x2="208.40" y2="471.00" stroke="#222" stroke-width="1.6"/>
<line x1="208.40" y1="476.20" x2="208.40" y2="494.20" stroke="#222" stroke-width="1.6"/>
<line x1="208.40" y1="498.60" x2="208.40" y2="517.10" stroke="#222" stroke-width="1.6"/>
<text x="212.00" y="440.94" font-size="9" fill="#303030" textLength="31.60" lengthAdjust="spacingAndGlyphs" style="stroke:none">PU.1 WT</text>
<text x="212.00" y="464.64" font-size="9" fill="#303030" textLength="31.60" lengthAdjust="spacingAndGlyphs" style="stroke:none">PU.1 KO</text>
<text x="212.00" y="488.84" font-size="9" fill="#303030" textLength="41.40" lengthAdjust="spacingAndGlyphs" style="stroke:none">C/EBPa WT</text>
<text x="212.00" y="510.44" font-size="9" fill="#303030" textLength="41.40" lengthAdjust="spacingAndGlyphs" style="stroke:none">C/EBPa KO</text>
<path d="M55 537.9 H172.6" stroke="#7a7fb0" stroke-width="0.7"/>
<rect x="54.3" y="535.8" width="1.3" height="4.2" fill="#2a2f70"/>
<rect x="139.8" y="536.0" width="1.0" height="3.8" fill="#3a3f80" opacity="0.8"/>
<rect x="142.8" y="536.0" width="1.0" height="3.8" fill="#3a3f80" opacity="0.8"/>
<rect x="148.1" y="536.0" width="1.0" height="3.8" fill="#3a3f80" opacity="0.8"/>
<rect x="154.1" y="536.0" width="1.0" height="3.8" fill="#3a3f80" opacity="0.8"/>
<rect x="159.3" y="536.0" width="1.0" height="3.8" fill="#3a3f80" opacity="0.8"/>
<rect x="166.5" y="536.6" width="5.5" height="2.6" fill="#1a1f70" opacity="0.9"/>
<path d="M60.0 536.9 l1.2 1 l-1.2 1M67.0 536.9 l1.2 1 l-1.2 1M74.0 536.9 l1.2 1 l-1.2 1M81.0 536.9 l1.2 1 l-1.2 1M88.0 536.9 l1.2 1 l-1.2 1M95.0 536.9 l1.2 1 l-1.2 1M102.0 536.9 l1.2 1 l-1.2 1M109.0 536.9 l1.2 1 l-1.2 1M116.0 536.9 l1.2 1 l-1.2 1M123.0 536.9 l1.2 1 l-1.2 1M130.0 536.9 l1.2 1 l-1.2 1M137.0 536.9 l1.2 1 l-1.2 1M144.0 536.9 l1.2 1 l-1.2 1M151.0 536.9 l1.2 1 l-1.2 1M158.0 536.9 l1.2 1 l-1.2 1" stroke="#7a7fb0" stroke-width="0.5" fill="none"/>
<text x="112.70" y="549.64" font-size="9" text-anchor="middle" fill="#303030" textLength="19.00" lengthAdjust="spacingAndGlyphs" style="stroke:none">Cd38</text>
<text x="268.80" y="323.82" font-size="12" fill="#111" font-weight="bold">I</text>
<text x="312.80" y="333.70" font-size="9.6" textLength="141.40" lengthAdjust="spacingAndGlyphs">H3K27ac in normal development</text>
<rect x="284.20" y="339.00" width="22.31" height="2.00" fill="#b9343b"/>
<rect x="306.21" y="339.00" width="22.31" height="2.00" fill="#8dbbde"/>
<rect x="328.22" y="339.00" width="22.31" height="2.00" fill="#c5d6e3"/>
<rect x="350.23" y="339.00" width="22.31" height="2.00" fill="#d0dbe3"/>
<rect x="372.24" y="339.00" width="22.31" height="2.00" fill="#adcde4"/>
<rect x="394.26" y="339.00" width="22.31" height="2.00" fill="#93bedf"/>
<rect x="416.27" y="339.00" width="22.31" height="2.00" fill="#adcde4"/>
<rect x="438.28" y="339.00" width="22.31" height="2.00" fill="#5594cc"/>
<rect x="460.29" y="339.00" width="22.31" height="2.00" fill="#7db1da"/>
<rect x="284.20" y="340.70" width="22.31" height="2.00" fill="#b9343b"/>
<rect x="306.21" y="340.70" width="22.31" height="2.00" fill="#e9d0c7"/>
<rect x="328.22" y="340.70" width="22.31" height="2.00" fill="#eccdc1"/>
<rect x="350.23" y="340.70" width="22.31" height="2.00" fill="#accde4"/>
<rect x="372.24" y="340.70" width="22.31" height="2.00" fill="#c0d4e3"/>
<rect x="394.26" y="340.70" width="22.31" height="2.00" fill="#9ec5e1"/>
<rect x="416.27" y="340.70" width="22.31" height="2.00" fill="#66a1d3"/>
<rect x="438.28" y="340.70" width="22.31" height="2.00" fill="#7fb2db"/>
<rect x="460.29" y="340.70" width="22.31" height="2.00" fill="#6ba6d6"/>
<rect x="284.20" y="342.41" width="22.31" height="2.00" fill="#da675d"/>
<rect x="306.21" y="342.41" width="22.31" height="2.00" fill="#f2c5b3"/>
<rect x="328.22" y="342.41" width="22.31" height="2.00" fill="#e0dddd"/>
<rect x="350.23" y="342.41" width="22.31" height="2.00" fill="#a7cae3"/>
<rect x="372.24" y="342.41" width="22.31" height="2.00" fill="#bbd2e3"/>
<rect x="394.26" y="342.41" width="22.31" height="2.00" fill="#9cc4e1"/>
<rect x="416.27" y="342.41" width="22.31" height="2.00" fill="#64a0d3"/>
<rect x="438.28" y="342.41" width="22.31" height="2.00" fill="#5594cc"/>
<rect x="460.29" y="342.41" width="22.31" height="2.00" fill="#8ab9dd"/>
<rect x="284.20" y="344.11" width="22.31" height="2.00" fill="#bf393e"/>
<rect x="306.21" y="344.11" width="22.31" height="2.00" fill="#f1c1ae"/>
<rect x="328.22" y="344.11" width="22.31" height="2.00" fill="#d6dde2"/>
<rect x="350.23" y="344.11" width="22.31" height="2.00" fill="#d7dde2"/>
<rect x="372.24" y="344.11" width="22.31" height="2.00" fill="#b2cfe4"/>
<rect x="394.26" y="344.11" width="22.31" height="2.00" fill="#b3cfe4"/>
<rect x="416.27" y="344.11" width="22.31" height="2.00" fill="#a2c7e2"/>
<rect x="438.28" y="344.11" width="22.31" height="2.00" fill="#84b5dc"/>
<rect x="460.29" y="344.11" width="22.31" height="2.00" fill="#96c0e0"/>
<rect x="284.20" y="345.82" width="22.31" height="2.00" fill="#cd4646"/>
<rect x="306.21" y="345.82" width="22.31" height="2.00" fill="#e6d5cf"/>
<rect x="328.22" y="345.82" width="22.31" height="2.00" fill="#f2c4b2"/>
<rect x="350.23" y="345.82" width="22.31" height="2.00" fill="#d0dbe3"/>
<rect x="372.24" y="345.82" width="22.31" height="2.00" fill="#e0dddd"/>
<rect x="394.26" y="345.82" width="22.31" height="2.00" fill="#71aad8"/>
<rect x="416.27" y="345.82" width="22.31" height="2.00" fill="#bbd2e3"/>
<rect x="438.28" y="345.82" width="22.31" height="2.00" fill="#73abd8"/>
<rect x="460.29" y="345.82" width="22.31" height="2.00" fill="#84b5dc"/>
<rect x="284.20" y="347.52" width="22.31" height="2.00" fill="#dd7063"/>
<rect x="306.21" y="347.52" width="22.31" height="2.00" fill="#ead0c6"/>
<rect x="328.22" y="347.52" width="22.31" height="2.00" fill="#85b6dc"/>
<rect x="350.23" y="347.52" width="22.31" height="2.00" fill="#c4d6e3"/>
<rect x="372.24" y="347.52" width="22.31" height="2.00" fill="#cdd9e3"/>
<rect x="394.26" y="347.52" width="22.31" height="2.00" fill="#9cc4e1"/>
<rect x="416.27" y="347.52" width="22.31" height="2.00" fill="#6fa9d7"/>
<rect x="438.28" y="347.52" width="22.31" height="2.00" fill="#6ea8d7"/>
<rect x="460.29" y="347.52" width="22.31" height="2.00" fill="#6aa5d5"/>
<rect x="284.20" y="349.23" width="22.31" height="2.00" fill="#dd7063"/>
<rect x="306.21" y="349.23" width="22.31" height="2.00" fill="#e9d1c8"/>
<rect x="328.22" y="349.23" width="22.31" height="2.00" fill="#cbd9e3"/>
<rect x="350.23" y="349.23" width="22.31" height="2.00" fill="#8cbadd"/>
<rect x="372.24" y="349.23" width="22.31" height="2.00" fill="#e0dddd"/>
<rect x="394.26" y="349.23" width="22.31" height="2.00" fill="#70a9d7"/>
<rect x="416.27" y="349.23" width="22.31" height="2.00" fill="#74acd8"/>
<rect x="438.28" y="349.23" width="22.31" height="2.00" fill="#4b8cc8"/>
<rect x="460.29" y="349.23" width="22.31" height="2.00" fill="#5191cb"/>
<rect x="284.20" y="350.93" width="22.31" height="2.00" fill="#bb353c"/>
<rect x="306.21" y="350.93" width="22.31" height="2.00" fill="#ea9781"/>
<rect x="328.22" y="350.93" width="22.31" height="2.00" fill="#bed4e3"/>
<rect x="350.23" y="350.93" width="22.31" height="2.00" fill="#abcde4"/>
<rect x="372.24" y="350.93" width="22.31" height="2.00" fill="#c4d6e3"/>
<rect x="394.26" y="350.93" width="22.31" height="2.00" fill="#b0cee4"/>
<rect x="416.27" y="350.93" width="22.31" height="2.00" fill="#c5d7e3"/>
<rect x="438.28" y="350.93" width="22.31" height="2.00" fill="#6fa9d7"/>
<rect x="460.29" y="350.93" width="22.31" height="2.00" fill="#6aa5d5"/>
<rect x="284.20" y="352.64" width="22.31" height="2.00" fill="#b9343b"/>
<rect x="306.21" y="352.64" width="22.31" height="2.00" fill="#eec9bb"/>
<rect x="328.22" y="352.64" width="22.31" height="2.00" fill="#cbd9e3"/>
<rect x="350.23" y="352.64" width="22.31" height="2.00" fill="#b4d0e4"/>
<rect x="372.24" y="352.64" width="22.31" height="2.00" fill="#b8d1e3"/>
<rect x="394.26" y="352.64" width="22.31" height="2.00" fill="#98c1e0"/>
<rect x="416.27" y="352.64" width="22.31" height="2.00" fill="#68a3d4"/>
<rect x="438.28" y="352.64" width="22.31" height="2.00" fill="#8dbade"/>
<rect x="460.29" y="352.64" width="22.31" height="2.00" fill="#92bedf"/>
<rect x="284.20" y="354.34" width="22.31" height="2.00" fill="#e37f6d"/>
<rect x="306.21" y="354.34" width="22.31" height="2.00" fill="#aecde4"/>
<rect x="328.22" y="354.34" width="22.31" height="2.00" fill="#b4d0e4"/>
<rect x="350.23" y="354.34" width="22.31" height="2.00" fill="#adcde4"/>
<rect x="372.24" y="354.34" width="22.31" height="2.00" fill="#e0dddd"/>
<rect x="394.26" y="354.34" width="22.31" height="2.00" fill="#89b8dd"/>
<rect x="416.27" y="354.34" width="22.31" height="2.00" fill="#a3c8e3"/>
<rect x="438.28" y="354.34" width="22.31" height="2.00" fill="#4e8ec9"/>
<rect x="460.29" y="354.34" width="22.31" height="2.00" fill="#66a2d4"/>
<rect x="284.20" y="356.05" width="22.31" height="2.00" fill="#cc4545"/>
<rect x="306.21" y="356.05" width="22.31" height="2.00" fill="#cbd9e3"/>
<rect x="328.22" y="356.05" width="22.31" height="2.00" fill="#afcee4"/>
<rect x="350.23" y="356.05" width="22.31" height="2.00" fill="#bed4e3"/>
<rect x="372.24" y="356.05" width="22.31" height="2.00" fill="#d0dbe3"/>
<rect x="394.26" y="356.05" width="22.31" height="2.00" fill="#accde4"/>
<rect x="416.27" y="356.05" width="22.31" height="2.00" fill="#5b99cf"/>
<rect x="438.28" y="356.05" width="22.31" height="2.00" fill="#8dbade"/>
<rect x="460.29" y="356.05" width="22.31" height="2.00" fill="#9bc3e1"/>
<rect x="284.20" y="357.75" width="22.31" height="2.00" fill="#b9343b"/>
<rect x="306.21" y="357.75" width="22.31" height="2.00" fill="#e3d9d5"/>
<rect x="328.22" y="357.75" width="22.31" height="2.00" fill="#b8d2e3"/>
<rect x="350.23" y="357.75" width="22.31" height="2.00" fill="#bdd3e3"/>
<rect x="372.24" y="357.75" width="22.31" height="2.00" fill="#cdd9e3"/>
<rect x="394.26" y="357.75" width="22.31" height="2.00" fill="#accde4"/>
<rect x="416.27" y="357.75" width="22.31" height="2.00" fill="#5695cd"/>
<rect x="438.28" y="357.75" width="22.31" height="2.00" fill="#619ed2"/>
<rect x="460.29" y="357.75" width="22.31" height="2.00" fill="#6ea8d7"/>
<rect x="284.20" y="359.45" width="22.31" height="2.00" fill="#d76158"/>
<rect x="306.21" y="359.45" width="22.31" height="2.00" fill="#cbd9e3"/>
<rect x="328.22" y="359.45" width="22.31" height="2.00" fill="#efc9ba"/>
<rect x="350.23" y="359.45" width="22.31" height="2.00" fill="#bcd3e3"/>
<rect x="372.24" y="359.45" width="22.31" height="2.00" fill="#b1cfe4"/>
<rect x="394.26" y="359.45" width="22.31" height="2.00" fill="#bed4e3"/>
<rect x="416.27" y="359.45" width="22.31" height="2.00" fill="#7bb0da"/>
<rect x="438.28" y="359.45" width="22.31" height="2.00" fill="#5896ce"/>
<rect x="460.29" y="359.45" width="22.31" height="2.00" fill="#5d9ad0"/>
<rect x="284.20" y="361.16" width="22.31" height="2.00" fill="#d2544f"/>
<rect x="306.21" y="361.16" width="22.31" height="2.00" fill="#ebcec4"/>
<rect x="328.22" y="361.16" width="22.31" height="2.00" fill="#ccd9e3"/>
<rect x="350.23" y="361.16" width="22.31" height="2.00" fill="#b5d0e4"/>
<rect x="372.24" y="361.16" width="22.31" height="2.00" fill="#bdd3e3"/>
<rect x="394.26" y="361.16" width="22.31" height="2.00" fill="#a2c7e2"/>
<rect x="416.27" y="361.16" width="22.31" height="2.00" fill="#70a9d7"/>
<rect x="438.28" y="361.16" width="22.31" height="2.00" fill="#6ca7d6"/>
<rect x="460.29" y="361.16" width="22.31" height="2.00" fill="#5897ce"/>
<rect x="284.20" y="362.86" width="22.31" height="2.00" fill="#b9343b"/>
<rect x="306.21" y="362.86" width="22.31" height="2.00" fill="#edcbbf"/>
<rect x="328.22" y="362.86" width="22.31" height="2.00" fill="#c6d7e3"/>
<rect x="350.23" y="362.86" width="22.31" height="2.00" fill="#b4d0e4"/>
<rect x="372.24" y="362.86" width="22.31" height="2.00" fill="#bbd3e3"/>
<rect x="394.26" y="362.86" width="22.31" height="2.00" fill="#87b7dc"/>
<rect x="416.27" y="362.86" width="22.31" height="2.00" fill="#8cbade"/>
<rect x="438.28" y="362.86" width="22.31" height="2.00" fill="#7fb2db"/>
<rect x="460.29" y="362.86" width="22.31" height="2.00" fill="#4f8fca"/>
<rect x="284.20" y="364.57" width="22.31" height="2.00" fill="#ce4a49"/>
<rect x="306.21" y="364.57" width="22.31" height="2.00" fill="#edcbbd"/>
<rect x="328.22" y="364.57" width="22.31" height="2.00" fill="#a8cbe4"/>
<rect x="350.23" y="364.57" width="22.31" height="2.00" fill="#8cbadd"/>
<rect x="372.24" y="364.57" width="22.31" height="2.00" fill="#dfdedf"/>
<rect x="394.26" y="364.57" width="22.31" height="2.00" fill="#86b6dc"/>
<rect x="416.27" y="364.57" width="22.31" height="2.00" fill="#b8d2e3"/>
<rect x="438.28" y="364.57" width="22.31" height="2.00" fill="#7aafda"/>
<rect x="460.29" y="364.57" width="22.31" height="2.00" fill="#6da7d6"/>
<rect x="284.20" y="366.27" width="22.31" height="2.00" fill="#c94344"/>
<rect x="306.21" y="366.27" width="22.31" height="2.00" fill="#e3d9d6"/>
<rect x="328.22" y="366.27" width="22.31" height="2.00" fill="#c8d7e3"/>
<rect x="350.23" y="366.27" width="22.31" height="2.00" fill="#a4c9e3"/>
<rect x="372.24" y="366.27" width="22.31" height="2.00" fill="#a8cbe4"/>
<rect x="394.26" y="366.27" width="22.31" height="2.00" fill="#85b6dc"/>
<rect x="416.27" y="366.27" width="22.31" height="2.00" fill="#8fbcde"/>
<rect x="438.28" y="366.27" width="22.31" height="2.00" fill="#5695cd"/>
<rect x="460.29" y="366.27" width="22.31" height="2.00" fill="#5897ce"/>
<rect x="284.20" y="367.98" width="22.31" height="2.00" fill="#d35751"/>
<rect x="306.21" y="367.98" width="22.31" height="2.00" fill="#eeb09d"/>
<rect x="328.22" y="367.98" width="22.31" height="2.00" fill="#ead0c6"/>
<rect x="350.23" y="367.98" width="22.31" height="2.00" fill="#bed4e3"/>
<rect x="372.24" y="367.98" width="22.31" height="2.00" fill="#bcd3e3"/>
<rect x="394.26" y="367.98" width="22.31" height="2.00" fill="#adcde4"/>
<rect x="416.27" y="367.98" width="22.31" height="2.00" fill="#5f9cd1"/>
<rect x="438.28" y="367.98" width="22.31" height="2.00" fill="#76add9"/>
<rect x="460.29" y="367.98" width="22.31" height="2.00" fill="#6da7d6"/>
<rect x="284.20" y="369.68" width="22.31" height="2.00" fill="#b9343b"/>
<rect x="306.21" y="369.68" width="22.31" height="2.00" fill="#ecccc0"/>
<rect x="328.22" y="369.68" width="22.31" height="2.00" fill="#c0d5e3"/>
<rect x="350.23" y="369.68" width="22.31" height="2.00" fill="#b5d0e4"/>
<rect x="372.24" y="369.68" width="22.31" height="2.00" fill="#b8d1e3"/>
<rect x="394.26" y="369.68" width="22.31" height="2.00" fill="#9ec5e1"/>
<rect x="416.27" y="369.68" width="22.31" height="2.00" fill="#7aafda"/>
<rect x="438.28" y="369.68" width="22.31" height="2.00" fill="#77add9"/>
<rect x="460.29" y="369.68" width="22.31" height="2.00" fill="#83b5dc"/>
<rect x="284.20" y="371.39" width="22.31" height="2.00" fill="#d8635a"/>
<rect x="306.21" y="371.39" width="22.31" height="2.00" fill="#f0b9a6"/>
<rect x="328.22" y="371.39" width="22.31" height="2.00" fill="#6ea8d7"/>
<rect x="350.23" y="371.39" width="22.31" height="2.00" fill="#8cbade"/>
<rect x="372.24" y="371.39" width="22.31" height="2.00" fill="#dcdfe2"/>
<rect x="394.26" y="371.39" width="22.31" height="2.00" fill="#a8cbe4"/>
<rect x="416.27" y="371.39" width="22.31" height="2.00" fill="#b9d2e3"/>
<rect x="438.28" y="371.39" width="22.31" height="2.00" fill="#63a0d2"/>
<rect x="460.29" y="371.39" width="22.31" height="2.00" fill="#69a4d5"/>
<rect x="284.20" y="373.09" width="22.31" height="2.00" fill="#b9343b"/>
<rect x="306.21" y="373.09" width="22.31" height="2.00" fill="#dbdfe2"/>
<rect x="328.22" y="373.09" width="22.31" height="2.00" fill="#dfdfe0"/>
<rect x="350.23" y="373.09" width="22.31" height="2.00" fill="#a0c6e2"/>
<rect x="372.24" y="373.09" width="22.31" height="2.00" fill="#bfd4e3"/>
<rect x="394.26" y="373.09" width="22.31" height="2.00" fill="#aacce4"/>
<rect x="416.27" y="373.09" width="22.31" height="2.00" fill="#96c0e0"/>
<rect x="438.28" y="373.09" width="22.31" height="2.00" fill="#5997ce"/>
<rect x="460.29" y="373.09" width="22.31" height="2.00" fill="#8ebbde"/>
<rect x="284.20" y="374.80" width="22.31" height="2.00" fill="#dc6d61"/>
<rect x="306.21" y="374.80" width="22.31" height="2.00" fill="#e9d0c7"/>
<rect x="328.22" y="374.80" width="22.31" height="2.00" fill="#e2dbd9"/>
<rect x="350.23" y="374.80" width="22.31" height="2.00" fill="#a3c8e3"/>
<rect x="372.24" y="374.80" width="22.31" height="2.00" fill="#accde4"/>
<rect x="394.26" y="374.80" width="22.31" height="2.00" fill="#76add9"/>
<rect x="416.27" y="374.80" width="22.31" height="2.00" fill="#8cbadd"/>
<rect x="438.28" y="374.80" width="22.31" height="2.00" fill="#93bedf"/>
<rect x="460.29" y="374.80" width="22.31" height="2.00" fill="#67a2d4"/>
<rect x="284.20" y="376.50" width="22.31" height="1.99" fill="#76add9"/>
<rect x="306.21" y="376.50" width="22.31" height="1.99" fill="#f0bba9"/>
<rect x="328.22" y="376.50" width="22.31" height="1.99" fill="#e58471"/>
<rect x="350.23" y="376.50" width="22.31" height="1.99" fill="#e6d5cf"/>
<rect x="372.24" y="376.50" width="22.31" height="1.99" fill="#e9d0c7"/>
<rect x="394.26" y="376.50" width="22.31" height="1.99" fill="#bbd3e3"/>
<rect x="416.27" y="376.50" width="22.31" height="1.99" fill="#5393cc"/>
<rect x="438.28" y="376.50" width="22.31" height="1.99" fill="#4381bf"/>
<rect x="460.29" y="376.50" width="22.31" height="1.99" fill="#5392cb"/>
<rect x="284.20" y="378.19" width="22.31" height="1.99" fill="#a3c8e2"/>
<rect x="306.21" y="378.19" width="22.31" height="1.99" fill="#efb4a1"/>
<rect x="328.22" y="378.19" width="22.31" height="1.99" fill="#d76058"/>
<rect x="350.23" y="378.19" width="22.31" height="1.99" fill="#e3d9d6"/>
<rect x="372.24" y="378.19" width="22.31" height="1.99" fill="#d3dce2"/>
<rect x="394.26" y="378.19" width="22.31" height="1.99" fill="#cad8e3"/>
<rect x="416.27" y="378.19" width="22.31" height="1.99" fill="#8ab9dd"/>
<rect x="438.28" y="378.19" width="22.31" height="1.99" fill="#5191ca"/>
<rect x="460.29" y="378.19" width="22.31" height="1.99" fill="#609dd1"/>
<rect x="284.20" y="379.88" width="22.31" height="1.99" fill="#d7dde2"/>
<rect x="306.21" y="379.88" width="22.31" height="1.99" fill="#eca48f"/>
<rect x="328.22" y="379.88" width="22.31" height="1.99" fill="#df7566"/>
<rect x="350.23" y="379.88" width="22.31" height="1.99" fill="#d0dbe3"/>
<rect x="372.24" y="379.88" width="22.31" height="1.99" fill="#e1dcdc"/>
<rect x="394.26" y="379.88" width="22.31" height="1.99" fill="#bfd4e3"/>
<rect x="416.27" y="379.88" width="22.31" height="1.99" fill="#6aa5d5"/>
<rect x="438.28" y="379.88" width="22.31" height="1.99" fill="#6da7d7"/>
<rect x="460.29" y="379.88" width="22.31" height="1.99" fill="#629ed2"/>
<rect x="284.20" y="381.57" width="22.31" height="1.99" fill="#99c2e0"/>
<rect x="306.21" y="381.57" width="22.31" height="1.99" fill="#e9937e"/>
<rect x="328.22" y="381.57" width="22.31" height="1.99" fill="#ca4344"/>
<rect x="350.23" y="381.57" width="22.31" height="1.99" fill="#a9cce4"/>
<rect x="372.24" y="381.57" width="22.31" height="1.99" fill="#e5d6d0"/>
<rect x="394.26" y="381.57" width="22.31" height="1.99" fill="#afcee4"/>
<rect x="416.27" y="381.57" width="22.31" height="1.99" fill="#83b5dc"/>
<rect x="438.28" y="381.57" width="22.31" height="1.99" fill="#76add9"/>
<rect x="460.29" y="381.57" width="22.31" height="1.99" fill="#4f8fca"/>
<rect x="284.20" y="383.26" width="22.31" height="1.99" fill="#b9d2e3"/>
<rect x="306.21" y="383.26" width="22.31" height="1.99" fill="#f0b7a4"/>
<rect x="328.22" y="383.26" width="22.31" height="1.99" fill="#be383e"/>
<rect x="350.23" y="383.26" width="22.31" height="1.99" fill="#bed4e3"/>
<rect x="372.24" y="383.26" width="22.31" height="1.99" fill="#e6d5cf"/>
<rect x="394.26" y="383.26" width="22.31" height="1.99" fill="#d4dce2"/>
<rect x="416.27" y="383.26" width="22.31" height="1.99" fill="#79afd9"/>
<rect x="438.28" y="383.26" width="22.31" height="1.99" fill="#6da7d6"/>
<rect x="460.29" y="383.26" width="22.31" height="1.99" fill="#3871b1"/>
<rect x="284.20" y="384.96" width="22.31" height="1.99" fill="#8ab9dd"/>
<rect x="306.21" y="384.96" width="22.31" height="1.99" fill="#f0c6b6"/>
<rect x="328.22" y="384.96" width="22.31" height="1.99" fill="#d35751"/>
<rect x="350.23" y="384.96" width="22.31" height="1.99" fill="#cddae3"/>
<rect x="372.24" y="384.96" width="22.31" height="1.99" fill="#eacfc5"/>
<rect x="394.26" y="384.96" width="22.31" height="1.99" fill="#91bdde"/>
<rect x="416.27" y="384.96" width="22.31" height="1.99" fill="#aecee4"/>
<rect x="438.28" y="384.96" width="22.31" height="1.99" fill="#8dbbde"/>
<rect x="460.29" y="384.96" width="22.31" height="1.99" fill="#5c9acf"/>
<rect x="284.20" y="386.65" width="22.31" height="1.99" fill="#bcd3e3"/>
<rect x="306.21" y="386.65" width="22.31" height="1.99" fill="#e17969"/>
<rect x="328.22" y="386.65" width="22.31" height="1.99" fill="#d45752"/>
<rect x="350.23" y="386.65" width="22.31" height="1.99" fill="#dadfe2"/>
<rect x="372.24" y="386.65" width="22.31" height="1.99" fill="#eec9bb"/>
<rect x="394.26" y="386.65" width="22.31" height="1.99" fill="#cdd9e3"/>
<rect x="416.27" y="386.65" width="22.31" height="1.99" fill="#82b4db"/>
<rect x="438.28" y="386.65" width="22.31" height="1.99" fill="#5f9cd1"/>
<rect x="460.29" y="386.65" width="22.31" height="1.99" fill="#72abd8"/>
<rect x="284.20" y="388.34" width="22.31" height="1.99" fill="#a9cbe4"/>
<rect x="306.21" y="388.34" width="22.31" height="1.99" fill="#e98f7a"/>
<rect x="328.22" y="388.34" width="22.31" height="1.99" fill="#d1514e"/>
<rect x="350.23" y="388.34" width="22.31" height="1.99" fill="#ccd9e3"/>
<rect x="372.24" y="388.34" width="22.31" height="1.99" fill="#dbdfe2"/>
<rect x="394.26" y="388.34" width="22.31" height="1.99" fill="#dadfe2"/>
<rect x="416.27" y="388.34" width="22.31" height="1.99" fill="#6fa9d7"/>
<rect x="438.28" y="388.34" width="22.31" height="1.99" fill="#4c8dc9"/>
<rect x="460.29" y="388.34" width="22.31" height="1.99" fill="#72abd8"/>
<rect x="284.20" y="390.03" width="22.31" height="1.99" fill="#9cc4e1"/>
<rect x="306.21" y="390.03" width="22.31" height="1.99" fill="#eb9d88"/>
<rect x="328.22" y="390.03" width="22.31" height="1.99" fill="#d1504d"/>
<rect x="350.23" y="390.03" width="22.31" height="1.99" fill="#d6dde2"/>
<rect x="372.24" y="390.03" width="22.31" height="1.99" fill="#e4d7d3"/>
<rect x="394.26" y="390.03" width="22.31" height="1.99" fill="#b7d1e3"/>
<rect x="416.27" y="390.03" width="22.31" height="1.99" fill="#76add9"/>
<rect x="438.28" y="390.03" width="22.31" height="1.99" fill="#5292cb"/>
<rect x="460.29" y="390.03" width="22.31" height="1.99" fill="#6ba6d6"/>
<rect x="284.20" y="391.72" width="22.31" height="1.99" fill="#b6d1e4"/>
<rect x="306.21" y="391.72" width="22.31" height="1.99" fill="#ebcec3"/>
<rect x="328.22" y="391.72" width="22.31" height="1.99" fill="#d55a54"/>
<rect x="350.23" y="391.72" width="22.31" height="1.99" fill="#dbdfe2"/>
<rect x="372.24" y="391.72" width="22.31" height="1.99" fill="#ebcec3"/>
<rect x="394.26" y="391.72" width="22.31" height="1.99" fill="#d8dee2"/>
<rect x="416.27" y="391.72" width="22.31" height="1.99" fill="#94bfdf"/>
<rect x="438.28" y="391.72" width="22.31" height="1.99" fill="#6ca6d6"/>
<rect x="460.29" y="391.72" width="22.31" height="1.99" fill="#69a4d5"/>
<rect x="284.20" y="393.41" width="22.31" height="1.99" fill="#b3cfe4"/>
<rect x="306.21" y="393.41" width="22.31" height="1.99" fill="#eeaf9b"/>
<rect x="328.22" y="393.41" width="22.31" height="1.99" fill="#c33d40"/>
<rect x="350.23" y="393.41" width="22.31" height="1.99" fill="#a3c8e3"/>
<rect x="372.24" y="393.41" width="22.31" height="1.99" fill="#e3d9d6"/>
<rect x="394.26" y="393.41" width="22.31" height="1.99" fill="#d7dde2"/>
<rect x="416.27" y="393.41" width="22.31" height="1.99" fill="#6ca6d6"/>
<rect x="438.28" y="393.41" width="22.31" height="1.99" fill="#4a8ac6"/>
<rect x="460.29" y="393.41" width="22.31" height="1.99" fill="#5e9bd0"/>
<rect x="284.20" y="395.10" width="22.31" height="1.99" fill="#a7cae3"/>
<rect x="306.21" y="395.10" width="22.31" height="1.99" fill="#e9947e"/>
<rect x="328.22" y="395.10" width="22.31" height="1.99" fill="#e88b75"/>
<rect x="350.23" y="395.10" width="22.31" height="1.99" fill="#cddae3"/>
<rect x="372.24" y="395.10" width="22.31" height="1.99" fill="#efc8b9"/>
<rect x="394.26" y="395.10" width="22.31" height="1.99" fill="#b9d2e3"/>
<rect x="416.27" y="395.10" width="22.31" height="1.99" fill="#68a3d4"/>
<rect x="438.28" y="395.10" width="22.31" height="1.99" fill="#79afd9"/>
<rect x="460.29" y="395.10" width="22.31" height="1.99" fill="#69a4d5"/>
<rect x="284.20" y="396.79" width="22.31" height="1.99" fill="#a7cae3"/>
<rect x="306.21" y="396.79" width="22.31" height="1.99" fill="#eeac98"/>
<rect x="328.22" y="396.79" width="22.31" height="1.99" fill="#d65d55"/>
<rect x="350.23" y="396.79" width="22.31" height="1.99" fill="#e3d9d7"/>
<rect x="372.24" y="396.79" width="22.31" height="1.99" fill="#eec9bb"/>
<rect x="394.26" y="396.79" width="22.31" height="1.99" fill="#b5d0e4"/>
<rect x="416.27" y="396.79" width="22.31" height="1.99" fill="#8ebbde"/>
<rect x="438.28" y="396.79" width="22.31" height="1.99" fill="#619ed2"/>
<rect x="460.29" y="396.79" width="22.31" height="1.99" fill="#629fd2"/>
<rect x="284.20" y="398.49" width="22.31" height="1.99" fill="#aecde4"/>
<rect x="306.21" y="398.49" width="22.31" height="1.99" fill="#efb5a2"/>
<rect x="328.22" y="398.49" width="22.31" height="1.99" fill="#d04e4b"/>
<rect x="350.23" y="398.49" width="22.31" height="1.99" fill="#d1dbe2"/>
<rect x="372.24" y="398.49" width="22.31" height="1.99" fill="#f1c5b3"/>
<rect x="394.26" y="398.49" width="22.31" height="1.99" fill="#84b5dc"/>
<rect x="416.27" y="398.49" width="22.31" height="1.99" fill="#6fa9d7"/>
<rect x="438.28" y="398.49" width="22.31" height="1.99" fill="#6ca6d6"/>
<rect x="460.29" y="398.49" width="22.31" height="1.99" fill="#5c9acf"/>
<rect x="284.20" y="400.18" width="22.31" height="1.99" fill="#a5c9e3"/>
<rect x="306.21" y="400.18" width="22.31" height="1.99" fill="#eead99"/>
<rect x="328.22" y="400.18" width="22.31" height="1.99" fill="#d1514d"/>
<rect x="350.23" y="400.18" width="22.31" height="1.99" fill="#d7dde2"/>
<rect x="372.24" y="400.18" width="22.31" height="1.99" fill="#dbdfe2"/>
<rect x="394.26" y="400.18" width="22.31" height="1.99" fill="#a3c8e3"/>
<rect x="416.27" y="400.18" width="22.31" height="1.99" fill="#64a0d3"/>
<rect x="438.28" y="400.18" width="22.31" height="1.99" fill="#5998ce"/>
<rect x="460.29" y="400.18" width="22.31" height="1.99" fill="#5a98ce"/>
<rect x="284.20" y="401.87" width="22.31" height="1.99" fill="#7eb2da"/>
<rect x="306.21" y="401.87" width="22.31" height="1.99" fill="#efb29f"/>
<rect x="328.22" y="401.87" width="22.31" height="1.99" fill="#cf4c4a"/>
<rect x="350.23" y="401.87" width="22.31" height="1.99" fill="#d7dde2"/>
<rect x="372.24" y="401.87" width="22.31" height="1.99" fill="#e4d7d3"/>
<rect x="394.26" y="401.87" width="22.31" height="1.99" fill="#c0d4e3"/>
<rect x="416.27" y="401.87" width="22.31" height="1.99" fill="#81b4db"/>
<rect x="438.28" y="401.87" width="22.31" height="1.99" fill="#629ed2"/>
<rect x="460.29" y="401.87" width="22.31" height="1.99" fill="#7eb2da"/>
<rect x="284.20" y="403.56" width="22.31" height="1.99" fill="#accde4"/>
<rect x="306.21" y="403.56" width="22.31" height="1.99" fill="#f2c3b1"/>
<rect x="328.22" y="403.56" width="22.31" height="1.99" fill="#c03a3f"/>
<rect x="350.23" y="403.56" width="22.31" height="1.99" fill="#d5dde2"/>
<rect x="372.24" y="403.56" width="22.31" height="1.99" fill="#c8d7e3"/>
<rect x="394.26" y="403.56" width="22.31" height="1.99" fill="#a4c8e3"/>
<rect x="416.27" y="403.56" width="22.31" height="1.99" fill="#64a0d3"/>
<rect x="438.28" y="403.56" width="22.31" height="1.99" fill="#65a1d3"/>
<rect x="460.29" y="403.56" width="22.31" height="1.99" fill="#629fd2"/>
<rect x="284.20" y="405.25" width="22.31" height="1.99" fill="#75acd8"/>
<rect x="306.21" y="405.25" width="22.31" height="1.99" fill="#f0c7b8"/>
<rect x="328.22" y="405.25" width="22.31" height="1.99" fill="#b9343b"/>
<rect x="350.23" y="405.25" width="22.31" height="1.99" fill="#d2dbe2"/>
<rect x="372.24" y="405.25" width="22.31" height="1.99" fill="#e4d7d3"/>
<rect x="394.26" y="405.25" width="22.31" height="1.99" fill="#a5c9e3"/>
<rect x="416.27" y="405.25" width="22.31" height="1.99" fill="#79afd9"/>
<rect x="438.28" y="405.25" width="22.31" height="1.99" fill="#72aad8"/>
<rect x="460.29" y="405.25" width="22.31" height="1.99" fill="#6ba6d6"/>
<rect x="284.20" y="406.94" width="22.31" height="1.99" fill="#9dc4e1"/>
<rect x="306.21" y="406.94" width="22.31" height="1.99" fill="#eeaf9b"/>
<rect x="328.22" y="406.94" width="22.31" height="1.99" fill="#b9343b"/>
<rect x="350.23" y="406.94" width="22.31" height="1.99" fill="#dee0e2"/>
<rect x="372.24" y="406.94" width="22.31" height="1.99" fill="#e2dbd9"/>
<rect x="394.26" y="406.94" width="22.31" height="1.99" fill="#d1dbe3"/>
<rect x="416.27" y="406.94" width="22.31" height="1.99" fill="#629fd2"/>
<rect x="438.28" y="406.94" width="22.31" height="1.99" fill="#346cad"/>
<rect x="460.29" y="406.94" width="22.31" height="1.99" fill="#619ed2"/>
<rect x="284.20" y="408.63" width="22.31" height="1.99" fill="#accde4"/>
<rect x="306.21" y="408.63" width="22.31" height="1.99" fill="#eda894"/>
<rect x="328.22" y="408.63" width="22.31" height="1.99" fill="#e27c6b"/>
<rect x="350.23" y="408.63" width="22.31" height="1.99" fill="#d1dbe2"/>
<rect x="372.24" y="408.63" width="22.31" height="1.99" fill="#dfdedf"/>
<rect x="394.26" y="408.63" width="22.31" height="1.99" fill="#c6d7e3"/>
<rect x="416.27" y="408.63" width="22.31" height="1.99" fill="#93bedf"/>
<rect x="438.28" y="408.63" width="22.31" height="1.99" fill="#619ed1"/>
<rect x="460.29" y="408.63" width="22.31" height="1.99" fill="#5896cd"/>
<rect x="284.20" y="410.32" width="22.31" height="1.99" fill="#b3cfe4"/>
<rect x="306.21" y="410.32" width="22.31" height="1.99" fill="#eead99"/>
<rect x="328.22" y="410.32" width="22.31" height="1.99" fill="#d04f4c"/>
<rect x="350.23" y="410.32" width="22.31" height="1.99" fill="#d7dde2"/>
<rect x="372.24" y="410.32" width="22.31" height="1.99" fill="#edcbbe"/>
<rect x="394.26" y="410.32" width="22.31" height="1.99" fill="#97c1e0"/>
<rect x="416.27" y="410.32" width="22.31" height="1.99" fill="#609dd1"/>
<rect x="438.28" y="410.32" width="22.31" height="1.99" fill="#639fd2"/>
<rect x="460.29" y="410.32" width="22.31" height="1.99" fill="#70a9d7"/>
<rect x="284.20" y="412.01" width="22.31" height="1.99" fill="#abcce4"/>
<rect x="306.21" y="412.01" width="22.31" height="1.99" fill="#eacfc4"/>
<rect x="328.22" y="412.01" width="22.31" height="1.99" fill="#d35551"/>
<rect x="350.23" y="412.01" width="22.31" height="1.99" fill="#c5d6e3"/>
<rect x="372.24" y="412.01" width="22.31" height="1.99" fill="#e3d8d5"/>
<rect x="394.26" y="412.01" width="22.31" height="1.99" fill="#b1cfe4"/>
<rect x="416.27" y="412.01" width="22.31" height="1.99" fill="#639fd2"/>
<rect x="438.28" y="412.01" width="22.31" height="1.99" fill="#5695cd"/>
<rect x="460.29" y="412.01" width="22.31" height="1.99" fill="#5896cd"/>
<rect x="284.20" y="413.71" width="22.31" height="1.99" fill="#a0c6e2"/>
<rect x="306.21" y="413.71" width="22.31" height="1.99" fill="#ea9883"/>
<rect x="328.22" y="413.71" width="22.31" height="1.99" fill="#de7264"/>
<rect x="350.23" y="413.71" width="22.31" height="1.99" fill="#dbdfe2"/>
<rect x="372.24" y="413.71" width="22.31" height="1.99" fill="#e6d5d0"/>
<rect x="394.26" y="413.71" width="22.31" height="1.99" fill="#95bfdf"/>
<rect x="416.27" y="413.71" width="22.31" height="1.99" fill="#8ebbde"/>
<rect x="438.28" y="413.71" width="22.31" height="1.99" fill="#3066a8"/>
<rect x="460.29" y="413.71" width="22.31" height="1.99" fill="#8fbcde"/>
<rect x="284.20" y="415.40" width="22.31" height="1.99" fill="#c5d6e3"/>
<rect x="306.21" y="415.40" width="22.31" height="1.99" fill="#f0b7a4"/>
<rect x="328.22" y="415.40" width="22.31" height="1.99" fill="#dd7063"/>
<rect x="350.23" y="415.40" width="22.31" height="1.99" fill="#bfd4e3"/>
<rect x="372.24" y="415.40" width="22.31" height="1.99" fill="#d1dbe3"/>
<rect x="394.26" y="415.40" width="22.31" height="1.99" fill="#d6dde2"/>
<rect x="416.27" y="415.40" width="22.31" height="1.99" fill="#619dd1"/>
<rect x="438.28" y="415.40" width="22.31" height="1.99" fill="#64a0d3"/>
<rect x="460.29" y="415.40" width="22.31" height="1.99" fill="#4e8fc9"/>
<rect x="284.20" y="417.09" width="22.31" height="1.99" fill="#a9cbe4"/>
<rect x="306.21" y="417.09" width="22.31" height="1.99" fill="#eca48f"/>
<rect x="328.22" y="417.09" width="22.31" height="1.99" fill="#d55c55"/>
<rect x="350.23" y="417.09" width="22.31" height="1.99" fill="#e4d8d5"/>
<rect x="372.24" y="417.09" width="22.31" height="1.99" fill="#e3d9d6"/>
<rect x="394.26" y="417.09" width="22.31" height="1.99" fill="#bdd3e3"/>
<rect x="416.27" y="417.09" width="22.31" height="1.99" fill="#75acd8"/>
<rect x="438.28" y="417.09" width="22.31" height="1.99" fill="#4f8fca"/>
<rect x="460.29" y="417.09" width="22.31" height="1.99" fill="#639fd2"/>
<rect x="284.20" y="418.78" width="22.31" height="1.99" fill="#b3cfe4"/>
<rect x="306.21" y="418.78" width="22.31" height="1.99" fill="#eb9a85"/>
<rect x="328.22" y="418.78" width="22.31" height="1.99" fill="#d75f57"/>
<rect x="350.23" y="418.78" width="22.31" height="1.99" fill="#bcd3e3"/>
<rect x="372.24" y="418.78" width="22.31" height="1.99" fill="#e1dcda"/>
<rect x="394.26" y="418.78" width="22.31" height="1.99" fill="#9dc4e1"/>
<rect x="416.27" y="418.78" width="22.31" height="1.99" fill="#75acd8"/>
<rect x="438.28" y="418.78" width="22.31" height="1.99" fill="#5896ce"/>
<rect x="460.29" y="418.78" width="22.31" height="1.99" fill="#6ba5d6"/>
<rect x="284.20" y="420.47" width="22.31" height="1.99" fill="#b6d1e4"/>
<rect x="306.21" y="420.47" width="22.31" height="1.99" fill="#f0c6b6"/>
<rect x="328.22" y="420.47" width="22.31" height="1.99" fill="#ce4948"/>
<rect x="350.23" y="420.47" width="22.31" height="1.99" fill="#c5d6e3"/>
<rect x="372.24" y="420.47" width="22.31" height="1.99" fill="#eccdc2"/>
<rect x="394.26" y="420.47" width="22.31" height="1.99" fill="#99c2e0"/>
<rect x="416.27" y="420.47" width="22.31" height="1.99" fill="#65a1d3"/>
<rect x="438.28" y="420.47" width="22.31" height="1.99" fill="#4a8bc7"/>
<rect x="460.29" y="420.47" width="22.31" height="1.99" fill="#609dd1"/>
<rect x="284.20" y="422.16" width="22.31" height="1.99" fill="#a7cae3"/>
<rect x="306.21" y="422.16" width="22.31" height="1.99" fill="#f1c5b4"/>
<rect x="328.22" y="422.16" width="22.31" height="1.99" fill="#d1514d"/>
<rect x="350.23" y="422.16" width="22.31" height="1.99" fill="#95bfdf"/>
<rect x="372.24" y="422.16" width="22.31" height="1.99" fill="#e4d8d4"/>
<rect x="394.26" y="422.16" width="22.31" height="1.99" fill="#accde4"/>
<rect x="416.27" y="422.16" width="22.31" height="1.99" fill="#5292cb"/>
<rect x="438.28" y="422.16" width="22.31" height="1.99" fill="#77aed9"/>
<rect x="460.29" y="422.16" width="22.31" height="1.99" fill="#6ca7d6"/>
<rect x="284.20" y="423.85" width="22.31" height="1.99" fill="#b5d0e4"/>
<rect x="306.21" y="423.85" width="22.31" height="1.99" fill="#ea9580"/>
<rect x="328.22" y="423.85" width="22.31" height="1.99" fill="#d8635a"/>
<rect x="350.23" y="423.85" width="22.31" height="1.99" fill="#b5d0e4"/>
<rect x="372.24" y="423.85" width="22.31" height="1.99" fill="#f1bfad"/>
<rect x="394.26" y="423.85" width="22.31" height="1.99" fill="#9cc4e1"/>
<rect x="416.27" y="423.85" width="22.31" height="1.99" fill="#5695cd"/>
<rect x="438.28" y="423.85" width="22.31" height="1.99" fill="#3b76b5"/>
<rect x="460.29" y="423.85" width="22.31" height="1.99" fill="#98c1e0"/>
<rect x="284.20" y="425.54" width="22.31" height="1.99" fill="#abcce4"/>
<rect x="306.21" y="425.54" width="22.31" height="1.99" fill="#eda793"/>
<rect x="328.22" y="425.54" width="22.31" height="1.99" fill="#ce4948"/>
<rect x="350.23" y="425.54" width="22.31" height="1.99" fill="#dde0e2"/>
<rect x="372.24" y="425.54" width="22.31" height="1.99" fill="#f1bca9"/>
<rect x="394.26" y="425.54" width="22.31" height="1.99" fill="#a2c7e2"/>
<rect x="416.27" y="425.54" width="22.31" height="1.99" fill="#94bfdf"/>
<rect x="438.28" y="425.54" width="22.31" height="1.99" fill="#629ed2"/>
<rect x="460.29" y="425.54" width="22.31" height="1.99" fill="#5e9cd0"/>
<rect x="284.20" y="427.24" width="22.31" height="1.99" fill="#93bedf"/>
<rect x="306.21" y="427.24" width="22.31" height="1.99" fill="#efb19e"/>
<rect x="328.22" y="427.24" width="22.31" height="1.99" fill="#d86159"/>
<rect x="350.23" y="427.24" width="22.31" height="1.99" fill="#e2dad7"/>
<rect x="372.24" y="427.24" width="22.31" height="1.99" fill="#f1c0ae"/>
<rect x="394.26" y="427.24" width="22.31" height="1.99" fill="#bad2e3"/>
<rect x="416.27" y="427.24" width="22.31" height="1.99" fill="#6ca7d6"/>
<rect x="438.28" y="427.24" width="22.31" height="1.99" fill="#4b8cc8"/>
<rect x="460.29" y="427.24" width="22.31" height="1.99" fill="#5796cd"/>
<rect x="284.20" y="428.93" width="22.31" height="1.99" fill="#bed4e3"/>
<rect x="306.21" y="428.93" width="22.31" height="1.99" fill="#eb9c87"/>
<rect x="328.22" y="428.93" width="22.31" height="1.99" fill="#b9343b"/>
<rect x="350.23" y="428.93" width="22.31" height="1.99" fill="#bdd3e3"/>
<rect x="372.24" y="428.93" width="22.31" height="1.99" fill="#e3d8d5"/>
<rect x="394.26" y="428.93" width="22.31" height="1.99" fill="#ccd9e3"/>
<rect x="416.27" y="428.93" width="22.31" height="1.99" fill="#82b4db"/>
<rect x="438.28" y="428.93" width="22.31" height="1.99" fill="#4f8fca"/>
<rect x="460.29" y="428.93" width="22.31" height="1.99" fill="#5997ce"/>
<rect x="284.20" y="430.62" width="22.31" height="1.99" fill="#80b3db"/>
<rect x="306.21" y="430.62" width="22.31" height="1.99" fill="#eecabb"/>
<rect x="328.22" y="430.62" width="22.31" height="1.99" fill="#b9343b"/>
<rect x="350.23" y="430.62" width="22.31" height="1.99" fill="#b9d2e3"/>
<rect x="372.24" y="430.62" width="22.31" height="1.99" fill="#f0c6b6"/>
<rect x="394.26" y="430.62" width="22.31" height="1.99" fill="#c8d7e3"/>
<rect x="416.27" y="430.62" width="22.31" height="1.99" fill="#84b5dc"/>
<rect x="438.28" y="430.62" width="22.31" height="1.99" fill="#5393cc"/>
<rect x="460.29" y="430.62" width="22.31" height="1.99" fill="#9bc3e1"/>
<rect x="284.20" y="432.31" width="22.31" height="1.99" fill="#bed4e3"/>
<rect x="306.21" y="432.31" width="22.31" height="1.99" fill="#e9927d"/>
<rect x="328.22" y="432.31" width="22.31" height="1.99" fill="#cf4c4a"/>
<rect x="350.23" y="432.31" width="22.31" height="1.99" fill="#b1cfe4"/>
<rect x="372.24" y="432.31" width="22.31" height="1.99" fill="#e9d1c8"/>
<rect x="394.26" y="432.31" width="22.31" height="1.99" fill="#c0d4e3"/>
<rect x="416.27" y="432.31" width="22.31" height="1.99" fill="#5f9cd1"/>
<rect x="438.28" y="432.31" width="22.31" height="1.99" fill="#609cd1"/>
<rect x="460.29" y="432.31" width="22.31" height="1.99" fill="#6aa5d5"/>
<rect x="284.20" y="434.00" width="22.31" height="1.99" fill="#6fa9d7"/>
<rect x="306.21" y="434.00" width="22.31" height="1.99" fill="#d1dbe2"/>
<rect x="328.22" y="434.00" width="22.31" height="1.99" fill="#f0c7b7"/>
<rect x="350.23" y="434.00" width="22.31" height="1.99" fill="#e9937d"/>
<rect x="372.24" y="434.00" width="22.31" height="1.99" fill="#e88e79"/>
<rect x="394.26" y="434.00" width="22.31" height="1.99" fill="#abcce4"/>
<rect x="416.27" y="434.00" width="22.31" height="1.99" fill="#7aafd9"/>
<rect x="438.28" y="434.00" width="22.31" height="1.99" fill="#69a4d5"/>
<rect x="460.29" y="434.00" width="22.31" height="1.99" fill="#94bfdf"/>
<rect x="284.20" y="435.69" width="22.31" height="1.99" fill="#9cc4e1"/>
<rect x="306.21" y="435.69" width="22.31" height="1.99" fill="#bdd3e3"/>
<rect x="328.22" y="435.69" width="22.31" height="1.99" fill="#eec9bb"/>
<rect x="350.23" y="435.69" width="22.31" height="1.99" fill="#e48370"/>
<rect x="372.24" y="435.69" width="22.31" height="1.99" fill="#d9655b"/>
<rect x="394.26" y="435.69" width="22.31" height="1.99" fill="#a1c6e2"/>
<rect x="416.27" y="435.69" width="22.31" height="1.99" fill="#95bfdf"/>
<rect x="438.28" y="435.69" width="22.31" height="1.99" fill="#85b6dc"/>
<rect x="460.29" y="435.69" width="22.31" height="1.99" fill="#7db1da"/>
<rect x="284.20" y="437.38" width="22.31" height="1.99" fill="#7bb0da"/>
<rect x="306.21" y="437.38" width="22.31" height="1.99" fill="#e3d9d5"/>
<rect x="328.22" y="437.38" width="22.31" height="1.99" fill="#ecccc0"/>
<rect x="350.23" y="437.38" width="22.31" height="1.99" fill="#f0b8a5"/>
<rect x="372.24" y="437.38" width="22.31" height="1.99" fill="#cc4545"/>
<rect x="394.26" y="437.38" width="22.31" height="1.99" fill="#bfd4e3"/>
<rect x="416.27" y="437.38" width="22.31" height="1.99" fill="#8fbcde"/>
<rect x="438.28" y="437.38" width="22.31" height="1.99" fill="#b2cfe4"/>
<rect x="460.29" y="437.38" width="22.31" height="1.99" fill="#5393cc"/>
<rect x="284.20" y="439.08" width="22.31" height="1.99" fill="#7fb2db"/>
<rect x="306.21" y="439.08" width="22.31" height="1.99" fill="#a0c6e2"/>
<rect x="328.22" y="439.08" width="22.31" height="1.99" fill="#ecccc0"/>
<rect x="350.23" y="439.08" width="22.31" height="1.99" fill="#db6b60"/>
<rect x="372.24" y="439.08" width="22.31" height="1.99" fill="#e27c6b"/>
<rect x="394.26" y="439.08" width="22.31" height="1.99" fill="#c6d7e3"/>
<rect x="416.27" y="439.08" width="22.31" height="1.99" fill="#6ea8d7"/>
<rect x="438.28" y="439.08" width="22.31" height="1.99" fill="#65a1d3"/>
<rect x="460.29" y="439.08" width="22.31" height="1.99" fill="#619dd1"/>
<rect x="284.20" y="440.77" width="22.31" height="1.99" fill="#c5d6e3"/>
<rect x="306.21" y="440.77" width="22.31" height="1.99" fill="#d1dbe2"/>
<rect x="328.22" y="440.77" width="22.31" height="1.99" fill="#f0b7a4"/>
<rect x="350.23" y="440.77" width="22.31" height="1.99" fill="#efc8b8"/>
<rect x="372.24" y="440.77" width="22.31" height="1.99" fill="#e17a6a"/>
<rect x="394.26" y="440.77" width="22.31" height="1.99" fill="#8ebbde"/>
<rect x="416.27" y="440.77" width="22.31" height="1.99" fill="#7bb0da"/>
<rect x="438.28" y="440.77" width="22.31" height="1.99" fill="#85b6dc"/>
<rect x="460.29" y="440.77" width="22.31" height="1.99" fill="#7aafda"/>
<rect x="284.20" y="442.46" width="22.31" height="1.99" fill="#a5c9e3"/>
<rect x="306.21" y="442.46" width="22.31" height="1.99" fill="#bdd3e3"/>
<rect x="328.22" y="442.46" width="22.31" height="1.99" fill="#e8d1c9"/>
<rect x="350.23" y="442.46" width="22.31" height="1.99" fill="#e9917c"/>
<rect x="372.24" y="442.46" width="22.31" height="1.99" fill="#d9645b"/>
<rect x="394.26" y="442.46" width="22.31" height="1.99" fill="#b3d0e4"/>
<rect x="416.27" y="442.46" width="22.31" height="1.99" fill="#82b4db"/>
<rect x="438.28" y="442.46" width="22.31" height="1.99" fill="#77aed9"/>
<rect x="460.29" y="442.46" width="22.31" height="1.99" fill="#69a4d5"/>
<rect x="284.20" y="444.15" width="22.31" height="1.99" fill="#97c1e0"/>
<rect x="306.21" y="444.15" width="22.31" height="1.99" fill="#c1d5e3"/>
<rect x="328.22" y="444.15" width="22.31" height="1.99" fill="#eecabc"/>
<rect x="350.23" y="444.15" width="22.31" height="1.99" fill="#e88d77"/>
<rect x="372.24" y="444.15" width="22.31" height="1.99" fill="#edaa96"/>
<rect x="394.26" y="444.15" width="22.31" height="1.99" fill="#b0cee4"/>
<rect x="416.27" y="444.15" width="22.31" height="1.99" fill="#7db1da"/>
<rect x="438.28" y="444.15" width="22.31" height="1.99" fill="#74acd8"/>
<rect x="460.29" y="444.15" width="22.31" height="1.99" fill="#64a0d3"/>
<rect x="284.20" y="445.84" width="22.31" height="1.99" fill="#94bfdf"/>
<rect x="306.21" y="445.84" width="22.31" height="1.99" fill="#dcdfe2"/>
<rect x="328.22" y="445.84" width="22.31" height="1.99" fill="#efb19e"/>
<rect x="350.23" y="445.84" width="22.31" height="1.99" fill="#efc8b9"/>
<rect x="372.24" y="445.84" width="22.31" height="1.99" fill="#e4826f"/>
<rect x="394.26" y="445.84" width="22.31" height="1.99" fill="#aacce4"/>
<rect x="416.27" y="445.84" width="22.31" height="1.99" fill="#a4c8e3"/>
<rect x="438.28" y="445.84" width="22.31" height="1.99" fill="#619dd1"/>
<rect x="460.29" y="445.84" width="22.31" height="1.99" fill="#67a2d4"/>
<rect x="284.20" y="447.54" width="22.31" height="1.99" fill="#98c1e0"/>
<rect x="306.21" y="447.54" width="22.31" height="1.99" fill="#9dc4e1"/>
<rect x="328.22" y="447.54" width="22.31" height="1.99" fill="#eb9e89"/>
<rect x="350.23" y="447.54" width="22.31" height="1.99" fill="#e68772"/>
<rect x="372.24" y="447.54" width="22.31" height="1.99" fill="#ea9681"/>
<rect x="394.26" y="447.54" width="22.31" height="1.99" fill="#8fbcde"/>
<rect x="416.27" y="447.54" width="22.31" height="1.99" fill="#85b6dc"/>
<rect x="438.28" y="447.54" width="22.31" height="1.99" fill="#83b5dc"/>
<rect x="460.29" y="447.54" width="22.31" height="1.99" fill="#7db1da"/>
<rect x="284.20" y="449.23" width="22.31" height="1.99" fill="#a1c7e2"/>
<rect x="306.21" y="449.23" width="22.31" height="1.99" fill="#e2dad8"/>
<rect x="328.22" y="449.23" width="22.31" height="1.99" fill="#efb3a0"/>
<rect x="350.23" y="449.23" width="22.31" height="1.99" fill="#e5d6d1"/>
<rect x="372.24" y="449.23" width="22.31" height="1.99" fill="#d35752"/>
<rect x="394.26" y="449.23" width="22.31" height="1.99" fill="#cedae3"/>
<rect x="416.27" y="449.23" width="22.31" height="1.99" fill="#70a9d7"/>
<rect x="438.28" y="449.23" width="22.31" height="1.99" fill="#75acd9"/>
<rect x="460.29" y="449.23" width="22.31" height="1.99" fill="#85b6dc"/>
<rect x="284.20" y="450.92" width="22.31" height="1.99" fill="#6fa9d7"/>
<rect x="306.21" y="450.92" width="22.31" height="1.99" fill="#e9d1c8"/>
<rect x="328.22" y="450.92" width="22.31" height="1.99" fill="#ecccbf"/>
<rect x="350.23" y="450.92" width="22.31" height="1.99" fill="#eb9c87"/>
<rect x="372.24" y="450.92" width="22.31" height="1.99" fill="#eca490"/>
<rect x="394.26" y="450.92" width="22.31" height="1.99" fill="#b9d2e3"/>
<rect x="416.27" y="450.92" width="22.31" height="1.99" fill="#accde4"/>
<rect x="438.28" y="450.92" width="22.31" height="1.99" fill="#97c0e0"/>
<rect x="460.29" y="450.92" width="22.31" height="1.99" fill="#6ba6d6"/>
<rect x="284.20" y="452.61" width="22.31" height="1.99" fill="#629fd2"/>
<rect x="306.21" y="452.61" width="22.31" height="1.99" fill="#c7d7e3"/>
<rect x="328.22" y="452.61" width="22.31" height="1.99" fill="#e9d1c8"/>
<rect x="350.23" y="452.61" width="22.31" height="1.99" fill="#eb9f8a"/>
<rect x="372.24" y="452.61" width="22.31" height="1.99" fill="#eeab97"/>
<rect x="394.26" y="452.61" width="22.31" height="1.99" fill="#d6dde2"/>
<rect x="416.27" y="452.61" width="22.31" height="1.99" fill="#8dbbde"/>
<rect x="438.28" y="452.61" width="22.31" height="1.99" fill="#6da7d7"/>
<rect x="460.29" y="452.61" width="22.31" height="1.99" fill="#69a4d5"/>
<rect x="284.20" y="454.30" width="22.31" height="1.99" fill="#95bfdf"/>
<rect x="306.21" y="454.30" width="22.31" height="1.99" fill="#dfdedf"/>
<rect x="328.22" y="454.30" width="22.31" height="1.99" fill="#e6d5cf"/>
<rect x="350.23" y="454.30" width="22.31" height="1.99" fill="#edab97"/>
<rect x="372.24" y="454.30" width="22.31" height="1.99" fill="#e88d77"/>
<rect x="394.26" y="454.30" width="22.31" height="1.99" fill="#aecde4"/>
<rect x="416.27" y="454.30" width="22.31" height="1.99" fill="#94bfdf"/>
<rect x="438.28" y="454.30" width="22.31" height="1.99" fill="#72aad8"/>
<rect x="460.29" y="454.30" width="22.31" height="1.99" fill="#8bb9dd"/>
<rect x="284.20" y="456.00" width="22.31" height="1.99" fill="#80b3db"/>
<rect x="306.21" y="456.00" width="22.31" height="1.99" fill="#b3cfe4"/>
<rect x="328.22" y="456.00" width="22.31" height="1.99" fill="#eecabd"/>
<rect x="350.23" y="456.00" width="22.31" height="1.99" fill="#ebcec3"/>
<rect x="372.24" y="456.00" width="22.31" height="1.99" fill="#eb9c87"/>
<rect x="394.26" y="456.00" width="22.31" height="1.99" fill="#c6d7e3"/>
<rect x="416.27" y="456.00" width="22.31" height="1.99" fill="#a6cae3"/>
<rect x="438.28" y="456.00" width="22.31" height="1.99" fill="#5d9bd0"/>
<rect x="460.29" y="456.00" width="22.31" height="1.99" fill="#6ba6d6"/>
<rect x="284.20" y="457.69" width="22.31" height="1.99" fill="#9dc4e1"/>
<rect x="306.21" y="457.69" width="22.31" height="1.99" fill="#a3c8e3"/>
<rect x="328.22" y="457.69" width="22.31" height="1.99" fill="#efb4a1"/>
<rect x="350.23" y="457.69" width="22.31" height="1.99" fill="#e88d77"/>
<rect x="372.24" y="457.69" width="22.31" height="1.99" fill="#db6b60"/>
<rect x="394.26" y="457.69" width="22.31" height="1.99" fill="#cbd9e3"/>
<rect x="416.27" y="457.69" width="22.31" height="1.99" fill="#6ea8d7"/>
<rect x="438.28" y="457.69" width="22.31" height="1.99" fill="#5d9bd0"/>
<rect x="460.29" y="457.69" width="22.31" height="1.99" fill="#74acd8"/>
<rect x="284.20" y="459.38" width="22.31" height="1.99" fill="#9cc3e1"/>
<rect x="306.21" y="459.38" width="22.31" height="1.99" fill="#f0b9a6"/>
<rect x="328.22" y="459.38" width="22.31" height="1.99" fill="#e4d7d3"/>
<rect x="350.23" y="459.38" width="22.31" height="1.99" fill="#f0b9a6"/>
<rect x="372.24" y="459.38" width="22.31" height="1.99" fill="#e88b76"/>
<rect x="394.26" y="459.38" width="22.31" height="1.99" fill="#a7cae3"/>
<rect x="416.27" y="459.38" width="22.31" height="1.99" fill="#629ed2"/>
<rect x="438.28" y="459.38" width="22.31" height="1.99" fill="#64a0d3"/>
<rect x="460.29" y="459.38" width="22.31" height="1.99" fill="#89b8dd"/>
<rect x="284.20" y="461.07" width="22.31" height="1.99" fill="#90bcde"/>
<rect x="306.21" y="461.07" width="22.31" height="1.99" fill="#dee0e1"/>
<rect x="328.22" y="461.07" width="22.31" height="1.99" fill="#f0c6b6"/>
<rect x="350.23" y="461.07" width="22.31" height="1.99" fill="#d35752"/>
<rect x="372.24" y="461.07" width="22.31" height="1.99" fill="#ea9984"/>
<rect x="394.26" y="461.07" width="22.31" height="1.99" fill="#c3d6e3"/>
<rect x="416.27" y="461.07" width="22.31" height="1.99" fill="#71aad8"/>
<rect x="438.28" y="461.07" width="22.31" height="1.99" fill="#64a0d3"/>
<rect x="460.29" y="461.07" width="22.31" height="1.99" fill="#5e9bd0"/>
<rect x="284.20" y="462.76" width="22.31" height="1.99" fill="#71aad8"/>
<rect x="306.21" y="462.76" width="22.31" height="1.99" fill="#c0d5e3"/>
<rect x="328.22" y="462.76" width="22.31" height="1.99" fill="#eacfc5"/>
<rect x="350.23" y="462.76" width="22.31" height="1.99" fill="#f0baa7"/>
<rect x="372.24" y="462.76" width="22.31" height="1.99" fill="#eca28d"/>
<rect x="394.26" y="462.76" width="22.31" height="1.99" fill="#bed4e3"/>
<rect x="416.27" y="462.76" width="22.31" height="1.99" fill="#66a2d4"/>
<rect x="438.28" y="462.76" width="22.31" height="1.99" fill="#91bddf"/>
<rect x="460.29" y="462.76" width="22.31" height="1.99" fill="#83b5dc"/>
<rect x="284.20" y="464.46" width="22.31" height="1.99" fill="#94bfdf"/>
<rect x="306.21" y="464.46" width="22.31" height="1.99" fill="#c8d8e3"/>
<rect x="328.22" y="464.46" width="22.31" height="1.99" fill="#eda995"/>
<rect x="350.23" y="464.46" width="22.31" height="1.99" fill="#e07768"/>
<rect x="372.24" y="464.46" width="22.31" height="1.99" fill="#d04e4b"/>
<rect x="394.26" y="464.46" width="22.31" height="1.99" fill="#d8dee2"/>
<rect x="416.27" y="464.46" width="22.31" height="1.99" fill="#85b6dc"/>
<rect x="438.28" y="464.46" width="22.31" height="1.99" fill="#609dd1"/>
<rect x="460.29" y="464.46" width="22.31" height="1.99" fill="#66a2d4"/>
<rect x="284.20" y="466.15" width="22.31" height="1.99" fill="#66a2d4"/>
<rect x="306.21" y="466.15" width="22.31" height="1.99" fill="#c6d7e3"/>
<rect x="328.22" y="466.15" width="22.31" height="1.99" fill="#edcbbd"/>
<rect x="350.23" y="466.15" width="22.31" height="1.99" fill="#e88e78"/>
<rect x="372.24" y="466.15" width="22.31" height="1.99" fill="#eb9c87"/>
<rect x="394.26" y="466.15" width="22.31" height="1.99" fill="#cad8e3"/>
<rect x="416.27" y="466.15" width="22.31" height="1.99" fill="#92bddf"/>
<rect x="438.28" y="466.15" width="22.31" height="1.99" fill="#6ca6d6"/>
<rect x="460.29" y="466.15" width="22.31" height="1.99" fill="#6ea8d7"/>
<rect x="284.20" y="467.84" width="22.31" height="1.99" fill="#89b8dd"/>
<rect x="306.21" y="467.84" width="22.31" height="1.99" fill="#cad8e3"/>
<rect x="328.22" y="467.84" width="22.31" height="1.99" fill="#ebcec2"/>
<rect x="350.23" y="467.84" width="22.31" height="1.99" fill="#efb6a3"/>
<rect x="372.24" y="467.84" width="22.31" height="1.99" fill="#eb9c87"/>
<rect x="394.26" y="467.84" width="22.31" height="1.99" fill="#bfd4e3"/>
<rect x="416.27" y="467.84" width="22.31" height="1.99" fill="#69a4d5"/>
<rect x="438.28" y="467.84" width="22.31" height="1.99" fill="#629fd2"/>
<rect x="460.29" y="467.84" width="22.31" height="1.99" fill="#6ba5d6"/>
<rect x="284.20" y="469.53" width="22.31" height="1.99" fill="#c1d5e3"/>
<rect x="306.21" y="469.53" width="22.31" height="1.99" fill="#dbdfe2"/>
<rect x="328.22" y="469.53" width="22.31" height="1.99" fill="#efc8b9"/>
<rect x="350.23" y="469.53" width="22.31" height="1.99" fill="#e68773"/>
<rect x="372.24" y="469.53" width="22.31" height="1.99" fill="#e4806e"/>
<rect x="394.26" y="469.53" width="22.31" height="1.99" fill="#70a9d7"/>
<rect x="416.27" y="469.53" width="22.31" height="1.99" fill="#83b4db"/>
<rect x="438.28" y="469.53" width="22.31" height="1.99" fill="#86b6dc"/>
<rect x="460.29" y="469.53" width="22.31" height="1.99" fill="#89b8dd"/>
<rect x="284.20" y="471.22" width="22.31" height="1.99" fill="#a6cae3"/>
<rect x="306.21" y="471.22" width="22.31" height="1.99" fill="#dfdfe0"/>
<rect x="328.22" y="471.22" width="22.31" height="1.99" fill="#e1dcdb"/>
<rect x="350.23" y="471.22" width="22.31" height="1.99" fill="#eda995"/>
<rect x="372.24" y="471.22" width="22.31" height="1.99" fill="#e78974"/>
<rect x="394.26" y="471.22" width="22.31" height="1.99" fill="#dddfe2"/>
<rect x="416.27" y="471.22" width="22.31" height="1.99" fill="#6da7d7"/>
<rect x="438.28" y="471.22" width="22.31" height="1.99" fill="#8bbadd"/>
<rect x="460.29" y="471.22" width="22.31" height="1.99" fill="#8bb9dd"/>
<rect x="284.20" y="472.92" width="22.31" height="1.99" fill="#bcd3e3"/>
<rect x="306.21" y="472.92" width="22.31" height="1.99" fill="#dfdfe0"/>
<rect x="328.22" y="472.92" width="22.31" height="1.99" fill="#eca590"/>
<rect x="350.23" y="472.92" width="22.31" height="1.99" fill="#e9947e"/>
<rect x="372.24" y="472.92" width="22.31" height="1.99" fill="#eca490"/>
<rect x="394.26" y="472.92" width="22.31" height="1.99" fill="#92bedf"/>
<rect x="416.27" y="472.92" width="22.31" height="1.99" fill="#92bddf"/>
<rect x="438.28" y="472.92" width="22.31" height="1.99" fill="#5f9cd1"/>
<rect x="460.29" y="472.92" width="22.31" height="1.99" fill="#9ec5e1"/>
<rect x="284.20" y="474.61" width="22.31" height="1.99" fill="#adcde4"/>
<rect x="306.21" y="474.61" width="22.31" height="1.99" fill="#d8dee2"/>
<rect x="328.22" y="474.61" width="22.31" height="1.99" fill="#eecabd"/>
<rect x="350.23" y="474.61" width="22.31" height="1.99" fill="#eb9c87"/>
<rect x="372.24" y="474.61" width="22.31" height="1.99" fill="#dc6e61"/>
<rect x="394.26" y="474.61" width="22.31" height="1.99" fill="#bed4e3"/>
<rect x="416.27" y="474.61" width="22.31" height="1.99" fill="#69a4d5"/>
<rect x="438.28" y="474.61" width="22.31" height="1.99" fill="#9fc5e2"/>
<rect x="460.29" y="474.61" width="22.31" height="1.99" fill="#6da7d6"/>
<rect x="284.20" y="476.30" width="22.31" height="2.02" fill="#92bddf"/>
<rect x="306.21" y="476.30" width="22.31" height="2.02" fill="#bcd3e3"/>
<rect x="328.22" y="476.30" width="22.31" height="2.02" fill="#cedae3"/>
<rect x="350.23" y="476.30" width="22.31" height="2.02" fill="#efb4a1"/>
<rect x="372.24" y="476.30" width="22.31" height="2.02" fill="#e8d2ca"/>
<rect x="394.26" y="476.30" width="22.31" height="2.02" fill="#d45752"/>
<rect x="416.27" y="476.30" width="22.31" height="2.02" fill="#8ebbde"/>
<rect x="438.28" y="476.30" width="22.31" height="2.02" fill="#7cb0da"/>
<rect x="460.29" y="476.30" width="22.31" height="2.02" fill="#5b99cf"/>
<rect x="284.20" y="478.02" width="22.31" height="2.02" fill="#73abd8"/>
<rect x="306.21" y="478.02" width="22.31" height="2.02" fill="#accde4"/>
<rect x="328.22" y="478.02" width="22.31" height="2.02" fill="#cfdae3"/>
<rect x="350.23" y="478.02" width="22.31" height="2.02" fill="#d7dde2"/>
<rect x="372.24" y="478.02" width="22.31" height="2.02" fill="#cfdae3"/>
<rect x="394.26" y="478.02" width="22.31" height="2.02" fill="#d65d56"/>
<rect x="416.27" y="478.02" width="22.31" height="2.02" fill="#8fbcde"/>
<rect x="438.28" y="478.02" width="22.31" height="2.02" fill="#80b3db"/>
<rect x="460.29" y="478.02" width="22.31" height="2.02" fill="#5b99cf"/>
<rect x="284.20" y="479.74" width="22.31" height="2.02" fill="#b1cfe4"/>
<rect x="306.21" y="479.74" width="22.31" height="2.02" fill="#8fbcde"/>
<rect x="328.22" y="479.74" width="22.31" height="2.02" fill="#c5d7e3"/>
<rect x="350.23" y="479.74" width="22.31" height="2.02" fill="#e8d2ca"/>
<rect x="372.24" y="479.74" width="22.31" height="2.02" fill="#efb5a2"/>
<rect x="394.26" y="479.74" width="22.31" height="2.02" fill="#be393e"/>
<rect x="416.27" y="479.74" width="22.31" height="2.02" fill="#6ca6d6"/>
<rect x="438.28" y="479.74" width="22.31" height="2.02" fill="#85b6dc"/>
<rect x="460.29" y="479.74" width="22.31" height="2.02" fill="#66a1d3"/>
<rect x="284.20" y="481.46" width="22.31" height="2.02" fill="#9ec5e1"/>
<rect x="306.21" y="481.46" width="22.31" height="2.02" fill="#d2dbe2"/>
<rect x="328.22" y="481.46" width="22.31" height="2.02" fill="#c8d7e3"/>
<rect x="350.23" y="481.46" width="22.31" height="2.02" fill="#e0dddc"/>
<rect x="372.24" y="481.46" width="22.31" height="2.02" fill="#e4d7d3"/>
<rect x="394.26" y="481.46" width="22.31" height="2.02" fill="#cc4546"/>
<rect x="416.27" y="481.46" width="22.31" height="2.02" fill="#8ab9dd"/>
<rect x="438.28" y="481.46" width="22.31" height="2.02" fill="#64a0d3"/>
<rect x="460.29" y="481.46" width="22.31" height="2.02" fill="#64a0d3"/>
<rect x="284.20" y="483.18" width="22.31" height="2.02" fill="#96c0e0"/>
<rect x="306.21" y="483.18" width="22.31" height="2.02" fill="#b6d1e4"/>
<rect x="328.22" y="483.18" width="22.31" height="2.02" fill="#dee0e2"/>
<rect x="350.23" y="483.18" width="22.31" height="2.02" fill="#f1c0ad"/>
<rect x="372.24" y="483.18" width="22.31" height="2.02" fill="#e3d9d6"/>
<rect x="394.26" y="483.18" width="22.31" height="2.02" fill="#de7365"/>
<rect x="416.27" y="483.18" width="22.31" height="2.02" fill="#96c0e0"/>
<rect x="438.28" y="483.18" width="22.31" height="2.02" fill="#65a1d3"/>
<rect x="460.29" y="483.18" width="22.31" height="2.02" fill="#8ab9dd"/>
<rect x="284.20" y="484.90" width="22.31" height="2.02" fill="#a6c9e3"/>
<rect x="306.21" y="484.90" width="22.31" height="2.02" fill="#c7d7e3"/>
<rect x="328.22" y="484.90" width="22.31" height="2.02" fill="#96c0e0"/>
<rect x="350.23" y="484.90" width="22.31" height="2.02" fill="#e8d2cb"/>
<rect x="372.24" y="484.90" width="22.31" height="2.02" fill="#ebcec3"/>
<rect x="394.26" y="484.90" width="22.31" height="2.02" fill="#e27c6b"/>
<rect x="416.27" y="484.90" width="22.31" height="2.02" fill="#85b6dc"/>
<rect x="438.28" y="484.90" width="22.31" height="2.02" fill="#90bdde"/>
<rect x="460.29" y="484.90" width="22.31" height="2.02" fill="#76add9"/>
<rect x="284.20" y="486.62" width="22.31" height="2.02" fill="#7fb2db"/>
<rect x="306.21" y="486.62" width="22.31" height="2.02" fill="#cbd9e3"/>
<rect x="328.22" y="486.62" width="22.31" height="2.02" fill="#dcdfe2"/>
<rect x="350.23" y="486.62" width="22.31" height="2.02" fill="#efc8b9"/>
<rect x="372.24" y="486.62" width="22.31" height="2.02" fill="#e8d2cb"/>
<rect x="394.26" y="486.62" width="22.31" height="2.02" fill="#ce4848"/>
<rect x="416.27" y="486.62" width="22.31" height="2.02" fill="#81b4db"/>
<rect x="438.28" y="486.62" width="22.31" height="2.02" fill="#66a1d3"/>
<rect x="460.29" y="486.62" width="22.31" height="2.02" fill="#4e8ec9"/>
<rect x="284.20" y="488.33" width="22.31" height="2.02" fill="#a7cae3"/>
<rect x="306.21" y="488.33" width="22.31" height="2.02" fill="#bdd3e3"/>
<rect x="328.22" y="488.33" width="22.31" height="2.02" fill="#cad8e3"/>
<rect x="350.23" y="488.33" width="22.31" height="2.02" fill="#edcbbf"/>
<rect x="372.24" y="488.33" width="22.31" height="2.02" fill="#eacfc5"/>
<rect x="394.26" y="488.33" width="22.31" height="2.02" fill="#db6a5f"/>
<rect x="416.27" y="488.33" width="22.31" height="2.02" fill="#88b7dd"/>
<rect x="438.28" y="488.33" width="22.31" height="2.02" fill="#7eb2db"/>
<rect x="460.29" y="488.33" width="22.31" height="2.02" fill="#8ebbde"/>
<rect x="284.20" y="490.05" width="22.31" height="2.02" fill="#93bedf"/>
<rect x="306.21" y="490.05" width="22.31" height="2.02" fill="#bcd3e3"/>
<rect x="328.22" y="490.05" width="22.31" height="2.02" fill="#bfd4e3"/>
<rect x="350.23" y="490.05" width="22.31" height="2.02" fill="#e4d8d4"/>
<rect x="372.24" y="490.05" width="22.31" height="2.02" fill="#f1c6b5"/>
<rect x="394.26" y="490.05" width="22.31" height="2.02" fill="#ea9680"/>
<rect x="416.27" y="490.05" width="22.31" height="2.02" fill="#a5c9e3"/>
<rect x="438.28" y="490.05" width="22.31" height="2.02" fill="#66a1d3"/>
<rect x="460.29" y="490.05" width="22.31" height="2.02" fill="#629fd2"/>
<rect x="284.20" y="491.77" width="22.31" height="2.02" fill="#9dc4e1"/>
<rect x="306.21" y="491.77" width="22.31" height="2.02" fill="#bbd3e3"/>
<rect x="328.22" y="491.77" width="22.31" height="2.02" fill="#dde0e2"/>
<rect x="350.23" y="491.77" width="22.31" height="2.02" fill="#f2c3b1"/>
<rect x="372.24" y="491.77" width="22.31" height="2.02" fill="#efc8b9"/>
<rect x="394.26" y="491.77" width="22.31" height="2.02" fill="#e37f6d"/>
<rect x="416.27" y="491.77" width="22.31" height="2.02" fill="#8bb9dd"/>
<rect x="438.28" y="491.77" width="22.31" height="2.02" fill="#7cb0da"/>
<rect x="460.29" y="491.77" width="22.31" height="2.02" fill="#71aad8"/>
<rect x="284.20" y="493.49" width="22.31" height="2.02" fill="#76add9"/>
<rect x="306.21" y="493.49" width="22.31" height="2.02" fill="#dadfe2"/>
<rect x="328.22" y="493.49" width="22.31" height="2.02" fill="#e0dede"/>
<rect x="350.23" y="493.49" width="22.31" height="2.02" fill="#e9d1c8"/>
<rect x="372.24" y="493.49" width="22.31" height="2.02" fill="#eb9e8a"/>
<rect x="394.26" y="493.49" width="22.31" height="2.02" fill="#dd6f62"/>
<rect x="416.27" y="493.49" width="22.31" height="2.02" fill="#83b5dc"/>
<rect x="438.28" y="493.49" width="22.31" height="2.02" fill="#6ea8d7"/>
<rect x="460.29" y="493.49" width="22.31" height="2.02" fill="#76add9"/>
<rect x="284.20" y="495.21" width="22.31" height="2.02" fill="#8bb9dd"/>
<rect x="306.21" y="495.21" width="22.31" height="2.02" fill="#aacce4"/>
<rect x="328.22" y="495.21" width="22.31" height="2.02" fill="#e2dbd9"/>
<rect x="350.23" y="495.21" width="22.31" height="2.02" fill="#e8d2ca"/>
<rect x="372.24" y="495.21" width="22.31" height="2.02" fill="#eec9bb"/>
<rect x="394.26" y="495.21" width="22.31" height="2.02" fill="#b9343b"/>
<rect x="416.27" y="495.21" width="22.31" height="2.02" fill="#84b5dc"/>
<rect x="438.28" y="495.21" width="22.31" height="2.02" fill="#639fd2"/>
<rect x="460.29" y="495.21" width="22.31" height="2.02" fill="#639fd2"/>
<rect x="284.20" y="496.93" width="22.31" height="2.02" fill="#abcce4"/>
<rect x="306.21" y="496.93" width="22.31" height="2.02" fill="#d3dce2"/>
<rect x="328.22" y="496.93" width="22.31" height="2.02" fill="#d6dde2"/>
<rect x="350.23" y="496.93" width="22.31" height="2.02" fill="#dfdedf"/>
<rect x="372.24" y="496.93" width="22.31" height="2.02" fill="#e8d1c9"/>
<rect x="394.26" y="496.93" width="22.31" height="2.02" fill="#b9343b"/>
<rect x="416.27" y="496.93" width="22.31" height="2.02" fill="#b4d0e4"/>
<rect x="438.28" y="496.93" width="22.31" height="2.02" fill="#67a3d4"/>
<rect x="460.29" y="496.93" width="22.31" height="2.02" fill="#6fa9d7"/>
<rect x="284.20" y="498.65" width="22.31" height="2.02" fill="#a9cbe4"/>
<rect x="306.21" y="498.65" width="22.31" height="2.02" fill="#93bedf"/>
<rect x="328.22" y="498.65" width="22.31" height="2.02" fill="#d8dee2"/>
<rect x="350.23" y="498.65" width="22.31" height="2.02" fill="#d6dde2"/>
<rect x="372.24" y="498.65" width="22.31" height="2.02" fill="#cedae3"/>
<rect x="394.26" y="498.65" width="22.31" height="2.02" fill="#da685e"/>
<rect x="416.27" y="498.65" width="22.31" height="2.02" fill="#68a3d4"/>
<rect x="438.28" y="498.65" width="22.31" height="2.02" fill="#76add9"/>
<rect x="460.29" y="498.65" width="22.31" height="2.02" fill="#70a9d8"/>
<rect x="284.20" y="500.37" width="22.31" height="2.02" fill="#8cbade"/>
<rect x="306.21" y="500.37" width="22.31" height="2.02" fill="#b1cfe4"/>
<rect x="328.22" y="500.37" width="22.31" height="2.02" fill="#dee0e2"/>
<rect x="350.23" y="500.37" width="22.31" height="2.02" fill="#ecccc0"/>
<rect x="372.24" y="500.37" width="22.31" height="2.02" fill="#efb4a1"/>
<rect x="394.26" y="500.37" width="22.31" height="2.02" fill="#b9343b"/>
<rect x="416.27" y="500.37" width="22.31" height="2.02" fill="#639fd2"/>
<rect x="438.28" y="500.37" width="22.31" height="2.02" fill="#6ca7d6"/>
<rect x="460.29" y="500.37" width="22.31" height="2.02" fill="#5d9ad0"/>
<rect x="284.20" y="502.09" width="22.31" height="2.02" fill="#79afd9"/>
<rect x="306.21" y="502.09" width="22.31" height="2.02" fill="#d1dbe2"/>
<rect x="328.22" y="502.09" width="22.31" height="2.02" fill="#cedae3"/>
<rect x="350.23" y="502.09" width="22.31" height="2.02" fill="#dfdedf"/>
<rect x="372.24" y="502.09" width="22.31" height="2.02" fill="#f1c0ae"/>
<rect x="394.26" y="502.09" width="22.31" height="2.02" fill="#b9343b"/>
<rect x="416.27" y="502.09" width="22.31" height="2.02" fill="#85b6dc"/>
<rect x="438.28" y="502.09" width="22.31" height="2.02" fill="#83b5dc"/>
<rect x="460.29" y="502.09" width="22.31" height="2.02" fill="#629ed2"/>
<rect x="284.20" y="503.81" width="22.31" height="2.02" fill="#9dc4e1"/>
<rect x="306.21" y="503.81" width="22.31" height="2.02" fill="#92bedf"/>
<rect x="328.22" y="503.81" width="22.31" height="2.02" fill="#c6d7e3"/>
<rect x="350.23" y="503.81" width="22.31" height="2.02" fill="#eccdc1"/>
<rect x="372.24" y="503.81" width="22.31" height="2.02" fill="#dfdfe0"/>
<rect x="394.26" y="503.81" width="22.31" height="2.02" fill="#b9343b"/>
<rect x="416.27" y="503.81" width="22.31" height="2.02" fill="#70a9d7"/>
<rect x="438.28" y="503.81" width="22.31" height="2.02" fill="#7bb0da"/>
<rect x="460.29" y="503.81" width="22.31" height="2.02" fill="#6ea8d7"/>
<rect x="284.20" y="505.53" width="22.31" height="2.02" fill="#73abd8"/>
<rect x="306.21" y="505.53" width="22.31" height="2.02" fill="#d4dce2"/>
<rect x="328.22" y="505.53" width="22.31" height="2.02" fill="#d2dbe2"/>
<rect x="350.23" y="505.53" width="22.31" height="2.02" fill="#f1c1af"/>
<rect x="372.24" y="505.53" width="22.31" height="2.02" fill="#e8d3cb"/>
<rect x="394.26" y="505.53" width="22.31" height="2.02" fill="#ca4445"/>
<rect x="416.27" y="505.53" width="22.31" height="2.02" fill="#b8d2e3"/>
<rect x="438.28" y="505.53" width="22.31" height="2.02" fill="#74acd8"/>
<rect x="460.29" y="505.53" width="22.31" height="2.02" fill="#71aad8"/>
<rect x="284.20" y="507.25" width="22.31" height="2.02" fill="#8fbcde"/>
<rect x="306.21" y="507.25" width="22.31" height="2.02" fill="#c0d4e3"/>
<rect x="328.22" y="507.25" width="22.31" height="2.02" fill="#cbd9e3"/>
<rect x="350.23" y="507.25" width="22.31" height="2.02" fill="#ead0c6"/>
<rect x="372.24" y="507.25" width="22.31" height="2.02" fill="#f1c5b4"/>
<rect x="394.26" y="507.25" width="22.31" height="2.02" fill="#d65d56"/>
<rect x="416.27" y="507.25" width="22.31" height="2.02" fill="#8dbade"/>
<rect x="438.28" y="507.25" width="22.31" height="2.02" fill="#6ba6d6"/>
<rect x="460.29" y="507.25" width="22.31" height="2.02" fill="#a8cbe4"/>
<rect x="284.20" y="508.97" width="22.31" height="2.02" fill="#9dc4e1"/>
<rect x="306.21" y="508.97" width="22.31" height="2.02" fill="#b1cfe4"/>
<rect x="328.22" y="508.97" width="22.31" height="2.02" fill="#d1dbe2"/>
<rect x="350.23" y="508.97" width="22.31" height="2.02" fill="#dadee2"/>
<rect x="372.24" y="508.97" width="22.31" height="2.02" fill="#f1c0ae"/>
<rect x="394.26" y="508.97" width="22.31" height="2.02" fill="#db6b60"/>
<rect x="416.27" y="508.97" width="22.31" height="2.02" fill="#74acd8"/>
<rect x="438.28" y="508.97" width="22.31" height="2.02" fill="#84b5dc"/>
<rect x="460.29" y="508.97" width="22.31" height="2.02" fill="#5896ce"/>
<rect x="284.20" y="510.68" width="22.31" height="2.02" fill="#c0d4e3"/>
<rect x="306.21" y="510.68" width="22.31" height="2.02" fill="#bfd4e3"/>
<rect x="328.22" y="510.68" width="22.31" height="2.02" fill="#e4d7d3"/>
<rect x="350.23" y="510.68" width="22.31" height="2.02" fill="#d3dce2"/>
<rect x="372.24" y="510.68" width="22.31" height="2.02" fill="#e4d8d4"/>
<rect x="394.26" y="510.68" width="22.31" height="2.02" fill="#c74043"/>
<rect x="416.27" y="510.68" width="22.31" height="2.02" fill="#78aed9"/>
<rect x="438.28" y="510.68" width="22.31" height="2.02" fill="#a1c6e2"/>
<rect x="460.29" y="510.68" width="22.31" height="2.02" fill="#6ea8d7"/>
<rect x="284.20" y="512.40" width="22.31" height="2.02" fill="#97c1e0"/>
<rect x="306.21" y="512.40" width="22.31" height="2.02" fill="#bfd4e3"/>
<rect x="328.22" y="512.40" width="22.31" height="2.02" fill="#e0dddd"/>
<rect x="350.23" y="512.40" width="22.31" height="2.02" fill="#eacfc5"/>
<rect x="372.24" y="512.40" width="22.31" height="2.02" fill="#e6d4ce"/>
<rect x="394.26" y="512.40" width="22.31" height="2.02" fill="#d35651"/>
<rect x="416.27" y="512.40" width="22.31" height="2.02" fill="#9ac3e1"/>
<rect x="438.28" y="512.40" width="22.31" height="2.02" fill="#76add9"/>
<rect x="460.29" y="512.40" width="22.31" height="2.02" fill="#6aa5d5"/>
<rect x="284.20" y="514.12" width="22.31" height="2.02" fill="#bbd3e3"/>
<rect x="306.21" y="514.12" width="22.31" height="2.02" fill="#b3d0e4"/>
<rect x="328.22" y="514.12" width="22.31" height="2.02" fill="#b7d1e4"/>
<rect x="350.23" y="514.12" width="22.31" height="2.02" fill="#e8d2ca"/>
<rect x="372.24" y="514.12" width="22.31" height="2.02" fill="#e1dcdb"/>
<rect x="394.26" y="514.12" width="22.31" height="2.02" fill="#da675d"/>
<rect x="416.27" y="514.12" width="22.31" height="2.02" fill="#9ec5e1"/>
<rect x="438.28" y="514.12" width="22.31" height="2.02" fill="#74acd8"/>
<rect x="460.29" y="514.12" width="22.31" height="2.02" fill="#6ca6d6"/>
<rect x="284.20" y="515.84" width="22.31" height="2.02" fill="#c0d5e3"/>
<rect x="306.21" y="515.84" width="22.31" height="2.02" fill="#c9d8e3"/>
<rect x="328.22" y="515.84" width="22.31" height="2.02" fill="#d4dce2"/>
<rect x="350.23" y="515.84" width="22.31" height="2.02" fill="#e7d4cd"/>
<rect x="372.24" y="515.84" width="22.31" height="2.02" fill="#efc8ba"/>
<rect x="394.26" y="515.84" width="22.31" height="2.02" fill="#d45953"/>
<rect x="416.27" y="515.84" width="22.31" height="2.02" fill="#b0cee4"/>
<rect x="438.28" y="515.84" width="22.31" height="2.02" fill="#91bddf"/>
<rect x="460.29" y="515.84" width="22.31" height="2.02" fill="#67a2d4"/>
<rect x="284.20" y="517.56" width="22.31" height="2.02" fill="#aecee4"/>
<rect x="306.21" y="517.56" width="22.31" height="2.02" fill="#cbd9e3"/>
<rect x="328.22" y="517.56" width="22.31" height="2.02" fill="#cfdae3"/>
<rect x="350.23" y="517.56" width="22.31" height="2.02" fill="#eecabc"/>
<rect x="372.24" y="517.56" width="22.31" height="2.02" fill="#f2c4b2"/>
<rect x="394.26" y="517.56" width="22.31" height="2.02" fill="#e4816e"/>
<rect x="416.27" y="517.56" width="22.31" height="2.02" fill="#94bfdf"/>
<rect x="438.28" y="517.56" width="22.31" height="2.02" fill="#81b3db"/>
<rect x="460.29" y="517.56" width="22.31" height="2.02" fill="#74abd8"/>
<rect x="284.20" y="519.28" width="22.31" height="2.02" fill="#8cbade"/>
<rect x="306.21" y="519.28" width="22.31" height="2.02" fill="#b3cfe4"/>
<rect x="328.22" y="519.28" width="22.31" height="2.02" fill="#cbd9e3"/>
<rect x="350.23" y="519.28" width="22.31" height="2.02" fill="#eeac99"/>
<rect x="372.24" y="519.28" width="22.31" height="2.02" fill="#e0ddde"/>
<rect x="394.26" y="519.28" width="22.31" height="2.02" fill="#be393e"/>
<rect x="416.27" y="519.28" width="22.31" height="2.02" fill="#aacce4"/>
<rect x="438.28" y="519.28" width="22.31" height="2.02" fill="#74acd8"/>
<rect x="460.29" y="519.28" width="22.31" height="2.02" fill="#9dc4e1"/>
<rect x="284.20" y="521.00" width="22.31" height="2.03" fill="#dadfe2"/>
<rect x="306.21" y="521.00" width="22.31" height="2.03" fill="#96c0e0"/>
<rect x="328.22" y="521.00" width="22.31" height="2.03" fill="#87b7dc"/>
<rect x="350.23" y="521.00" width="22.31" height="2.03" fill="#99c2e0"/>
<rect x="372.24" y="521.00" width="22.31" height="2.03" fill="#a6c9e3"/>
<rect x="394.26" y="521.00" width="22.31" height="2.03" fill="#65a1d3"/>
<rect x="416.27" y="521.00" width="22.31" height="2.03" fill="#ccd9e3"/>
<rect x="438.28" y="521.00" width="22.31" height="2.03" fill="#e27c6b"/>
<rect x="460.29" y="521.00" width="22.31" height="2.03" fill="#d55c55"/>
<rect x="284.20" y="522.73" width="22.31" height="2.03" fill="#d0dbe3"/>
<rect x="306.21" y="522.73" width="22.31" height="2.03" fill="#8ab9dd"/>
<rect x="328.22" y="522.73" width="22.31" height="2.03" fill="#68a3d4"/>
<rect x="350.23" y="522.73" width="22.31" height="2.03" fill="#78aed9"/>
<rect x="372.24" y="522.73" width="22.31" height="2.03" fill="#a1c7e2"/>
<rect x="394.26" y="522.73" width="22.31" height="2.03" fill="#6ca6d6"/>
<rect x="416.27" y="522.73" width="22.31" height="2.03" fill="#eca18c"/>
<rect x="438.28" y="522.73" width="22.31" height="2.03" fill="#efb29e"/>
<rect x="460.29" y="522.73" width="22.31" height="2.03" fill="#f1c5b3"/>
<rect x="284.20" y="524.47" width="22.31" height="2.03" fill="#e7d3cc"/>
<rect x="306.21" y="524.47" width="22.31" height="2.03" fill="#aecde4"/>
<rect x="328.22" y="524.47" width="22.31" height="2.03" fill="#93bedf"/>
<rect x="350.23" y="524.47" width="22.31" height="2.03" fill="#a8cbe4"/>
<rect x="372.24" y="524.47" width="22.31" height="2.03" fill="#7fb2db"/>
<rect x="394.26" y="524.47" width="22.31" height="2.03" fill="#c9d8e3"/>
<rect x="416.27" y="524.47" width="22.31" height="2.03" fill="#dedfe1"/>
<rect x="438.28" y="524.47" width="22.31" height="2.03" fill="#f0bba8"/>
<rect x="460.29" y="524.47" width="22.31" height="2.03" fill="#e3806e"/>
<rect x="284.20" y="526.20" width="22.31" height="2.03" fill="#efc8b8"/>
<rect x="306.21" y="526.20" width="22.31" height="2.03" fill="#b5d0e4"/>
<rect x="328.22" y="526.20" width="22.31" height="2.03" fill="#7bb0da"/>
<rect x="350.23" y="526.20" width="22.31" height="2.03" fill="#afcee4"/>
<rect x="372.24" y="526.20" width="22.31" height="2.03" fill="#89b8dd"/>
<rect x="394.26" y="526.20" width="22.31" height="2.03" fill="#7aafda"/>
<rect x="416.27" y="526.20" width="22.31" height="2.03" fill="#dbdfe2"/>
<rect x="438.28" y="526.20" width="22.31" height="2.03" fill="#dc6d61"/>
<rect x="460.29" y="526.20" width="22.31" height="2.03" fill="#d86159"/>
<rect x="284.20" y="527.93" width="22.31" height="2.03" fill="#d3dce2"/>
<rect x="306.21" y="527.93" width="22.31" height="2.03" fill="#a4c8e3"/>
<rect x="328.22" y="527.93" width="22.31" height="2.03" fill="#aecde4"/>
<rect x="350.23" y="527.93" width="22.31" height="2.03" fill="#70a9d7"/>
<rect x="372.24" y="527.93" width="22.31" height="2.03" fill="#aacce4"/>
<rect x="394.26" y="527.93" width="22.31" height="2.03" fill="#5997ce"/>
<rect x="416.27" y="527.93" width="22.31" height="2.03" fill="#f2c4b3"/>
<rect x="438.28" y="527.93" width="22.31" height="2.03" fill="#f1c6b5"/>
<rect x="460.29" y="527.93" width="22.31" height="2.03" fill="#d8635a"/>
<rect x="284.20" y="529.67" width="22.31" height="2.03" fill="#dddfe2"/>
<rect x="306.21" y="529.67" width="22.31" height="2.03" fill="#dadee2"/>
<rect x="328.22" y="529.67" width="22.31" height="2.03" fill="#8cbadd"/>
<rect x="350.23" y="529.67" width="22.31" height="2.03" fill="#84b5dc"/>
<rect x="372.24" y="529.67" width="22.31" height="2.03" fill="#8ebbde"/>
<rect x="394.26" y="529.67" width="22.31" height="2.03" fill="#66a2d4"/>
<rect x="416.27" y="529.67" width="22.31" height="2.03" fill="#adcde4"/>
<rect x="438.28" y="529.67" width="22.31" height="2.03" fill="#edcbbe"/>
<rect x="460.29" y="529.67" width="22.31" height="2.03" fill="#e9907a"/>
<line x1="284.20" y1="376.50" x2="482.30" y2="376.50" stroke="#2a3a4a" stroke-width="1.0"/>
<line x1="284.20" y1="434.00" x2="482.30" y2="434.00" stroke="#2a3a4a" stroke-width="1.0"/>
<line x1="284.20" y1="476.30" x2="482.30" y2="476.30" stroke="#2a3a4a" stroke-width="1.0"/>
<line x1="284.20" y1="521.00" x2="482.30" y2="521.00" stroke="#2a3a4a" stroke-width="1.0"/>
<line x1="281.00" y1="340.70" x2="281.00" y2="530.50" stroke="#444" stroke-width="1.6"/>
<text x="0" y="3.24" font-size="9" text-anchor="middle" fill="#2b2b2b" textLength="93.00" lengthAdjust="spacingAndGlyphs" transform="translate(273.80 435.50) rotate(-90)">LSD1i-induced ATAC sites</text>
<line x1="485.50" y1="339.00" x2="485.50" y2="376.20" stroke="#222" stroke-width="1.2"/>
<line x1="485.50" y1="377.90" x2="485.50" y2="530.60" stroke="#222" stroke-width="1.2"/>
<text x="0" y="3.24" font-size="9" text-anchor="middle" fill="#2b2b2b" textLength="35.80" lengthAdjust="spacingAndGlyphs" transform="translate(493.20 357.40) rotate(90)">Stem cells</text>
<text x="0" y="3.24" font-size="9" text-anchor="middle" fill="#2b2b2b" textLength="83.30" lengthAdjust="spacingAndGlyphs" transform="translate(492.80 454.00) rotate(90)">Myeloid differentiation</text>
<text x="295.21" y="542.66" font-size="8.5" text-anchor="middle" textLength="16.10" lengthAdjust="spacingAndGlyphs">HSC</text>
<text x="317.22" y="542.66" font-size="8.5" text-anchor="middle" textLength="18.50" lengthAdjust="spacingAndGlyphs">CMP</text>
<text x="339.23" y="542.66" font-size="8.5" text-anchor="middle" textLength="19.00" lengthAdjust="spacingAndGlyphs">GMP</text>
<text x="361.24" y="542.66" font-size="8.5" text-anchor="middle" textLength="21.00" lengthAdjust="spacingAndGlyphs">Mono</text>
<text x="383.25" y="542.66" font-size="8.5" text-anchor="middle" textLength="11.50" lengthAdjust="spacingAndGlyphs">MF</text>
<text x="405.26" y="542.66" font-size="8.5" text-anchor="middle" textLength="11.50" lengthAdjust="spacingAndGlyphs">GN</text>
<text x="427.27" y="542.66" font-size="8.5" text-anchor="middle" textLength="18.50" lengthAdjust="spacingAndGlyphs">MEP</text>
<text x="449.28" y="542.66" font-size="8.5" text-anchor="middle" textLength="19.00" lengthAdjust="spacingAndGlyphs">EryA</text>
<text x="471.29" y="542.66" font-size="8.5" text-anchor="middle" textLength="18.50" lengthAdjust="spacingAndGlyphs">EryB</text>
<defs><linearGradient id="cb" x1="0" x2="1" y1="0" y2="0"><stop offset="0.000" stop-color="rgb(25, 70, 140)"/><stop offset="0.125" stop-color="rgb(75, 140, 200)"/><stop offset="0.250" stop-color="rgb(110, 168, 215)"/><stop offset="0.375" stop-color="rgb(170, 204, 228)"/><stop offset="0.500" stop-color="rgb(222, 224, 226)"/><stop offset="0.625" stop-color="rgb(242, 196, 178)"/><stop offset="0.750" stop-color="rgb(232, 140, 118)"/><stop offset="0.875" stop-color="rgb(205, 70, 70)"/><stop offset="1.000" stop-color="rgb(150, 20, 40)"/></linearGradient></defs>
<rect x="364.9" y="547.3" width="57.4" height="3.6" fill="url(#cb)"/>
<text x="367.70" y="561.26" font-size="8.5" text-anchor="middle" fill="#3a3a3a" style="stroke:none">-2</text>
<text x="379.20" y="561.26" font-size="8.5" text-anchor="middle" fill="#3a3a3a" style="stroke:none">-1</text>
<text x="391.50" y="561.26" font-size="8.5" text-anchor="middle" fill="#3a3a3a" style="stroke:none">0</text>
<text x="403.80" y="561.26" font-size="8.5" text-anchor="middle" fill="#3a3a3a" style="stroke:none">1</text>
<text x="415.40" y="561.26" font-size="8.5" text-anchor="middle" fill="#3a3a3a" style="stroke:none">2</text>
<text x="338.80" y="574.04" font-size="10.4" fill="#2a2a2a" textLength="108.90" lengthAdjust="spacingAndGlyphs" font-weight="bold" style="stroke:none">Row-normalized H3K27ac signal</text>
<rect x="0.75" y="0.75" width="518.5" height="581.5" fill="none" stroke="#000" stroke-width="1.5"/>
</svg></body></html>
